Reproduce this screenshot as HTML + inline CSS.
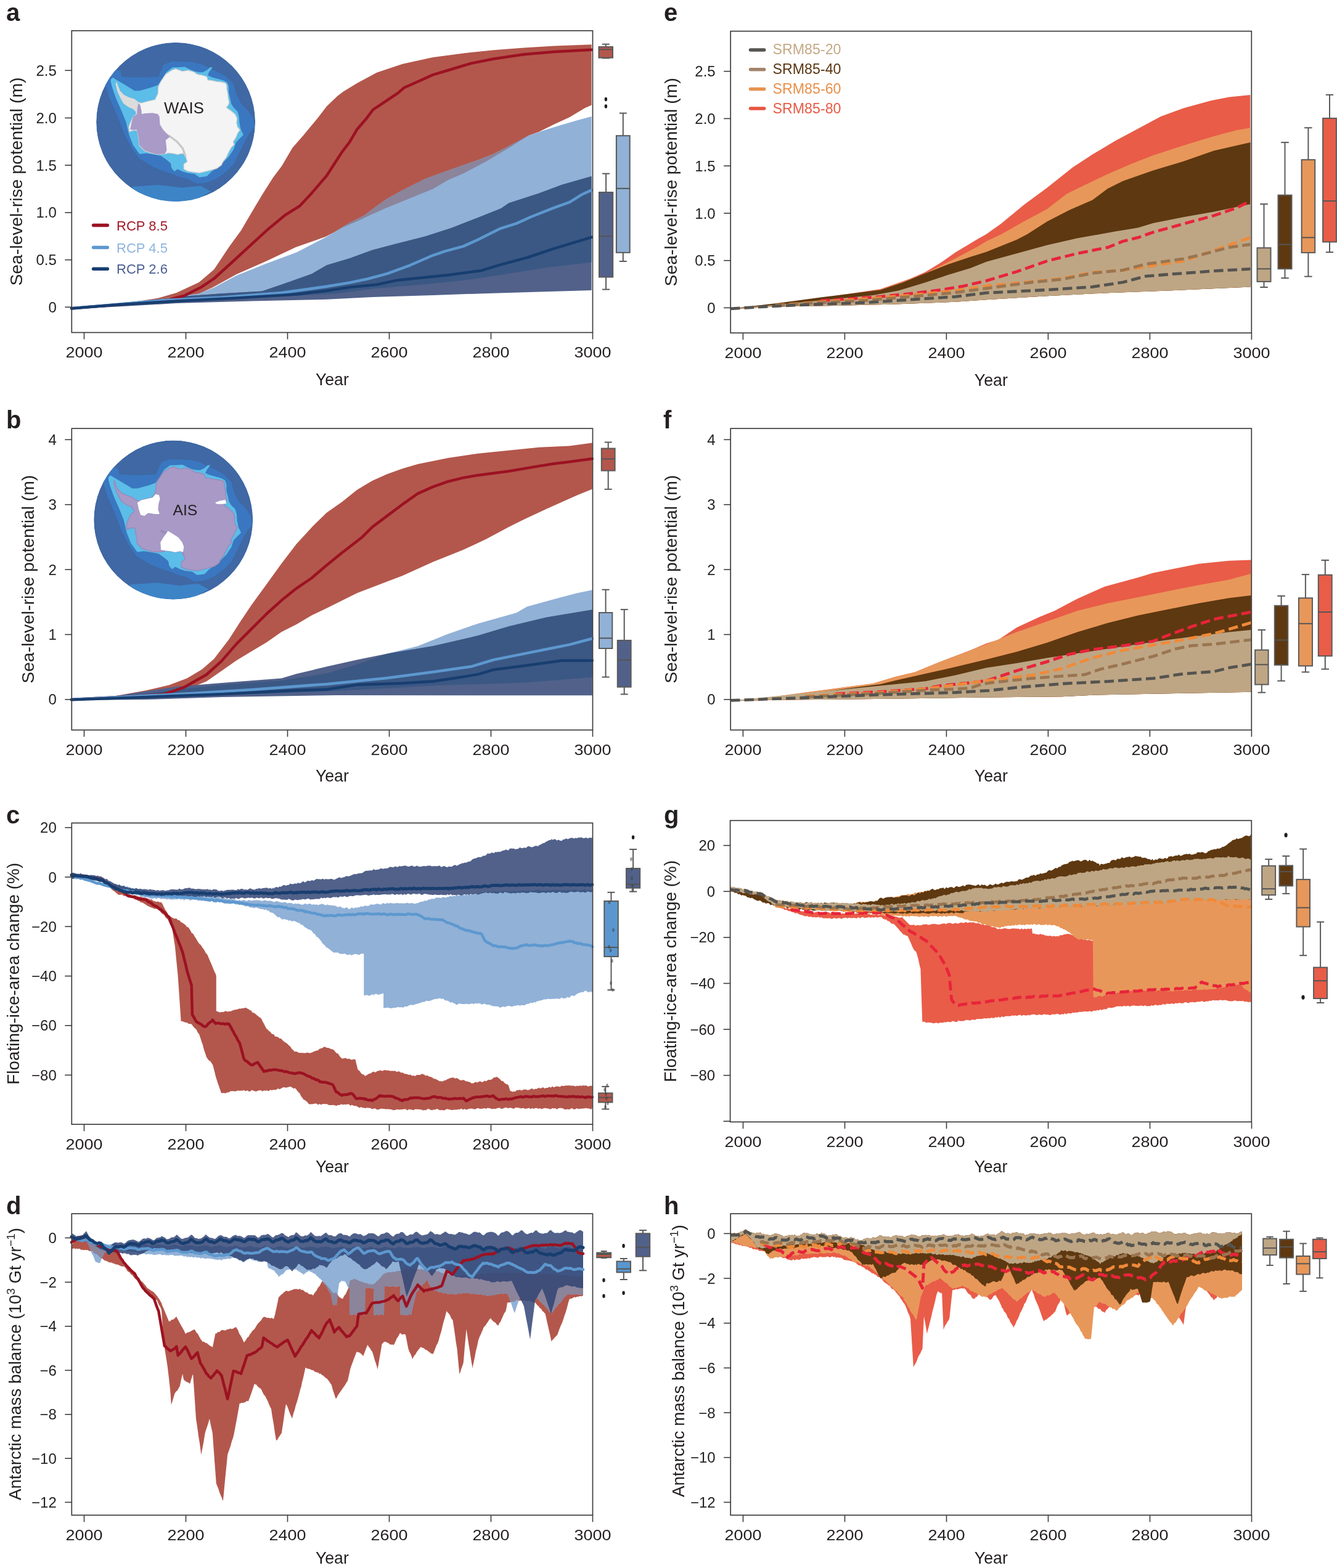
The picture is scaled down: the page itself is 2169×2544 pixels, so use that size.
<!DOCTYPE html><html><head><meta charset="utf-8"><title>Sea-level-rise potential figure</title>
<style>html,body{margin:0;padding:0;background:#fff;}svg{display:block;} text{font-family:'Liberation Sans', Arial, sans-serif;}</style></head><body>
<svg xmlns="http://www.w3.org/2000/svg" width="2169" height="2544" viewBox="0 0 2169 2544">
<rect width="2169" height="2544" fill="#fff"/>
<polygon points="116,500.3 176.8,495.8 218.2,489.7 257.2,483.6 286.4,475.1 322.9,458 347.2,437.3 371.5,400.8 391,374.1 408,345 425.6,315.5 442.7,288.6 457.3,269.1 474.3,239.9 491.4,220.4 515.8,191.1 530,172.5 547.2,155.9 557.1,148.5 579.2,134.9 611.2,117.7 653.1,103.7 702.3,93.1 751.6,86.4 800.8,81.3 850,77.6 899.3,74.6 959.6,72.2 959.6,170.6 948.5,175.6 923.9,190.3 899.3,201.4 874.7,213.7 857.4,219.9 825.4,240 788.5,262 751.6,281.4 727,292 702.3,306.5 677.7,316.5 653.1,326.5 628.5,336.5 603.9,347.5 579.2,359 554.6,369.5 541.8,377 528.3,384 480,401 432.4,423.5 383.7,445 344.8,466.4 322.9,476.6 286.4,481.8 200,494.5 116,500.6" fill="#b3574c" />
<polygon points="116,500.3 200,494 286.4,481.2 322.9,476.3 347.2,466.6 383.7,447.1 432.4,427.6 481,409.5 528.3,385 541.8,377 566.9,361.4 591.5,349.1 611.2,334.3 628.5,322 653.1,308.5 690,290 727,276.5 776.2,259.3 800.8,249.4 825.4,237.1 857.4,219.9 887,210 911.6,202.6 936.2,195.2 959.6,189.1 959.6,425.4 887,434 825.4,443.9 751.6,455 677.7,462.3 603.9,468.5 546,476.3 359.4,486 250,493 116,500.8" fill="#91b1d7" />
<clipPath id="c1"><polygon points="116,500.3 176.8,495.8 218.2,489.7 257.2,483.6 286.4,475.1 322.9,458 347.2,437.3 371.5,400.8 391,374.1 408,345 425.6,315.5 442.7,288.6 457.3,269.1 474.3,239.9 491.4,220.4 515.8,191.1 530,172.5 547.2,155.9 557.1,148.5 579.2,134.9 611.2,117.7 653.1,103.7 702.3,93.1 751.6,86.4 800.8,81.3 850,77.6 899.3,74.6 959.6,72.2 959.6,170.6 948.5,175.6 923.9,190.3 899.3,201.4 874.7,213.7 857.4,219.9 825.4,240 788.5,262 751.6,281.4 727,292 702.3,306.5 677.7,316.5 653.1,326.5 628.5,336.5 603.9,347.5 579.2,359 554.6,369.5 541.8,377 528.3,384 480,401 432.4,423.5 383.7,445 344.8,466.4 322.9,476.6 286.4,481.8 200,494.5 116,500.6"/></clipPath>
<polygon points="116,500.3 200,494 286.4,481.2 322.9,476.3 347.2,466.6 383.7,447.1 432.4,427.6 481,409.5 528.3,385 541.8,377 566.9,361.4 591.5,349.1 611.2,334.3 628.5,322 653.1,308.5 690,290 727,276.5 776.2,259.3 800.8,249.4 825.4,237.1 857.4,219.9 887,210 911.6,202.6 936.2,195.2 959.6,189.1 959.6,425.4 887,434 825.4,443.9 751.6,455 677.7,462.3 603.9,468.5 546,476.3 359.4,486 250,493 116,500.8" fill="#8b849b" clip-path="url(#c1)"/>
<polygon points="116,500.3 200,494.5 298.5,480.7 359.4,476.3 425.1,472.6 456.7,461.7 505.4,444.6 530,430.3 566.9,419.2 603.9,405.7 640.8,395.9 690,383.5 731.9,370 776.2,352.8 813.1,338 825.4,329.4 874.7,313.4 911.6,299.8 959.6,286 959.6,471 874.7,473.4 776.2,476.4 702.3,479.1 603.9,482 530,485.7 408,488.5 286.4,492.1 200,497 116,501.5" fill="#51618a" />
<clipPath id="c2"><polygon points="116,500.3 200,494 286.4,481.2 322.9,476.3 347.2,466.6 383.7,447.1 432.4,427.6 481,409.5 528.3,385 541.8,377 566.9,361.4 591.5,349.1 611.2,334.3 628.5,322 653.1,308.5 690,290 727,276.5 776.2,259.3 800.8,249.4 825.4,237.1 857.4,219.9 887,210 911.6,202.6 936.2,195.2 959.6,189.1 959.6,425.4 887,434 825.4,443.9 751.6,455 677.7,462.3 603.9,468.5 546,476.3 359.4,486 250,493 116,500.8"/></clipPath>
<polygon points="116,500.3 200,494.5 298.5,480.7 359.4,476.3 425.1,472.6 456.7,461.7 505.4,444.6 530,430.3 566.9,419.2 603.9,405.7 640.8,395.9 690,383.5 731.9,370 776.2,352.8 813.1,338 825.4,329.4 874.7,313.4 911.6,299.8 959.6,286 959.6,471 874.7,473.4 776.2,476.4 702.3,479.1 603.9,482 530,485.7 408,488.5 286.4,492.1 200,497 116,501.5" fill="#3b5884" clip-path="url(#c2)"/>
<polyline points="116,500.3 200,493.5 250,488.5 274.2,486 298.5,480 325.3,466.6 347.2,452 371.5,430 403.2,400.8 432.4,374.1 461.6,349.7 486.5,334 506,313 530,285 554.6,246.9 566.9,230.9 579.2,210 594,192.8 605.1,178 616.2,170.6 645.7,150.9 655.6,142.3 677.7,132.5 702.3,121.4 727,114 763.9,102.9 800.8,95.5 850,88.2 899.3,84 959.6,80.8" fill="none" stroke="#9c1222" stroke-width="4.5" stroke-linejoin="round" stroke-linecap="round" />
<polyline points="116,500.3 200,493 262,487.2 359.4,482.4 456.7,475.1 530,464.8 566.9,458.6 596.5,452.5 628.5,443.9 665.4,430.3 702.3,414.3 722,407.7 751.6,399.6 776.2,388.5 810.6,371.2 837.7,362.6 862.3,351.5 899.3,336.8 923.9,328.2 943.6,315.8 959.6,308.5" fill="none" stroke="#5d98cf" stroke-width="4.5" stroke-linejoin="round" stroke-linecap="round" />
<polyline points="116,500.6 189,494.5 286.4,488.5 383.7,483.6 481,477.5 530,471.7 566.9,466 611.2,461.8 645.7,454.4 677.7,451.2 727,446.3 781.1,438.9 813.1,429.1 855,418 899.3,403.2 959.6,384.8" fill="none" stroke="#183e70" stroke-width="4.5" stroke-linejoin="round" stroke-linecap="round" />
<line x1="982.8" y1="71.7" x2="982.8" y2="94.4" stroke="#5a5a5a" stroke-width="2"/>
<line x1="976.8" y1="71.7" x2="988.8" y2="71.7" stroke="#5a5a5a" stroke-width="2"/>
<line x1="976.8" y1="94.4" x2="988.8" y2="94.4" stroke="#5a5a5a" stroke-width="2"/>
<rect x="971.5" y="76" width="22.5" height="17.7" fill="#b3574c" stroke="#5a5a5a" stroke-width="2"/>
<line x1="971.5" y1="80.3" x2="994" y2="80.3" stroke="#555555" stroke-width="2"/>
<ellipse cx="982.9" cy="161.1" rx="2.2" ry="3.3" fill="#1e1e1e"/>
<ellipse cx="982.9" cy="172.5" rx="2.2" ry="3.3" fill="#1e1e1e"/>
<line x1="983.1" y1="281.7" x2="983.1" y2="469.6" stroke="#5a5a5a" stroke-width="2"/>
<line x1="977.1" y1="281.7" x2="989.1" y2="281.7" stroke="#5a5a5a" stroke-width="2"/>
<line x1="977.1" y1="469.6" x2="989.1" y2="469.6" stroke="#5a5a5a" stroke-width="2"/>
<rect x="972" y="312" width="22.2" height="137.5" fill="#51618a" stroke="#5a5a5a" stroke-width="2"/>
<line x1="972" y1="383.3" x2="994.2" y2="383.3" stroke="#555555" stroke-width="2"/>
<line x1="1010.8" y1="183.6" x2="1010.8" y2="424" stroke="#5a5a5a" stroke-width="2"/>
<line x1="1004.8" y1="183.6" x2="1016.8" y2="183.6" stroke="#5a5a5a" stroke-width="2"/>
<line x1="1004.8" y1="424" x2="1016.8" y2="424" stroke="#5a5a5a" stroke-width="2"/>
<rect x="999.9" y="220.2" width="21.8" height="189.6" fill="#91b1d7" stroke="#5a5a5a" stroke-width="2"/>
<line x1="999.9" y1="305.8" x2="1021.7" y2="305.8" stroke="#555555" stroke-width="2"/>
<line x1="151.6" y1="365.5" x2="174.3" y2="365.5" stroke="#9c1222" stroke-width="5.5" stroke-linecap="round"/>
<text x="189" y="373.5" font-size="22.5" fill="#a01a2a" text-anchor="start" font-weight="normal" textLength="83" lengthAdjust="spacingAndGlyphs">RCP 8.5</text>
<line x1="151.6" y1="401.5" x2="174.3" y2="401.5" stroke="#5d98cf" stroke-width="5.5" stroke-linecap="round"/>
<text x="189" y="409.5" font-size="22.5" fill="#8fb4de" text-anchor="start" font-weight="normal" textLength="83" lengthAdjust="spacingAndGlyphs">RCP 4.5</text>
<line x1="151.6" y1="436.3" x2="174.3" y2="436.3" stroke="#183e70" stroke-width="5.5" stroke-linecap="round"/>
<text x="189" y="444.3" font-size="22.5" fill="#4a5e92" text-anchor="start" font-weight="normal" textLength="83" lengthAdjust="spacingAndGlyphs">RCP 2.6</text>
<rect x="116.3" y="49.8" width="845.2" height="489.7" fill="none" stroke="#3c3c3c" stroke-width="1.7"/>
<line x1="105.3" y1="498.3" x2="116.3" y2="498.3" stroke="#3c3c3c" stroke-width="1.6"/>
<text x="91.8" y="506.8" font-size="24" fill="#231f20" text-anchor="end" font-weight="normal" >0</text>
<line x1="105.3" y1="421.6" x2="116.3" y2="421.6" stroke="#3c3c3c" stroke-width="1.6"/>
<text x="91.8" y="430.1" font-size="24" fill="#231f20" text-anchor="end" font-weight="normal" >0.5</text>
<line x1="105.3" y1="344.9" x2="116.3" y2="344.9" stroke="#3c3c3c" stroke-width="1.6"/>
<text x="91.8" y="353.4" font-size="24" fill="#231f20" text-anchor="end" font-weight="normal" >1.0</text>
<line x1="105.3" y1="268.1" x2="116.3" y2="268.1" stroke="#3c3c3c" stroke-width="1.6"/>
<text x="91.8" y="276.6" font-size="24" fill="#231f20" text-anchor="end" font-weight="normal" >1.5</text>
<line x1="105.3" y1="191.4" x2="116.3" y2="191.4" stroke="#3c3c3c" stroke-width="1.6"/>
<text x="91.8" y="199.9" font-size="24" fill="#231f20" text-anchor="end" font-weight="normal" >2.0</text>
<line x1="105.3" y1="114.3" x2="116.3" y2="114.3" stroke="#3c3c3c" stroke-width="1.6"/>
<text x="91.8" y="122.8" font-size="24" fill="#231f20" text-anchor="end" font-weight="normal" >2.5</text>
<line x1="136.5" y1="539.5" x2="136.5" y2="550.5" stroke="#3c3c3c" stroke-width="1.6"/>
<text x="136.5" y="580" font-size="24" fill="#231f20" text-anchor="middle" font-weight="normal" textLength="60" lengthAdjust="spacingAndGlyphs">2000</text>
<line x1="301.5" y1="539.5" x2="301.5" y2="550.5" stroke="#3c3c3c" stroke-width="1.6"/>
<text x="301.5" y="580" font-size="24" fill="#231f20" text-anchor="middle" font-weight="normal" textLength="60" lengthAdjust="spacingAndGlyphs">2200</text>
<line x1="466.5" y1="539.5" x2="466.5" y2="550.5" stroke="#3c3c3c" stroke-width="1.6"/>
<text x="466.5" y="580" font-size="24" fill="#231f20" text-anchor="middle" font-weight="normal" textLength="60" lengthAdjust="spacingAndGlyphs">2400</text>
<line x1="631.5" y1="539.5" x2="631.5" y2="550.5" stroke="#3c3c3c" stroke-width="1.6"/>
<text x="631.5" y="580" font-size="24" fill="#231f20" text-anchor="middle" font-weight="normal" textLength="60" lengthAdjust="spacingAndGlyphs">2600</text>
<line x1="796.5" y1="539.5" x2="796.5" y2="550.5" stroke="#3c3c3c" stroke-width="1.6"/>
<text x="796.5" y="580" font-size="24" fill="#231f20" text-anchor="middle" font-weight="normal" textLength="60" lengthAdjust="spacingAndGlyphs">2800</text>
<line x1="961.5" y1="539.5" x2="961.5" y2="550.5" stroke="#3c3c3c" stroke-width="1.6"/>
<text x="961.5" y="580" font-size="24" fill="#231f20" text-anchor="middle" font-weight="normal" textLength="60" lengthAdjust="spacingAndGlyphs">3000</text>
<text x="538.9" y="625" font-size="27.5" fill="#231f20" text-anchor="middle" font-weight="normal" textLength="54" lengthAdjust="spacingAndGlyphs">Year</text>
<text x="0" y="0" font-size="28" fill="#231f20" text-anchor="middle" transform="translate(35.6,294.6) rotate(-90)" textLength="338" lengthAdjust="spacingAndGlyphs">Sea-level-rise potential (m)</text>
<text x="10" y="33.5" font-size="40" fill="#231f20" text-anchor="start" font-weight="bold" >a</text>
<polygon points="116,1134.9 176.8,1131 237.7,1120.1 274.2,1111.6 303.4,1100.6 327.7,1086 347.2,1069 371.5,1037.3 388.6,1010.6 408,981.4 432.4,948 456.7,914.2 481,882.5 510.2,850.9 530,831.7 554.6,814.5 579.2,794.8 603.9,780 628.5,768.9 653.1,760.3 677.7,752.9 727,743.1 776.2,735.7 825.4,730.8 874.7,725.8 923.9,723.4 960.8,718.5 960.8,793.5 936.2,803.4 911.6,814.5 887,825.6 850,842.8 825.4,855.1 788.5,874.8 751.6,892 702.3,911.7 653.1,933.9 611.2,950.1 579.2,962.2 554.6,974.5 530,986.8 505.4,998.4 481,1013 456.7,1025.2 432.4,1042.2 408,1056.8 383.7,1071.4 359.4,1088.5 335,1105.5 310.7,1115.2 286.4,1122 237.7,1131 116,1135.3" fill="#b3574c" />
<polygon points="116,1134.9 237.7,1125 359.4,1111 456.7,1104 530,1092.6 579.2,1077.9 628.5,1060.6 677.7,1048.3 727,1028.6 776.2,1011.4 837.7,994.2 855,984.3 899.3,972 936.2,962.2 960.8,957.2 960.8,1098.8 899.3,1103.7 850,1107.4 776.2,1109.9 702.3,1112.3 628.5,1116.8 530,1121.7 359.4,1128 237.7,1133 116,1135.2" fill="#91b1d7" />
<clipPath id="c3"><polygon points="116,1134.9 176.8,1131 237.7,1120.1 274.2,1111.6 303.4,1100.6 327.7,1086 347.2,1069 371.5,1037.3 388.6,1010.6 408,981.4 432.4,948 456.7,914.2 481,882.5 510.2,850.9 530,831.7 554.6,814.5 579.2,794.8 603.9,780 628.5,768.9 653.1,760.3 677.7,752.9 727,743.1 776.2,735.7 825.4,730.8 874.7,725.8 923.9,723.4 960.8,718.5 960.8,793.5 936.2,803.4 911.6,814.5 887,825.6 850,842.8 825.4,855.1 788.5,874.8 751.6,892 702.3,911.7 653.1,933.9 611.2,950.1 579.2,962.2 554.6,974.5 530,986.8 505.4,998.4 481,1013 456.7,1025.2 432.4,1042.2 408,1056.8 383.7,1071.4 359.4,1088.5 335,1105.5 310.7,1115.2 286.4,1122 237.7,1131 116,1135.3"/></clipPath>
<polygon points="116,1134.9 237.7,1125 359.4,1111 456.7,1104 530,1092.6 579.2,1077.9 628.5,1060.6 677.7,1048.3 727,1028.6 776.2,1011.4 837.7,994.2 855,984.3 899.3,972 936.2,962.2 960.8,957.2 960.8,1098.8 899.3,1103.7 850,1107.4 776.2,1109.9 702.3,1112.3 628.5,1116.8 530,1121.7 359.4,1128 237.7,1133 116,1135.2" fill="#8b849b" clip-path="url(#c3)"/>
<polygon points="116,1134.7 176.8,1131 237.7,1121.3 286.4,1114 359.4,1107.9 456.7,1100.6 481,1093.3 530,1081.6 579.2,1070.5 628.5,1060.6 702.3,1048.3 776.2,1031.1 825.4,1016.3 887,1001.5 960.8,989.2 960.8,1128.3 546,1128 359.4,1131 237.7,1135 116,1136" fill="#51618a" />
<clipPath id="c4"><polygon points="116,1134.9 237.7,1125 359.4,1111 456.7,1104 530,1092.6 579.2,1077.9 628.5,1060.6 677.7,1048.3 727,1028.6 776.2,1011.4 837.7,994.2 855,984.3 899.3,972 936.2,962.2 960.8,957.2 960.8,1098.8 899.3,1103.7 850,1107.4 776.2,1109.9 702.3,1112.3 628.5,1116.8 530,1121.7 359.4,1128 237.7,1133 116,1135.2"/></clipPath>
<polygon points="116,1134.7 176.8,1131 237.7,1121.3 286.4,1114 359.4,1107.9 456.7,1100.6 481,1093.3 530,1081.6 579.2,1070.5 628.5,1060.6 702.3,1048.3 776.2,1031.1 825.4,1016.3 887,1001.5 960.8,989.2 960.8,1128.3 546,1128 359.4,1131 237.7,1135 116,1136" fill="#3b5884" clip-path="url(#c4)"/>
<polyline points="116,1135 237.7,1128.6 266.9,1126.2 298.5,1115.2 335,1094.5 359.4,1072.6 383.7,1044.6 408,1020.3 432.4,996 456.7,974.1 481,954.6 505.4,938 530,917 554.6,897 586.6,872.3 603.9,855.1 628.5,836.6 653.1,818.2 677.7,800.9 702.3,789.9 727,781.2 751.6,775.1 776.2,770.9 825.4,764.5 874.7,756.1 899.3,752.2 923.9,749.2 960.8,744.3" fill="none" stroke="#9c1222" stroke-width="4.5" stroke-linejoin="round" stroke-linecap="round" />
<polyline points="116,1135 310.7,1125 408,1118.9 530,1109.9 628.5,1100 702.3,1090.2 763.9,1081.6 800.8,1070.5 837.7,1063.1 887,1053.2 923.9,1045.9 960.8,1036" fill="none" stroke="#5d98cf" stroke-width="4.5" stroke-linejoin="round" stroke-linecap="round" />
<polyline points="116,1135.3 237.7,1131 359.4,1126.2 481,1120.1 530,1118.5 579.2,1111.1 653.1,1108.6 702.3,1105.4 739.3,1100 776.2,1093.9 800.8,1086.5 850,1080.3 911.6,1071.7 960.8,1071.7" fill="none" stroke="#183e70" stroke-width="4.5" stroke-linejoin="round" stroke-linecap="round" />
<line x1="986.7" y1="717.5" x2="986.7" y2="793.8" stroke="#5a5a5a" stroke-width="2"/>
<line x1="980.7" y1="717.5" x2="992.7" y2="717.5" stroke="#5a5a5a" stroke-width="2"/>
<line x1="980.7" y1="793.8" x2="992.7" y2="793.8" stroke="#5a5a5a" stroke-width="2"/>
<rect x="975.8" y="727.6" width="21.8" height="36" fill="#b3574c" stroke="#5a5a5a" stroke-width="2"/>
<line x1="975.8" y1="744.6" x2="997.6" y2="744.6" stroke="#555555" stroke-width="2"/>
<line x1="982.6" y1="956.7" x2="982.6" y2="1098.5" stroke="#5a5a5a" stroke-width="2"/>
<line x1="976.6" y1="956.7" x2="988.6" y2="956.7" stroke="#5a5a5a" stroke-width="2"/>
<line x1="976.6" y1="1098.5" x2="988.6" y2="1098.5" stroke="#5a5a5a" stroke-width="2"/>
<rect x="972" y="994" width="21.3" height="58" fill="#91b1d7" stroke="#5a5a5a" stroke-width="2"/>
<line x1="972" y1="1035.4" x2="993.3" y2="1035.4" stroke="#555555" stroke-width="2"/>
<line x1="1012.7" y1="988.9" x2="1012.7" y2="1126.4" stroke="#5a5a5a" stroke-width="2"/>
<line x1="1006.7" y1="988.9" x2="1018.7" y2="988.9" stroke="#5a5a5a" stroke-width="2"/>
<line x1="1006.7" y1="1126.4" x2="1018.7" y2="1126.4" stroke="#5a5a5a" stroke-width="2"/>
<rect x="1001.8" y="1039" width="21.8" height="75.6" fill="#51618a" stroke="#5a5a5a" stroke-width="2"/>
<line x1="1001.8" y1="1070.9" x2="1023.6" y2="1070.9" stroke="#555555" stroke-width="2"/>
<rect x="116.3" y="695.2" width="845.2" height="489.2" fill="none" stroke="#3c3c3c" stroke-width="1.7"/>
<line x1="105.3" y1="1134.9" x2="116.3" y2="1134.9" stroke="#3c3c3c" stroke-width="1.6"/>
<text x="91.8" y="1143.4" font-size="24" fill="#231f20" text-anchor="end" font-weight="normal" >0</text>
<line x1="105.3" y1="1029.5" x2="116.3" y2="1029.5" stroke="#3c3c3c" stroke-width="1.6"/>
<text x="91.8" y="1038" font-size="24" fill="#231f20" text-anchor="end" font-weight="normal" >1</text>
<line x1="105.3" y1="924.1" x2="116.3" y2="924.1" stroke="#3c3c3c" stroke-width="1.6"/>
<text x="91.8" y="932.6" font-size="24" fill="#231f20" text-anchor="end" font-weight="normal" >2</text>
<line x1="105.3" y1="818.7" x2="116.3" y2="818.7" stroke="#3c3c3c" stroke-width="1.6"/>
<text x="91.8" y="827.2" font-size="24" fill="#231f20" text-anchor="end" font-weight="normal" >3</text>
<line x1="105.3" y1="713.3" x2="116.3" y2="713.3" stroke="#3c3c3c" stroke-width="1.6"/>
<text x="91.8" y="721.8" font-size="24" fill="#231f20" text-anchor="end" font-weight="normal" >4</text>
<line x1="136.5" y1="1184.4" x2="136.5" y2="1195.4" stroke="#3c3c3c" stroke-width="1.6"/>
<text x="136.5" y="1224.9" font-size="24" fill="#231f20" text-anchor="middle" font-weight="normal" textLength="60" lengthAdjust="spacingAndGlyphs">2000</text>
<line x1="301.5" y1="1184.4" x2="301.5" y2="1195.4" stroke="#3c3c3c" stroke-width="1.6"/>
<text x="301.5" y="1224.9" font-size="24" fill="#231f20" text-anchor="middle" font-weight="normal" textLength="60" lengthAdjust="spacingAndGlyphs">2200</text>
<line x1="466.5" y1="1184.4" x2="466.5" y2="1195.4" stroke="#3c3c3c" stroke-width="1.6"/>
<text x="466.5" y="1224.9" font-size="24" fill="#231f20" text-anchor="middle" font-weight="normal" textLength="60" lengthAdjust="spacingAndGlyphs">2400</text>
<line x1="631.5" y1="1184.4" x2="631.5" y2="1195.4" stroke="#3c3c3c" stroke-width="1.6"/>
<text x="631.5" y="1224.9" font-size="24" fill="#231f20" text-anchor="middle" font-weight="normal" textLength="60" lengthAdjust="spacingAndGlyphs">2600</text>
<line x1="796.5" y1="1184.4" x2="796.5" y2="1195.4" stroke="#3c3c3c" stroke-width="1.6"/>
<text x="796.5" y="1224.9" font-size="24" fill="#231f20" text-anchor="middle" font-weight="normal" textLength="60" lengthAdjust="spacingAndGlyphs">2800</text>
<line x1="961.5" y1="1184.4" x2="961.5" y2="1195.4" stroke="#3c3c3c" stroke-width="1.6"/>
<text x="961.5" y="1224.9" font-size="24" fill="#231f20" text-anchor="middle" font-weight="normal" textLength="60" lengthAdjust="spacingAndGlyphs">3000</text>
<text x="538.9" y="1267.5" font-size="27.5" fill="#231f20" text-anchor="middle" font-weight="normal" textLength="54" lengthAdjust="spacingAndGlyphs">Year</text>
<text x="0" y="0" font-size="28" fill="#231f20" text-anchor="middle" transform="translate(54.9,939.8) rotate(-90)" textLength="338" lengthAdjust="spacingAndGlyphs">Sea-level-rise potential (m)</text>
<text x="10" y="695" font-size="40" fill="#231f20" text-anchor="start" font-weight="bold" >b</text>
<clipPath id="m5"><circle cx="285.1" cy="197.9" r="129"/></clipPath>
<g clip-path="url(#m5)">
<circle cx="285.1" cy="197.9" r="129" fill="#3f68a4"/>
<g transform="translate(149.5,64.7) scale(0.15281)">
<polygon points="120,330 200,300 300,330 314,391 500,400 703,391 760,260 850,230 1061,235 1165,261 1321,334 1424,391 1502,469 1528,572 1580,676 1658,754 1709,832 1725,918 1658,1008 1606,1112 1554,1215 1502,1319 1424,1397 1321,1475 1217,1516 1113,1527 1010,1475 906,1449 854,1423 780,1400 650,1350 500,1260 420,1148 347,1009 292,870 236,731 186,620 142,481 100,430" fill="#3a77c0"/>
<polygon points="420,1560 700,1540 950,1570 1150,1550 1260,1610 1100,1700 800,1730 520,1700" fill="#3d84c7"/>
<polygon points="200,417 221,400 260,425 336,470 420,520 448,540 503,540 614,509 697,481 740,420 790,340 854,292 906,292 984,287 1035,313 1087,334 1139,344 1175,344 1217,323 1253,292 1279,292 1243,339 1227,375 1269,396 1347,417 1398,432 1435,453 1450,495 1450,562 1466,624 1476,676 1502,718 1543,759 1559,811 1564,883 1580,956 1606,1008 1528,1086 1502,1164 1450,1241 1398,1293 1347,1345 1269,1397 1217,1449 1139,1459 1087,1423 1010,1413 958,1397 906,1371 874,1397 843,1361 833,1309 781,1267 729,1231 651,1216 574,1205 503,1213 436,1120 392,1009 359,870 314,759 253,620 214,509 197,440" fill="#5bbde8"/>
<polygon points="259,453 292,542 336,587 392,614 448,631 492,664 522,671 600,650 667,635 698,572 703,495 729,443 781,365 843,324 885,308 958,334 1020,323 1087,344 1113,365 1165,375 1217,391 1227,427 1269,432 1321,443 1372,448 1414,458 1429,484 1429,521 1440,572 1445,624 1455,666 1445,692 1424,718 1476,754 1518,790 1538,832 1533,883 1543,925 1569,956 1543,993 1528,1034 1497,1081 1507,1112 1476,1143 1450,1190 1424,1247 1388,1293 1372,1330 1321,1366 1243,1387 1139,1413 1061,1402 1010,1392 973,1371 973,1319 1010,1293 999,1257 989,1216 958,1205 906,1216 854,1205 807,1200 770,1213 670,1213 559,1180 503,1125 492,1040 478,960 440,958 395,975 390,925 405,880 420,850 436,814 470,787 464,759 436,731 392,714 336,675 300,610 270,542 253,470" fill="#f4f4f4" stroke="#d0d0d0" stroke-width="8"/>
<polygon points="259,453 292,542 336,587 392,614 448,631 492,664 500,700 470,787 464,759 436,731 392,714 336,675 300,610 270,542 253,470" fill="#dcdcdc"/>
<polyline points="760,990 820,1020 900,1080 960,1150 990,1230" fill="none" stroke="#c8c8c8" stroke-width="22" stroke-linecap="round"/>
<polygon points="492,670 510,690 525,759 525,787 559,781 642,775 697,787 714,814 720,898 753,953 825,1031 781,1064 792,1175 770,1213 670,1213 559,1175 503,1120 492,1036 475,953 440,955 403,953 420,870 436,814 475,790 480,720" fill="#a99ac7"/>
</g></g>
<text x="298.5" y="183.8" font-size="25.5" fill="#231f20" text-anchor="middle" font-weight="normal" textLength="65" lengthAdjust="spacingAndGlyphs">WAIS</text>
<clipPath id="m6"><circle cx="281.2" cy="843.4" r="129"/></clipPath>
<g clip-path="url(#m6)">
<circle cx="281.2" cy="843.4" r="129" fill="#3f68a4"/>
<g transform="translate(145.7,710.1) scale(0.15281)">
<polygon points="120,330 200,300 300,330 314,391 500,400 703,391 760,260 850,230 1061,235 1165,261 1321,334 1424,391 1502,469 1528,572 1580,676 1658,754 1709,832 1725,918 1658,1008 1606,1112 1554,1215 1502,1319 1424,1397 1321,1475 1217,1516 1113,1527 1010,1475 906,1449 854,1423 780,1400 650,1350 500,1260 420,1148 347,1009 292,870 236,731 186,620 142,481 100,430" fill="#3a77c0"/>
<polygon points="420,1560 700,1540 950,1570 1150,1550 1260,1610 1100,1700 800,1730 520,1700" fill="#3d84c7"/>
<polygon points="200,417 221,400 260,425 336,470 420,520 448,540 503,540 614,509 697,481 740,420 790,340 854,292 906,292 984,287 1035,313 1087,334 1139,344 1175,344 1217,323 1253,292 1279,292 1243,339 1227,375 1269,396 1347,417 1398,432 1435,453 1450,495 1450,562 1466,624 1476,676 1502,718 1543,759 1559,811 1564,883 1580,956 1606,1008 1528,1086 1502,1164 1450,1241 1398,1293 1347,1345 1269,1397 1217,1449 1139,1459 1087,1423 1010,1413 958,1397 906,1371 874,1397 843,1361 833,1309 781,1267 729,1231 651,1216 574,1205 503,1213 436,1120 392,1009 359,870 314,759 253,620 214,509 197,440" fill="#5bbde8"/>
<polygon points="259,453 292,542 336,587 392,614 448,631 492,664 522,671 600,650 667,635 698,572 703,495 729,443 781,365 843,324 885,308 958,334 1020,323 1087,344 1113,365 1165,375 1217,391 1227,427 1269,432 1321,443 1372,448 1414,458 1429,484 1429,521 1440,572 1445,624 1455,666 1445,692 1424,718 1476,754 1518,790 1538,832 1533,883 1543,925 1569,956 1543,993 1528,1034 1497,1081 1507,1112 1476,1143 1450,1190 1424,1247 1388,1293 1372,1330 1321,1366 1243,1387 1139,1413 1061,1402 1010,1392 973,1371 973,1319 1010,1293 999,1257 989,1216 958,1205 906,1216 854,1205 807,1200 770,1213 670,1213 559,1180 503,1125 492,1040 478,960 440,958 395,975 390,925 405,880 420,850 436,814 470,787 464,759 436,731 392,714 336,675 300,610 270,542 253,470" fill="#a899c6" stroke="#9888b6" stroke-width="8"/>
<polyline points="760,990 820,1020 900,1080 960,1150 990,1230" fill="none" stroke="#9a8ab8" stroke-width="22" stroke-linecap="round"/>
<polygon points="505,690 540,665 600,650 667,635 698,600 735,610 745,650 730,700 724,760 740,810 690,810 620,800 580,830 540,820 520,760" fill="#ffffff"/>
<polygon points="755,1190 750,1110 781,1060 830,990 880,1020 940,1060 980,1110 999,1160 989,1216 958,1205 906,1216 854,1205 807,1200" fill="#ffffff"/>
<polygon points="1330,690 1380,670 1440,660 1450,700 1400,705 1350,705" fill="#ffffff"/>
</g></g>
<text x="300.4" y="835.6" font-size="24" fill="#231f20" text-anchor="middle" font-weight="normal" textLength="40" lengthAdjust="spacingAndGlyphs">AIS</text>
<polygon points="116,1419.6 118.5,1419.5 121,1421 123.5,1419.9 126,1421.3 128.5,1421.2 131,1420.8 133.5,1422.2 136,1421.4 138.5,1422.6 141,1422 143.5,1422.4 146,1423.5 148.5,1424.8 151,1423.4 153.5,1424 156,1425.2 158.5,1426.3 161,1425.7 163.5,1425.6 164.7,1427.1 166,1426 168.5,1430.1 171,1430.9 172,1431.4 173.5,1432.3 176,1434.2 178.5,1436.9 181,1436.8 183.5,1439.2 186,1440.8 188.5,1441.7 191,1443.5 193.5,1443.8 196,1445.3 198.5,1447.1 201,1449.7 201.2,1449.2 203.5,1449.4 206,1450.6 208.5,1450.7 211,1450.9 213.5,1452.5 216,1452.8 218.5,1452.2 221,1453.5 223.5,1453.9 225.5,1455.1 226,1454.9 228.5,1454.6 231,1457 233.5,1455.7 236,1457.2 238.5,1458.8 241,1458.1 243.5,1459.6 246,1459.3 248.5,1461.6 249.9,1462.2 251,1462 253.5,1463.2 256,1462.4 258.5,1463.8 261,1464 262,1464.2 263.5,1466.6 266,1472 268.5,1476.7 271,1480.1 273.5,1485 274.2,1484.8 276,1487.1 278.5,1488 281,1489.8 283.5,1490.4 286,1490.1 286.4,1490.5 288.5,1492.8 291,1493.1 293.5,1496.1 296,1497.2 298.5,1499 301,1500.7 303.5,1504.3 305.8,1504.5 306,1505.1 308.5,1509 311,1513.7 313.5,1515.3 316,1519.8 318.5,1523.6 321,1527.9 322.9,1530.5 323.5,1531.4 326,1533.5 328.5,1537.4 331,1540.7 333.5,1545.5 335,1547.8 336,1548.1 338.5,1553.9 341,1559.7 343.5,1565.4 346,1571.8 348.5,1577.7 349.6,1579.4 350.8,1583.5 350.8,1640.5 351,1640.4 353.5,1641.2 356,1642.5 358.5,1642.2 359.4,1641.9 361,1641.9 363.5,1641.7 366,1639.9 368.5,1641.5 371,1640.9 373.5,1640.7 376,1640.2 378.5,1638.8 381,1638.5 383.5,1637.4 383.7,1638.6 386,1636.9 388.5,1636.4 391,1636.4 393.5,1635.8 396,1635.8 398.3,1634.7 398.5,1634.7 401,1636.3 403.5,1637.5 406,1639.4 408,1639.6 408.5,1642 411,1643.3 413.5,1644.2 416,1646.4 418.5,1648.6 421,1650.6 423.5,1651.9 425.1,1654.9 426,1657.2 428.5,1661.4 431,1666.8 432.4,1668.9 433.5,1669.8 436,1672.4 438.5,1674.2 441,1677.6 443.5,1678 444.5,1678.5 446,1681.5 448.5,1682 451,1682.5 453.5,1684.9 456,1685.1 458.5,1687.7 461,1690.2 461.6,1690.3 463.5,1691.8 466,1693.2 468.5,1696 471,1698 473.5,1702 476,1703.9 478.5,1707 478.6,1706 481,1706 483.5,1707.6 486,1708.3 488.5,1708.2 491,1708.3 493.5,1708.6 496,1708.6 498.5,1707.6 501,1708.5 503.5,1708.4 505.4,1707.8 506,1707.4 508.5,1706.6 511,1705.2 513.5,1704.8 516,1704 518.5,1701.4 521,1701.1 523.5,1699.9 524.9,1699 526,1698.2 528.5,1699.1 530,1699.9 531,1700 533.5,1700.3 536,1701.6 538.5,1702.6 539.8,1702.6 541,1703 543.5,1705.9 546,1708.7 548.5,1709.5 551,1713.4 553.5,1716.5 554.6,1717.3 556,1717.4 558.5,1717 561,1716.5 563.5,1718.3 566,1717.4 568.5,1718.8 571,1719.5 573.5,1718.4 576,1718.7 576.8,1720.1 578.5,1727.4 580.5,1735.4 581,1735.7 583.5,1737.7 586,1741.5 588.5,1743.3 591,1743.7 591.5,1745.7 593.5,1745.3 596,1743.7 598.5,1742.1 601,1741.7 603.5,1739.8 606,1738.6 608.5,1740 611,1738.4 613.5,1737.2 616,1737.3 616.2,1736 618.5,1737.3 621,1737.4 623.5,1736.1 626,1736.4 628.5,1736.7 631,1736.7 633.5,1737.8 636,1737.2 638.5,1737.7 641,1737.3 643.5,1739.3 646,1738.2 648.2,1738.6 648.5,1739 651,1740.6 653.5,1740.3 656,1742.3 658.5,1742.2 661,1743.1 663.5,1743.9 666,1743.5 668.5,1745.4 670.3,1745.3 671,1744.7 673.5,1746 676,1743.9 678.5,1744 681,1744 683.5,1742.9 685.1,1742 686,1742.8 688.5,1743.8 691,1745.4 693.5,1744.7 696,1746.7 698.5,1746.9 701,1748 703.5,1750.1 706,1750.5 708.5,1751.5 711,1753 713.5,1754.3 716,1754.1 717.1,1755 718.5,1754.1 721,1753.1 723.5,1752.4 726,1750.8 728.5,1749.9 731,1748.7 733.5,1748.7 734.3,1747.8 736,1748.8 738.5,1749.8 741,1749 743.5,1750.5 746,1752.3 748.5,1752.9 751,1752 753.5,1752.8 756,1754.4 758.5,1754.4 761,1755.6 763.5,1756 763.9,1757.6 766,1757.6 768.5,1757.5 771,1755.3 773.5,1756.3 776,1755.8 778.5,1754.1 781,1755.5 783.5,1755.4 786,1753.2 788.5,1754.6 791,1752.4 793.5,1751.7 796,1752 798.5,1750.7 801,1748.2 803.5,1747.9 805.7,1747.3 806,1747.1 808.5,1748.7 811,1750.8 813.5,1753.7 816,1753.9 818.5,1757 821,1758.7 823.5,1759.5 825.4,1761.7 826,1764.5 827.9,1770.7 828.5,1769.6 831,1771.5 833.5,1770.8 836,1771 838.5,1768.6 841,1768.8 843.5,1768 846,1769.5 848.5,1768 851,1767.4 853.5,1767.8 856,1768.7 858.5,1768.3 861,1766.7 863.5,1766.1 866,1767.7 868.5,1766.6 871,1766.7 873.5,1764.9 874.7,1764.7 876,1766.1 878.5,1765.2 881,1764.1 883.5,1766 886,1765 888.5,1765.1 891,1763.2 893.5,1764.8 896,1762.6 898.5,1764.3 901,1763.1 903.5,1762.5 906,1762.8 908.5,1763.4 911,1761.6 911.6,1761.2 913.5,1762.2 916,1761.5 918.5,1761.2 921,1761.3 923.5,1761 926,1761.4 928.5,1761.6 931,1761.6 933.5,1762.7 936,1761.6 938.5,1762.1 941,1761.3 943.5,1761.7 946,1760.9 948.5,1761.5 951,1760.9 953.5,1762.7 956,1762.2 958.5,1761.4 960.8,1762 960.8,1798.1 958.5,1800.1 956,1798.6 953.5,1798.5 951,1797.8 948.5,1798.2 946,1798.6 943.5,1798.7 941,1798.7 938.5,1799.4 936,1797.9 933.5,1799.6 931,1800 928.5,1798.2 926,1798.6 923.9,1800 923.5,1800.2 921,1799.5 918.5,1799.9 916,1799.9 913.5,1798.6 911,1797.8 908.5,1797.7 906,1797.9 903.5,1799.9 901,1798 898.5,1798.4 896,1797.8 893.5,1799.7 891,1799 888.5,1798.4 886,1797.9 883.5,1797.8 881,1798.5 878.5,1799.5 876,1797.9 873.5,1799 871,1797.7 868.5,1797.7 866,1799.1 863.5,1797.8 861,1799.4 858.5,1797.5 856,1798.2 853.5,1798.7 851,1798.8 848.5,1797.4 846,1798.5 843.5,1797.8 841,1797.6 838.5,1796.8 836,1797.3 833.5,1798.9 831,1798.3 828.5,1797.3 826,1797.6 825.4,1798.2 823.5,1797.8 821,1796.8 818.5,1797.5 816,1798.5 813.5,1799.2 811,1797.6 808.5,1797.6 806,1798.2 803.5,1799.3 801,1798.8 798.5,1799.6 796,1798.5 793.5,1798.1 791,1797.5 788.5,1799 786,1798.1 783.5,1798.6 781,1799.1 778.5,1799.1 776,1798 773.5,1798.2 771,1799.7 768.5,1799.6 766,1798.7 763.5,1798.5 761,1799 758.5,1799.8 756,1800.6 753.5,1799 751,1800.4 748.5,1798.6 746,1799.9 743.5,1799.8 741,1800.6 738.5,1800.4 736,1800.6 733.5,1801.2 731,1800.6 728.5,1800.3 727,1799.5 726,1799.4 723.5,1799.7 721,1801.4 718.5,1801.2 716,1801.1 713.5,1801.3 711,1800 708.5,1799.1 706,1800.5 703.5,1800.2 701,1801.2 698.5,1800.8 696,1799.2 693.5,1799.2 691,1801.2 688.5,1801.1 686,1801.4 683.5,1800.2 681,1800.1 678.5,1799.7 676,1799.8 673.5,1799.6 671,1801.2 668.5,1800.6 666,1800.3 663.5,1799.4 661,1801.4 658.5,1799.8 656,1799.2 653.5,1799.9 651,1800 648.5,1800.4 646,1800.1 643.5,1800.1 641,1800.9 638.5,1801.2 636,1800.5 633.5,1799.7 631,1799.7 628.5,1799.3 626,1799.8 623.5,1799 621,1799.1 618.5,1798.8 616,1799.3 613.5,1800.5 611,1800.1 608.5,1798.3 606,1798.8 603.5,1799.6 601,1797.7 598.5,1797.5 596,1797.3 593.5,1797.7 591.5,1797.9 591,1797.2 588.5,1797.5 586,1796.1 583.5,1797.3 581,1796.2 578.5,1794.6 576,1794.2 573.5,1794 571,1792.6 568.5,1794 566,1791.4 563.5,1791.4 562,1791.9 561,1792.3 558.5,1791.7 556,1792.6 553.5,1791.2 551,1793 548.5,1792.7 546,1793.9 543.5,1793.6 541,1792.7 538.5,1793 536,1793 533.5,1793 531,1791.4 529.7,1790.9 528.5,1791.6 526,1791 523.5,1791 521,1792.6 518.5,1791.1 516,1792.4 513.5,1790.6 511,1790.5 508.5,1791.1 506,1791.4 503.5,1791.3 503,1791.8 501,1791.3 498.5,1788 496,1786.1 493.5,1784 493.2,1785.3 491,1781.7 488.5,1778.8 486,1773.4 483.5,1771.6 481,1767.9 478.5,1765.2 476,1766.2 473.5,1764 471.3,1763.2 471,1762.8 468.5,1763.6 466,1764.3 463.5,1764.8 461,1764 458.5,1764.5 456,1766 453.5,1767.3 451,1766.1 448.5,1767.7 446,1768.5 443.5,1768 441,1769.1 438.5,1767.9 436,1770.2 433.5,1769.6 432.4,1768.8 431,1769.9 428.5,1769 426,1770.8 423.5,1769 421,1769.1 418.5,1769.6 416,1770.8 413.5,1770.5 411,1769.6 408.5,1768.5 406,1770.7 403.5,1770.8 401,1769 398.5,1770.6 396,1768.8 393.5,1769.6 391,1769.6 388.5,1769.7 386,1769.2 383.7,1770.1 383.5,1770.2 381,1770.7 378.5,1770.2 376,1770.2 373.5,1770.6 371,1772.4 368.5,1772.3 366,1773.9 363.5,1773.2 361,1773.4 359.4,1773.6 358.5,1772.3 356,1764.8 353.5,1757.7 351,1750 349.6,1745.3 348.5,1740.6 346,1730.8 344.8,1727 343.5,1725.2 341,1721.4 338.5,1720.2 336,1716.6 335,1715.2 333.5,1710.6 331,1703.4 328.5,1693.4 327.7,1692.2 326,1686.7 323.5,1679 322.9,1677.8 321,1675.5 318.5,1670.3 316,1668.2 313.5,1665.5 311,1662.1 310.7,1661.7 308.5,1661.1 306,1661.2 303.5,1658.9 301,1659 298.5,1657.9 296,1657.1 293.7,1657.1 293.5,1655.2 291,1618.1 288.8,1585.9 288.5,1582.1 286,1557 283.9,1535.3 283.5,1533 281,1517 279.1,1505.5 278.5,1503.3 276,1499.9 273.5,1494.8 271.8,1491.1 271,1490.9 268.5,1488.3 266,1483.9 263.5,1482.8 261,1480.5 258.5,1476.7 257.2,1477.4 256,1475.3 253.5,1474.5 251,1474.8 248.5,1473.5 246,1472.4 243.5,1471.7 241,1470.2 238.5,1469.4 237.7,1468.3 236,1467.6 233.5,1465.7 231,1464.5 228.5,1464.1 226,1462.1 223.5,1461.2 221,1459.4 218.5,1459.3 216,1457.3 213.5,1456.8 213.3,1456.6 211,1455.7 208.5,1454.1 206,1454.2 203.5,1453.3 201,1454.1 198.5,1451.6 196,1451.6 193.5,1451.9 191,1451.1 189,1448.8 188.5,1448.9 186,1446.2 183.5,1445 181,1442.7 178.5,1440.6 176,1438.8 173.5,1437.8 172,1437.1 171,1436 168.5,1431.8 166,1429.5 164.7,1428.4 163.5,1429.4 161,1427.5 158.5,1427.3 156,1426.9 153.5,1427.3 151,1427.1 148.5,1427.3 146,1427.2 143.5,1427.2 141,1425.7 138.5,1426.9 136,1425.9 133.5,1425.2 131,1424.6 128.5,1425.3 126,1424.2 123.5,1423.8 121,1424.4 118.5,1422.4 116,1424" fill="#b3574c" />
<polygon points="116,1417.1 118.5,1416 121,1417 123.5,1418.8 126,1419.5 128.5,1419.3 131,1419 133.5,1420.7 136,1421.2 138.5,1423.2 141,1422.1 143.5,1423.2 146,1425.2 148.5,1423.8 151,1425.4 153.5,1427 156,1427.6 158.5,1426.5 161,1427.2 163.5,1428 166,1430.7 168.5,1429.8 171,1431.7 173.5,1432.7 176,1432.1 178.5,1432.6 181,1434.9 183.5,1434.8 186,1434.6 188.5,1436.4 189,1435.6 191,1435.8 193.5,1435.7 196,1438 198.5,1438.8 201,1438.6 203.5,1439.8 206,1438.1 208.5,1439.1 211,1440.2 213.5,1441.8 216,1442.3 218.5,1441.4 221,1441.5 223.5,1442.4 226,1443.1 228.5,1444.6 231,1443.3 233.5,1445.3 236,1445.6 238.5,1446.3 241,1446.6 243.5,1446.7 246,1446.5 248.5,1447 251,1447.6 253.5,1449 256,1447.8 258.5,1448.6 261,1450.4 262,1449.4 263.5,1449 266,1449 268.5,1450.3 271,1449.8 273.5,1451.5 276,1451.3 278.5,1451.6 281,1450 283.5,1449.6 286,1449.7 288.5,1450.7 291,1451.3 293.5,1450.7 296,1450.3 298.5,1450.8 301,1451.4 303.5,1451.6 306,1451.8 308.5,1452.1 311,1451.7 313.5,1450.5 316,1452.3 318.5,1451.1 321,1451.8 323.5,1451.4 326,1452.3 328.5,1451.1 331,1451.3 333.5,1451.3 335,1451.2 336,1453.1 338.5,1452.8 341,1452.6 343.5,1453.2 346,1455.1 348.5,1454.3 351,1454.1 353.5,1455.9 356,1455.9 358.5,1457.2 361,1455.5 363.5,1456.8 366,1458 368.5,1458.5 371,1459.1 373.5,1457.5 376,1458.5 378.5,1458.5 381,1459.1 383.5,1461.4 383.7,1460.5 386,1461.4 388.5,1460.1 391,1461.4 393.5,1460.4 396,1460.1 398.5,1461.4 401,1461.8 403.5,1459.9 406,1461.1 408.5,1461.2 411,1460.4 413.5,1460.8 416,1460.3 418.5,1460.5 421,1460.7 423.5,1461.6 426,1461.8 428.5,1460.8 431,1460.4 432.4,1461.2 433.5,1462.1 436,1461.2 438.5,1461.8 441,1461.7 443.5,1463.4 446,1463.1 448.5,1462.1 451,1462.5 453.5,1463.4 456,1464.1 458.5,1464.5 461,1463.4 463.5,1463.9 466,1465.4 468.5,1464.9 471,1464.9 473.5,1465.2 476,1467 478.5,1465.7 481,1466.6 483.5,1466.1 486,1466.4 488.5,1467.5 491,1467.9 493.5,1466.5 496,1466.1 498.5,1467.5 501,1466.3 503.5,1465.9 506,1468.1 508.5,1467.1 511,1468.1 513.5,1467.2 516,1468.4 518.5,1467.5 521,1466.8 523.5,1466.5 526,1467.9 528.5,1468.2 530,1468.9 531,1467.1 533.5,1468.8 536,1468.6 538.5,1469.3 541,1468.9 543.5,1469.6 546,1470.6 548.5,1472 551,1470.5 553.5,1471.8 556,1473 558.5,1473.8 561,1472.4 563.5,1472.6 566,1475 566.9,1475.2 568.5,1473.8 571,1472.3 573.5,1474 576,1472.3 578.5,1473.1 581,1472 583.5,1472.1 586,1470.1 588.5,1471.2 591,1469.4 593.5,1469.4 596,1470.1 598.5,1469.6 601,1467.6 603.5,1467.3 603.9,1467.7 606,1467.7 608.5,1467.2 611,1466.3 613.5,1466.4 616,1467.3 618.5,1467.4 621,1465.1 623.5,1466.1 626,1466.4 628.5,1464.4 631,1466.3 633.5,1464.6 636,1465.7 638.5,1465.6 641,1465.8 643.5,1465 646,1465.3 648.5,1465.7 651,1465.3 653.5,1465.9 656,1465.4 658.5,1465.4 661,1464.4 663.5,1465.8 666,1465.5 668.5,1464.9 671,1466.1 673.5,1466.2 676,1465.4 677.7,1464.7 678.5,1465.2 681,1463.6 683.5,1462.9 686,1462.8 688.5,1461.3 691,1461.4 693.5,1460.8 696,1458.9 698.5,1459.6 701,1457.5 702.3,1458.7 703.5,1458.6 706,1457.6 708.5,1456.1 711,1456.8 713.5,1456.2 716,1457.2 718.5,1454.9 721,1456.2 723.5,1456.2 726,1455.2 728.5,1455 731,1453.2 733.5,1454.7 736,1453.2 738.5,1453.9 739.3,1453.7 741,1451.8 743.5,1453.1 746,1453.3 748.5,1451 751,1451.5 753.5,1452.4 756,1450.7 758.5,1452.4 761,1450.7 763.5,1451.8 766,1450 768.5,1450.7 771,1451.6 773.5,1449.7 776,1449.6 776.2,1450.2 778.5,1449.2 781,1447.8 783.5,1447.5 786,1446.8 788.5,1448 791,1447.3 793.5,1447.8 796,1446 798.5,1447.4 801,1445.7 803.5,1446.6 806,1446.8 808.5,1446 811,1447.2 813.5,1446.3 816,1446.3 818.5,1446.9 821,1445 823.5,1447 826,1446.1 828.5,1445.4 831,1446.3 833.5,1445 836,1446.6 838.5,1445.6 841,1445 843.5,1445.8 846,1445 848.5,1444.3 850,1445.6 851,1443.9 853.5,1445.7 856,1444.4 858.5,1445.3 861,1446.1 863.5,1445.1 866,1445.2 868.5,1444.4 871,1443.6 873.5,1443.7 876,1443.9 878.5,1445 881,1444.6 883.5,1444.7 886,1445.6 888.5,1443.8 891,1444 893.5,1445 896,1443.4 898.5,1443.4 901,1444.2 903.5,1443.6 906,1444.2 908.5,1443.8 911,1444.7 913.5,1444.6 916,1443.7 918.5,1444.7 921,1444.3 923.5,1443.5 926,1445.4 928.5,1443.7 931,1443.4 933.5,1443.3 936,1444.6 938.5,1445.1 941,1444.9 943.5,1443.9 946,1443.6 948.5,1442.9 951,1444.4 953.5,1444.2 956,1443.7 958.5,1444.4 960.8,1443.9 960.8,1610.4 958.5,1608.5 956,1609.7 953.5,1609.7 951,1607.6 948.5,1607.8 946,1609.9 943.5,1609.6 941,1610.4 938.5,1611.3 936,1612.6 933.5,1614.6 931,1616.3 928.5,1615.1 926,1616.1 923.9,1618.4 923.5,1618.9 921,1617.5 918.5,1619.3 916,1619.8 913.5,1619.9 911,1618.2 908.5,1620.4 906,1620.8 903.5,1619.7 901,1620.6 898.5,1620.8 896,1620.5 893.5,1620.9 891,1620.7 888.5,1620.8 886,1621.1 884.5,1622.3 883.5,1620.9 881,1621.9 878.5,1623.1 876,1623.3 873.5,1624.2 871,1624.6 868.5,1626.6 866,1626.1 863.5,1627.8 861,1626.8 858.5,1628.4 856,1628.4 853.5,1629.5 851,1630.9 850,1631.2 848.5,1630.9 846,1630.4 843.5,1632.1 841,1630.6 838.5,1631.6 836,1631.6 833.5,1632.3 831,1632.9 828.5,1633.1 826,1631.8 823.5,1632.2 821,1632.9 818.5,1634.1 816,1632.9 813.5,1633.9 811,1635.1 810.6,1634.7 808.5,1633.1 806,1632.7 803.5,1632.5 801,1632.8 798.5,1631.7 796,1631.3 793.5,1629.8 791,1630.3 788.5,1629.6 786,1628.6 783.5,1628.9 781,1629.9 778.5,1627.4 776.2,1628.5 776,1627.6 773.5,1628.4 771,1627.4 768.5,1629.2 766,1628 763.5,1628.4 761,1629.2 758.5,1628.9 756,1628.6 753.5,1629.2 751,1628.9 748.5,1629.1 746,1628 743.5,1629.1 741,1630.2 739.3,1629.9 738.5,1628.1 736,1628 733.5,1625.8 731,1627 728.5,1624.8 726,1623.6 723.5,1623.5 721,1622.2 718.5,1620.1 716,1620.9 714.6,1619.7 713.5,1619.3 711,1620.4 708.5,1620.6 706,1621.1 703.5,1621.3 701,1622.8 698.5,1623.6 696,1624.3 693.5,1624 691,1623.8 688.5,1625.7 686,1625.5 683.5,1626.4 681,1627.5 678.5,1628.1 677.7,1628.7 676,1628.8 673.5,1629.6 671,1630.5 668.5,1630.8 666,1630.2 663.5,1631.3 661,1632.7 658.5,1632.9 656,1633.2 653.5,1635 653.1,1634.7 651,1634 648.5,1634.6 646,1633.7 643.5,1634.6 641,1635.2 638.5,1635 636,1635.7 633.5,1636.1 631,1635.3 628.5,1634.6 626,1635.6 623.5,1635.3 622.1,1635.2 622.1,1612.2 621.1,1611.2 621,1611.8 618.5,1612.8 616,1613.2 613.5,1614 611,1612.8 608.5,1612.5 606,1614.8 603.5,1613.1 601,1614.9 598.5,1615.8 596,1614.2 593.5,1614.8 591,1614.7 590.3,1615.7 590.3,1547.6 589.1,1547.4 588.5,1547.2 586,1547.3 583.5,1549.1 581,1548.9 578.5,1548.1 576,1548 573.5,1548.2 571,1549.9 568.5,1549 566.9,1548.3 566,1549.3 563.5,1549.3 561,1548.2 558.5,1547.1 556,1548.1 553.5,1547.6 551,1547.6 548.5,1545.6 546,1545.6 543.5,1545.3 542.3,1545.9 541,1545.2 538.5,1543.5 536,1541.3 533.5,1539.5 531,1537.2 529.7,1537.9 528.5,1535.4 526,1532.9 523.5,1531.1 521,1526.8 518.5,1523.9 516,1520.8 513.5,1520.1 511,1515.4 508.5,1514.6 506,1510.6 505.4,1510 503.5,1508.7 501,1507.9 498.5,1506.8 496,1505 493.5,1503.8 491,1500.6 488.5,1500.4 486,1497.7 483.5,1497.1 481,1496.1 478.5,1494.4 476,1494.1 473.5,1495.2 471,1493.1 468.5,1493.9 466,1492.3 463.5,1492.1 461,1490.9 458.5,1491.9 456.7,1490.8 456,1490.4 453.5,1487.7 451,1488.5 448.5,1486.5 446,1483.7 443.5,1481.7 441,1480.6 438.5,1480.6 436,1477.4 433.5,1477.7 432.4,1475.5 431,1476 428.5,1476 426,1474.7 423.5,1475.3 421,1474 418.5,1473.5 416,1472.2 413.5,1473.1 411,1473.3 408.5,1472 406,1472.7 403.5,1470.7 401,1470.3 398.5,1470.7 396,1469.3 393.5,1468.7 391,1467.7 388.5,1468.3 386,1467.6 383.7,1466.9 383.5,1468.2 381,1466.3 378.5,1466 376,1466.1 373.5,1466.7 371,1466.8 368.5,1466 366,1466.2 363.5,1465.9 361,1463.7 358.5,1463.6 356,1463.5 353.5,1462.9 351,1464.6 348.5,1464.3 346,1463.8 343.5,1461.6 341,1463.3 338.5,1462.8 336,1462.5 335,1461.3 333.5,1461.7 331,1460.4 328.5,1461.8 326,1461.6 323.5,1461.3 321,1461.3 318.5,1459.7 316,1459.5 313.5,1459.6 311,1460 308.5,1461.3 306,1459.2 303.5,1458.8 301,1459 298.5,1460.7 296,1458.6 293.5,1459.8 291,1458.6 288.5,1458.7 286.4,1459.3 286,1459.6 283.5,1458.8 281,1459.7 278.5,1459.2 276,1459.4 273.5,1458.4 271,1459.5 268.5,1458.6 266,1458.6 263.5,1458.3 261,1458.8 258.5,1457.1 256,1457.2 253.5,1458.4 251,1456.9 248.5,1457.8 246,1458.2 243.5,1457.6 241,1456.2 238.5,1456.2 237.7,1455.5 236,1457.1 233.5,1454.8 231,1455.8 228.5,1454.3 226,1452.6 223.5,1452.5 221,1452.4 218.5,1450.8 216,1450.3 213.5,1448.9 211,1449.2 208.5,1448.8 206,1447.7 203.5,1447 201,1445.3 198.5,1443.8 196,1443.6 193.5,1442.5 191,1442 189,1442 188.5,1442.4 186,1440.5 183.5,1439.9 181,1438.9 178.5,1435.7 176,1436.1 173.5,1435.1 171,1434.1 168.5,1430.8 166,1430.2 164.7,1429.5 163.5,1429.1 161,1430.4 158.5,1429.7 156,1429.1 153.5,1429.1 151,1427.9 148.5,1427.5 146,1429.1 143.5,1427.9 141,1426.4 138.5,1428 136,1426 133.5,1426.2 131,1426.3 128.5,1426.4 126,1424.9 123.5,1426.7 121,1424.9 118.5,1425.8 116,1426" fill="#91b1d7" />
<polygon points="116,1415.6 118.5,1416.3 121,1416.5 123.5,1417.4 126,1417.5 128.5,1418 131,1416.8 133.5,1418.4 136,1418.4 138.5,1419.3 141,1418.9 143.5,1420.3 146,1419.9 148.5,1419.6 151,1419.9 153.5,1420.1 156,1421.3 158.5,1420.6 161,1422 163.5,1421.6 164.7,1422.6 166,1423.2 168.5,1424.6 171,1426.6 173.5,1425.8 176,1429.1 178.5,1429.5 181,1430.9 183.5,1432.4 186,1434.1 188.5,1434.2 189,1434.6 191,1436.4 193.5,1434.9 196,1436.9 198.5,1437.6 201,1436.8 203.5,1438.8 206,1439.6 208.5,1440.9 211,1440.1 213.3,1442.3 213.5,1441.1 216,1441.3 218.5,1442.4 221,1440.6 223.5,1442.4 226,1442.3 228.5,1441.8 231,1443.3 233.5,1442.3 236,1442.7 238.5,1443 241,1443.8 243.5,1442.6 246,1443.4 248.5,1443.5 251,1444 253.5,1444.9 256,1443.8 258.5,1445.2 261,1444.4 262,1444.7 263.5,1444 266,1444.4 268.5,1445.4 271,1444.4 273.5,1444.6 276,1443.3 278.5,1443 281,1442.8 283.5,1443.3 286,1443.2 288.5,1443.4 291,1441.5 293.5,1442.9 296,1443.1 298.5,1442.1 301,1440.7 303.5,1441.2 306,1440.3 308.5,1440.5 310.7,1442.1 311,1441.4 313.5,1441.7 316,1442.2 318.5,1442.7 321,1442.1 323.5,1442.3 326,1442.5 328.5,1442.9 331,1442.8 333.5,1443.2 336,1442.3 338.5,1443.6 341,1443.2 343.5,1444.2 346,1442.8 348.5,1443.1 351,1443 353.5,1444.9 356,1445.4 358.5,1445 359.4,1444.4 361,1445.4 363.5,1445.2 366,1444.5 368.5,1443.7 371,1443.7 373.5,1443.8 376,1443.4 378.5,1443.6 381,1444 383.5,1444.6 386,1442.3 388.5,1443.4 391,1442 393.5,1442.1 396,1443.6 398.5,1442.9 401,1443.7 403.5,1442.4 406,1441.2 408,1442 408.5,1442.5 411,1443.3 413.5,1443.3 416,1442 418.5,1441.7 421,1440.9 423.5,1442.1 426,1441 428.5,1440.8 431,1440.4 433.5,1440.3 436,1441.8 438.5,1440.4 441,1442.3 443.5,1440.1 444.5,1442 446,1439.8 448.5,1438.9 451,1439.9 453.5,1438.2 456,1438.7 458.5,1436.7 461,1435.8 463.5,1436.9 466,1436.1 468.5,1435.8 468.9,1435.4 471,1433.5 473.5,1434.4 476,1434.2 478.5,1433.2 481,1434 483.5,1432 486,1433.3 488.5,1432.3 491,1430.3 493.2,1429.9 493.5,1431.4 496,1431.3 498.5,1429 501,1429.1 503.5,1429.6 506,1427.8 508.5,1429 511,1427.6 513.5,1426.1 516,1426.3 517.6,1426.5 518.5,1426.2 521,1426.7 523.5,1425.4 526,1427 528.5,1426 531,1426.6 533.5,1426.6 536,1426.1 538.5,1426 541,1427 542.3,1427.4 543.5,1426.7 546,1425.6 548.5,1424.3 551,1423.2 553.5,1424.8 556,1423.5 558.5,1423.2 561,1421.4 563.5,1421.5 566,1421.8 568.5,1420.8 571,1419.7 573.5,1418.4 576,1418.1 578.5,1418.6 579.2,1417.2 581,1417.5 583.5,1416.7 586,1416.7 588.5,1415.9 591,1414 593.5,1412.7 596,1412.7 598.5,1412.5 601,1412.2 603.5,1412.2 603.9,1412.2 606,1409.9 608.5,1411.5 611,1411.1 613.5,1410.9 616,1409.8 618.5,1408.7 621,1409.8 623.5,1409.3 626,1408.7 628.5,1408.9 631,1407.2 633.5,1406.2 636,1407 638.5,1407.2 641,1405.5 643.5,1406.4 646,1406.5 648.2,1404.6 648.5,1405.5 651,1405.6 653.5,1405.1 656,1404.5 658.5,1404.6 661,1405.8 663.5,1405.9 666,1405.1 668.5,1404.2 671,1405.9 673.5,1405.9 676,1404.6 678.5,1405.4 681,1406.2 683.5,1406.1 686,1405.3 688.5,1405.1 691,1405.4 693.5,1404.5 696,1404.5 698.5,1404.4 701,1405.7 702.3,1404.9 703.5,1405.4 706,1405.1 708.5,1405.5 711,1404.7 713.5,1404.6 716,1406.9 718.5,1405.6 721,1405 723.5,1406.4 726,1406.9 728.5,1405.4 731,1406.6 731.9,1406 733.5,1405.9 736,1404 738.5,1403.2 741,1404.7 743.5,1403.6 746,1401.9 748.5,1401.3 751,1399.8 751.6,1400.9 753.5,1399.4 756,1399.7 758.5,1398.4 761,1397.7 763.5,1397.2 766,1394.6 768.5,1393.2 771,1392.7 773.5,1391.8 776,1390.7 776.2,1390.5 778.5,1390.8 781,1390.5 783.5,1388.5 786,1388.6 788.5,1387.5 791,1384.5 793.5,1385.2 796,1384.2 798.5,1383 801,1384.5 803.5,1382.2 806,1382.4 808.5,1382.1 811,1382.3 813.5,1381.1 816,1379.9 818.5,1379.5 821,1378.2 823.5,1379.6 825.4,1379.3 826,1377.4 828.5,1376.6 831,1376.8 833.5,1376.7 836,1377.7 838.5,1377.4 841,1376.9 843.5,1374.7 846,1376.2 848.5,1375.7 851,1375.2 853.5,1375.7 856,1373.2 858.5,1373.1 861,1374.2 863.5,1374.4 866,1373.4 868.5,1372.2 871,1372.6 873.5,1372.7 874.7,1371 876,1370.8 878.5,1369.4 881,1367.9 883.5,1367.5 886,1365.5 888.5,1364.4 891,1362.9 893.5,1363 894.4,1360.9 896,1362.7 898.5,1361.7 901,1361.4 903.5,1363.8 906,1362.2 908.5,1364.1 911,1364.1 911.6,1364.2 913.5,1361.9 916,1361.8 918.5,1360.3 921,1361.5 923.5,1360.5 923.9,1359.9 926,1359.5 928.5,1359.2 931,1360.4 933.5,1359.5 936,1359.9 938.5,1358.7 941,1358.9 943.5,1358.5 946,1360.1 948.5,1359.7 951,1358.7 953.5,1360.5 956,1359 958.5,1359.4 960.8,1358.8 960.8,1446.5 958.5,1447.7 956,1446.8 953.5,1446 951,1447.4 948.5,1448.3 946,1446.8 943.5,1447.4 941,1447.5 938.5,1446.5 936,1446.5 933.5,1447.3 931,1447.4 928.5,1446.8 926,1446.6 923.5,1447.2 921,1448.4 918.5,1448.6 916,1448.3 913.5,1448 911,1448.5 908.5,1446.6 906,1447.6 903.5,1448.4 901,1448.8 898.5,1447.2 896,1446.9 893.5,1448.5 891,1447.8 888.5,1447.4 886,1449 883.5,1448.1 881,1447.7 878.5,1447.9 876,1449 873.5,1448.9 871,1448.2 868.5,1448.1 866,1447.8 863.5,1447.8 861,1447.1 858.5,1448.2 856,1448.6 853.5,1449.2 851,1447.8 850,1448.4 848.5,1447.9 846,1448 843.5,1448.7 841,1448.3 838.5,1448.3 836,1449.5 833.5,1448.4 831,1449 828.5,1449.4 826,1448.4 823.5,1448.6 821,1447.3 818.5,1447.3 816,1449.5 813.5,1448.3 811,1447.8 808.5,1449.6 806,1449.4 803.5,1449.4 801,1448.2 798.5,1449.6 796,1447.7 793.5,1448.9 791,1448.9 788.5,1447.8 786,1448.6 783.5,1448.8 781,1449.8 778.5,1450.3 776.2,1451.5 776,1451.4 773.5,1450.4 771,1450.6 768.5,1451.1 766,1450.8 763.5,1450.6 761,1451.7 758.5,1451.2 756,1451.2 753.5,1451.1 751,1451.8 748.5,1452.5 746,1452.4 743.5,1451.6 741,1452 739.3,1453 738.5,1451.9 736,1452 733.5,1452.4 731,1450.5 728.5,1452.6 726,1450.7 723.5,1452.6 721,1452 718.5,1452.2 716,1451.4 713.5,1452 711,1451.9 708.5,1451.9 706,1451.3 703.5,1452 701,1452 698.5,1451.4 696,1451.5 693.5,1450.7 691,1450.6 688.5,1450.1 686,1451.4 683.5,1451.9 681,1450.1 678.5,1449.8 677.7,1451.3 676,1450.6 673.5,1450.5 671,1449.8 668.5,1450.7 666,1451.8 663.5,1449.9 661,1450.2 658.5,1451.7 656,1450.6 653.5,1452.3 651,1450.6 648.5,1451.2 646,1451.4 643.5,1450.6 641,1452.2 638.5,1451 636,1450.2 633.5,1451.6 631,1451.2 628.5,1451.5 626,1450.9 623.5,1451 621,1451.2 618.5,1451.6 616,1452 613.5,1451.9 611,1451.7 608.5,1452.3 606,1451.1 603.9,1452.3 603.5,1452.1 601,1452.3 598.5,1453.1 596,1452.5 593.5,1451.6 591,1452.1 588.5,1452.3 586,1452.8 583.5,1452.7 581,1452.4 578.5,1452.6 576,1452.8 573.5,1453.9 571,1453.9 568.5,1453.5 566,1454.3 563.5,1455.5 561,1454.8 558.5,1453.8 556,1455.2 553.5,1454.6 551,1454.7 548.5,1456.4 546,1455.3 543.5,1455.7 541,1455.3 538.5,1456.3 536,1457.3 533.5,1456.5 531,1456.1 528.5,1457.2 526,1456.4 523.5,1457.5 521,1456.2 518.5,1458.5 516,1458.6 513.5,1458.6 511,1458.4 508.5,1459.3 506,1459.1 503.5,1459.8 501,1458 498.5,1457.9 496,1459.2 493.5,1459.2 491,1458.5 488.5,1459.8 486,1459.6 483.5,1460.4 481,1460.1 478.5,1459.5 476,1461 473.5,1460.8 471,1459.6 468.5,1458.3 466,1460 463.5,1459.8 461,1459.8 458.5,1459.4 456,1459.6 453.5,1458.1 451,1457.7 448.5,1457.3 446,1457.3 443.5,1458.2 441,1458.4 438.5,1456.9 436,1457 433.5,1457.6 432.4,1456.5 431,1456.5 428.5,1457.8 426,1457.6 423.5,1456.1 421,1457.5 418.5,1457.1 416,1456.2 413.5,1457.9 411,1457.3 408.5,1456.3 406,1457 403.5,1456.4 401,1456.8 398.5,1457.4 396,1457.4 393.5,1456.6 391,1456.4 388.5,1458.1 386,1458.5 383.5,1456.7 381,1458.2 378.5,1457.8 376,1458 373.5,1458.1 371.5,1456.7 371,1457.1 368.5,1458.1 366,1456.4 363.5,1456 361,1457.6 358.5,1456 356,1455.4 353.5,1455.3 351,1455.2 348.5,1456.7 346,1454.2 343.5,1455.2 341,1454.9 338.5,1454.6 336,1454.3 335,1455.3 333.5,1455.1 331,1453.1 328.5,1454.8 326,1453.9 323.5,1454.7 321,1453.8 318.5,1455.1 316,1455 313.5,1454.7 311,1453.3 308.5,1454.2 306,1454.1 303.5,1454.2 301,1453 298.5,1454.4 296,1453.9 293.5,1453.4 291,1453.9 288.5,1455 286,1453.4 283.5,1453.6 281,1455.1 278.5,1454.1 276,1455.2 273.5,1453 271,1454.2 268.5,1455.1 266,1455 263.5,1453.8 262,1454.9 261,1453 258.5,1454.3 256,1453.3 253.5,1453.8 251,1451.9 248.5,1451.9 246,1452.5 243.5,1452.8 241,1452.3 238.5,1451.7 236,1450.5 233.5,1450.3 231,1450.6 228.5,1450.6 226,1449 223.5,1448.7 221,1448.7 218.5,1449.6 216,1449.5 213.5,1447.8 211,1447.4 208.5,1448.1 206,1447 203.5,1448.4 201,1446.9 198.5,1446.1 196,1446.6 193.5,1447 191,1444.7 189,1444.8 188.5,1445 186,1444.5 183.5,1441 181,1441.7 178.5,1438.4 176,1437.8 173.5,1434.6 171,1435 168.5,1431.9 166,1429.9 164.7,1431 163.5,1431.1 161,1430.8 158.5,1429 156,1428.4 153.5,1428.3 151,1428.1 148.5,1428.3 146,1427.4 143.5,1428.2 141,1428.5 138.5,1426.2 136,1428.2 133.5,1425.9 131,1427.5 128.5,1425.8 126,1426 123.5,1425 121,1425.1 118.5,1426.1 116,1424.5" fill="#51618a" />
<clipPath id="c7"><polygon points="116,1417.1 118.5,1416 121,1417 123.5,1418.8 126,1419.5 128.5,1419.3 131,1419 133.5,1420.7 136,1421.2 138.5,1423.2 141,1422.1 143.5,1423.2 146,1425.2 148.5,1423.8 151,1425.4 153.5,1427 156,1427.6 158.5,1426.5 161,1427.2 163.5,1428 166,1430.7 168.5,1429.8 171,1431.7 173.5,1432.7 176,1432.1 178.5,1432.6 181,1434.9 183.5,1434.8 186,1434.6 188.5,1436.4 189,1435.6 191,1435.8 193.5,1435.7 196,1438 198.5,1438.8 201,1438.6 203.5,1439.8 206,1438.1 208.5,1439.1 211,1440.2 213.5,1441.8 216,1442.3 218.5,1441.4 221,1441.5 223.5,1442.4 226,1443.1 228.5,1444.6 231,1443.3 233.5,1445.3 236,1445.6 238.5,1446.3 241,1446.6 243.5,1446.7 246,1446.5 248.5,1447 251,1447.6 253.5,1449 256,1447.8 258.5,1448.6 261,1450.4 262,1449.4 263.5,1449 266,1449 268.5,1450.3 271,1449.8 273.5,1451.5 276,1451.3 278.5,1451.6 281,1450 283.5,1449.6 286,1449.7 288.5,1450.7 291,1451.3 293.5,1450.7 296,1450.3 298.5,1450.8 301,1451.4 303.5,1451.6 306,1451.8 308.5,1452.1 311,1451.7 313.5,1450.5 316,1452.3 318.5,1451.1 321,1451.8 323.5,1451.4 326,1452.3 328.5,1451.1 331,1451.3 333.5,1451.3 335,1451.2 336,1453.1 338.5,1452.8 341,1452.6 343.5,1453.2 346,1455.1 348.5,1454.3 351,1454.1 353.5,1455.9 356,1455.9 358.5,1457.2 361,1455.5 363.5,1456.8 366,1458 368.5,1458.5 371,1459.1 373.5,1457.5 376,1458.5 378.5,1458.5 381,1459.1 383.5,1461.4 383.7,1460.5 386,1461.4 388.5,1460.1 391,1461.4 393.5,1460.4 396,1460.1 398.5,1461.4 401,1461.8 403.5,1459.9 406,1461.1 408.5,1461.2 411,1460.4 413.5,1460.8 416,1460.3 418.5,1460.5 421,1460.7 423.5,1461.6 426,1461.8 428.5,1460.8 431,1460.4 432.4,1461.2 433.5,1462.1 436,1461.2 438.5,1461.8 441,1461.7 443.5,1463.4 446,1463.1 448.5,1462.1 451,1462.5 453.5,1463.4 456,1464.1 458.5,1464.5 461,1463.4 463.5,1463.9 466,1465.4 468.5,1464.9 471,1464.9 473.5,1465.2 476,1467 478.5,1465.7 481,1466.6 483.5,1466.1 486,1466.4 488.5,1467.5 491,1467.9 493.5,1466.5 496,1466.1 498.5,1467.5 501,1466.3 503.5,1465.9 506,1468.1 508.5,1467.1 511,1468.1 513.5,1467.2 516,1468.4 518.5,1467.5 521,1466.8 523.5,1466.5 526,1467.9 528.5,1468.2 530,1468.9 531,1467.1 533.5,1468.8 536,1468.6 538.5,1469.3 541,1468.9 543.5,1469.6 546,1470.6 548.5,1472 551,1470.5 553.5,1471.8 556,1473 558.5,1473.8 561,1472.4 563.5,1472.6 566,1475 566.9,1475.2 568.5,1473.8 571,1472.3 573.5,1474 576,1472.3 578.5,1473.1 581,1472 583.5,1472.1 586,1470.1 588.5,1471.2 591,1469.4 593.5,1469.4 596,1470.1 598.5,1469.6 601,1467.6 603.5,1467.3 603.9,1467.7 606,1467.7 608.5,1467.2 611,1466.3 613.5,1466.4 616,1467.3 618.5,1467.4 621,1465.1 623.5,1466.1 626,1466.4 628.5,1464.4 631,1466.3 633.5,1464.6 636,1465.7 638.5,1465.6 641,1465.8 643.5,1465 646,1465.3 648.5,1465.7 651,1465.3 653.5,1465.9 656,1465.4 658.5,1465.4 661,1464.4 663.5,1465.8 666,1465.5 668.5,1464.9 671,1466.1 673.5,1466.2 676,1465.4 677.7,1464.7 678.5,1465.2 681,1463.6 683.5,1462.9 686,1462.8 688.5,1461.3 691,1461.4 693.5,1460.8 696,1458.9 698.5,1459.6 701,1457.5 702.3,1458.7 703.5,1458.6 706,1457.6 708.5,1456.1 711,1456.8 713.5,1456.2 716,1457.2 718.5,1454.9 721,1456.2 723.5,1456.2 726,1455.2 728.5,1455 731,1453.2 733.5,1454.7 736,1453.2 738.5,1453.9 739.3,1453.7 741,1451.8 743.5,1453.1 746,1453.3 748.5,1451 751,1451.5 753.5,1452.4 756,1450.7 758.5,1452.4 761,1450.7 763.5,1451.8 766,1450 768.5,1450.7 771,1451.6 773.5,1449.7 776,1449.6 776.2,1450.2 778.5,1449.2 781,1447.8 783.5,1447.5 786,1446.8 788.5,1448 791,1447.3 793.5,1447.8 796,1446 798.5,1447.4 801,1445.7 803.5,1446.6 806,1446.8 808.5,1446 811,1447.2 813.5,1446.3 816,1446.3 818.5,1446.9 821,1445 823.5,1447 826,1446.1 828.5,1445.4 831,1446.3 833.5,1445 836,1446.6 838.5,1445.6 841,1445 843.5,1445.8 846,1445 848.5,1444.3 850,1445.6 851,1443.9 853.5,1445.7 856,1444.4 858.5,1445.3 861,1446.1 863.5,1445.1 866,1445.2 868.5,1444.4 871,1443.6 873.5,1443.7 876,1443.9 878.5,1445 881,1444.6 883.5,1444.7 886,1445.6 888.5,1443.8 891,1444 893.5,1445 896,1443.4 898.5,1443.4 901,1444.2 903.5,1443.6 906,1444.2 908.5,1443.8 911,1444.7 913.5,1444.6 916,1443.7 918.5,1444.7 921,1444.3 923.5,1443.5 926,1445.4 928.5,1443.7 931,1443.4 933.5,1443.3 936,1444.6 938.5,1445.1 941,1444.9 943.5,1443.9 946,1443.6 948.5,1442.9 951,1444.4 953.5,1444.2 956,1443.7 958.5,1444.4 960.8,1443.9 960.8,1610.4 958.5,1608.5 956,1609.7 953.5,1609.7 951,1607.6 948.5,1607.8 946,1609.9 943.5,1609.6 941,1610.4 938.5,1611.3 936,1612.6 933.5,1614.6 931,1616.3 928.5,1615.1 926,1616.1 923.9,1618.4 923.5,1618.9 921,1617.5 918.5,1619.3 916,1619.8 913.5,1619.9 911,1618.2 908.5,1620.4 906,1620.8 903.5,1619.7 901,1620.6 898.5,1620.8 896,1620.5 893.5,1620.9 891,1620.7 888.5,1620.8 886,1621.1 884.5,1622.3 883.5,1620.9 881,1621.9 878.5,1623.1 876,1623.3 873.5,1624.2 871,1624.6 868.5,1626.6 866,1626.1 863.5,1627.8 861,1626.8 858.5,1628.4 856,1628.4 853.5,1629.5 851,1630.9 850,1631.2 848.5,1630.9 846,1630.4 843.5,1632.1 841,1630.6 838.5,1631.6 836,1631.6 833.5,1632.3 831,1632.9 828.5,1633.1 826,1631.8 823.5,1632.2 821,1632.9 818.5,1634.1 816,1632.9 813.5,1633.9 811,1635.1 810.6,1634.7 808.5,1633.1 806,1632.7 803.5,1632.5 801,1632.8 798.5,1631.7 796,1631.3 793.5,1629.8 791,1630.3 788.5,1629.6 786,1628.6 783.5,1628.9 781,1629.9 778.5,1627.4 776.2,1628.5 776,1627.6 773.5,1628.4 771,1627.4 768.5,1629.2 766,1628 763.5,1628.4 761,1629.2 758.5,1628.9 756,1628.6 753.5,1629.2 751,1628.9 748.5,1629.1 746,1628 743.5,1629.1 741,1630.2 739.3,1629.9 738.5,1628.1 736,1628 733.5,1625.8 731,1627 728.5,1624.8 726,1623.6 723.5,1623.5 721,1622.2 718.5,1620.1 716,1620.9 714.6,1619.7 713.5,1619.3 711,1620.4 708.5,1620.6 706,1621.1 703.5,1621.3 701,1622.8 698.5,1623.6 696,1624.3 693.5,1624 691,1623.8 688.5,1625.7 686,1625.5 683.5,1626.4 681,1627.5 678.5,1628.1 677.7,1628.7 676,1628.8 673.5,1629.6 671,1630.5 668.5,1630.8 666,1630.2 663.5,1631.3 661,1632.7 658.5,1632.9 656,1633.2 653.5,1635 653.1,1634.7 651,1634 648.5,1634.6 646,1633.7 643.5,1634.6 641,1635.2 638.5,1635 636,1635.7 633.5,1636.1 631,1635.3 628.5,1634.6 626,1635.6 623.5,1635.3 622.1,1635.2 622.1,1612.2 621.1,1611.2 621,1611.8 618.5,1612.8 616,1613.2 613.5,1614 611,1612.8 608.5,1612.5 606,1614.8 603.5,1613.1 601,1614.9 598.5,1615.8 596,1614.2 593.5,1614.8 591,1614.7 590.3,1615.7 590.3,1547.6 589.1,1547.4 588.5,1547.2 586,1547.3 583.5,1549.1 581,1548.9 578.5,1548.1 576,1548 573.5,1548.2 571,1549.9 568.5,1549 566.9,1548.3 566,1549.3 563.5,1549.3 561,1548.2 558.5,1547.1 556,1548.1 553.5,1547.6 551,1547.6 548.5,1545.6 546,1545.6 543.5,1545.3 542.3,1545.9 541,1545.2 538.5,1543.5 536,1541.3 533.5,1539.5 531,1537.2 529.7,1537.9 528.5,1535.4 526,1532.9 523.5,1531.1 521,1526.8 518.5,1523.9 516,1520.8 513.5,1520.1 511,1515.4 508.5,1514.6 506,1510.6 505.4,1510 503.5,1508.7 501,1507.9 498.5,1506.8 496,1505 493.5,1503.8 491,1500.6 488.5,1500.4 486,1497.7 483.5,1497.1 481,1496.1 478.5,1494.4 476,1494.1 473.5,1495.2 471,1493.1 468.5,1493.9 466,1492.3 463.5,1492.1 461,1490.9 458.5,1491.9 456.7,1490.8 456,1490.4 453.5,1487.7 451,1488.5 448.5,1486.5 446,1483.7 443.5,1481.7 441,1480.6 438.5,1480.6 436,1477.4 433.5,1477.7 432.4,1475.5 431,1476 428.5,1476 426,1474.7 423.5,1475.3 421,1474 418.5,1473.5 416,1472.2 413.5,1473.1 411,1473.3 408.5,1472 406,1472.7 403.5,1470.7 401,1470.3 398.5,1470.7 396,1469.3 393.5,1468.7 391,1467.7 388.5,1468.3 386,1467.6 383.7,1466.9 383.5,1468.2 381,1466.3 378.5,1466 376,1466.1 373.5,1466.7 371,1466.8 368.5,1466 366,1466.2 363.5,1465.9 361,1463.7 358.5,1463.6 356,1463.5 353.5,1462.9 351,1464.6 348.5,1464.3 346,1463.8 343.5,1461.6 341,1463.3 338.5,1462.8 336,1462.5 335,1461.3 333.5,1461.7 331,1460.4 328.5,1461.8 326,1461.6 323.5,1461.3 321,1461.3 318.5,1459.7 316,1459.5 313.5,1459.6 311,1460 308.5,1461.3 306,1459.2 303.5,1458.8 301,1459 298.5,1460.7 296,1458.6 293.5,1459.8 291,1458.6 288.5,1458.7 286.4,1459.3 286,1459.6 283.5,1458.8 281,1459.7 278.5,1459.2 276,1459.4 273.5,1458.4 271,1459.5 268.5,1458.6 266,1458.6 263.5,1458.3 261,1458.8 258.5,1457.1 256,1457.2 253.5,1458.4 251,1456.9 248.5,1457.8 246,1458.2 243.5,1457.6 241,1456.2 238.5,1456.2 237.7,1455.5 236,1457.1 233.5,1454.8 231,1455.8 228.5,1454.3 226,1452.6 223.5,1452.5 221,1452.4 218.5,1450.8 216,1450.3 213.5,1448.9 211,1449.2 208.5,1448.8 206,1447.7 203.5,1447 201,1445.3 198.5,1443.8 196,1443.6 193.5,1442.5 191,1442 189,1442 188.5,1442.4 186,1440.5 183.5,1439.9 181,1438.9 178.5,1435.7 176,1436.1 173.5,1435.1 171,1434.1 168.5,1430.8 166,1430.2 164.7,1429.5 163.5,1429.1 161,1430.4 158.5,1429.7 156,1429.1 153.5,1429.1 151,1427.9 148.5,1427.5 146,1429.1 143.5,1427.9 141,1426.4 138.5,1428 136,1426 133.5,1426.2 131,1426.3 128.5,1426.4 126,1424.9 123.5,1426.7 121,1424.9 118.5,1425.8 116,1426"/></clipPath>
<polygon points="116,1415.6 118.5,1416.3 121,1416.5 123.5,1417.4 126,1417.5 128.5,1418 131,1416.8 133.5,1418.4 136,1418.4 138.5,1419.3 141,1418.9 143.5,1420.3 146,1419.9 148.5,1419.6 151,1419.9 153.5,1420.1 156,1421.3 158.5,1420.6 161,1422 163.5,1421.6 164.7,1422.6 166,1423.2 168.5,1424.6 171,1426.6 173.5,1425.8 176,1429.1 178.5,1429.5 181,1430.9 183.5,1432.4 186,1434.1 188.5,1434.2 189,1434.6 191,1436.4 193.5,1434.9 196,1436.9 198.5,1437.6 201,1436.8 203.5,1438.8 206,1439.6 208.5,1440.9 211,1440.1 213.3,1442.3 213.5,1441.1 216,1441.3 218.5,1442.4 221,1440.6 223.5,1442.4 226,1442.3 228.5,1441.8 231,1443.3 233.5,1442.3 236,1442.7 238.5,1443 241,1443.8 243.5,1442.6 246,1443.4 248.5,1443.5 251,1444 253.5,1444.9 256,1443.8 258.5,1445.2 261,1444.4 262,1444.7 263.5,1444 266,1444.4 268.5,1445.4 271,1444.4 273.5,1444.6 276,1443.3 278.5,1443 281,1442.8 283.5,1443.3 286,1443.2 288.5,1443.4 291,1441.5 293.5,1442.9 296,1443.1 298.5,1442.1 301,1440.7 303.5,1441.2 306,1440.3 308.5,1440.5 310.7,1442.1 311,1441.4 313.5,1441.7 316,1442.2 318.5,1442.7 321,1442.1 323.5,1442.3 326,1442.5 328.5,1442.9 331,1442.8 333.5,1443.2 336,1442.3 338.5,1443.6 341,1443.2 343.5,1444.2 346,1442.8 348.5,1443.1 351,1443 353.5,1444.9 356,1445.4 358.5,1445 359.4,1444.4 361,1445.4 363.5,1445.2 366,1444.5 368.5,1443.7 371,1443.7 373.5,1443.8 376,1443.4 378.5,1443.6 381,1444 383.5,1444.6 386,1442.3 388.5,1443.4 391,1442 393.5,1442.1 396,1443.6 398.5,1442.9 401,1443.7 403.5,1442.4 406,1441.2 408,1442 408.5,1442.5 411,1443.3 413.5,1443.3 416,1442 418.5,1441.7 421,1440.9 423.5,1442.1 426,1441 428.5,1440.8 431,1440.4 433.5,1440.3 436,1441.8 438.5,1440.4 441,1442.3 443.5,1440.1 444.5,1442 446,1439.8 448.5,1438.9 451,1439.9 453.5,1438.2 456,1438.7 458.5,1436.7 461,1435.8 463.5,1436.9 466,1436.1 468.5,1435.8 468.9,1435.4 471,1433.5 473.5,1434.4 476,1434.2 478.5,1433.2 481,1434 483.5,1432 486,1433.3 488.5,1432.3 491,1430.3 493.2,1429.9 493.5,1431.4 496,1431.3 498.5,1429 501,1429.1 503.5,1429.6 506,1427.8 508.5,1429 511,1427.6 513.5,1426.1 516,1426.3 517.6,1426.5 518.5,1426.2 521,1426.7 523.5,1425.4 526,1427 528.5,1426 531,1426.6 533.5,1426.6 536,1426.1 538.5,1426 541,1427 542.3,1427.4 543.5,1426.7 546,1425.6 548.5,1424.3 551,1423.2 553.5,1424.8 556,1423.5 558.5,1423.2 561,1421.4 563.5,1421.5 566,1421.8 568.5,1420.8 571,1419.7 573.5,1418.4 576,1418.1 578.5,1418.6 579.2,1417.2 581,1417.5 583.5,1416.7 586,1416.7 588.5,1415.9 591,1414 593.5,1412.7 596,1412.7 598.5,1412.5 601,1412.2 603.5,1412.2 603.9,1412.2 606,1409.9 608.5,1411.5 611,1411.1 613.5,1410.9 616,1409.8 618.5,1408.7 621,1409.8 623.5,1409.3 626,1408.7 628.5,1408.9 631,1407.2 633.5,1406.2 636,1407 638.5,1407.2 641,1405.5 643.5,1406.4 646,1406.5 648.2,1404.6 648.5,1405.5 651,1405.6 653.5,1405.1 656,1404.5 658.5,1404.6 661,1405.8 663.5,1405.9 666,1405.1 668.5,1404.2 671,1405.9 673.5,1405.9 676,1404.6 678.5,1405.4 681,1406.2 683.5,1406.1 686,1405.3 688.5,1405.1 691,1405.4 693.5,1404.5 696,1404.5 698.5,1404.4 701,1405.7 702.3,1404.9 703.5,1405.4 706,1405.1 708.5,1405.5 711,1404.7 713.5,1404.6 716,1406.9 718.5,1405.6 721,1405 723.5,1406.4 726,1406.9 728.5,1405.4 731,1406.6 731.9,1406 733.5,1405.9 736,1404 738.5,1403.2 741,1404.7 743.5,1403.6 746,1401.9 748.5,1401.3 751,1399.8 751.6,1400.9 753.5,1399.4 756,1399.7 758.5,1398.4 761,1397.7 763.5,1397.2 766,1394.6 768.5,1393.2 771,1392.7 773.5,1391.8 776,1390.7 776.2,1390.5 778.5,1390.8 781,1390.5 783.5,1388.5 786,1388.6 788.5,1387.5 791,1384.5 793.5,1385.2 796,1384.2 798.5,1383 801,1384.5 803.5,1382.2 806,1382.4 808.5,1382.1 811,1382.3 813.5,1381.1 816,1379.9 818.5,1379.5 821,1378.2 823.5,1379.6 825.4,1379.3 826,1377.4 828.5,1376.6 831,1376.8 833.5,1376.7 836,1377.7 838.5,1377.4 841,1376.9 843.5,1374.7 846,1376.2 848.5,1375.7 851,1375.2 853.5,1375.7 856,1373.2 858.5,1373.1 861,1374.2 863.5,1374.4 866,1373.4 868.5,1372.2 871,1372.6 873.5,1372.7 874.7,1371 876,1370.8 878.5,1369.4 881,1367.9 883.5,1367.5 886,1365.5 888.5,1364.4 891,1362.9 893.5,1363 894.4,1360.9 896,1362.7 898.5,1361.7 901,1361.4 903.5,1363.8 906,1362.2 908.5,1364.1 911,1364.1 911.6,1364.2 913.5,1361.9 916,1361.8 918.5,1360.3 921,1361.5 923.5,1360.5 923.9,1359.9 926,1359.5 928.5,1359.2 931,1360.4 933.5,1359.5 936,1359.9 938.5,1358.7 941,1358.9 943.5,1358.5 946,1360.1 948.5,1359.7 951,1358.7 953.5,1360.5 956,1359 958.5,1359.4 960.8,1358.8 960.8,1446.5 958.5,1447.7 956,1446.8 953.5,1446 951,1447.4 948.5,1448.3 946,1446.8 943.5,1447.4 941,1447.5 938.5,1446.5 936,1446.5 933.5,1447.3 931,1447.4 928.5,1446.8 926,1446.6 923.5,1447.2 921,1448.4 918.5,1448.6 916,1448.3 913.5,1448 911,1448.5 908.5,1446.6 906,1447.6 903.5,1448.4 901,1448.8 898.5,1447.2 896,1446.9 893.5,1448.5 891,1447.8 888.5,1447.4 886,1449 883.5,1448.1 881,1447.7 878.5,1447.9 876,1449 873.5,1448.9 871,1448.2 868.5,1448.1 866,1447.8 863.5,1447.8 861,1447.1 858.5,1448.2 856,1448.6 853.5,1449.2 851,1447.8 850,1448.4 848.5,1447.9 846,1448 843.5,1448.7 841,1448.3 838.5,1448.3 836,1449.5 833.5,1448.4 831,1449 828.5,1449.4 826,1448.4 823.5,1448.6 821,1447.3 818.5,1447.3 816,1449.5 813.5,1448.3 811,1447.8 808.5,1449.6 806,1449.4 803.5,1449.4 801,1448.2 798.5,1449.6 796,1447.7 793.5,1448.9 791,1448.9 788.5,1447.8 786,1448.6 783.5,1448.8 781,1449.8 778.5,1450.3 776.2,1451.5 776,1451.4 773.5,1450.4 771,1450.6 768.5,1451.1 766,1450.8 763.5,1450.6 761,1451.7 758.5,1451.2 756,1451.2 753.5,1451.1 751,1451.8 748.5,1452.5 746,1452.4 743.5,1451.6 741,1452 739.3,1453 738.5,1451.9 736,1452 733.5,1452.4 731,1450.5 728.5,1452.6 726,1450.7 723.5,1452.6 721,1452 718.5,1452.2 716,1451.4 713.5,1452 711,1451.9 708.5,1451.9 706,1451.3 703.5,1452 701,1452 698.5,1451.4 696,1451.5 693.5,1450.7 691,1450.6 688.5,1450.1 686,1451.4 683.5,1451.9 681,1450.1 678.5,1449.8 677.7,1451.3 676,1450.6 673.5,1450.5 671,1449.8 668.5,1450.7 666,1451.8 663.5,1449.9 661,1450.2 658.5,1451.7 656,1450.6 653.5,1452.3 651,1450.6 648.5,1451.2 646,1451.4 643.5,1450.6 641,1452.2 638.5,1451 636,1450.2 633.5,1451.6 631,1451.2 628.5,1451.5 626,1450.9 623.5,1451 621,1451.2 618.5,1451.6 616,1452 613.5,1451.9 611,1451.7 608.5,1452.3 606,1451.1 603.9,1452.3 603.5,1452.1 601,1452.3 598.5,1453.1 596,1452.5 593.5,1451.6 591,1452.1 588.5,1452.3 586,1452.8 583.5,1452.7 581,1452.4 578.5,1452.6 576,1452.8 573.5,1453.9 571,1453.9 568.5,1453.5 566,1454.3 563.5,1455.5 561,1454.8 558.5,1453.8 556,1455.2 553.5,1454.6 551,1454.7 548.5,1456.4 546,1455.3 543.5,1455.7 541,1455.3 538.5,1456.3 536,1457.3 533.5,1456.5 531,1456.1 528.5,1457.2 526,1456.4 523.5,1457.5 521,1456.2 518.5,1458.5 516,1458.6 513.5,1458.6 511,1458.4 508.5,1459.3 506,1459.1 503.5,1459.8 501,1458 498.5,1457.9 496,1459.2 493.5,1459.2 491,1458.5 488.5,1459.8 486,1459.6 483.5,1460.4 481,1460.1 478.5,1459.5 476,1461 473.5,1460.8 471,1459.6 468.5,1458.3 466,1460 463.5,1459.8 461,1459.8 458.5,1459.4 456,1459.6 453.5,1458.1 451,1457.7 448.5,1457.3 446,1457.3 443.5,1458.2 441,1458.4 438.5,1456.9 436,1457 433.5,1457.6 432.4,1456.5 431,1456.5 428.5,1457.8 426,1457.6 423.5,1456.1 421,1457.5 418.5,1457.1 416,1456.2 413.5,1457.9 411,1457.3 408.5,1456.3 406,1457 403.5,1456.4 401,1456.8 398.5,1457.4 396,1457.4 393.5,1456.6 391,1456.4 388.5,1458.1 386,1458.5 383.5,1456.7 381,1458.2 378.5,1457.8 376,1458 373.5,1458.1 371.5,1456.7 371,1457.1 368.5,1458.1 366,1456.4 363.5,1456 361,1457.6 358.5,1456 356,1455.4 353.5,1455.3 351,1455.2 348.5,1456.7 346,1454.2 343.5,1455.2 341,1454.9 338.5,1454.6 336,1454.3 335,1455.3 333.5,1455.1 331,1453.1 328.5,1454.8 326,1453.9 323.5,1454.7 321,1453.8 318.5,1455.1 316,1455 313.5,1454.7 311,1453.3 308.5,1454.2 306,1454.1 303.5,1454.2 301,1453 298.5,1454.4 296,1453.9 293.5,1453.4 291,1453.9 288.5,1455 286,1453.4 283.5,1453.6 281,1455.1 278.5,1454.1 276,1455.2 273.5,1453 271,1454.2 268.5,1455.1 266,1455 263.5,1453.8 262,1454.9 261,1453 258.5,1454.3 256,1453.3 253.5,1453.8 251,1451.9 248.5,1451.9 246,1452.5 243.5,1452.8 241,1452.3 238.5,1451.7 236,1450.5 233.5,1450.3 231,1450.6 228.5,1450.6 226,1449 223.5,1448.7 221,1448.7 218.5,1449.6 216,1449.5 213.5,1447.8 211,1447.4 208.5,1448.1 206,1447 203.5,1448.4 201,1446.9 198.5,1446.1 196,1446.6 193.5,1447 191,1444.7 189,1444.8 188.5,1445 186,1444.5 183.5,1441 181,1441.7 178.5,1438.4 176,1437.8 173.5,1434.6 171,1435 168.5,1431.9 166,1429.9 164.7,1431 163.5,1431.1 161,1430.8 158.5,1429 156,1428.4 153.5,1428.3 151,1428.1 148.5,1428.3 146,1427.4 143.5,1428.2 141,1428.5 138.5,1426.2 136,1428.2 133.5,1425.9 131,1427.5 128.5,1425.8 126,1426 123.5,1425 121,1425.1 118.5,1426.1 116,1424.5" fill="#3b5884" clip-path="url(#c7)"/>
<polyline points="116,1420.5 119,1419.6 122,1420.4 125,1421.5 128,1421.3 131,1421.6 134,1421.1 137,1421.8 140,1422.2 140.3,1421.7 143,1422.9 146,1423.4 149,1424.8 152,1424.8 155,1425.2 158,1425.4 161,1426.1 164,1427.8 164.7,1426.9 167,1428.3 170,1430.3 173,1432.7 176,1435.1 179,1436.6 182,1438.8 184.1,1438.9 185,1439.3 188,1441.9 191,1442.7 194,1444.8 197,1445.7 200,1446.9 201.2,1447.6 203,1448.8 206,1452.5 208.5,1453.9 209,1453.7 212,1454.5 215,1455.1 218,1455.2 221,1457.2 224,1457.4 227,1458.7 230,1458.5 233,1459.4 236,1459.5 237.7,1459.6 239,1461.8 242,1463.7 245,1464.8 248,1467.7 251,1469.5 254,1470.7 257,1473.1 260,1475.6 262,1476.2 263,1477.9 266,1479.8 269,1483 272,1486.5 274.2,1487.9 275,1490.1 278,1498.8 281,1505.9 284,1514.2 286.4,1519.6 287,1521 290,1528.8 293,1536 296,1544.8 296.1,1544 299,1556.6 302,1568.5 303.4,1575.1 305,1580.1 308,1590.2 310.7,1598.6 311,1610.3 311.9,1646.1 314,1649.5 317,1655.3 318,1657.2 320,1658.5 323,1660.2 326,1661.7 329,1664.4 332,1665.7 332.6,1665.7 335,1664.5 338,1660.8 341,1658.4 344,1656.6 344.8,1654.7 347,1657.5 349.6,1660.7 350,1660.7 353,1659.8 356,1660.3 359,1661.1 362,1660.7 365,1661.8 368,1660.7 371,1662.1 371.5,1661.4 374,1665.6 377,1671.4 378.8,1674.2 380,1677.2 383,1681.7 386,1687.9 388.6,1691.9 389,1693.1 392,1703.9 395,1715.5 395.9,1718.1 398,1720.9 401,1722.1 404,1725.1 407,1727.6 408,1727.9 410,1727.8 413,1725.7 416,1724.6 417.8,1723.6 419,1725 422,1729.6 425,1733.7 427.5,1737.6 428,1738.6 431,1737.3 434,1737.4 437,1736.1 440,1736.4 443,1735.6 444.5,1735.6 446,1735.5 449,1735.7 452,1736.6 455,1736.9 458,1737.3 461,1738.7 464,1738.5 467,1739.2 470,1740.5 473,1740.8 476,1741.5 479,1741.9 481,1741.1 482,1741.2 485,1740.3 488,1740.9 488.4,1740.8 491,1741.5 494,1742.9 497,1744.7 500,1746.1 503,1746.8 506,1749.1 509,1749.7 512,1751.5 515,1752.2 517.6,1753.3 518,1754.7 521,1755.2 524,1755.9 527,1755.7 530,1756.5 533,1757.5 536,1758.4 539,1759.5 539.8,1759.8 542,1764.1 544.8,1770.7 545,1771.3 548,1772.4 551,1775.3 554,1776.7 554.6,1777.2 557,1776.2 560,1776 563,1776 566,1775 569,1774 571.9,1774.9 572,1775 575,1778.7 576.8,1781.1 578,1782.5 581,1782.3 584,1781.7 587,1782.2 590,1782.3 591.5,1783.5 593,1782.8 596,1784.6 599,1784.9 602,1784.5 603.9,1785.8 605,1784.7 608,1783.4 611,1781.8 614,1779.1 616.2,1777.4 617,1778.8 620,1778 623,1778.8 626,1778.4 629,1778.5 632,1778.6 633.4,1778.3 635,1778.6 638,1779.1 641,1781.3 644,1782 647,1783.2 650,1785 653,1784.9 653.1,1785.9 656,1783.9 659,1784.1 662,1783.5 665,1781.7 668,1781.3 670.3,1781.4 671,1780.9 674,1781.1 677,1781 680,1781.1 683,1781.9 686,1782.4 689,1782.4 690,1782.7 692,1781.9 695,1782.1 698,1781.3 701,1779.8 704,1779.1 704.8,1779.3 707,1779.6 710,1780.9 713,1780.4 716,1780.8 719,1782.3 722,1781.6 725,1782.8 727,1782.7 728,1783.5 731,1782.9 734,1783.1 737,1782 740,1782.6 743,1782.4 746,1782 749,1782.4 751.6,1782.3 752,1781.6 755,1784.9 756.5,1786.5 758,1785.5 761,1783.8 764,1782.6 767,1781 768.8,1780.9 770,1780.4 773,1779.7 776,1779.8 779,1779.8 782,1779.3 785,1778.8 788,1778.4 791,1778.1 794,1779.4 797,1778.8 800,1777.5 800.8,1778.4 803,1780.7 806,1782.6 808.2,1783.7 809,1784.2 812,1783.9 815,1783.3 818,1783.6 821,1782.5 824,1783.8 825.4,1783.2 827,1783 830,1783 833,1782.1 836,1781 839,1780.5 842,1779.9 845,1779.3 848,1780 850,1779.8 851,1778.9 854,1778.7 857,1779.4 860,1779.6 863,1779.7 866,1778.4 869,1779.3 872,1779.3 875,1779.1 878,1778.3 881,1778 884,1779 887,1778.1 890,1778.1 893,1778.3 896,1778 899,1778.6 899.3,1777.7 902,1777.5 905,1778.4 908,1778.7 911,1779.1 914,1779 917,1779.5 920,1779.7 923,1779.1 926,1779.2 929,1778.8 932,1779.1 935,1779.7 938,1779 941,1780.1 944,1779.4 947,1779.9 950,1780.9 953,1779.6 956,1779.7 959,1780.4 960.8,1780.1" fill="none" stroke="#9c1222" stroke-width="4.5" stroke-linejoin="round" stroke-linecap="round" />
<polyline points="116,1420.4 119,1420.1 122,1422.4 125,1423.3 128,1424.1 131,1424.4 134,1425.1 137,1426.6 140,1427.3 143,1428 146,1428.8 149,1429.9 152,1431.2 155,1432.3 158,1433.4 161,1433.1 164,1434.2 167,1435.3 170,1436.4 173,1437 176,1437.7 179,1438.4 182,1439.7 185,1440.8 188,1442.6 189,1442.8 191,1443.1 194,1443.9 197,1444.4 200,1444.5 203,1445.4 206,1444.8 209,1446.4 212,1446.9 215,1447 218,1448 221,1449.2 224,1449 227,1449.9 230,1449.9 233,1450.6 236,1452.1 237.7,1451 239,1451.4 242,1452.4 245,1452.2 248,1451.8 251,1452.9 254,1452.7 257,1453.2 260,1453.2 263,1453.5 266,1453.8 269,1453.7 272,1453.5 275,1453.8 278,1455.1 281,1454.8 284,1454.3 287,1455.7 290,1454.9 293,1454.9 296,1455.8 299,1455.5 302,1456.1 305,1456.4 308,1456.1 310.7,1456.8 311,1456.1 314,1457.1 317,1457.5 320,1457 323,1457.8 326,1457.6 329,1458.4 332,1459.4 335,1459.2 338,1459.8 341,1460.2 344,1459.4 347,1461.1 350,1461 353,1460.3 356,1461.8 359,1461.4 359.4,1461.1 362,1462.7 365,1462.4 368,1463.1 371,1462.5 374,1463.8 377,1463.1 380,1463.7 383,1464.3 386,1464.1 389,1465.4 392,1465.2 395,1465.7 398,1466.7 401,1466.6 404,1467.7 407,1467.7 408,1468.2 410,1467.9 413,1468.6 416,1468.8 419,1467.9 422,1469.1 425,1468.6 428,1469.5 431,1469.6 434,1470.1 437,1469.2 440,1469.8 443,1470.6 446,1471.2 449,1471.1 452,1470.2 455,1471.3 456.7,1470.7 458,1471.6 461,1472.6 464,1472.1 467,1474 470,1474.2 473,1474.2 476,1474.7 479,1475.7 482,1476.9 485,1477.1 488,1476.9 491,1477.4 493.2,1478 494,1479.2 497,1478.9 500,1480.1 503,1480.2 506,1481.5 509,1481.6 512,1481.8 515,1483.6 518,1483.6 521,1484.5 524,1485.3 527,1486.1 530,1485.2 533,1485.6 536,1485.1 539,1485.5 542,1486 545,1485.7 548,1484.3 551,1484.4 554,1485.2 557,1484.8 560,1484.2 563,1484.2 566,1483.5 569,1484.5 572,1483.6 575,1484.2 578,1483.6 581,1482.6 584,1482.8 587,1482.5 590,1483.4 591.5,1482.8 593,1482 596,1482.3 599,1482.7 602,1482.9 605,1483.2 608,1482.9 611,1482.9 614,1482.5 617,1483.4 620,1483.1 623,1482.7 626,1483.5 629,1484.4 632,1483 635,1483.2 638,1484.1 640.8,1483.5 641,1483.5 644,1483.8 647,1483.3 650,1483.7 653,1483.5 656,1484.1 659,1484.1 662,1482.4 665,1483.2 668,1483.4 671,1483.4 674,1483.2 675.2,1482.9 677,1483.8 680,1484.9 683,1486.3 686,1488.6 689,1490.2 690,1490.8 692,1490.6 695,1490.2 698,1491.3 701,1491.5 704,1491.4 707,1491.9 710,1491.7 713,1492.3 716,1492.3 717.1,1491.9 719,1493.2 722,1494.5 725,1496.9 728,1497.4 731,1498.5 734,1499.6 737,1501 739.3,1502.2 740,1502.1 743,1503.2 746,1505.9 749,1506.5 752,1507.8 755,1509.3 756.5,1509.5 758,1509.6 761,1510 764,1511 767,1511.6 770,1512.9 773,1513.2 776,1514.4 779,1514 781.1,1515.4 782,1516.9 785,1522.9 786,1525.3 788,1527.1 791,1529.5 794,1530.2 797,1532.6 800,1533.8 800.8,1535 803,1534 806,1535.2 809,1536.3 812,1535.8 815,1536.2 818,1536.3 821,1537 824,1537.6 827,1538.7 830,1538.4 832.8,1539.1 833,1538.7 836,1538.3 839,1537.7 842,1536.3 845,1534.5 848,1534.3 850,1533.9 851,1533.4 854,1532.7 857,1533.9 860,1534.1 863,1533.4 866,1533.1 869,1533.3 872,1534 875,1534.6 878,1534.3 881,1534.9 884,1533.8 887,1534.1 890,1534.2 893,1533.4 896,1532.4 899,1532.3 902,1531.1 905,1530.1 908,1530.1 911,1528.9 914,1529.2 917,1528.1 920,1527.8 923,1527.3 923.9,1526.6 926,1527.4 929,1527.4 932,1529.6 935,1529.7 938,1531.1 941,1530.3 944,1531.9 947,1532.7 950,1532.8 953,1533.1 956,1533.9 959,1534.6 960.8,1536" fill="none" stroke="#5d98cf" stroke-width="4.5" stroke-linejoin="round" stroke-linecap="round" />
<polyline points="116,1419.5 119,1420.9 122,1420.5 125,1421 128,1421.3 131,1421.5 134,1421.9 137,1422 140,1421.8 140.3,1422.5 143,1422.3 146,1423.7 149,1424.4 152,1425.1 155,1425 158,1426.5 161,1427.4 164,1427.3 164.7,1427.1 167,1429 170,1431.5 173,1432.1 176,1433.8 179,1436.4 182,1438.5 184.1,1440 185,1439.8 188,1442.2 191,1442.3 194,1444.5 197,1444.8 200,1446.1 201.2,1446.8 203,1446.8 206,1447.7 209,1447.9 212,1447.5 215,1448.9 218,1448.1 221,1447.9 224,1448.1 227,1449.2 230,1449.7 233,1448.6 236,1448.6 237.7,1449.8 239,1449.1 242,1450.4 245,1449.8 248,1450.1 251,1449.8 254,1450.7 257,1450.3 260,1450.2 262,1451.2 263,1449.9 266,1450.8 269,1449.6 272,1450.3 275,1449.8 278,1450.4 281,1449 284,1449.6 287,1449.2 290,1449.9 293,1449.8 296,1449.1 299,1448.3 302,1448.2 305,1448.1 308,1448.2 310.7,1447.8 311,1447.7 314,1448.8 317,1448.7 320,1448.3 323,1449.6 326,1448.5 329,1449.2 332,1448.7 335,1450 338,1450.1 341,1449.3 344,1450.2 347,1450.5 350,1449.8 353,1450 356,1450.4 359,1451.2 359.4,1450.1 362,1450.6 365,1450.2 368,1449.7 371,1449.6 374,1449.8 377,1448.4 380,1449.2 383,1448 383.7,1448.6 386,1448.8 389,1447.8 392,1449 395,1449.3 398,1448.2 401,1447.9 404,1448.1 407,1449.5 410,1448.1 413,1449.6 416,1448.4 419,1449.4 422,1448.5 425,1448.7 428,1449.6 431,1448.7 432.4,1449.1 434,1450 437,1449.6 440,1449.8 443,1449.9 446,1448.3 449,1448.6 452,1449.4 455,1449.1 458,1448 461,1448.7 464,1448.2 467,1448.4 470,1447.8 473,1447.6 476,1449.1 479,1448 481,1448.8 482,1447.6 485,1448.1 488,1447.4 491,1447.8 494,1447.4 497,1448.1 500,1447.2 503,1448 506,1447.6 509,1446.9 512,1447.2 515,1447.4 518,1448 521,1447 524,1446.7 527,1447.8 530,1447.6 533,1447.2 536,1446.3 539,1446 542,1446 545,1445.6 548,1445.4 551,1446 554,1445.7 557,1445.7 560,1445.3 563,1444.6 566,1445.5 569,1445.3 572,1445 575,1444.8 578,1444.9 581,1445.2 584,1444.9 587,1444.5 590,1443.8 593,1443.6 596,1443.6 599,1444.3 602,1443.2 603.9,1443.1 605,1443.1 608,1442.6 611,1443.9 614,1442.2 617,1443.1 620,1443.6 623,1442.4 626,1442.9 629,1442.5 632,1442.2 635,1442 638,1441.8 641,1442.9 644,1442.7 647,1442.8 650,1441.4 653,1442.3 656,1441.7 659,1442.1 662,1441.9 665,1441.4 668,1442.4 671,1440.8 674,1441.9 677,1442 677.7,1441.4 680,1441.5 683,1442.2 686,1441 689,1441.6 692,1441.8 695,1441.2 698,1441.7 701,1441.2 704,1441.4 707,1441.6 710,1441.7 713,1441.1 716,1441.6 719,1441.5 722,1441 725,1441.6 727,1441 728,1442 731,1441.1 734,1441.3 737,1440.8 740,1440.6 743,1440 746,1439.7 749,1440.7 752,1439.9 755,1439.7 758,1439.6 761,1439.8 764,1438.7 767,1438.4 770,1439.3 773,1438.5 776,1438.6 776.2,1438.9 779,1438.9 782,1438.7 785,1437.2 788,1437.6 791,1438.2 794,1438 797,1436.7 800,1436.6 803,1436.6 806,1436.3 809,1436.5 812,1437.1 815,1436.5 818,1436.2 821,1435.5 824,1435.8 825.4,1436.7 827,1436.2 830,1435.8 833,1435.9 836,1436.4 839,1436.3 842,1435.3 845,1436.2 848,1435.7 851,1435.9 854,1435.5 857,1435.7 860,1435.6 863,1435.7 866,1435.1 869,1435.4 872,1436 875,1435.2 878,1435.4 881,1436.2 884,1435.5 887,1435.6 890,1435.5 893,1436.4 896,1435.2 899,1436.1 899.3,1436.5 902,1435.4 905,1435.7 908,1436.3 911,1436 914,1435.6 917,1435 920,1435.6 923,1435.5 926,1436 929,1435.3 932,1435.5 935,1435.8 938,1436.1 941,1435.3 944,1435.4 947,1435.6 950,1436.2 953,1435 956,1436.2 959,1435.8 960.8,1435.2" fill="none" stroke="#183e70" stroke-width="5" stroke-linejoin="round" stroke-linecap="round" />
<line x1="982.3" y1="1762.9" x2="982.3" y2="1799.5" stroke="#5a5a5a" stroke-width="2"/>
<line x1="976.3" y1="1762.9" x2="988.3" y2="1762.9" stroke="#5a5a5a" stroke-width="2"/>
<line x1="976.3" y1="1799.5" x2="988.3" y2="1799.5" stroke="#5a5a5a" stroke-width="2"/>
<rect x="971.1" y="1773.5" width="22.4" height="14.9" fill="#b3574c" stroke="#5a5a5a" stroke-width="2"/>
<line x1="971.1" y1="1780.6" x2="993.5" y2="1780.6" stroke="#555555" stroke-width="2"/>
<line x1="991.5" y1="1447.8" x2="991.5" y2="1606.2" stroke="#5a5a5a" stroke-width="2"/>
<line x1="985.5" y1="1447.8" x2="997.5" y2="1447.8" stroke="#5a5a5a" stroke-width="2"/>
<line x1="985.5" y1="1606.2" x2="997.5" y2="1606.2" stroke="#5a5a5a" stroke-width="2"/>
<rect x="980.3" y="1462" width="22.5" height="90" fill="#5b97cf" stroke="#5a5a5a" stroke-width="2"/>
<line x1="980.3" y1="1537.1" x2="1002.8" y2="1537.1" stroke="#555555" stroke-width="2"/>
<line x1="1027.1" y1="1378" x2="1027.1" y2="1446.6" stroke="#5a5a5a" stroke-width="2"/>
<line x1="1021.1" y1="1378" x2="1033.1" y2="1378" stroke="#5a5a5a" stroke-width="2"/>
<line x1="1021.1" y1="1446.6" x2="1033.1" y2="1446.6" stroke="#5a5a5a" stroke-width="2"/>
<rect x="1016" y="1409" width="22.2" height="31.7" fill="#51618a" stroke="#5a5a5a" stroke-width="2"/>
<line x1="1016" y1="1434.8" x2="1038.2" y2="1434.8" stroke="#555555" stroke-width="2"/>
<ellipse cx="1027.1" cy="1358.6" rx="2.2" ry="3.3" fill="#1e1e1e"/>
<ellipse cx="988.5" cy="1464" rx="1.8" ry="3" fill="#404040" fill-opacity="0.55"/>
<ellipse cx="995" cy="1509" rx="1.8" ry="3" fill="#404040" fill-opacity="0.55"/>
<ellipse cx="988" cy="1536" rx="1.8" ry="3" fill="#404040" fill-opacity="0.55"/>
<ellipse cx="990.5" cy="1542" rx="1.8" ry="3" fill="#404040" fill-opacity="0.55"/>
<ellipse cx="993" cy="1559" rx="1.8" ry="3" fill="#404040" fill-opacity="0.55"/>
<ellipse cx="991" cy="1595" rx="1.8" ry="3" fill="#404040" fill-opacity="0.55"/>
<ellipse cx="994" cy="1606" rx="1.8" ry="3" fill="#404040" fill-opacity="0.55"/>
<ellipse cx="1024" cy="1394" rx="1.8" ry="3" fill="#404040" fill-opacity="0.55"/>
<ellipse cx="1025" cy="1410" rx="1.8" ry="3" fill="#404040" fill-opacity="0.55"/>
<ellipse cx="1025" cy="1425" rx="1.8" ry="3" fill="#404040" fill-opacity="0.55"/>
<ellipse cx="1026" cy="1437" rx="1.8" ry="3" fill="#404040" fill-opacity="0.55"/>
<ellipse cx="1026" cy="1444" rx="1.8" ry="3" fill="#404040" fill-opacity="0.55"/>
<ellipse cx="981" cy="1768" rx="1.8" ry="3" fill="#404040" fill-opacity="0.55"/>
<ellipse cx="983" cy="1775" rx="1.8" ry="3" fill="#404040" fill-opacity="0.55"/>
<ellipse cx="984" cy="1782" rx="1.8" ry="3" fill="#404040" fill-opacity="0.55"/>
<ellipse cx="986" cy="1790" rx="1.8" ry="3" fill="#404040" fill-opacity="0.55"/>
<ellipse cx="982" cy="1796" rx="1.8" ry="3" fill="#404040" fill-opacity="0.55"/>
<ellipse cx="985" cy="1761" rx="1.8" ry="3" fill="#404040" fill-opacity="0.55"/>
<rect x="116.3" y="1335.3" width="845.2" height="488.9" fill="none" stroke="#3c3c3c" stroke-width="1.7"/>
<line x1="105.3" y1="1423" x2="116.3" y2="1423" stroke="#3c3c3c" stroke-width="1.6"/>
<text x="91.8" y="1431.5" font-size="24" fill="#231f20" text-anchor="end" font-weight="normal" >0</text>
<line x1="105.3" y1="1342.7" x2="116.3" y2="1342.7" stroke="#3c3c3c" stroke-width="1.6"/>
<text x="91.8" y="1351.2" font-size="24" fill="#231f20" text-anchor="end" font-weight="normal" >20</text>
<line x1="105.3" y1="1503.3" x2="116.3" y2="1503.3" stroke="#3c3c3c" stroke-width="1.6"/>
<text x="91.8" y="1511.8" font-size="24" fill="#231f20" text-anchor="end" font-weight="normal" >−20</text>
<line x1="105.3" y1="1583.6" x2="116.3" y2="1583.6" stroke="#3c3c3c" stroke-width="1.6"/>
<text x="91.8" y="1592.1" font-size="24" fill="#231f20" text-anchor="end" font-weight="normal" >−40</text>
<line x1="105.3" y1="1663.9" x2="116.3" y2="1663.9" stroke="#3c3c3c" stroke-width="1.6"/>
<text x="91.8" y="1672.4" font-size="24" fill="#231f20" text-anchor="end" font-weight="normal" >−60</text>
<line x1="105.3" y1="1744.3" x2="116.3" y2="1744.3" stroke="#3c3c3c" stroke-width="1.6"/>
<text x="91.8" y="1752.8" font-size="24" fill="#231f20" text-anchor="end" font-weight="normal" >−80</text>
<line x1="136.5" y1="1824.2" x2="136.5" y2="1835.2" stroke="#3c3c3c" stroke-width="1.6"/>
<text x="136.5" y="1864.7" font-size="24" fill="#231f20" text-anchor="middle" font-weight="normal" textLength="60" lengthAdjust="spacingAndGlyphs">2000</text>
<line x1="301.5" y1="1824.2" x2="301.5" y2="1835.2" stroke="#3c3c3c" stroke-width="1.6"/>
<text x="301.5" y="1864.7" font-size="24" fill="#231f20" text-anchor="middle" font-weight="normal" textLength="60" lengthAdjust="spacingAndGlyphs">2200</text>
<line x1="466.5" y1="1824.2" x2="466.5" y2="1835.2" stroke="#3c3c3c" stroke-width="1.6"/>
<text x="466.5" y="1864.7" font-size="24" fill="#231f20" text-anchor="middle" font-weight="normal" textLength="60" lengthAdjust="spacingAndGlyphs">2400</text>
<line x1="631.5" y1="1824.2" x2="631.5" y2="1835.2" stroke="#3c3c3c" stroke-width="1.6"/>
<text x="631.5" y="1864.7" font-size="24" fill="#231f20" text-anchor="middle" font-weight="normal" textLength="60" lengthAdjust="spacingAndGlyphs">2600</text>
<line x1="796.5" y1="1824.2" x2="796.5" y2="1835.2" stroke="#3c3c3c" stroke-width="1.6"/>
<text x="796.5" y="1864.7" font-size="24" fill="#231f20" text-anchor="middle" font-weight="normal" textLength="60" lengthAdjust="spacingAndGlyphs">2800</text>
<line x1="961.5" y1="1824.2" x2="961.5" y2="1835.2" stroke="#3c3c3c" stroke-width="1.6"/>
<text x="961.5" y="1864.7" font-size="24" fill="#231f20" text-anchor="middle" font-weight="normal" textLength="60" lengthAdjust="spacingAndGlyphs">3000</text>
<text x="538.9" y="1901.5" font-size="27.5" fill="#231f20" text-anchor="middle" font-weight="normal" textLength="54" lengthAdjust="spacingAndGlyphs">Year</text>
<text x="0" y="0" font-size="28" fill="#231f20" text-anchor="middle" transform="translate(31.4,1579.8) rotate(-90)" textLength="360" lengthAdjust="spacingAndGlyphs">Floating-ice-area change (%)</text>
<text x="10" y="1335.5" font-size="40" fill="#231f20" text-anchor="start" font-weight="bold" >c</text>
<polygon points="116,2020.3 118.5,2017.2 121,2014.2 123.5,2013.1 126,2009.8 128.5,2007.6 130.6,2005.5 131,2006.5 133.5,2007.3 136,2006.9 138.5,2009.2 141,2010 143.5,2011.1 146,2013 148.5,2013.3 151,2014.5 152.5,2016 153.5,2015.8 156,2017.7 158.5,2019.5 161,2021.9 163.5,2023.4 166,2025.4 168.5,2026.5 169.5,2026.5 171,2027.9 173.5,2028 176,2028.7 178.5,2029 181,2028.1 183.5,2028.6 186,2028.6 188.5,2030.4 189,2029 191,2032.6 193.5,2038.4 196,2042.5 198.5,2046 201,2051.7 201.2,2052.1 203.5,2053.5 206,2054.7 208.5,2058 211,2059.5 213.3,2061.7 213.5,2062.7 216,2064.8 218.5,2067.4 221,2068.4 223.5,2071.3 225.5,2073.6 226,2073.2 228.5,2078.2 231,2079.7 233.5,2082.7 236,2085.8 237.7,2087.7 238.5,2089.5 241,2090.9 243.5,2092.8 246,2094.6 248.5,2095.8 251,2098.3 253.5,2101.4 254.7,2102.2 256,2104.7 258.5,2108.1 261,2112.6 262,2114.1 263.5,2118.7 266,2124.3 268.5,2130.5 271,2136.5 273.5,2142.7 274.2,2143.9 276,2143.7 278.5,2141 281,2141 283.5,2138.7 286,2136.2 286.4,2136.5 288.5,2140.8 291,2145.2 293.5,2150.1 296,2154.2 298.5,2158.7 301,2164.3 303.5,2162 306,2161.6 308.5,2160.6 311,2158.9 313.5,2157.4 315.6,2157.3 316,2156.9 318.5,2161.8 321,2164.2 323.5,2169 326,2173.4 327.7,2175 328.5,2177 331,2176.7 333.5,2178.9 336,2179.3 337.5,2181.5 338.5,2181.5 341,2183.7 343.5,2184.7 344.8,2185.9 346,2180.5 348.5,2168.3 349.6,2163.1 351,2163.7 353.5,2161 356,2161.3 358.5,2158.7 359.4,2158 361,2157.7 363.5,2158.6 366,2158.4 368.5,2156.8 371,2156.8 373.5,2155.5 376,2156.3 378.5,2155.4 381,2153.8 383.5,2153.2 383.7,2154.4 386,2157.7 388.5,2164.2 391,2168.1 393.5,2173 395.9,2178.5 396,2177.8 398.5,2174.8 401,2170.4 403.5,2168.4 406,2163.8 408,2162 408.5,2160 411,2158.1 413.5,2155.4 416,2151.1 418.5,2147.2 421,2144.8 423.5,2142.2 426,2138.2 427.5,2137 428.5,2136.2 431,2137.3 433.5,2138.2 436,2138 438.5,2138.9 441,2138.1 443.5,2139.9 444.5,2138.6 446,2133.2 448.5,2121.7 451,2109.9 451.8,2105.4 453.5,2103.2 456,2100.8 458.5,2099.1 461,2096.1 461.6,2096.4 463.5,2094.3 466,2094.6 468.5,2094.9 471,2093.8 473.5,2093.2 476,2091.8 478.5,2091.4 481,2091.2 483.5,2092 485.9,2091.4 486,2090.2 488.5,2092.9 491,2092.4 493.5,2094.8 496,2096.8 498.5,2096.9 501,2099.4 503.5,2100.1 506,2100.2 507.8,2101.7 508.5,2100.8 511,2096.7 513.5,2093.9 516,2088.9 518.5,2086.4 521,2081.6 523,2078.1 523.5,2079.5 526,2080.8 528.5,2083.8 530,2085.6 531,2086.5 533.5,2089.5 536,2091.9 538.5,2096.1 540,2097.2 541,2098.3 543.5,2097.3 546,2098.2 548.5,2101.5 550,2103.7 551,2105.1 553.5,2106.1 555,2107.3 556,2107.3 558.5,2102.1 560,2100.7 561,2098.9 563.5,2093.6 565.5,2089.3 566,2086.2 567.5,2078.8 568.5,2076.8 571,2076.5 573.5,2075.5 574.6,2074.2 576,2075.5 578.5,2075.9 581,2077.6 583.5,2078.6 586,2079.3 588.5,2080 591,2081.4 592,2081.4 593.5,2081.5 596,2082.1 598.5,2083.7 601,2083.3 603.5,2084.4 606,2083 608.5,2082.3 611,2078.8 613.5,2076.9 616,2073.9 618.5,2071.5 621,2068 623.5,2066.5 626,2064.9 628.5,2064.7 631,2063.9 633.5,2064.2 636,2064.1 638.5,2063.2 641,2064 643.5,2062 646,2062.6 648.5,2061.5 649,2062.2 651,2062.1 653.5,2061.4 656,2059.6 658.5,2059.4 661,2059.5 663.5,2059.7 666,2057.3 667,2058.2 668.5,2058.5 671,2058.9 673.5,2058.2 676,2059.3 678.5,2058.8 681,2059.9 683.5,2058.3 686,2060.3 688.5,2059.5 691,2059.7 693,2059.2 693.5,2059.6 696,2061 698.5,2061.4 701,2060.8 703.5,2061.6 706,2061.7 708.5,2062.3 711,2062.8 713.5,2063.5 716,2065.2 718.5,2065.7 720,2065.6 721,2065.2 723.5,2065.9 726,2067.1 728.5,2067.9 731,2068.3 733.5,2068.6 736,2068.4 738.5,2069.9 740,2070.7 741,2070.5 743.5,2068.9 746,2069.9 748.5,2069 751,2068.4 753.5,2069.8 756,2069 758.5,2068.9 761,2067.5 763.5,2068.7 766,2068.7 768.5,2068.4 771,2067.9 773.5,2067.9 776,2067.6 778.5,2067 781,2066.5 783.5,2067 786,2066.7 788.5,2066.7 791,2065.3 793.5,2066.5 796,2065.4 798.5,2066 800,2064.2 801,2065.9 803.5,2065.6 806,2064.5 808.5,2065.7 811,2064.5 813.5,2064.4 816,2064.9 818.5,2064.5 821,2065 823.5,2065.8 826,2065.4 828.5,2065.4 831,2064.8 833.5,2065.6 836,2065.6 838.5,2065.4 841,2065.9 843.5,2065.7 846,2064.8 848.5,2064.2 850,2065.3 851,2065.7 853.5,2064.9 856,2065.5 858.5,2066.2 861,2066.2 863.5,2064.8 866,2065.9 868.5,2065.1 871,2065.5 873.5,2067 876,2066.4 878.5,2066.9 881,2066.8 883.5,2066.7 886,2066.6 888.5,2067 891,2068.1 893.5,2067.8 896,2067.3 898.5,2067.1 900,2067.5 901,2068.5 903.5,2068.2 906,2068.8 908.5,2069.4 911,2068.2 913.5,2069.5 916,2068.5 918.5,2070.3 921,2069.2 923.5,2069.6 926,2071.2 928.5,2070.2 931,2070.1 933.5,2071.7 936,2071.4 938.5,2072.1 941,2071.4 943.5,2071.8 946,2072.9 946,2101.2 944,2103.3 942,2102.9 940,2103 938,2104 936,2103.8 934,2105.3 932,2104.3 930,2105.6 928,2106.6 926,2107.2 924,2107.4 923.9,2107.4 922,2113.2 920,2121.3 918,2128.2 916,2133.8 914,2140.3 912,2145.9 910,2150.3 908,2155.1 906,2160.8 904,2166 902,2167.9 900,2170 898,2172.6 896,2174.3 894.4,2176.8 894,2173.9 892,2164.3 890,2155.8 888,2146.9 886,2137.8 884.5,2131 884,2131.3 882,2128.5 880,2127.3 878,2123.5 876,2122.6 874,2119.4 872,2118 870,2115.4 868,2113.1 866,2113.4 864,2112.7 862,2111.8 860,2110.6 858,2110.5 856,2110.8 854,2110.3 852,2110.2 850,2109.8 848,2109.9 846,2110 844,2110.2 842,2110.4 840,2109.2 838,2109.1 837.7,2109 836,2111 834,2112 832,2111.8 830,2111.5 828,2113.3 826,2112.9 824,2113.6 823,2113.4 822,2119.9 820.5,2127.3 820,2128.1 818,2130.8 816,2135.3 814,2139.7 812,2144.6 810,2146.8 808.2,2151.1 808,2150.4 806,2149.3 804,2146.2 802,2144.9 800,2143.6 798,2141.7 796,2138 795.9,2139.4 794,2140.6 792,2144.1 790,2146.7 788,2150 786,2151.9 784,2154.7 783.6,2156.7 782,2160 780,2164.7 778,2169.1 776.2,2173.9 776,2174.3 774,2184.2 772,2191.9 770,2203 768,2212.3 766.3,2220 766,2216.7 764,2204.6 762,2191 760,2179.3 758,2165.2 756.5,2156.5 756,2162.8 754,2184.2 752,2208.6 751.6,2211.7 750,2216.3 748,2221.8 746,2228.4 745.4,2229.5 744,2215.2 742,2193.5 741.7,2189.4 740,2179.7 738,2165.1 736,2151.6 734.3,2140.4 734,2141.5 732,2138.8 730,2134 728,2130.9 726,2129.3 724.5,2126.9 724,2129.1 722,2136.7 720,2143.5 718,2150.7 716,2159.8 714,2165.9 712.2,2172.4 712,2174 710,2179.4 708,2182.7 706,2188.2 704,2193.5 702.3,2197.5 702,2196.5 700,2196.2 698,2194.9 696,2193.1 694,2192 692,2189.9 690,2190 688,2187.4 686,2186.9 684,2186.2 682.6,2185.2 682,2185.9 680,2188.6 678,2191 676,2193.8 674,2197.6 672,2199.6 670,2203.1 669.1,2205.4 668,2201.5 666,2196.6 664,2192.7 662.9,2189.8 662,2186.2 660,2176 658,2165.6 656,2164.6 654,2165 652,2165.2 650,2163 648.2,2163.4 648,2164.5 646,2168.5 644,2170.9 642,2175.6 640,2180 638.3,2182.6 638,2182.1 636,2181.3 634,2181.7 632,2180.7 630,2178.8 628,2178.5 626,2176.9 624,2177 623.5,2176.7 622,2178 620,2180.7 619.9,2179 618,2190.3 616,2201.5 614,2213.4 612.5,2222 612,2219.4 610,2212.6 608,2207.1 606,2199.5 604,2193.2 603.9,2193.1 602,2190.8 600,2187.1 598,2185 596.5,2181.8 596,2182.9 594,2187.5 592,2192.9 590,2198.2 589.1,2200.5 588,2198.6 586,2196.7 584,2195 582,2194 580,2193.9 579.2,2192.6 578,2194.6 576,2200 574,2204.9 572,2210.6 570,2215.8 569.4,2217.6 568,2222.3 566,2231.7 564.5,2238.2 564,2240.3 562,2243.3 560,2246.7 558,2249.7 556,2252.3 554.6,2254.8 554,2255.3 552,2258.3 550,2260.9 548,2264.1 546,2268.3 544.8,2269.3 544,2267.2 542,2261.1 540,2255.2 538,2247.8 537.4,2246.1 536,2244.4 534,2241.2 532,2238.8 530,2236.3 529.7,2236.4 528,2235.2 526,2233.4 524,2231.4 522,2230.8 520,2228.6 518,2229.1 516,2226.5 515.1,2227.1 514,2226.4 512,2226 510,2225 508,2223 506,2223 504,2222 502,2221.1 500,2220.7 498,2220.2 496,2219.3 495.7,2218 494,2226.1 492,2235 490,2242.7 488.4,2251.2 488,2251.1 486,2259.1 484,2266.6 482,2273.7 480,2279.4 478,2287.6 476,2293.4 474,2301.1 473.8,2301.4 472,2296.9 470,2292.5 468,2286.7 466,2281.5 464,2278 462,2289.7 460,2304.6 458,2317.4 456.7,2325.9 456,2326.1 454,2329.4 452,2332 450,2335.9 448.2,2337.2 448,2336.6 446,2325 444,2310.9 442,2299.5 440,2286.2 439.7,2285.2 438,2282.2 436,2277.6 434,2272.5 432,2268.8 430,2264.8 429.9,2264.7 428,2262.7 426,2258.9 424,2254.5 422.6,2252.6 422,2252.7 420,2251.1 418,2249.4 416,2246.5 414,2246.2 412.9,2244.8 412,2247.7 410,2253.4 408,2259.4 406,2265.2 404,2270.2 403.2,2273 402,2273.2 400,2272.9 398,2274.9 396,2275.4 394,2276.2 392,2275.7 390,2277 388.6,2277.1 388,2280.7 386,2291.9 384,2303.2 382,2313.4 380,2324.2 378.8,2330 378,2333 376,2338.6 374,2346.2 372,2351.7 370,2357.4 369.1,2360.2 368,2372.2 366,2391.5 364,2412.5 362,2434 361.8,2435.3 360,2430.4 358,2425.9 356,2421 354,2414.6 352,2410 350.8,2406.7 350,2395.9 348,2369.8 346,2342.3 344.8,2325.6 344,2321.3 342,2312.7 340,2302 339.9,2302.1 338,2308.5 336,2314.8 334,2320.5 332.6,2325.5 332,2328.9 330,2341.4 328,2351.4 326.5,2360.2 326,2357.3 324,2342 322,2329.7 320,2315 318,2302 316,2271.5 314,2242.2 313.1,2229.5 312,2232 310,2238.5 308.3,2245 308,2244.7 306,2243.5 304,2242.3 302,2241.9 300,2239.7 298.5,2239.2 298,2237.9 296.1,2229 296,2229.8 294,2238 292,2247.8 291.2,2250 290,2251.7 288,2255.8 286,2257.3 284,2260 283.9,2259.8 282,2265.6 280,2272.6 278,2278.8 277.8,2279.2 276.6,2261.2 276,2254.4 274,2235.9 272,2219.2 271.8,2217.4 270,2205.5 268,2193.4 266,2180.9 265.7,2179.6 264,2154.1 262,2125.5 260,2120.2 258,2117.5 256,2112.7 254.7,2109.3 254,2109.1 252,2108.2 250,2106.5 248,2104.2 246,2101.6 244,2100.1 242,2099.2 240,2097.4 238,2096.2 237.7,2094.8 236,2093.3 234,2091.2 232,2088.6 230,2086.9 228,2083.4 226,2081.3 225,2079.6 224,2079.5 222,2076.6 220,2075.3 218,2073.5 216,2070.8 214,2068.1 213,2068.2 212,2067.1 210,2064 208,2063.4 206,2061.3 204,2057.5 202,2055.7 201,2054.1 200,2055.2 198,2054.5 196,2054.2 194,2053.3 192,2052.1 190,2051.7 188,2051.3 186,2051 185,2049.1 184,2050.6 182,2048.7 180,2048.3 178,2048.5 176,2047.4 174,2046.4 172,2045.4 170,2045.3 168,2043.8 166,2041.7 164,2041.4 162,2038.9 160,2037.7 158,2035.2 156,2034.8 154,2033.8 152,2032.4 150,2029.8 148,2029.7 146,2030.1 144,2029.2 142,2028 140,2028.2 138,2027.7 136,2028.6 134,2027.6 132,2028.2 130,2026.4 128,2025.8 126,2026.5 124,2025.5 122,2026.5 120,2025 118,2026.3 116,2025" fill="#b3574c" />
<polygon points="116,2005.4 119,2005.8 122,2006.8 125,2006.1 128,2005 131,2004.5 134,2004.3 137,2003 140,2003.1 143,2005.5 146,2009.1 149,2010.7 152,2010.9 155,2013.5 158,2015 161,2015.7 164,2017.8 164.7,2018 167,2018.8 170,2020.1 173,2019.6 176,2019 179,2018.9 182,2018.1 185,2017.2 188,2017.9 191,2019.7 194,2020 197,2020.3 200,2019.7 203,2019.7 206,2018.5 209,2016.9 212,2018.7 215,2020.1 218,2020.4 221,2020.6 224,2020.4 227,2020 230,2018.7 233,2017.3 236,2019 239,2019.8 242,2020.5 245,2020.7 248,2021.8 251,2021.1 254,2018.8 257,2018.3 260,2019.8 263,2020.1 266,2020.8 269,2021.1 272,2021.5 275,2021.2 278,2020.2 281,2019.4 284,2019.6 287,2020.2 290,2021.1 293,2021.9 296,2022 299,2021.1 300,2020.6 302,2020.1 305,2020.8 308,2020.1 311,2020.6 314,2021 317,2021.9 320,2023.1 323,2021.4 326,2021.4 329,2020.8 332,2020.5 335,2020.5 338,2021.3 341,2023.3 344,2023.7 347,2022.1 350,2022.3 353,2021.5 356,2020.7 359,2021.2 362,2022.2 365,2023 368,2024.2 371,2022.7 374,2022.6 377,2022.7 380,2020.8 383,2020.9 386,2022.2 389,2023.3 392,2024 395,2023.5 398,2023.8 400,2023.2 401,2022.8 404,2021.8 407,2021.5 410,2023.1 413,2024 416,2023.5 419,2023.9 422,2024.4 425,2023.2 428,2021.4 431,2021.6 434,2023.4 437,2023.8 440,2023.4 443,2025 446,2024.5 449,2023.1 452,2022 455,2021.9 458,2022.6 461,2023.7 464,2023.5 467,2024.9 470,2023.9 473,2023.4 476,2022.6 479,2022.3 482,2022.7 485,2023.3 488,2023.5 491,2024.7 494,2024.3 497,2023.5 500,2023 503,2022.5 506,2023.2 509,2022.7 512,2023.7 515,2025 518,2024.3 521,2023 524,2022.9 527,2022.6 530,2022.5 533,2022.7 536,2024.3 539,2025.7 542,2025 545,2023.9 548,2023.9 551,2022.8 554,2021.7 557,2022.7 560,2024.2 563,2025.6 566,2024.9 569,2024.7 572,2023.5 575,2022.9 578,2022 581,2023.6 584,2024.5 587,2025.4 590,2024.5 593,2024.8 596,2024.5 599,2023.3 600,2022.7 602,2022.5 605,2023.9 608,2024.8 611,2024.4 614,2025.2 617,2025.3 620,2024.6 623,2022.9 626,2022.8 629,2024.1 632,2024.2 635,2024.4 638,2025 641,2025.1 644,2024.2 647,2022.7 650,2023 653,2024.2 656,2024.2 659,2024.4 662,2025.1 665,2025.3 668,2024.1 671,2023.2 674,2023.5 677,2023 680,2023.8 683,2023.7 686,2025.5 689,2025.2 692,2023.7 695,2023.6 698,2023.2 701,2023.2 704,2023.6 707,2024 710,2025.1 713,2025.1 716,2024.2 719,2023.4 722,2023 725,2023 728,2023.1 731,2024.3 734,2026 737,2025.1 740,2024.4 743,2023.8 746,2023.3 749,2022.5 752,2023.4 755,2024.8 758,2025.1 761,2025.2 764,2024.3 767,2024 770,2023.4 773,2022.5 776,2023.5 779,2024.6 782,2025.2 785,2024.7 788,2024.4 791,2024.4 794,2023.2 797,2022.1 800,2023.3 803,2024.4 806,2024.4 809,2024.6 812,2025.2 815,2024.9 818,2023.3 821,2022.3 824,2023 827,2024.4 830,2023.7 833,2025 836,2025.2 839,2024.2 842,2023.6 845,2022.4 848,2023 851,2023.7 854,2023.5 857,2025.3 860,2025.3 863,2024.1 866,2022.8 869,2023.2 872,2023.1 875,2023.5 878,2024 881,2025.5 884,2026.3 887,2024.5 890,2023.1 893,2023.3 896,2022.5 899,2022.4 902,2023.8 905,2025.6 908,2025.5 911,2024.1 914,2023.6 917,2023.8 920,2022.5 923,2022.8 926,2024.2 929,2025.1 932,2025.8 935,2024.8 938,2023.7 941,2024.2 944,2022.7 946,2022.1 946,2099.5 943.5,2100.6 941,2100.6 938.5,2100.4 936,2099.4 933.5,2100.2 931,2099.2 928.5,2100.6 926,2100.6 923.5,2099.5 921,2100.4 920,2099.8 918.5,2102.2 916,2104.1 913.5,2106.9 911,2110.9 908.5,2114.6 906,2116.1 903.5,2119.7 901,2122.3 898.5,2126.1 896,2129.2 894,2130.5 893.5,2130.9 891,2128 888.5,2124.2 886,2121.7 883.5,2118.8 881,2116 878.5,2113.7 876,2111.5 873.5,2108.6 871,2105.7 870,2105 868.5,2104.4 866,2103.5 863.5,2104.6 861,2104.1 858.5,2101.9 856,2101.2 853.5,2102.7 851,2101.6 848.5,2100.2 846,2099.7 845,2099 843.5,2105 841,2111.7 838.5,2119.2 836,2127 835,2130.5 833.5,2127.3 831,2120.1 828.5,2112.2 826,2105.6 823.5,2099.6 823,2098.8 821,2098.9 818.5,2098.7 816,2099.5 813.5,2098.7 811,2099.1 808.5,2100.3 806,2099.5 803.5,2101.3 801,2101.1 798.5,2101.2 796,2101.6 793.5,2102.2 791,2102.4 790,2102.9 788.5,2101.5 786,2100.8 783.5,2101.5 781,2099.8 778.5,2100.4 776,2099.5 773.5,2099.7 771,2099.9 768.5,2098.8 766,2099 763.5,2099.4 761,2098.3 760,2097.2 758.5,2098 756,2098.2 753.5,2097.9 751,2098 748.5,2098.7 746,2098.8 743.5,2099.1 741,2099.2 740,2100.5 738.5,2100.2 736,2099.3 733.5,2099.8 731,2098.6 728.5,2099.7 726,2099.5 723.5,2098.2 721,2097.5 720,2098.9 718.5,2097.4 716,2096.3 713.5,2096.6 711,2096.2 708.5,2093.9 706,2094.1 703.5,2093.5 701,2092.7 700,2092 698.5,2087.6 696,2083.5 693.5,2077.5 693,2075.9 691,2078.7 688.5,2082 686,2083.7 683.5,2088 681,2090.7 678.5,2093.5 676,2096.3 675,2097.5 673.5,2104.9 671,2114.9 668.5,2126.6 667,2133.8 666,2132.2 663.5,2132.4 661,2133.9 658.5,2133.8 656,2133.6 653.5,2133.2 651,2133.3 649.5,2132.5 649,2086.2 648.5,2087 646,2087.3 643.5,2087.6 641,2087.7 638.5,2087.1 636,2086.8 633.5,2087.7 631,2087.9 628.5,2086.6 626,2086.6 623.5,2086 623,2132.2 621,2133.8 618.5,2132.1 616,2132.8 613.5,2133.9 611,2132.5 608.5,2133.9 606.5,2133.7 606,2090.3 603.5,2090.8 601,2089.8 598.5,2089.9 596,2090.2 593.5,2089.3 592.5,2089.5 592,2132.1 591,2133.8 588.5,2133.2 586,2133 583.5,2132.3 581,2132.3 578.5,2133.9 576,2132.2 574.6,2132.5 573.5,2132.3 571,2133.4 568.5,2133.1 567.5,2132.9 567,2089.5 566,2090.2 565.5,2089 563.5,2087 561,2081.1 560,2079.7 558.5,2078.4 556,2078.7 555,2077.7 553.5,2079 551,2080.8 550,2082.9 548.5,2093.5 548,2097.9 546,2118 543.5,2116.4 541,2117.7 540,2116.4 538.5,2108.7 537,2101 536,2098.3 533.5,2094.9 531,2089.7 530,2088 528.5,2085.5 526,2083.7 523.5,2078.6 521,2076.7 520,2074.8 518.5,2074.6 516,2071.7 513.5,2069.8 512,2067.4 511,2066.8 508.5,2066.1 506,2064.1 503.5,2063.2 501,2061.7 500,2062.8 498.5,2063.5 496,2064.9 493.5,2066.9 493,2068.8 491,2066.2 488.5,2065.3 486,2063.2 485,2062.9 483.5,2062 481,2059.7 478.5,2059.7 476,2058.6 475,2058 473.5,2057.8 471,2059 468.5,2059.9 466,2059.9 463.5,2061.5 461,2065 458.5,2067.8 458,2067 456,2068.4 453.5,2070.2 452,2072 451,2069 448.5,2066.2 446,2063.6 445,2061.4 443.5,2060.9 441,2059.9 438.5,2057.9 436,2058 435,2056.9 433.5,2050.3 433,2046.5 431,2046.2 428.5,2046.4 426,2047.7 423.5,2046.3 421,2046.5 420,2047 418.5,2047.4 416,2044.9 413.5,2045.5 411,2044.9 408.5,2043.9 406,2042.5 405,2042.5 403.5,2042.3 401,2043.5 398.5,2046 396,2048.3 395,2047.9 393.5,2047 391,2045.3 388.5,2044.2 386,2043.7 383.5,2042.1 381,2040.8 380,2041 378.5,2040.5 376,2040.8 373.5,2042.5 371,2042.4 368.5,2042.1 366,2043.2 363.5,2042.8 361,2043.6 359.4,2045.1 358.5,2044.6 356,2043.2 353.5,2044.6 351,2043.5 348.5,2043.6 346,2042.8 343.5,2042.6 341,2042 338.5,2041.7 336,2041.5 333.5,2042.4 331,2041.4 328.5,2040.9 326,2041.7 323.5,2040.4 322.9,2040 321,2040.7 318.5,2040.1 316,2039.6 313.5,2040.4 311,2038.9 308.5,2039.8 306,2038.8 303.5,2039.8 301,2037.8 298.5,2039 296,2037.1 293.5,2036.9 291,2037 288.5,2037.5 286.4,2037.4 286,2036.8 283.5,2037.9 281,2036 278.5,2036 276,2035.9 273.5,2036.8 271,2036.5 268.5,2036.5 266,2035.4 263.5,2036.8 261,2035.2 258.5,2034.7 256,2035.2 253.5,2035.8 251,2036 248.5,2035.9 246,2034.6 243.5,2035.6 241,2033.9 238.5,2035.4 237.7,2034.4 236,2035.3 233.5,2033.3 231,2034.2 228.5,2033.2 226,2033.3 223.5,2032.4 221,2031.8 218.5,2031 216,2030.8 213.5,2031.6 211,2030.2 208.5,2030.7 206,2030.9 203.5,2029.6 201,2028.4 198.5,2028.1 196,2028.2 193.5,2027.1 191,2026.8 189,2026.5 188.5,2027.1 186,2028.5 183.5,2029 181,2029.7 178.5,2030.2 176,2031 173.5,2032.2 171,2031.4 169.5,2031.7 168.5,2035 166,2039.5 163.5,2045.8 162.2,2048.8 161,2049.4 158.5,2048.6 156,2047.6 154.9,2047.3 153.5,2043.5 151,2037.1 148.5,2032.9 147.6,2030.2 146,2025.6 143.5,2019.3 141,2015.2 140.3,2012.4 138.5,2012.2 136,2011.8 133.5,2013.5 131,2012.9 128.5,2013.2 126,2012.1 123.5,2013.1 121,2012.2 118.5,2012.4 116,2012.1" fill="#91b1d7" />
<clipPath id="c8"><polygon points="116,2020.3 118.5,2017.2 121,2014.2 123.5,2013.1 126,2009.8 128.5,2007.6 130.6,2005.5 131,2006.5 133.5,2007.3 136,2006.9 138.5,2009.2 141,2010 143.5,2011.1 146,2013 148.5,2013.3 151,2014.5 152.5,2016 153.5,2015.8 156,2017.7 158.5,2019.5 161,2021.9 163.5,2023.4 166,2025.4 168.5,2026.5 169.5,2026.5 171,2027.9 173.5,2028 176,2028.7 178.5,2029 181,2028.1 183.5,2028.6 186,2028.6 188.5,2030.4 189,2029 191,2032.6 193.5,2038.4 196,2042.5 198.5,2046 201,2051.7 201.2,2052.1 203.5,2053.5 206,2054.7 208.5,2058 211,2059.5 213.3,2061.7 213.5,2062.7 216,2064.8 218.5,2067.4 221,2068.4 223.5,2071.3 225.5,2073.6 226,2073.2 228.5,2078.2 231,2079.7 233.5,2082.7 236,2085.8 237.7,2087.7 238.5,2089.5 241,2090.9 243.5,2092.8 246,2094.6 248.5,2095.8 251,2098.3 253.5,2101.4 254.7,2102.2 256,2104.7 258.5,2108.1 261,2112.6 262,2114.1 263.5,2118.7 266,2124.3 268.5,2130.5 271,2136.5 273.5,2142.7 274.2,2143.9 276,2143.7 278.5,2141 281,2141 283.5,2138.7 286,2136.2 286.4,2136.5 288.5,2140.8 291,2145.2 293.5,2150.1 296,2154.2 298.5,2158.7 301,2164.3 303.5,2162 306,2161.6 308.5,2160.6 311,2158.9 313.5,2157.4 315.6,2157.3 316,2156.9 318.5,2161.8 321,2164.2 323.5,2169 326,2173.4 327.7,2175 328.5,2177 331,2176.7 333.5,2178.9 336,2179.3 337.5,2181.5 338.5,2181.5 341,2183.7 343.5,2184.7 344.8,2185.9 346,2180.5 348.5,2168.3 349.6,2163.1 351,2163.7 353.5,2161 356,2161.3 358.5,2158.7 359.4,2158 361,2157.7 363.5,2158.6 366,2158.4 368.5,2156.8 371,2156.8 373.5,2155.5 376,2156.3 378.5,2155.4 381,2153.8 383.5,2153.2 383.7,2154.4 386,2157.7 388.5,2164.2 391,2168.1 393.5,2173 395.9,2178.5 396,2177.8 398.5,2174.8 401,2170.4 403.5,2168.4 406,2163.8 408,2162 408.5,2160 411,2158.1 413.5,2155.4 416,2151.1 418.5,2147.2 421,2144.8 423.5,2142.2 426,2138.2 427.5,2137 428.5,2136.2 431,2137.3 433.5,2138.2 436,2138 438.5,2138.9 441,2138.1 443.5,2139.9 444.5,2138.6 446,2133.2 448.5,2121.7 451,2109.9 451.8,2105.4 453.5,2103.2 456,2100.8 458.5,2099.1 461,2096.1 461.6,2096.4 463.5,2094.3 466,2094.6 468.5,2094.9 471,2093.8 473.5,2093.2 476,2091.8 478.5,2091.4 481,2091.2 483.5,2092 485.9,2091.4 486,2090.2 488.5,2092.9 491,2092.4 493.5,2094.8 496,2096.8 498.5,2096.9 501,2099.4 503.5,2100.1 506,2100.2 507.8,2101.7 508.5,2100.8 511,2096.7 513.5,2093.9 516,2088.9 518.5,2086.4 521,2081.6 523,2078.1 523.5,2079.5 526,2080.8 528.5,2083.8 530,2085.6 531,2086.5 533.5,2089.5 536,2091.9 538.5,2096.1 540,2097.2 541,2098.3 543.5,2097.3 546,2098.2 548.5,2101.5 550,2103.7 551,2105.1 553.5,2106.1 555,2107.3 556,2107.3 558.5,2102.1 560,2100.7 561,2098.9 563.5,2093.6 565.5,2089.3 566,2086.2 567.5,2078.8 568.5,2076.8 571,2076.5 573.5,2075.5 574.6,2074.2 576,2075.5 578.5,2075.9 581,2077.6 583.5,2078.6 586,2079.3 588.5,2080 591,2081.4 592,2081.4 593.5,2081.5 596,2082.1 598.5,2083.7 601,2083.3 603.5,2084.4 606,2083 608.5,2082.3 611,2078.8 613.5,2076.9 616,2073.9 618.5,2071.5 621,2068 623.5,2066.5 626,2064.9 628.5,2064.7 631,2063.9 633.5,2064.2 636,2064.1 638.5,2063.2 641,2064 643.5,2062 646,2062.6 648.5,2061.5 649,2062.2 651,2062.1 653.5,2061.4 656,2059.6 658.5,2059.4 661,2059.5 663.5,2059.7 666,2057.3 667,2058.2 668.5,2058.5 671,2058.9 673.5,2058.2 676,2059.3 678.5,2058.8 681,2059.9 683.5,2058.3 686,2060.3 688.5,2059.5 691,2059.7 693,2059.2 693.5,2059.6 696,2061 698.5,2061.4 701,2060.8 703.5,2061.6 706,2061.7 708.5,2062.3 711,2062.8 713.5,2063.5 716,2065.2 718.5,2065.7 720,2065.6 721,2065.2 723.5,2065.9 726,2067.1 728.5,2067.9 731,2068.3 733.5,2068.6 736,2068.4 738.5,2069.9 740,2070.7 741,2070.5 743.5,2068.9 746,2069.9 748.5,2069 751,2068.4 753.5,2069.8 756,2069 758.5,2068.9 761,2067.5 763.5,2068.7 766,2068.7 768.5,2068.4 771,2067.9 773.5,2067.9 776,2067.6 778.5,2067 781,2066.5 783.5,2067 786,2066.7 788.5,2066.7 791,2065.3 793.5,2066.5 796,2065.4 798.5,2066 800,2064.2 801,2065.9 803.5,2065.6 806,2064.5 808.5,2065.7 811,2064.5 813.5,2064.4 816,2064.9 818.5,2064.5 821,2065 823.5,2065.8 826,2065.4 828.5,2065.4 831,2064.8 833.5,2065.6 836,2065.6 838.5,2065.4 841,2065.9 843.5,2065.7 846,2064.8 848.5,2064.2 850,2065.3 851,2065.7 853.5,2064.9 856,2065.5 858.5,2066.2 861,2066.2 863.5,2064.8 866,2065.9 868.5,2065.1 871,2065.5 873.5,2067 876,2066.4 878.5,2066.9 881,2066.8 883.5,2066.7 886,2066.6 888.5,2067 891,2068.1 893.5,2067.8 896,2067.3 898.5,2067.1 900,2067.5 901,2068.5 903.5,2068.2 906,2068.8 908.5,2069.4 911,2068.2 913.5,2069.5 916,2068.5 918.5,2070.3 921,2069.2 923.5,2069.6 926,2071.2 928.5,2070.2 931,2070.1 933.5,2071.7 936,2071.4 938.5,2072.1 941,2071.4 943.5,2071.8 946,2072.9 946,2101.2 944,2103.3 942,2102.9 940,2103 938,2104 936,2103.8 934,2105.3 932,2104.3 930,2105.6 928,2106.6 926,2107.2 924,2107.4 923.9,2107.4 922,2113.2 920,2121.3 918,2128.2 916,2133.8 914,2140.3 912,2145.9 910,2150.3 908,2155.1 906,2160.8 904,2166 902,2167.9 900,2170 898,2172.6 896,2174.3 894.4,2176.8 894,2173.9 892,2164.3 890,2155.8 888,2146.9 886,2137.8 884.5,2131 884,2131.3 882,2128.5 880,2127.3 878,2123.5 876,2122.6 874,2119.4 872,2118 870,2115.4 868,2113.1 866,2113.4 864,2112.7 862,2111.8 860,2110.6 858,2110.5 856,2110.8 854,2110.3 852,2110.2 850,2109.8 848,2109.9 846,2110 844,2110.2 842,2110.4 840,2109.2 838,2109.1 837.7,2109 836,2111 834,2112 832,2111.8 830,2111.5 828,2113.3 826,2112.9 824,2113.6 823,2113.4 822,2119.9 820.5,2127.3 820,2128.1 818,2130.8 816,2135.3 814,2139.7 812,2144.6 810,2146.8 808.2,2151.1 808,2150.4 806,2149.3 804,2146.2 802,2144.9 800,2143.6 798,2141.7 796,2138 795.9,2139.4 794,2140.6 792,2144.1 790,2146.7 788,2150 786,2151.9 784,2154.7 783.6,2156.7 782,2160 780,2164.7 778,2169.1 776.2,2173.9 776,2174.3 774,2184.2 772,2191.9 770,2203 768,2212.3 766.3,2220 766,2216.7 764,2204.6 762,2191 760,2179.3 758,2165.2 756.5,2156.5 756,2162.8 754,2184.2 752,2208.6 751.6,2211.7 750,2216.3 748,2221.8 746,2228.4 745.4,2229.5 744,2215.2 742,2193.5 741.7,2189.4 740,2179.7 738,2165.1 736,2151.6 734.3,2140.4 734,2141.5 732,2138.8 730,2134 728,2130.9 726,2129.3 724.5,2126.9 724,2129.1 722,2136.7 720,2143.5 718,2150.7 716,2159.8 714,2165.9 712.2,2172.4 712,2174 710,2179.4 708,2182.7 706,2188.2 704,2193.5 702.3,2197.5 702,2196.5 700,2196.2 698,2194.9 696,2193.1 694,2192 692,2189.9 690,2190 688,2187.4 686,2186.9 684,2186.2 682.6,2185.2 682,2185.9 680,2188.6 678,2191 676,2193.8 674,2197.6 672,2199.6 670,2203.1 669.1,2205.4 668,2201.5 666,2196.6 664,2192.7 662.9,2189.8 662,2186.2 660,2176 658,2165.6 656,2164.6 654,2165 652,2165.2 650,2163 648.2,2163.4 648,2164.5 646,2168.5 644,2170.9 642,2175.6 640,2180 638.3,2182.6 638,2182.1 636,2181.3 634,2181.7 632,2180.7 630,2178.8 628,2178.5 626,2176.9 624,2177 623.5,2176.7 622,2178 620,2180.7 619.9,2179 618,2190.3 616,2201.5 614,2213.4 612.5,2222 612,2219.4 610,2212.6 608,2207.1 606,2199.5 604,2193.2 603.9,2193.1 602,2190.8 600,2187.1 598,2185 596.5,2181.8 596,2182.9 594,2187.5 592,2192.9 590,2198.2 589.1,2200.5 588,2198.6 586,2196.7 584,2195 582,2194 580,2193.9 579.2,2192.6 578,2194.6 576,2200 574,2204.9 572,2210.6 570,2215.8 569.4,2217.6 568,2222.3 566,2231.7 564.5,2238.2 564,2240.3 562,2243.3 560,2246.7 558,2249.7 556,2252.3 554.6,2254.8 554,2255.3 552,2258.3 550,2260.9 548,2264.1 546,2268.3 544.8,2269.3 544,2267.2 542,2261.1 540,2255.2 538,2247.8 537.4,2246.1 536,2244.4 534,2241.2 532,2238.8 530,2236.3 529.7,2236.4 528,2235.2 526,2233.4 524,2231.4 522,2230.8 520,2228.6 518,2229.1 516,2226.5 515.1,2227.1 514,2226.4 512,2226 510,2225 508,2223 506,2223 504,2222 502,2221.1 500,2220.7 498,2220.2 496,2219.3 495.7,2218 494,2226.1 492,2235 490,2242.7 488.4,2251.2 488,2251.1 486,2259.1 484,2266.6 482,2273.7 480,2279.4 478,2287.6 476,2293.4 474,2301.1 473.8,2301.4 472,2296.9 470,2292.5 468,2286.7 466,2281.5 464,2278 462,2289.7 460,2304.6 458,2317.4 456.7,2325.9 456,2326.1 454,2329.4 452,2332 450,2335.9 448.2,2337.2 448,2336.6 446,2325 444,2310.9 442,2299.5 440,2286.2 439.7,2285.2 438,2282.2 436,2277.6 434,2272.5 432,2268.8 430,2264.8 429.9,2264.7 428,2262.7 426,2258.9 424,2254.5 422.6,2252.6 422,2252.7 420,2251.1 418,2249.4 416,2246.5 414,2246.2 412.9,2244.8 412,2247.7 410,2253.4 408,2259.4 406,2265.2 404,2270.2 403.2,2273 402,2273.2 400,2272.9 398,2274.9 396,2275.4 394,2276.2 392,2275.7 390,2277 388.6,2277.1 388,2280.7 386,2291.9 384,2303.2 382,2313.4 380,2324.2 378.8,2330 378,2333 376,2338.6 374,2346.2 372,2351.7 370,2357.4 369.1,2360.2 368,2372.2 366,2391.5 364,2412.5 362,2434 361.8,2435.3 360,2430.4 358,2425.9 356,2421 354,2414.6 352,2410 350.8,2406.7 350,2395.9 348,2369.8 346,2342.3 344.8,2325.6 344,2321.3 342,2312.7 340,2302 339.9,2302.1 338,2308.5 336,2314.8 334,2320.5 332.6,2325.5 332,2328.9 330,2341.4 328,2351.4 326.5,2360.2 326,2357.3 324,2342 322,2329.7 320,2315 318,2302 316,2271.5 314,2242.2 313.1,2229.5 312,2232 310,2238.5 308.3,2245 308,2244.7 306,2243.5 304,2242.3 302,2241.9 300,2239.7 298.5,2239.2 298,2237.9 296.1,2229 296,2229.8 294,2238 292,2247.8 291.2,2250 290,2251.7 288,2255.8 286,2257.3 284,2260 283.9,2259.8 282,2265.6 280,2272.6 278,2278.8 277.8,2279.2 276.6,2261.2 276,2254.4 274,2235.9 272,2219.2 271.8,2217.4 270,2205.5 268,2193.4 266,2180.9 265.7,2179.6 264,2154.1 262,2125.5 260,2120.2 258,2117.5 256,2112.7 254.7,2109.3 254,2109.1 252,2108.2 250,2106.5 248,2104.2 246,2101.6 244,2100.1 242,2099.2 240,2097.4 238,2096.2 237.7,2094.8 236,2093.3 234,2091.2 232,2088.6 230,2086.9 228,2083.4 226,2081.3 225,2079.6 224,2079.5 222,2076.6 220,2075.3 218,2073.5 216,2070.8 214,2068.1 213,2068.2 212,2067.1 210,2064 208,2063.4 206,2061.3 204,2057.5 202,2055.7 201,2054.1 200,2055.2 198,2054.5 196,2054.2 194,2053.3 192,2052.1 190,2051.7 188,2051.3 186,2051 185,2049.1 184,2050.6 182,2048.7 180,2048.3 178,2048.5 176,2047.4 174,2046.4 172,2045.4 170,2045.3 168,2043.8 166,2041.7 164,2041.4 162,2038.9 160,2037.7 158,2035.2 156,2034.8 154,2033.8 152,2032.4 150,2029.8 148,2029.7 146,2030.1 144,2029.2 142,2028 140,2028.2 138,2027.7 136,2028.6 134,2027.6 132,2028.2 130,2026.4 128,2025.8 126,2026.5 124,2025.5 122,2026.5 120,2025 118,2026.3 116,2025"/></clipPath>
<polygon points="116,2005.4 119,2005.8 122,2006.8 125,2006.1 128,2005 131,2004.5 134,2004.3 137,2003 140,2003.1 143,2005.5 146,2009.1 149,2010.7 152,2010.9 155,2013.5 158,2015 161,2015.7 164,2017.8 164.7,2018 167,2018.8 170,2020.1 173,2019.6 176,2019 179,2018.9 182,2018.1 185,2017.2 188,2017.9 191,2019.7 194,2020 197,2020.3 200,2019.7 203,2019.7 206,2018.5 209,2016.9 212,2018.7 215,2020.1 218,2020.4 221,2020.6 224,2020.4 227,2020 230,2018.7 233,2017.3 236,2019 239,2019.8 242,2020.5 245,2020.7 248,2021.8 251,2021.1 254,2018.8 257,2018.3 260,2019.8 263,2020.1 266,2020.8 269,2021.1 272,2021.5 275,2021.2 278,2020.2 281,2019.4 284,2019.6 287,2020.2 290,2021.1 293,2021.9 296,2022 299,2021.1 300,2020.6 302,2020.1 305,2020.8 308,2020.1 311,2020.6 314,2021 317,2021.9 320,2023.1 323,2021.4 326,2021.4 329,2020.8 332,2020.5 335,2020.5 338,2021.3 341,2023.3 344,2023.7 347,2022.1 350,2022.3 353,2021.5 356,2020.7 359,2021.2 362,2022.2 365,2023 368,2024.2 371,2022.7 374,2022.6 377,2022.7 380,2020.8 383,2020.9 386,2022.2 389,2023.3 392,2024 395,2023.5 398,2023.8 400,2023.2 401,2022.8 404,2021.8 407,2021.5 410,2023.1 413,2024 416,2023.5 419,2023.9 422,2024.4 425,2023.2 428,2021.4 431,2021.6 434,2023.4 437,2023.8 440,2023.4 443,2025 446,2024.5 449,2023.1 452,2022 455,2021.9 458,2022.6 461,2023.7 464,2023.5 467,2024.9 470,2023.9 473,2023.4 476,2022.6 479,2022.3 482,2022.7 485,2023.3 488,2023.5 491,2024.7 494,2024.3 497,2023.5 500,2023 503,2022.5 506,2023.2 509,2022.7 512,2023.7 515,2025 518,2024.3 521,2023 524,2022.9 527,2022.6 530,2022.5 533,2022.7 536,2024.3 539,2025.7 542,2025 545,2023.9 548,2023.9 551,2022.8 554,2021.7 557,2022.7 560,2024.2 563,2025.6 566,2024.9 569,2024.7 572,2023.5 575,2022.9 578,2022 581,2023.6 584,2024.5 587,2025.4 590,2024.5 593,2024.8 596,2024.5 599,2023.3 600,2022.7 602,2022.5 605,2023.9 608,2024.8 611,2024.4 614,2025.2 617,2025.3 620,2024.6 623,2022.9 626,2022.8 629,2024.1 632,2024.2 635,2024.4 638,2025 641,2025.1 644,2024.2 647,2022.7 650,2023 653,2024.2 656,2024.2 659,2024.4 662,2025.1 665,2025.3 668,2024.1 671,2023.2 674,2023.5 677,2023 680,2023.8 683,2023.7 686,2025.5 689,2025.2 692,2023.7 695,2023.6 698,2023.2 701,2023.2 704,2023.6 707,2024 710,2025.1 713,2025.1 716,2024.2 719,2023.4 722,2023 725,2023 728,2023.1 731,2024.3 734,2026 737,2025.1 740,2024.4 743,2023.8 746,2023.3 749,2022.5 752,2023.4 755,2024.8 758,2025.1 761,2025.2 764,2024.3 767,2024 770,2023.4 773,2022.5 776,2023.5 779,2024.6 782,2025.2 785,2024.7 788,2024.4 791,2024.4 794,2023.2 797,2022.1 800,2023.3 803,2024.4 806,2024.4 809,2024.6 812,2025.2 815,2024.9 818,2023.3 821,2022.3 824,2023 827,2024.4 830,2023.7 833,2025 836,2025.2 839,2024.2 842,2023.6 845,2022.4 848,2023 851,2023.7 854,2023.5 857,2025.3 860,2025.3 863,2024.1 866,2022.8 869,2023.2 872,2023.1 875,2023.5 878,2024 881,2025.5 884,2026.3 887,2024.5 890,2023.1 893,2023.3 896,2022.5 899,2022.4 902,2023.8 905,2025.6 908,2025.5 911,2024.1 914,2023.6 917,2023.8 920,2022.5 923,2022.8 926,2024.2 929,2025.1 932,2025.8 935,2024.8 938,2023.7 941,2024.2 944,2022.7 946,2022.1 946,2099.5 943.5,2100.6 941,2100.6 938.5,2100.4 936,2099.4 933.5,2100.2 931,2099.2 928.5,2100.6 926,2100.6 923.5,2099.5 921,2100.4 920,2099.8 918.5,2102.2 916,2104.1 913.5,2106.9 911,2110.9 908.5,2114.6 906,2116.1 903.5,2119.7 901,2122.3 898.5,2126.1 896,2129.2 894,2130.5 893.5,2130.9 891,2128 888.5,2124.2 886,2121.7 883.5,2118.8 881,2116 878.5,2113.7 876,2111.5 873.5,2108.6 871,2105.7 870,2105 868.5,2104.4 866,2103.5 863.5,2104.6 861,2104.1 858.5,2101.9 856,2101.2 853.5,2102.7 851,2101.6 848.5,2100.2 846,2099.7 845,2099 843.5,2105 841,2111.7 838.5,2119.2 836,2127 835,2130.5 833.5,2127.3 831,2120.1 828.5,2112.2 826,2105.6 823.5,2099.6 823,2098.8 821,2098.9 818.5,2098.7 816,2099.5 813.5,2098.7 811,2099.1 808.5,2100.3 806,2099.5 803.5,2101.3 801,2101.1 798.5,2101.2 796,2101.6 793.5,2102.2 791,2102.4 790,2102.9 788.5,2101.5 786,2100.8 783.5,2101.5 781,2099.8 778.5,2100.4 776,2099.5 773.5,2099.7 771,2099.9 768.5,2098.8 766,2099 763.5,2099.4 761,2098.3 760,2097.2 758.5,2098 756,2098.2 753.5,2097.9 751,2098 748.5,2098.7 746,2098.8 743.5,2099.1 741,2099.2 740,2100.5 738.5,2100.2 736,2099.3 733.5,2099.8 731,2098.6 728.5,2099.7 726,2099.5 723.5,2098.2 721,2097.5 720,2098.9 718.5,2097.4 716,2096.3 713.5,2096.6 711,2096.2 708.5,2093.9 706,2094.1 703.5,2093.5 701,2092.7 700,2092 698.5,2087.6 696,2083.5 693.5,2077.5 693,2075.9 691,2078.7 688.5,2082 686,2083.7 683.5,2088 681,2090.7 678.5,2093.5 676,2096.3 675,2097.5 673.5,2104.9 671,2114.9 668.5,2126.6 667,2133.8 666,2132.2 663.5,2132.4 661,2133.9 658.5,2133.8 656,2133.6 653.5,2133.2 651,2133.3 649.5,2132.5 649,2086.2 648.5,2087 646,2087.3 643.5,2087.6 641,2087.7 638.5,2087.1 636,2086.8 633.5,2087.7 631,2087.9 628.5,2086.6 626,2086.6 623.5,2086 623,2132.2 621,2133.8 618.5,2132.1 616,2132.8 613.5,2133.9 611,2132.5 608.5,2133.9 606.5,2133.7 606,2090.3 603.5,2090.8 601,2089.8 598.5,2089.9 596,2090.2 593.5,2089.3 592.5,2089.5 592,2132.1 591,2133.8 588.5,2133.2 586,2133 583.5,2132.3 581,2132.3 578.5,2133.9 576,2132.2 574.6,2132.5 573.5,2132.3 571,2133.4 568.5,2133.1 567.5,2132.9 567,2089.5 566,2090.2 565.5,2089 563.5,2087 561,2081.1 560,2079.7 558.5,2078.4 556,2078.7 555,2077.7 553.5,2079 551,2080.8 550,2082.9 548.5,2093.5 548,2097.9 546,2118 543.5,2116.4 541,2117.7 540,2116.4 538.5,2108.7 537,2101 536,2098.3 533.5,2094.9 531,2089.7 530,2088 528.5,2085.5 526,2083.7 523.5,2078.6 521,2076.7 520,2074.8 518.5,2074.6 516,2071.7 513.5,2069.8 512,2067.4 511,2066.8 508.5,2066.1 506,2064.1 503.5,2063.2 501,2061.7 500,2062.8 498.5,2063.5 496,2064.9 493.5,2066.9 493,2068.8 491,2066.2 488.5,2065.3 486,2063.2 485,2062.9 483.5,2062 481,2059.7 478.5,2059.7 476,2058.6 475,2058 473.5,2057.8 471,2059 468.5,2059.9 466,2059.9 463.5,2061.5 461,2065 458.5,2067.8 458,2067 456,2068.4 453.5,2070.2 452,2072 451,2069 448.5,2066.2 446,2063.6 445,2061.4 443.5,2060.9 441,2059.9 438.5,2057.9 436,2058 435,2056.9 433.5,2050.3 433,2046.5 431,2046.2 428.5,2046.4 426,2047.7 423.5,2046.3 421,2046.5 420,2047 418.5,2047.4 416,2044.9 413.5,2045.5 411,2044.9 408.5,2043.9 406,2042.5 405,2042.5 403.5,2042.3 401,2043.5 398.5,2046 396,2048.3 395,2047.9 393.5,2047 391,2045.3 388.5,2044.2 386,2043.7 383.5,2042.1 381,2040.8 380,2041 378.5,2040.5 376,2040.8 373.5,2042.5 371,2042.4 368.5,2042.1 366,2043.2 363.5,2042.8 361,2043.6 359.4,2045.1 358.5,2044.6 356,2043.2 353.5,2044.6 351,2043.5 348.5,2043.6 346,2042.8 343.5,2042.6 341,2042 338.5,2041.7 336,2041.5 333.5,2042.4 331,2041.4 328.5,2040.9 326,2041.7 323.5,2040.4 322.9,2040 321,2040.7 318.5,2040.1 316,2039.6 313.5,2040.4 311,2038.9 308.5,2039.8 306,2038.8 303.5,2039.8 301,2037.8 298.5,2039 296,2037.1 293.5,2036.9 291,2037 288.5,2037.5 286.4,2037.4 286,2036.8 283.5,2037.9 281,2036 278.5,2036 276,2035.9 273.5,2036.8 271,2036.5 268.5,2036.5 266,2035.4 263.5,2036.8 261,2035.2 258.5,2034.7 256,2035.2 253.5,2035.8 251,2036 248.5,2035.9 246,2034.6 243.5,2035.6 241,2033.9 238.5,2035.4 237.7,2034.4 236,2035.3 233.5,2033.3 231,2034.2 228.5,2033.2 226,2033.3 223.5,2032.4 221,2031.8 218.5,2031 216,2030.8 213.5,2031.6 211,2030.2 208.5,2030.7 206,2030.9 203.5,2029.6 201,2028.4 198.5,2028.1 196,2028.2 193.5,2027.1 191,2026.8 189,2026.5 188.5,2027.1 186,2028.5 183.5,2029 181,2029.7 178.5,2030.2 176,2031 173.5,2032.2 171,2031.4 169.5,2031.7 168.5,2035 166,2039.5 163.5,2045.8 162.2,2048.8 161,2049.4 158.5,2048.6 156,2047.6 154.9,2047.3 153.5,2043.5 151,2037.1 148.5,2032.9 147.6,2030.2 146,2025.6 143.5,2019.3 141,2015.2 140.3,2012.4 138.5,2012.2 136,2011.8 133.5,2013.5 131,2012.9 128.5,2013.2 126,2012.1 123.5,2013.1 121,2012.2 118.5,2012.4 116,2012.1" fill="#8b849b" clip-path="url(#c8)"/>
<polygon points="116,2000.7 118,2001.8 120,2002.9 122,2004.4 124,2005.9 126,2005.1 128,2005.3 130,2005.5 132,2004.6 134,2004.1 136,2001.6 138,1999.4 140,1997.2 142,2001.1 144,2004.9 146,2007.2 148,2009 150,2010.6 152,2012.5 154,2014.8 156,2015.6 158,2015.2 160,2014 162,2014.6 164,2014.8 164.7,2016 166,2017.6 168,2019.1 170,2019.9 172,2019.4 174,2020.6 176,2021.9 178,2022.9 180,2021.9 182,2019.1 184,2017.2 186,2015.7 188,2015.8 190,2015.8 192,2016.4 194,2015.6 196,2015.5 198,2016 200,2017.2 201,2017.8 202,2017.4 204,2016.2 206,2013.9 208,2012.7 210,2012 212,2011.8 214,2011.6 216,2011.1 218,2011.8 220,2012.4 222,2013.6 224,2014.5 225.5,2014.8 226,2013.9 228,2012.9 230,2011 232,2009.7 234,2009.2 236,2009.7 238,2009.3 240,2008.1 242,2009.1 244,2009.6 246,2010.7 248,2012 250,2012.2 252,2010.5 254,2008.2 256,2008.4 258,2007.5 260,2007.4 262,2005.5 264,2006.3 266,2007.2 268,2008.2 270,2010.5 272,2010.4 274,2009.9 276,2008.9 278,2007.4 280,2007.5 282,2007.2 284,2005.9 286,2003.4 288,2003.8 290,2006.3 292,2007.7 294,2009.8 296,2010.1 298,2009.5 298.5,2009.2 300,2008.4 302,2008.3 304,2008.1 306,2006.9 308,2004.9 310,2003.3 312,2003.9 314,2006.1 316,2008.4 318,2008.7 320,2008.9 322,2010.3 324,2009.4 326,2009.4 328,2008.1 330,2006.8 332,2004.8 334,2002.7 335,2003.8 336,2004.8 338,2006.2 340,2008.1 342,2008.2 344,2008.5 346,2009.2 348,2010 350,2009.6 352,2007.5 354,2005.5 356,2004.4 358,2004 360,2004.4 362,2006.1 364,2006.8 366,2006.5 368,2007 370,2008.4 372,2009.1 374,2008.6 376,2006.6 378,2004.9 380,2004.4 382,2003.2 384,2004.5 386,2005.5 388,2005.1 390,2005.2 391,2006.2 392,2006.1 394,2007.6 396,2008.5 398,2007.6 400,2005.3 402,2004.2 404,2003.7 406,2004.2 408,2003.7 410,2004.5 412,2003.7 414,2004.4 416,2006.1 418,2007.9 420,2007.9 422,2006 424,2004.3 426,2003.9 428,2003.3 430,2003.7 432,2002.9 434,2002.1 436,2002.5 438,2004.3 440,2005.9 442,2007.5 444,2007.2 446,2005 448,2003.8 450,2003.9 452,2003.1 454,2002.4 456,2000.7 458,2000.7 460,2001.6 462,2004 464,2005.1 466,2006 468,2007.3 470,2005.3 472,2004.6 474,2003.8 476,2004 478,2002.4 480,1999.3 482,2000.2 484,2002.1 486,2004.1 488,2005.6 490,2005.8 492,2005.9 494,2004.8 496,2004.2 498,2004.7 500,2003.3 502,2001.8 504,1998.8 506,2000.5 508,2002.4 510,2004.6 512,2005.5 514,2005.6 516,2005.6 518,2004.9 520,2005.7 522,2004.5 524,2003 526,2001.5 528,1999.9 530,2000.6 532,2003.2 534,2004 536,2004 538,2004 540,2005.6 542,2005.8 544,2005.9 546,2004.4 548,2002.5 550,2001.3 552,2001 554,2000.9 556,2003 558,2003.7 560,2003.6 562,2004 564,2004.3 566,2006 568,2005.7 570,2003.4 572,2002 574,2001 576,2001.1 578,2001.3 580,2002.2 582,2002.7 584,2001.9 586,2002.8 588,2004.5 590,2005.6 592,2004.4 594,2003.9 596,2002.3 598,2000.8 600,2001.2 602,2000.7 604,2001.1 606,2001.2 608,2002.1 610,2003.5 612,2005.1 614,2005.9 616,2004.4 618,2002.3 620,2001.7 622,2001.7 624,2001 626,1999.5 628,1999.6 630,2000.2 632,2001.8 634,2004.1 636,2005.3 638,2006.5 640,2004.3 642,2002.4 644,2001.8 646,2001.8 648,2001.2 650,1999 652,1999 654,1999.6 656,2001.4 658,2003.9 660,2005.3 662,2004.7 664,2003.6 666,2002.5 668,2002.9 670,2002.6 672,2000.4 674,1998.8 676,1998.4 678,1999.4 680,2001.8 682,2003 684,2004.3 686,2004.2 688,2003.8 690,2003.3 692,2003 694,2002.1 696,2000.1 698,1997.6 700,1998.3 702,1999.4 704,2001.3 706,2002.9 708,2002.1 710,2002.5 712,2002.8 714,2003.6 716,2002.3 718,2000.8 720,2000 722,1997.9 724,1999.1 726,2000.5 728,2001.8 730,2002.2 732,2001.8 734,2002.8 736,2002.8 738,2003.5 740,2002.3 742,2001.1 744,1998.9 746,1998.9 748,1999.4 750,1999.7 752,2000.6 754,2000.9 756,2001.6 758,2002.1 760,2003.4 762,2002.9 764,2002 766,2000.5 768,1998.9 770,1998.6 772,1998.6 774,1999.5 776,1999.8 778,1999.5 780,2001 782,2003.3 784,2004.3 786,2003.6 788,2001 790,2000 792,1999.3 794,1999.1 796,1998.4 798,1998.7 800,1999 802,1999.9 804,2000.7 806,2002.7 808,2004.9 810,2003.5 812,2000.9 814,1999.5 816,1999.5 818,1998.7 820,1997.5 822,1997.1 824,1997.8 826,1998.9 828,2001 830,2003.4 832,2004.5 834,2002.1 836,2000.8 838,1999.7 840,2000.2 842,1999.1 844,1996.9 846,1996.1 848,1996.7 850,1999.1 852,2001.1 854,2002 856,2002.5 858,2001.3 860,2000.8 862,1999.8 864,2000.5 866,1998.7 868,1996.8 870,1996 872,1997.8 874,1999.7 876,2000.8 878,2001.2 880,2001.5 882,2001.4 884,2000.5 886,2000.7 888,2000.3 890,1998.1 892,1996.2 894,1995.8 896,1998 898,1999.4 900,2000.6 902,2000.5 904,2000 906,2000.4 908,2000.4 910,2000 912,1999.5 914,1998 916,1996.8 918,1995.9 920,1998.2 922,1998.6 924,1999.1 926,1999.5 928,1999.3 930,2000.6 932,2001.4 934,1999.9 936,1998.4 938,1997.1 940,1996.3 942,1995.4 944,1997.3 946,1998.1 946,2089.7 943.5,2089.9 941,2089.2 938.5,2089.1 936,2088.8 933.5,2087.3 931,2086.4 928.5,2087.5 926,2086.6 923.5,2086 921,2085.3 920,2084.6 918.5,2085.4 916,2086.1 913.5,2088 911,2088.3 908.5,2088.5 906,2090.1 905,2090.7 903.5,2094.6 901,2105.1 898.5,2115 896,2122.9 894,2130.8 893.5,2129.9 891,2121.9 888.5,2114.7 886,2107.3 883.5,2100.1 881,2093.9 880,2090.4 878.5,2091.6 876,2096 873.5,2100.1 871,2105.2 868.5,2108.6 868,2109.9 866,2126.6 863.5,2145.4 861,2166.1 860,2172.9 858.5,2165 856,2151.2 853.5,2138.6 851,2124.9 850,2119.4 848.5,2116 846,2111 843.5,2105.7 841,2100.7 838.5,2096.1 836,2090.4 833.5,2084.7 831,2079.5 830,2077.5 828.5,2078.6 826,2077.9 823.5,2079.4 821,2078.9 818.5,2078.7 816,2078.2 813.5,2079.5 811,2079.9 808.5,2078.6 806,2078.8 803.5,2079.7 801,2080.8 800,2079.1 798.5,2080.5 796,2079.7 793.5,2077.9 791,2078.2 788.5,2077.5 786,2077 783.5,2076.3 781,2075.4 780,2074.4 778.5,2075.7 776,2074.9 773.5,2073.9 771,2074.4 768.5,2073.6 766,2073.4 763.5,2074.3 761,2074 758.5,2073.1 756,2072.2 753.5,2072.2 751,2072.8 748.5,2072.7 746,2072.3 743.5,2071.8 741,2071.6 740,2072.2 738.5,2070.7 736,2069.6 733.5,2067.4 731,2064.5 728.5,2063.5 726,2062.4 723.5,2059.6 721,2058.7 720,2057.8 718.5,2058 716,2057.7 713.5,2057.1 711,2057.9 708.5,2059.8 708,2058.7 706,2062.9 703.5,2066.6 701,2070.1 698.5,2068 696,2063.7 693.5,2062.2 693,2061.1 691,2060.5 688.5,2058.6 686,2055.1 683.5,2054.2 681,2052 679.6,2051.1 678.5,2053.3 676,2061 673.5,2066.8 671,2073.4 668.5,2079.9 666,2087.9 663.5,2094.1 661,2100.1 660,2102.9 658.5,2097.5 656,2086.5 653.5,2074.4 651,2064.8 648.5,2054 647,2046.4 646,2046.7 643.5,2047.6 641,2047.6 638.5,2047 637,2046.2 636,2048.1 633.5,2051.6 631,2054.1 628.5,2057.4 627,2058.1 626,2059.1 623.5,2055.6 621,2054.9 618.5,2053.5 616,2050.5 613.5,2048.6 611,2046.4 608.5,2049.3 606,2051.8 603.5,2052.8 601,2055 598.5,2056.3 596,2058.2 593.5,2058.9 591,2059.2 588.5,2057.6 586,2055.7 583.5,2052.1 581,2050.5 578.5,2049 576,2046.4 573.5,2045.4 571,2043.1 568.5,2040.7 566,2040.2 563.5,2038.1 561,2035.5 560,2034.9 558.5,2035.1 556,2037.3 553.5,2037.1 551,2038.2 548.5,2039.6 546,2041.9 543.5,2041.5 541,2043.2 540,2043.2 538.5,2045.3 536,2048.5 533.5,2051.2 531,2055.5 530,2056.6 528.5,2056 526,2054.1 523.5,2053.3 521,2052.5 520,2052.7 518.5,2052 516,2054.7 513.5,2056.3 511,2057.9 510,2058.9 508.5,2057.5 506,2059.4 503.5,2059.8 501,2060.2 498.5,2059.6 498,2060.6 496,2058.1 493.5,2056.6 491,2053.9 488.5,2053.4 486,2050.5 485,2050.3 483.5,2051.1 481,2055 478.5,2057.6 476,2060.3 474,2063 473.5,2062.1 471,2059.8 468.5,2056 466,2054.5 465,2053.8 463.5,2054.3 461,2055.6 458.5,2058.4 456,2058.8 455,2059.2 453.5,2059 451,2057.6 448.5,2056.3 446,2054.9 443.5,2053.4 441,2053.2 440,2052.7 438.5,2050.4 436,2049.6 434,2047.8 433.5,2047.2 431,2047.3 428.5,2045.6 426,2046.6 423.5,2047 421,2046.7 420,2045.8 418.5,2044.9 416,2044.3 413.5,2044.3 411,2042.3 408.5,2041.8 406,2042 405,2040.3 403.5,2042.9 401,2043.3 398.5,2044.4 396,2045.9 395,2046.7 393.5,2046.9 391,2044.3 388.5,2044.9 386,2042.2 383.5,2040.9 381,2040.9 380,2040.4 378.5,2039.4 376,2038.1 373.5,2037.8 371,2037.5 368.5,2035.6 366,2035.6 363.5,2034.6 361,2033.4 359.4,2031.8 358.5,2031.6 356,2033.5 353.5,2032.2 351,2032.1 348.5,2032.7 346,2033 343.5,2033.9 341,2032.9 338.5,2033 336,2034.5 333.5,2034.1 331,2033.5 328.5,2033.5 326,2033.7 323.5,2033.9 322.9,2035.2 321,2034 318.5,2033.2 316,2034.7 313.5,2032.6 311,2032.9 308.5,2031.9 306,2032.3 303.5,2032.6 301,2032.3 298.5,2030.6 296,2030.7 293.5,2031 291,2030.3 288.5,2029.3 286.4,2030.6 286,2030.7 283.5,2028.5 281,2028.6 278.5,2029 276,2028.3 273.5,2027.3 271,2028 268.5,2028.3 266,2028 263.5,2026.7 261,2026.2 258.5,2026.7 256,2026.2 253.5,2025.4 251,2024.8 249.9,2024.4 248.5,2026 246,2026.3 243.5,2027.9 241,2028.8 238.5,2029.3 236,2030.5 233.5,2033 231,2033.6 228.5,2035.1 226,2035.5 223.5,2037 223.1,2037.1 221,2036 218.5,2035.8 216,2036 213.5,2036.5 211,2036.3 208.5,2034.3 206,2034.7 203.5,2033.4 201,2033.2 198.5,2033.9 196,2032.4 193.5,2033.4 191,2032.2 189,2031.9 188.5,2032.8 186,2032.6 183.5,2031.6 181,2031.3 178.5,2030.7 176,2029.1 173.5,2028.5 171,2028.2 168.5,2028.5 166,2027.3 164.7,2026.8 163.5,2027.5 161,2025.3 158.5,2023.9 156,2022.3 153.5,2020 151,2018.3 148.5,2017.7 146,2014.8 143.5,2014.6 141,2012.7 140,2011.8 138.5,2011.5 136,2011.5 133.5,2012.3 131,2011.2 128.5,2012.2 126,2011.4 123.5,2011.3 121,2012.1 118.5,2012.3 116,2011.2" fill="#51618a" />
<clipPath id="c9"><polygon points="116,2005.4 119,2005.8 122,2006.8 125,2006.1 128,2005 131,2004.5 134,2004.3 137,2003 140,2003.1 143,2005.5 146,2009.1 149,2010.7 152,2010.9 155,2013.5 158,2015 161,2015.7 164,2017.8 164.7,2018 167,2018.8 170,2020.1 173,2019.6 176,2019 179,2018.9 182,2018.1 185,2017.2 188,2017.9 191,2019.7 194,2020 197,2020.3 200,2019.7 203,2019.7 206,2018.5 209,2016.9 212,2018.7 215,2020.1 218,2020.4 221,2020.6 224,2020.4 227,2020 230,2018.7 233,2017.3 236,2019 239,2019.8 242,2020.5 245,2020.7 248,2021.8 251,2021.1 254,2018.8 257,2018.3 260,2019.8 263,2020.1 266,2020.8 269,2021.1 272,2021.5 275,2021.2 278,2020.2 281,2019.4 284,2019.6 287,2020.2 290,2021.1 293,2021.9 296,2022 299,2021.1 300,2020.6 302,2020.1 305,2020.8 308,2020.1 311,2020.6 314,2021 317,2021.9 320,2023.1 323,2021.4 326,2021.4 329,2020.8 332,2020.5 335,2020.5 338,2021.3 341,2023.3 344,2023.7 347,2022.1 350,2022.3 353,2021.5 356,2020.7 359,2021.2 362,2022.2 365,2023 368,2024.2 371,2022.7 374,2022.6 377,2022.7 380,2020.8 383,2020.9 386,2022.2 389,2023.3 392,2024 395,2023.5 398,2023.8 400,2023.2 401,2022.8 404,2021.8 407,2021.5 410,2023.1 413,2024 416,2023.5 419,2023.9 422,2024.4 425,2023.2 428,2021.4 431,2021.6 434,2023.4 437,2023.8 440,2023.4 443,2025 446,2024.5 449,2023.1 452,2022 455,2021.9 458,2022.6 461,2023.7 464,2023.5 467,2024.9 470,2023.9 473,2023.4 476,2022.6 479,2022.3 482,2022.7 485,2023.3 488,2023.5 491,2024.7 494,2024.3 497,2023.5 500,2023 503,2022.5 506,2023.2 509,2022.7 512,2023.7 515,2025 518,2024.3 521,2023 524,2022.9 527,2022.6 530,2022.5 533,2022.7 536,2024.3 539,2025.7 542,2025 545,2023.9 548,2023.9 551,2022.8 554,2021.7 557,2022.7 560,2024.2 563,2025.6 566,2024.9 569,2024.7 572,2023.5 575,2022.9 578,2022 581,2023.6 584,2024.5 587,2025.4 590,2024.5 593,2024.8 596,2024.5 599,2023.3 600,2022.7 602,2022.5 605,2023.9 608,2024.8 611,2024.4 614,2025.2 617,2025.3 620,2024.6 623,2022.9 626,2022.8 629,2024.1 632,2024.2 635,2024.4 638,2025 641,2025.1 644,2024.2 647,2022.7 650,2023 653,2024.2 656,2024.2 659,2024.4 662,2025.1 665,2025.3 668,2024.1 671,2023.2 674,2023.5 677,2023 680,2023.8 683,2023.7 686,2025.5 689,2025.2 692,2023.7 695,2023.6 698,2023.2 701,2023.2 704,2023.6 707,2024 710,2025.1 713,2025.1 716,2024.2 719,2023.4 722,2023 725,2023 728,2023.1 731,2024.3 734,2026 737,2025.1 740,2024.4 743,2023.8 746,2023.3 749,2022.5 752,2023.4 755,2024.8 758,2025.1 761,2025.2 764,2024.3 767,2024 770,2023.4 773,2022.5 776,2023.5 779,2024.6 782,2025.2 785,2024.7 788,2024.4 791,2024.4 794,2023.2 797,2022.1 800,2023.3 803,2024.4 806,2024.4 809,2024.6 812,2025.2 815,2024.9 818,2023.3 821,2022.3 824,2023 827,2024.4 830,2023.7 833,2025 836,2025.2 839,2024.2 842,2023.6 845,2022.4 848,2023 851,2023.7 854,2023.5 857,2025.3 860,2025.3 863,2024.1 866,2022.8 869,2023.2 872,2023.1 875,2023.5 878,2024 881,2025.5 884,2026.3 887,2024.5 890,2023.1 893,2023.3 896,2022.5 899,2022.4 902,2023.8 905,2025.6 908,2025.5 911,2024.1 914,2023.6 917,2023.8 920,2022.5 923,2022.8 926,2024.2 929,2025.1 932,2025.8 935,2024.8 938,2023.7 941,2024.2 944,2022.7 946,2022.1 946,2099.5 943.5,2100.6 941,2100.6 938.5,2100.4 936,2099.4 933.5,2100.2 931,2099.2 928.5,2100.6 926,2100.6 923.5,2099.5 921,2100.4 920,2099.8 918.5,2102.2 916,2104.1 913.5,2106.9 911,2110.9 908.5,2114.6 906,2116.1 903.5,2119.7 901,2122.3 898.5,2126.1 896,2129.2 894,2130.5 893.5,2130.9 891,2128 888.5,2124.2 886,2121.7 883.5,2118.8 881,2116 878.5,2113.7 876,2111.5 873.5,2108.6 871,2105.7 870,2105 868.5,2104.4 866,2103.5 863.5,2104.6 861,2104.1 858.5,2101.9 856,2101.2 853.5,2102.7 851,2101.6 848.5,2100.2 846,2099.7 845,2099 843.5,2105 841,2111.7 838.5,2119.2 836,2127 835,2130.5 833.5,2127.3 831,2120.1 828.5,2112.2 826,2105.6 823.5,2099.6 823,2098.8 821,2098.9 818.5,2098.7 816,2099.5 813.5,2098.7 811,2099.1 808.5,2100.3 806,2099.5 803.5,2101.3 801,2101.1 798.5,2101.2 796,2101.6 793.5,2102.2 791,2102.4 790,2102.9 788.5,2101.5 786,2100.8 783.5,2101.5 781,2099.8 778.5,2100.4 776,2099.5 773.5,2099.7 771,2099.9 768.5,2098.8 766,2099 763.5,2099.4 761,2098.3 760,2097.2 758.5,2098 756,2098.2 753.5,2097.9 751,2098 748.5,2098.7 746,2098.8 743.5,2099.1 741,2099.2 740,2100.5 738.5,2100.2 736,2099.3 733.5,2099.8 731,2098.6 728.5,2099.7 726,2099.5 723.5,2098.2 721,2097.5 720,2098.9 718.5,2097.4 716,2096.3 713.5,2096.6 711,2096.2 708.5,2093.9 706,2094.1 703.5,2093.5 701,2092.7 700,2092 698.5,2087.6 696,2083.5 693.5,2077.5 693,2075.9 691,2078.7 688.5,2082 686,2083.7 683.5,2088 681,2090.7 678.5,2093.5 676,2096.3 675,2097.5 673.5,2104.9 671,2114.9 668.5,2126.6 667,2133.8 666,2132.2 663.5,2132.4 661,2133.9 658.5,2133.8 656,2133.6 653.5,2133.2 651,2133.3 649.5,2132.5 649,2086.2 648.5,2087 646,2087.3 643.5,2087.6 641,2087.7 638.5,2087.1 636,2086.8 633.5,2087.7 631,2087.9 628.5,2086.6 626,2086.6 623.5,2086 623,2132.2 621,2133.8 618.5,2132.1 616,2132.8 613.5,2133.9 611,2132.5 608.5,2133.9 606.5,2133.7 606,2090.3 603.5,2090.8 601,2089.8 598.5,2089.9 596,2090.2 593.5,2089.3 592.5,2089.5 592,2132.1 591,2133.8 588.5,2133.2 586,2133 583.5,2132.3 581,2132.3 578.5,2133.9 576,2132.2 574.6,2132.5 573.5,2132.3 571,2133.4 568.5,2133.1 567.5,2132.9 567,2089.5 566,2090.2 565.5,2089 563.5,2087 561,2081.1 560,2079.7 558.5,2078.4 556,2078.7 555,2077.7 553.5,2079 551,2080.8 550,2082.9 548.5,2093.5 548,2097.9 546,2118 543.5,2116.4 541,2117.7 540,2116.4 538.5,2108.7 537,2101 536,2098.3 533.5,2094.9 531,2089.7 530,2088 528.5,2085.5 526,2083.7 523.5,2078.6 521,2076.7 520,2074.8 518.5,2074.6 516,2071.7 513.5,2069.8 512,2067.4 511,2066.8 508.5,2066.1 506,2064.1 503.5,2063.2 501,2061.7 500,2062.8 498.5,2063.5 496,2064.9 493.5,2066.9 493,2068.8 491,2066.2 488.5,2065.3 486,2063.2 485,2062.9 483.5,2062 481,2059.7 478.5,2059.7 476,2058.6 475,2058 473.5,2057.8 471,2059 468.5,2059.9 466,2059.9 463.5,2061.5 461,2065 458.5,2067.8 458,2067 456,2068.4 453.5,2070.2 452,2072 451,2069 448.5,2066.2 446,2063.6 445,2061.4 443.5,2060.9 441,2059.9 438.5,2057.9 436,2058 435,2056.9 433.5,2050.3 433,2046.5 431,2046.2 428.5,2046.4 426,2047.7 423.5,2046.3 421,2046.5 420,2047 418.5,2047.4 416,2044.9 413.5,2045.5 411,2044.9 408.5,2043.9 406,2042.5 405,2042.5 403.5,2042.3 401,2043.5 398.5,2046 396,2048.3 395,2047.9 393.5,2047 391,2045.3 388.5,2044.2 386,2043.7 383.5,2042.1 381,2040.8 380,2041 378.5,2040.5 376,2040.8 373.5,2042.5 371,2042.4 368.5,2042.1 366,2043.2 363.5,2042.8 361,2043.6 359.4,2045.1 358.5,2044.6 356,2043.2 353.5,2044.6 351,2043.5 348.5,2043.6 346,2042.8 343.5,2042.6 341,2042 338.5,2041.7 336,2041.5 333.5,2042.4 331,2041.4 328.5,2040.9 326,2041.7 323.5,2040.4 322.9,2040 321,2040.7 318.5,2040.1 316,2039.6 313.5,2040.4 311,2038.9 308.5,2039.8 306,2038.8 303.5,2039.8 301,2037.8 298.5,2039 296,2037.1 293.5,2036.9 291,2037 288.5,2037.5 286.4,2037.4 286,2036.8 283.5,2037.9 281,2036 278.5,2036 276,2035.9 273.5,2036.8 271,2036.5 268.5,2036.5 266,2035.4 263.5,2036.8 261,2035.2 258.5,2034.7 256,2035.2 253.5,2035.8 251,2036 248.5,2035.9 246,2034.6 243.5,2035.6 241,2033.9 238.5,2035.4 237.7,2034.4 236,2035.3 233.5,2033.3 231,2034.2 228.5,2033.2 226,2033.3 223.5,2032.4 221,2031.8 218.5,2031 216,2030.8 213.5,2031.6 211,2030.2 208.5,2030.7 206,2030.9 203.5,2029.6 201,2028.4 198.5,2028.1 196,2028.2 193.5,2027.1 191,2026.8 189,2026.5 188.5,2027.1 186,2028.5 183.5,2029 181,2029.7 178.5,2030.2 176,2031 173.5,2032.2 171,2031.4 169.5,2031.7 168.5,2035 166,2039.5 163.5,2045.8 162.2,2048.8 161,2049.4 158.5,2048.6 156,2047.6 154.9,2047.3 153.5,2043.5 151,2037.1 148.5,2032.9 147.6,2030.2 146,2025.6 143.5,2019.3 141,2015.2 140.3,2012.4 138.5,2012.2 136,2011.8 133.5,2013.5 131,2012.9 128.5,2013.2 126,2012.1 123.5,2013.1 121,2012.2 118.5,2012.4 116,2012.1"/></clipPath>
<polygon points="116,2000.7 118,2001.8 120,2002.9 122,2004.4 124,2005.9 126,2005.1 128,2005.3 130,2005.5 132,2004.6 134,2004.1 136,2001.6 138,1999.4 140,1997.2 142,2001.1 144,2004.9 146,2007.2 148,2009 150,2010.6 152,2012.5 154,2014.8 156,2015.6 158,2015.2 160,2014 162,2014.6 164,2014.8 164.7,2016 166,2017.6 168,2019.1 170,2019.9 172,2019.4 174,2020.6 176,2021.9 178,2022.9 180,2021.9 182,2019.1 184,2017.2 186,2015.7 188,2015.8 190,2015.8 192,2016.4 194,2015.6 196,2015.5 198,2016 200,2017.2 201,2017.8 202,2017.4 204,2016.2 206,2013.9 208,2012.7 210,2012 212,2011.8 214,2011.6 216,2011.1 218,2011.8 220,2012.4 222,2013.6 224,2014.5 225.5,2014.8 226,2013.9 228,2012.9 230,2011 232,2009.7 234,2009.2 236,2009.7 238,2009.3 240,2008.1 242,2009.1 244,2009.6 246,2010.7 248,2012 250,2012.2 252,2010.5 254,2008.2 256,2008.4 258,2007.5 260,2007.4 262,2005.5 264,2006.3 266,2007.2 268,2008.2 270,2010.5 272,2010.4 274,2009.9 276,2008.9 278,2007.4 280,2007.5 282,2007.2 284,2005.9 286,2003.4 288,2003.8 290,2006.3 292,2007.7 294,2009.8 296,2010.1 298,2009.5 298.5,2009.2 300,2008.4 302,2008.3 304,2008.1 306,2006.9 308,2004.9 310,2003.3 312,2003.9 314,2006.1 316,2008.4 318,2008.7 320,2008.9 322,2010.3 324,2009.4 326,2009.4 328,2008.1 330,2006.8 332,2004.8 334,2002.7 335,2003.8 336,2004.8 338,2006.2 340,2008.1 342,2008.2 344,2008.5 346,2009.2 348,2010 350,2009.6 352,2007.5 354,2005.5 356,2004.4 358,2004 360,2004.4 362,2006.1 364,2006.8 366,2006.5 368,2007 370,2008.4 372,2009.1 374,2008.6 376,2006.6 378,2004.9 380,2004.4 382,2003.2 384,2004.5 386,2005.5 388,2005.1 390,2005.2 391,2006.2 392,2006.1 394,2007.6 396,2008.5 398,2007.6 400,2005.3 402,2004.2 404,2003.7 406,2004.2 408,2003.7 410,2004.5 412,2003.7 414,2004.4 416,2006.1 418,2007.9 420,2007.9 422,2006 424,2004.3 426,2003.9 428,2003.3 430,2003.7 432,2002.9 434,2002.1 436,2002.5 438,2004.3 440,2005.9 442,2007.5 444,2007.2 446,2005 448,2003.8 450,2003.9 452,2003.1 454,2002.4 456,2000.7 458,2000.7 460,2001.6 462,2004 464,2005.1 466,2006 468,2007.3 470,2005.3 472,2004.6 474,2003.8 476,2004 478,2002.4 480,1999.3 482,2000.2 484,2002.1 486,2004.1 488,2005.6 490,2005.8 492,2005.9 494,2004.8 496,2004.2 498,2004.7 500,2003.3 502,2001.8 504,1998.8 506,2000.5 508,2002.4 510,2004.6 512,2005.5 514,2005.6 516,2005.6 518,2004.9 520,2005.7 522,2004.5 524,2003 526,2001.5 528,1999.9 530,2000.6 532,2003.2 534,2004 536,2004 538,2004 540,2005.6 542,2005.8 544,2005.9 546,2004.4 548,2002.5 550,2001.3 552,2001 554,2000.9 556,2003 558,2003.7 560,2003.6 562,2004 564,2004.3 566,2006 568,2005.7 570,2003.4 572,2002 574,2001 576,2001.1 578,2001.3 580,2002.2 582,2002.7 584,2001.9 586,2002.8 588,2004.5 590,2005.6 592,2004.4 594,2003.9 596,2002.3 598,2000.8 600,2001.2 602,2000.7 604,2001.1 606,2001.2 608,2002.1 610,2003.5 612,2005.1 614,2005.9 616,2004.4 618,2002.3 620,2001.7 622,2001.7 624,2001 626,1999.5 628,1999.6 630,2000.2 632,2001.8 634,2004.1 636,2005.3 638,2006.5 640,2004.3 642,2002.4 644,2001.8 646,2001.8 648,2001.2 650,1999 652,1999 654,1999.6 656,2001.4 658,2003.9 660,2005.3 662,2004.7 664,2003.6 666,2002.5 668,2002.9 670,2002.6 672,2000.4 674,1998.8 676,1998.4 678,1999.4 680,2001.8 682,2003 684,2004.3 686,2004.2 688,2003.8 690,2003.3 692,2003 694,2002.1 696,2000.1 698,1997.6 700,1998.3 702,1999.4 704,2001.3 706,2002.9 708,2002.1 710,2002.5 712,2002.8 714,2003.6 716,2002.3 718,2000.8 720,2000 722,1997.9 724,1999.1 726,2000.5 728,2001.8 730,2002.2 732,2001.8 734,2002.8 736,2002.8 738,2003.5 740,2002.3 742,2001.1 744,1998.9 746,1998.9 748,1999.4 750,1999.7 752,2000.6 754,2000.9 756,2001.6 758,2002.1 760,2003.4 762,2002.9 764,2002 766,2000.5 768,1998.9 770,1998.6 772,1998.6 774,1999.5 776,1999.8 778,1999.5 780,2001 782,2003.3 784,2004.3 786,2003.6 788,2001 790,2000 792,1999.3 794,1999.1 796,1998.4 798,1998.7 800,1999 802,1999.9 804,2000.7 806,2002.7 808,2004.9 810,2003.5 812,2000.9 814,1999.5 816,1999.5 818,1998.7 820,1997.5 822,1997.1 824,1997.8 826,1998.9 828,2001 830,2003.4 832,2004.5 834,2002.1 836,2000.8 838,1999.7 840,2000.2 842,1999.1 844,1996.9 846,1996.1 848,1996.7 850,1999.1 852,2001.1 854,2002 856,2002.5 858,2001.3 860,2000.8 862,1999.8 864,2000.5 866,1998.7 868,1996.8 870,1996 872,1997.8 874,1999.7 876,2000.8 878,2001.2 880,2001.5 882,2001.4 884,2000.5 886,2000.7 888,2000.3 890,1998.1 892,1996.2 894,1995.8 896,1998 898,1999.4 900,2000.6 902,2000.5 904,2000 906,2000.4 908,2000.4 910,2000 912,1999.5 914,1998 916,1996.8 918,1995.9 920,1998.2 922,1998.6 924,1999.1 926,1999.5 928,1999.3 930,2000.6 932,2001.4 934,1999.9 936,1998.4 938,1997.1 940,1996.3 942,1995.4 944,1997.3 946,1998.1 946,2089.7 943.5,2089.9 941,2089.2 938.5,2089.1 936,2088.8 933.5,2087.3 931,2086.4 928.5,2087.5 926,2086.6 923.5,2086 921,2085.3 920,2084.6 918.5,2085.4 916,2086.1 913.5,2088 911,2088.3 908.5,2088.5 906,2090.1 905,2090.7 903.5,2094.6 901,2105.1 898.5,2115 896,2122.9 894,2130.8 893.5,2129.9 891,2121.9 888.5,2114.7 886,2107.3 883.5,2100.1 881,2093.9 880,2090.4 878.5,2091.6 876,2096 873.5,2100.1 871,2105.2 868.5,2108.6 868,2109.9 866,2126.6 863.5,2145.4 861,2166.1 860,2172.9 858.5,2165 856,2151.2 853.5,2138.6 851,2124.9 850,2119.4 848.5,2116 846,2111 843.5,2105.7 841,2100.7 838.5,2096.1 836,2090.4 833.5,2084.7 831,2079.5 830,2077.5 828.5,2078.6 826,2077.9 823.5,2079.4 821,2078.9 818.5,2078.7 816,2078.2 813.5,2079.5 811,2079.9 808.5,2078.6 806,2078.8 803.5,2079.7 801,2080.8 800,2079.1 798.5,2080.5 796,2079.7 793.5,2077.9 791,2078.2 788.5,2077.5 786,2077 783.5,2076.3 781,2075.4 780,2074.4 778.5,2075.7 776,2074.9 773.5,2073.9 771,2074.4 768.5,2073.6 766,2073.4 763.5,2074.3 761,2074 758.5,2073.1 756,2072.2 753.5,2072.2 751,2072.8 748.5,2072.7 746,2072.3 743.5,2071.8 741,2071.6 740,2072.2 738.5,2070.7 736,2069.6 733.5,2067.4 731,2064.5 728.5,2063.5 726,2062.4 723.5,2059.6 721,2058.7 720,2057.8 718.5,2058 716,2057.7 713.5,2057.1 711,2057.9 708.5,2059.8 708,2058.7 706,2062.9 703.5,2066.6 701,2070.1 698.5,2068 696,2063.7 693.5,2062.2 693,2061.1 691,2060.5 688.5,2058.6 686,2055.1 683.5,2054.2 681,2052 679.6,2051.1 678.5,2053.3 676,2061 673.5,2066.8 671,2073.4 668.5,2079.9 666,2087.9 663.5,2094.1 661,2100.1 660,2102.9 658.5,2097.5 656,2086.5 653.5,2074.4 651,2064.8 648.5,2054 647,2046.4 646,2046.7 643.5,2047.6 641,2047.6 638.5,2047 637,2046.2 636,2048.1 633.5,2051.6 631,2054.1 628.5,2057.4 627,2058.1 626,2059.1 623.5,2055.6 621,2054.9 618.5,2053.5 616,2050.5 613.5,2048.6 611,2046.4 608.5,2049.3 606,2051.8 603.5,2052.8 601,2055 598.5,2056.3 596,2058.2 593.5,2058.9 591,2059.2 588.5,2057.6 586,2055.7 583.5,2052.1 581,2050.5 578.5,2049 576,2046.4 573.5,2045.4 571,2043.1 568.5,2040.7 566,2040.2 563.5,2038.1 561,2035.5 560,2034.9 558.5,2035.1 556,2037.3 553.5,2037.1 551,2038.2 548.5,2039.6 546,2041.9 543.5,2041.5 541,2043.2 540,2043.2 538.5,2045.3 536,2048.5 533.5,2051.2 531,2055.5 530,2056.6 528.5,2056 526,2054.1 523.5,2053.3 521,2052.5 520,2052.7 518.5,2052 516,2054.7 513.5,2056.3 511,2057.9 510,2058.9 508.5,2057.5 506,2059.4 503.5,2059.8 501,2060.2 498.5,2059.6 498,2060.6 496,2058.1 493.5,2056.6 491,2053.9 488.5,2053.4 486,2050.5 485,2050.3 483.5,2051.1 481,2055 478.5,2057.6 476,2060.3 474,2063 473.5,2062.1 471,2059.8 468.5,2056 466,2054.5 465,2053.8 463.5,2054.3 461,2055.6 458.5,2058.4 456,2058.8 455,2059.2 453.5,2059 451,2057.6 448.5,2056.3 446,2054.9 443.5,2053.4 441,2053.2 440,2052.7 438.5,2050.4 436,2049.6 434,2047.8 433.5,2047.2 431,2047.3 428.5,2045.6 426,2046.6 423.5,2047 421,2046.7 420,2045.8 418.5,2044.9 416,2044.3 413.5,2044.3 411,2042.3 408.5,2041.8 406,2042 405,2040.3 403.5,2042.9 401,2043.3 398.5,2044.4 396,2045.9 395,2046.7 393.5,2046.9 391,2044.3 388.5,2044.9 386,2042.2 383.5,2040.9 381,2040.9 380,2040.4 378.5,2039.4 376,2038.1 373.5,2037.8 371,2037.5 368.5,2035.6 366,2035.6 363.5,2034.6 361,2033.4 359.4,2031.8 358.5,2031.6 356,2033.5 353.5,2032.2 351,2032.1 348.5,2032.7 346,2033 343.5,2033.9 341,2032.9 338.5,2033 336,2034.5 333.5,2034.1 331,2033.5 328.5,2033.5 326,2033.7 323.5,2033.9 322.9,2035.2 321,2034 318.5,2033.2 316,2034.7 313.5,2032.6 311,2032.9 308.5,2031.9 306,2032.3 303.5,2032.6 301,2032.3 298.5,2030.6 296,2030.7 293.5,2031 291,2030.3 288.5,2029.3 286.4,2030.6 286,2030.7 283.5,2028.5 281,2028.6 278.5,2029 276,2028.3 273.5,2027.3 271,2028 268.5,2028.3 266,2028 263.5,2026.7 261,2026.2 258.5,2026.7 256,2026.2 253.5,2025.4 251,2024.8 249.9,2024.4 248.5,2026 246,2026.3 243.5,2027.9 241,2028.8 238.5,2029.3 236,2030.5 233.5,2033 231,2033.6 228.5,2035.1 226,2035.5 223.5,2037 223.1,2037.1 221,2036 218.5,2035.8 216,2036 213.5,2036.5 211,2036.3 208.5,2034.3 206,2034.7 203.5,2033.4 201,2033.2 198.5,2033.9 196,2032.4 193.5,2033.4 191,2032.2 189,2031.9 188.5,2032.8 186,2032.6 183.5,2031.6 181,2031.3 178.5,2030.7 176,2029.1 173.5,2028.5 171,2028.2 168.5,2028.5 166,2027.3 164.7,2026.8 163.5,2027.5 161,2025.3 158.5,2023.9 156,2022.3 153.5,2020 151,2018.3 148.5,2017.7 146,2014.8 143.5,2014.6 141,2012.7 140,2011.8 138.5,2011.5 136,2011.5 133.5,2012.3 131,2011.2 128.5,2012.2 126,2011.4 123.5,2011.3 121,2012.1 118.5,2012.3 116,2011.2" fill="#3e5482" clip-path="url(#c9)"/>
<clipPath id="c10"><polygon points="116,2020.3 118.5,2017.2 121,2014.2 123.5,2013.1 126,2009.8 128.5,2007.6 130.6,2005.5 131,2006.5 133.5,2007.3 136,2006.9 138.5,2009.2 141,2010 143.5,2011.1 146,2013 148.5,2013.3 151,2014.5 152.5,2016 153.5,2015.8 156,2017.7 158.5,2019.5 161,2021.9 163.5,2023.4 166,2025.4 168.5,2026.5 169.5,2026.5 171,2027.9 173.5,2028 176,2028.7 178.5,2029 181,2028.1 183.5,2028.6 186,2028.6 188.5,2030.4 189,2029 191,2032.6 193.5,2038.4 196,2042.5 198.5,2046 201,2051.7 201.2,2052.1 203.5,2053.5 206,2054.7 208.5,2058 211,2059.5 213.3,2061.7 213.5,2062.7 216,2064.8 218.5,2067.4 221,2068.4 223.5,2071.3 225.5,2073.6 226,2073.2 228.5,2078.2 231,2079.7 233.5,2082.7 236,2085.8 237.7,2087.7 238.5,2089.5 241,2090.9 243.5,2092.8 246,2094.6 248.5,2095.8 251,2098.3 253.5,2101.4 254.7,2102.2 256,2104.7 258.5,2108.1 261,2112.6 262,2114.1 263.5,2118.7 266,2124.3 268.5,2130.5 271,2136.5 273.5,2142.7 274.2,2143.9 276,2143.7 278.5,2141 281,2141 283.5,2138.7 286,2136.2 286.4,2136.5 288.5,2140.8 291,2145.2 293.5,2150.1 296,2154.2 298.5,2158.7 301,2164.3 303.5,2162 306,2161.6 308.5,2160.6 311,2158.9 313.5,2157.4 315.6,2157.3 316,2156.9 318.5,2161.8 321,2164.2 323.5,2169 326,2173.4 327.7,2175 328.5,2177 331,2176.7 333.5,2178.9 336,2179.3 337.5,2181.5 338.5,2181.5 341,2183.7 343.5,2184.7 344.8,2185.9 346,2180.5 348.5,2168.3 349.6,2163.1 351,2163.7 353.5,2161 356,2161.3 358.5,2158.7 359.4,2158 361,2157.7 363.5,2158.6 366,2158.4 368.5,2156.8 371,2156.8 373.5,2155.5 376,2156.3 378.5,2155.4 381,2153.8 383.5,2153.2 383.7,2154.4 386,2157.7 388.5,2164.2 391,2168.1 393.5,2173 395.9,2178.5 396,2177.8 398.5,2174.8 401,2170.4 403.5,2168.4 406,2163.8 408,2162 408.5,2160 411,2158.1 413.5,2155.4 416,2151.1 418.5,2147.2 421,2144.8 423.5,2142.2 426,2138.2 427.5,2137 428.5,2136.2 431,2137.3 433.5,2138.2 436,2138 438.5,2138.9 441,2138.1 443.5,2139.9 444.5,2138.6 446,2133.2 448.5,2121.7 451,2109.9 451.8,2105.4 453.5,2103.2 456,2100.8 458.5,2099.1 461,2096.1 461.6,2096.4 463.5,2094.3 466,2094.6 468.5,2094.9 471,2093.8 473.5,2093.2 476,2091.8 478.5,2091.4 481,2091.2 483.5,2092 485.9,2091.4 486,2090.2 488.5,2092.9 491,2092.4 493.5,2094.8 496,2096.8 498.5,2096.9 501,2099.4 503.5,2100.1 506,2100.2 507.8,2101.7 508.5,2100.8 511,2096.7 513.5,2093.9 516,2088.9 518.5,2086.4 521,2081.6 523,2078.1 523.5,2079.5 526,2080.8 528.5,2083.8 530,2085.6 531,2086.5 533.5,2089.5 536,2091.9 538.5,2096.1 540,2097.2 541,2098.3 543.5,2097.3 546,2098.2 548.5,2101.5 550,2103.7 551,2105.1 553.5,2106.1 555,2107.3 556,2107.3 558.5,2102.1 560,2100.7 561,2098.9 563.5,2093.6 565.5,2089.3 566,2086.2 567.5,2078.8 568.5,2076.8 571,2076.5 573.5,2075.5 574.6,2074.2 576,2075.5 578.5,2075.9 581,2077.6 583.5,2078.6 586,2079.3 588.5,2080 591,2081.4 592,2081.4 593.5,2081.5 596,2082.1 598.5,2083.7 601,2083.3 603.5,2084.4 606,2083 608.5,2082.3 611,2078.8 613.5,2076.9 616,2073.9 618.5,2071.5 621,2068 623.5,2066.5 626,2064.9 628.5,2064.7 631,2063.9 633.5,2064.2 636,2064.1 638.5,2063.2 641,2064 643.5,2062 646,2062.6 648.5,2061.5 649,2062.2 651,2062.1 653.5,2061.4 656,2059.6 658.5,2059.4 661,2059.5 663.5,2059.7 666,2057.3 667,2058.2 668.5,2058.5 671,2058.9 673.5,2058.2 676,2059.3 678.5,2058.8 681,2059.9 683.5,2058.3 686,2060.3 688.5,2059.5 691,2059.7 693,2059.2 693.5,2059.6 696,2061 698.5,2061.4 701,2060.8 703.5,2061.6 706,2061.7 708.5,2062.3 711,2062.8 713.5,2063.5 716,2065.2 718.5,2065.7 720,2065.6 721,2065.2 723.5,2065.9 726,2067.1 728.5,2067.9 731,2068.3 733.5,2068.6 736,2068.4 738.5,2069.9 740,2070.7 741,2070.5 743.5,2068.9 746,2069.9 748.5,2069 751,2068.4 753.5,2069.8 756,2069 758.5,2068.9 761,2067.5 763.5,2068.7 766,2068.7 768.5,2068.4 771,2067.9 773.5,2067.9 776,2067.6 778.5,2067 781,2066.5 783.5,2067 786,2066.7 788.5,2066.7 791,2065.3 793.5,2066.5 796,2065.4 798.5,2066 800,2064.2 801,2065.9 803.5,2065.6 806,2064.5 808.5,2065.7 811,2064.5 813.5,2064.4 816,2064.9 818.5,2064.5 821,2065 823.5,2065.8 826,2065.4 828.5,2065.4 831,2064.8 833.5,2065.6 836,2065.6 838.5,2065.4 841,2065.9 843.5,2065.7 846,2064.8 848.5,2064.2 850,2065.3 851,2065.7 853.5,2064.9 856,2065.5 858.5,2066.2 861,2066.2 863.5,2064.8 866,2065.9 868.5,2065.1 871,2065.5 873.5,2067 876,2066.4 878.5,2066.9 881,2066.8 883.5,2066.7 886,2066.6 888.5,2067 891,2068.1 893.5,2067.8 896,2067.3 898.5,2067.1 900,2067.5 901,2068.5 903.5,2068.2 906,2068.8 908.5,2069.4 911,2068.2 913.5,2069.5 916,2068.5 918.5,2070.3 921,2069.2 923.5,2069.6 926,2071.2 928.5,2070.2 931,2070.1 933.5,2071.7 936,2071.4 938.5,2072.1 941,2071.4 943.5,2071.8 946,2072.9 946,2101.2 944,2103.3 942,2102.9 940,2103 938,2104 936,2103.8 934,2105.3 932,2104.3 930,2105.6 928,2106.6 926,2107.2 924,2107.4 923.9,2107.4 922,2113.2 920,2121.3 918,2128.2 916,2133.8 914,2140.3 912,2145.9 910,2150.3 908,2155.1 906,2160.8 904,2166 902,2167.9 900,2170 898,2172.6 896,2174.3 894.4,2176.8 894,2173.9 892,2164.3 890,2155.8 888,2146.9 886,2137.8 884.5,2131 884,2131.3 882,2128.5 880,2127.3 878,2123.5 876,2122.6 874,2119.4 872,2118 870,2115.4 868,2113.1 866,2113.4 864,2112.7 862,2111.8 860,2110.6 858,2110.5 856,2110.8 854,2110.3 852,2110.2 850,2109.8 848,2109.9 846,2110 844,2110.2 842,2110.4 840,2109.2 838,2109.1 837.7,2109 836,2111 834,2112 832,2111.8 830,2111.5 828,2113.3 826,2112.9 824,2113.6 823,2113.4 822,2119.9 820.5,2127.3 820,2128.1 818,2130.8 816,2135.3 814,2139.7 812,2144.6 810,2146.8 808.2,2151.1 808,2150.4 806,2149.3 804,2146.2 802,2144.9 800,2143.6 798,2141.7 796,2138 795.9,2139.4 794,2140.6 792,2144.1 790,2146.7 788,2150 786,2151.9 784,2154.7 783.6,2156.7 782,2160 780,2164.7 778,2169.1 776.2,2173.9 776,2174.3 774,2184.2 772,2191.9 770,2203 768,2212.3 766.3,2220 766,2216.7 764,2204.6 762,2191 760,2179.3 758,2165.2 756.5,2156.5 756,2162.8 754,2184.2 752,2208.6 751.6,2211.7 750,2216.3 748,2221.8 746,2228.4 745.4,2229.5 744,2215.2 742,2193.5 741.7,2189.4 740,2179.7 738,2165.1 736,2151.6 734.3,2140.4 734,2141.5 732,2138.8 730,2134 728,2130.9 726,2129.3 724.5,2126.9 724,2129.1 722,2136.7 720,2143.5 718,2150.7 716,2159.8 714,2165.9 712.2,2172.4 712,2174 710,2179.4 708,2182.7 706,2188.2 704,2193.5 702.3,2197.5 702,2196.5 700,2196.2 698,2194.9 696,2193.1 694,2192 692,2189.9 690,2190 688,2187.4 686,2186.9 684,2186.2 682.6,2185.2 682,2185.9 680,2188.6 678,2191 676,2193.8 674,2197.6 672,2199.6 670,2203.1 669.1,2205.4 668,2201.5 666,2196.6 664,2192.7 662.9,2189.8 662,2186.2 660,2176 658,2165.6 656,2164.6 654,2165 652,2165.2 650,2163 648.2,2163.4 648,2164.5 646,2168.5 644,2170.9 642,2175.6 640,2180 638.3,2182.6 638,2182.1 636,2181.3 634,2181.7 632,2180.7 630,2178.8 628,2178.5 626,2176.9 624,2177 623.5,2176.7 622,2178 620,2180.7 619.9,2179 618,2190.3 616,2201.5 614,2213.4 612.5,2222 612,2219.4 610,2212.6 608,2207.1 606,2199.5 604,2193.2 603.9,2193.1 602,2190.8 600,2187.1 598,2185 596.5,2181.8 596,2182.9 594,2187.5 592,2192.9 590,2198.2 589.1,2200.5 588,2198.6 586,2196.7 584,2195 582,2194 580,2193.9 579.2,2192.6 578,2194.6 576,2200 574,2204.9 572,2210.6 570,2215.8 569.4,2217.6 568,2222.3 566,2231.7 564.5,2238.2 564,2240.3 562,2243.3 560,2246.7 558,2249.7 556,2252.3 554.6,2254.8 554,2255.3 552,2258.3 550,2260.9 548,2264.1 546,2268.3 544.8,2269.3 544,2267.2 542,2261.1 540,2255.2 538,2247.8 537.4,2246.1 536,2244.4 534,2241.2 532,2238.8 530,2236.3 529.7,2236.4 528,2235.2 526,2233.4 524,2231.4 522,2230.8 520,2228.6 518,2229.1 516,2226.5 515.1,2227.1 514,2226.4 512,2226 510,2225 508,2223 506,2223 504,2222 502,2221.1 500,2220.7 498,2220.2 496,2219.3 495.7,2218 494,2226.1 492,2235 490,2242.7 488.4,2251.2 488,2251.1 486,2259.1 484,2266.6 482,2273.7 480,2279.4 478,2287.6 476,2293.4 474,2301.1 473.8,2301.4 472,2296.9 470,2292.5 468,2286.7 466,2281.5 464,2278 462,2289.7 460,2304.6 458,2317.4 456.7,2325.9 456,2326.1 454,2329.4 452,2332 450,2335.9 448.2,2337.2 448,2336.6 446,2325 444,2310.9 442,2299.5 440,2286.2 439.7,2285.2 438,2282.2 436,2277.6 434,2272.5 432,2268.8 430,2264.8 429.9,2264.7 428,2262.7 426,2258.9 424,2254.5 422.6,2252.6 422,2252.7 420,2251.1 418,2249.4 416,2246.5 414,2246.2 412.9,2244.8 412,2247.7 410,2253.4 408,2259.4 406,2265.2 404,2270.2 403.2,2273 402,2273.2 400,2272.9 398,2274.9 396,2275.4 394,2276.2 392,2275.7 390,2277 388.6,2277.1 388,2280.7 386,2291.9 384,2303.2 382,2313.4 380,2324.2 378.8,2330 378,2333 376,2338.6 374,2346.2 372,2351.7 370,2357.4 369.1,2360.2 368,2372.2 366,2391.5 364,2412.5 362,2434 361.8,2435.3 360,2430.4 358,2425.9 356,2421 354,2414.6 352,2410 350.8,2406.7 350,2395.9 348,2369.8 346,2342.3 344.8,2325.6 344,2321.3 342,2312.7 340,2302 339.9,2302.1 338,2308.5 336,2314.8 334,2320.5 332.6,2325.5 332,2328.9 330,2341.4 328,2351.4 326.5,2360.2 326,2357.3 324,2342 322,2329.7 320,2315 318,2302 316,2271.5 314,2242.2 313.1,2229.5 312,2232 310,2238.5 308.3,2245 308,2244.7 306,2243.5 304,2242.3 302,2241.9 300,2239.7 298.5,2239.2 298,2237.9 296.1,2229 296,2229.8 294,2238 292,2247.8 291.2,2250 290,2251.7 288,2255.8 286,2257.3 284,2260 283.9,2259.8 282,2265.6 280,2272.6 278,2278.8 277.8,2279.2 276.6,2261.2 276,2254.4 274,2235.9 272,2219.2 271.8,2217.4 270,2205.5 268,2193.4 266,2180.9 265.7,2179.6 264,2154.1 262,2125.5 260,2120.2 258,2117.5 256,2112.7 254.7,2109.3 254,2109.1 252,2108.2 250,2106.5 248,2104.2 246,2101.6 244,2100.1 242,2099.2 240,2097.4 238,2096.2 237.7,2094.8 236,2093.3 234,2091.2 232,2088.6 230,2086.9 228,2083.4 226,2081.3 225,2079.6 224,2079.5 222,2076.6 220,2075.3 218,2073.5 216,2070.8 214,2068.1 213,2068.2 212,2067.1 210,2064 208,2063.4 206,2061.3 204,2057.5 202,2055.7 201,2054.1 200,2055.2 198,2054.5 196,2054.2 194,2053.3 192,2052.1 190,2051.7 188,2051.3 186,2051 185,2049.1 184,2050.6 182,2048.7 180,2048.3 178,2048.5 176,2047.4 174,2046.4 172,2045.4 170,2045.3 168,2043.8 166,2041.7 164,2041.4 162,2038.9 160,2037.7 158,2035.2 156,2034.8 154,2033.8 152,2032.4 150,2029.8 148,2029.7 146,2030.1 144,2029.2 142,2028 140,2028.2 138,2027.7 136,2028.6 134,2027.6 132,2028.2 130,2026.4 128,2025.8 126,2026.5 124,2025.5 122,2026.5 120,2025 118,2026.3 116,2025"/></clipPath>
<clipPath id="c11"><polygon points="640,1960 960,1960 960,2300 640,2300"/></clipPath>
<g clip-path="url(#c11)">
<polygon points="116,2000.7 118,2001.8 120,2002.9 122,2004.4 124,2005.9 126,2005.1 128,2005.3 130,2005.5 132,2004.6 134,2004.1 136,2001.6 138,1999.4 140,1997.2 142,2001.1 144,2004.9 146,2007.2 148,2009 150,2010.6 152,2012.5 154,2014.8 156,2015.6 158,2015.2 160,2014 162,2014.6 164,2014.8 164.7,2016 166,2017.6 168,2019.1 170,2019.9 172,2019.4 174,2020.6 176,2021.9 178,2022.9 180,2021.9 182,2019.1 184,2017.2 186,2015.7 188,2015.8 190,2015.8 192,2016.4 194,2015.6 196,2015.5 198,2016 200,2017.2 201,2017.8 202,2017.4 204,2016.2 206,2013.9 208,2012.7 210,2012 212,2011.8 214,2011.6 216,2011.1 218,2011.8 220,2012.4 222,2013.6 224,2014.5 225.5,2014.8 226,2013.9 228,2012.9 230,2011 232,2009.7 234,2009.2 236,2009.7 238,2009.3 240,2008.1 242,2009.1 244,2009.6 246,2010.7 248,2012 250,2012.2 252,2010.5 254,2008.2 256,2008.4 258,2007.5 260,2007.4 262,2005.5 264,2006.3 266,2007.2 268,2008.2 270,2010.5 272,2010.4 274,2009.9 276,2008.9 278,2007.4 280,2007.5 282,2007.2 284,2005.9 286,2003.4 288,2003.8 290,2006.3 292,2007.7 294,2009.8 296,2010.1 298,2009.5 298.5,2009.2 300,2008.4 302,2008.3 304,2008.1 306,2006.9 308,2004.9 310,2003.3 312,2003.9 314,2006.1 316,2008.4 318,2008.7 320,2008.9 322,2010.3 324,2009.4 326,2009.4 328,2008.1 330,2006.8 332,2004.8 334,2002.7 335,2003.8 336,2004.8 338,2006.2 340,2008.1 342,2008.2 344,2008.5 346,2009.2 348,2010 350,2009.6 352,2007.5 354,2005.5 356,2004.4 358,2004 360,2004.4 362,2006.1 364,2006.8 366,2006.5 368,2007 370,2008.4 372,2009.1 374,2008.6 376,2006.6 378,2004.9 380,2004.4 382,2003.2 384,2004.5 386,2005.5 388,2005.1 390,2005.2 391,2006.2 392,2006.1 394,2007.6 396,2008.5 398,2007.6 400,2005.3 402,2004.2 404,2003.7 406,2004.2 408,2003.7 410,2004.5 412,2003.7 414,2004.4 416,2006.1 418,2007.9 420,2007.9 422,2006 424,2004.3 426,2003.9 428,2003.3 430,2003.7 432,2002.9 434,2002.1 436,2002.5 438,2004.3 440,2005.9 442,2007.5 444,2007.2 446,2005 448,2003.8 450,2003.9 452,2003.1 454,2002.4 456,2000.7 458,2000.7 460,2001.6 462,2004 464,2005.1 466,2006 468,2007.3 470,2005.3 472,2004.6 474,2003.8 476,2004 478,2002.4 480,1999.3 482,2000.2 484,2002.1 486,2004.1 488,2005.6 490,2005.8 492,2005.9 494,2004.8 496,2004.2 498,2004.7 500,2003.3 502,2001.8 504,1998.8 506,2000.5 508,2002.4 510,2004.6 512,2005.5 514,2005.6 516,2005.6 518,2004.9 520,2005.7 522,2004.5 524,2003 526,2001.5 528,1999.9 530,2000.6 532,2003.2 534,2004 536,2004 538,2004 540,2005.6 542,2005.8 544,2005.9 546,2004.4 548,2002.5 550,2001.3 552,2001 554,2000.9 556,2003 558,2003.7 560,2003.6 562,2004 564,2004.3 566,2006 568,2005.7 570,2003.4 572,2002 574,2001 576,2001.1 578,2001.3 580,2002.2 582,2002.7 584,2001.9 586,2002.8 588,2004.5 590,2005.6 592,2004.4 594,2003.9 596,2002.3 598,2000.8 600,2001.2 602,2000.7 604,2001.1 606,2001.2 608,2002.1 610,2003.5 612,2005.1 614,2005.9 616,2004.4 618,2002.3 620,2001.7 622,2001.7 624,2001 626,1999.5 628,1999.6 630,2000.2 632,2001.8 634,2004.1 636,2005.3 638,2006.5 640,2004.3 642,2002.4 644,2001.8 646,2001.8 648,2001.2 650,1999 652,1999 654,1999.6 656,2001.4 658,2003.9 660,2005.3 662,2004.7 664,2003.6 666,2002.5 668,2002.9 670,2002.6 672,2000.4 674,1998.8 676,1998.4 678,1999.4 680,2001.8 682,2003 684,2004.3 686,2004.2 688,2003.8 690,2003.3 692,2003 694,2002.1 696,2000.1 698,1997.6 700,1998.3 702,1999.4 704,2001.3 706,2002.9 708,2002.1 710,2002.5 712,2002.8 714,2003.6 716,2002.3 718,2000.8 720,2000 722,1997.9 724,1999.1 726,2000.5 728,2001.8 730,2002.2 732,2001.8 734,2002.8 736,2002.8 738,2003.5 740,2002.3 742,2001.1 744,1998.9 746,1998.9 748,1999.4 750,1999.7 752,2000.6 754,2000.9 756,2001.6 758,2002.1 760,2003.4 762,2002.9 764,2002 766,2000.5 768,1998.9 770,1998.6 772,1998.6 774,1999.5 776,1999.8 778,1999.5 780,2001 782,2003.3 784,2004.3 786,2003.6 788,2001 790,2000 792,1999.3 794,1999.1 796,1998.4 798,1998.7 800,1999 802,1999.9 804,2000.7 806,2002.7 808,2004.9 810,2003.5 812,2000.9 814,1999.5 816,1999.5 818,1998.7 820,1997.5 822,1997.1 824,1997.8 826,1998.9 828,2001 830,2003.4 832,2004.5 834,2002.1 836,2000.8 838,1999.7 840,2000.2 842,1999.1 844,1996.9 846,1996.1 848,1996.7 850,1999.1 852,2001.1 854,2002 856,2002.5 858,2001.3 860,2000.8 862,1999.8 864,2000.5 866,1998.7 868,1996.8 870,1996 872,1997.8 874,1999.7 876,2000.8 878,2001.2 880,2001.5 882,2001.4 884,2000.5 886,2000.7 888,2000.3 890,1998.1 892,1996.2 894,1995.8 896,1998 898,1999.4 900,2000.6 902,2000.5 904,2000 906,2000.4 908,2000.4 910,2000 912,1999.5 914,1998 916,1996.8 918,1995.9 920,1998.2 922,1998.6 924,1999.1 926,1999.5 928,1999.3 930,2000.6 932,2001.4 934,1999.9 936,1998.4 938,1997.1 940,1996.3 942,1995.4 944,1997.3 946,1998.1 946,2089.7 943.5,2089.9 941,2089.2 938.5,2089.1 936,2088.8 933.5,2087.3 931,2086.4 928.5,2087.5 926,2086.6 923.5,2086 921,2085.3 920,2084.6 918.5,2085.4 916,2086.1 913.5,2088 911,2088.3 908.5,2088.5 906,2090.1 905,2090.7 903.5,2094.6 901,2105.1 898.5,2115 896,2122.9 894,2130.8 893.5,2129.9 891,2121.9 888.5,2114.7 886,2107.3 883.5,2100.1 881,2093.9 880,2090.4 878.5,2091.6 876,2096 873.5,2100.1 871,2105.2 868.5,2108.6 868,2109.9 866,2126.6 863.5,2145.4 861,2166.1 860,2172.9 858.5,2165 856,2151.2 853.5,2138.6 851,2124.9 850,2119.4 848.5,2116 846,2111 843.5,2105.7 841,2100.7 838.5,2096.1 836,2090.4 833.5,2084.7 831,2079.5 830,2077.5 828.5,2078.6 826,2077.9 823.5,2079.4 821,2078.9 818.5,2078.7 816,2078.2 813.5,2079.5 811,2079.9 808.5,2078.6 806,2078.8 803.5,2079.7 801,2080.8 800,2079.1 798.5,2080.5 796,2079.7 793.5,2077.9 791,2078.2 788.5,2077.5 786,2077 783.5,2076.3 781,2075.4 780,2074.4 778.5,2075.7 776,2074.9 773.5,2073.9 771,2074.4 768.5,2073.6 766,2073.4 763.5,2074.3 761,2074 758.5,2073.1 756,2072.2 753.5,2072.2 751,2072.8 748.5,2072.7 746,2072.3 743.5,2071.8 741,2071.6 740,2072.2 738.5,2070.7 736,2069.6 733.5,2067.4 731,2064.5 728.5,2063.5 726,2062.4 723.5,2059.6 721,2058.7 720,2057.8 718.5,2058 716,2057.7 713.5,2057.1 711,2057.9 708.5,2059.8 708,2058.7 706,2062.9 703.5,2066.6 701,2070.1 698.5,2068 696,2063.7 693.5,2062.2 693,2061.1 691,2060.5 688.5,2058.6 686,2055.1 683.5,2054.2 681,2052 679.6,2051.1 678.5,2053.3 676,2061 673.5,2066.8 671,2073.4 668.5,2079.9 666,2087.9 663.5,2094.1 661,2100.1 660,2102.9 658.5,2097.5 656,2086.5 653.5,2074.4 651,2064.8 648.5,2054 647,2046.4 646,2046.7 643.5,2047.6 641,2047.6 638.5,2047 637,2046.2 636,2048.1 633.5,2051.6 631,2054.1 628.5,2057.4 627,2058.1 626,2059.1 623.5,2055.6 621,2054.9 618.5,2053.5 616,2050.5 613.5,2048.6 611,2046.4 608.5,2049.3 606,2051.8 603.5,2052.8 601,2055 598.5,2056.3 596,2058.2 593.5,2058.9 591,2059.2 588.5,2057.6 586,2055.7 583.5,2052.1 581,2050.5 578.5,2049 576,2046.4 573.5,2045.4 571,2043.1 568.5,2040.7 566,2040.2 563.5,2038.1 561,2035.5 560,2034.9 558.5,2035.1 556,2037.3 553.5,2037.1 551,2038.2 548.5,2039.6 546,2041.9 543.5,2041.5 541,2043.2 540,2043.2 538.5,2045.3 536,2048.5 533.5,2051.2 531,2055.5 530,2056.6 528.5,2056 526,2054.1 523.5,2053.3 521,2052.5 520,2052.7 518.5,2052 516,2054.7 513.5,2056.3 511,2057.9 510,2058.9 508.5,2057.5 506,2059.4 503.5,2059.8 501,2060.2 498.5,2059.6 498,2060.6 496,2058.1 493.5,2056.6 491,2053.9 488.5,2053.4 486,2050.5 485,2050.3 483.5,2051.1 481,2055 478.5,2057.6 476,2060.3 474,2063 473.5,2062.1 471,2059.8 468.5,2056 466,2054.5 465,2053.8 463.5,2054.3 461,2055.6 458.5,2058.4 456,2058.8 455,2059.2 453.5,2059 451,2057.6 448.5,2056.3 446,2054.9 443.5,2053.4 441,2053.2 440,2052.7 438.5,2050.4 436,2049.6 434,2047.8 433.5,2047.2 431,2047.3 428.5,2045.6 426,2046.6 423.5,2047 421,2046.7 420,2045.8 418.5,2044.9 416,2044.3 413.5,2044.3 411,2042.3 408.5,2041.8 406,2042 405,2040.3 403.5,2042.9 401,2043.3 398.5,2044.4 396,2045.9 395,2046.7 393.5,2046.9 391,2044.3 388.5,2044.9 386,2042.2 383.5,2040.9 381,2040.9 380,2040.4 378.5,2039.4 376,2038.1 373.5,2037.8 371,2037.5 368.5,2035.6 366,2035.6 363.5,2034.6 361,2033.4 359.4,2031.8 358.5,2031.6 356,2033.5 353.5,2032.2 351,2032.1 348.5,2032.7 346,2033 343.5,2033.9 341,2032.9 338.5,2033 336,2034.5 333.5,2034.1 331,2033.5 328.5,2033.5 326,2033.7 323.5,2033.9 322.9,2035.2 321,2034 318.5,2033.2 316,2034.7 313.5,2032.6 311,2032.9 308.5,2031.9 306,2032.3 303.5,2032.6 301,2032.3 298.5,2030.6 296,2030.7 293.5,2031 291,2030.3 288.5,2029.3 286.4,2030.6 286,2030.7 283.5,2028.5 281,2028.6 278.5,2029 276,2028.3 273.5,2027.3 271,2028 268.5,2028.3 266,2028 263.5,2026.7 261,2026.2 258.5,2026.7 256,2026.2 253.5,2025.4 251,2024.8 249.9,2024.4 248.5,2026 246,2026.3 243.5,2027.9 241,2028.8 238.5,2029.3 236,2030.5 233.5,2033 231,2033.6 228.5,2035.1 226,2035.5 223.5,2037 223.1,2037.1 221,2036 218.5,2035.8 216,2036 213.5,2036.5 211,2036.3 208.5,2034.3 206,2034.7 203.5,2033.4 201,2033.2 198.5,2033.9 196,2032.4 193.5,2033.4 191,2032.2 189,2031.9 188.5,2032.8 186,2032.6 183.5,2031.6 181,2031.3 178.5,2030.7 176,2029.1 173.5,2028.5 171,2028.2 168.5,2028.5 166,2027.3 164.7,2026.8 163.5,2027.5 161,2025.3 158.5,2023.9 156,2022.3 153.5,2020 151,2018.3 148.5,2017.7 146,2014.8 143.5,2014.6 141,2012.7 140,2011.8 138.5,2011.5 136,2011.5 133.5,2012.3 131,2011.2 128.5,2012.2 126,2011.4 123.5,2011.3 121,2012.1 118.5,2012.3 116,2011.2" fill="#3f4d79" clip-path="url(#c10)"/>
</g>
<polyline points="116,2015.7 118.5,2014 121,2012.6 123.5,2011.1 126,2009.7 128.5,2009.4 130.6,2008.3 131,2007.5 133.5,2009 136,2010.3 138.5,2011.4 141,2012.4 143.5,2014.1 146,2014.6 148.5,2015.9 151,2017.5 152.5,2017.9 153.5,2018.1 156,2018.9 158.5,2020 161,2021.2 163.5,2022.4 166,2022.8 168.5,2023.9 171,2025 173.5,2025.9 176,2027.6 176.8,2027.4 178.5,2027.5 181,2028 183.5,2029.1 186,2028.8 188.5,2029.9 189,2029.2 191,2032.6 193.5,2036.5 196,2041.4 198.5,2044.6 201,2048.7 201.2,2048.8 203.5,2051.3 206,2054.4 208.5,2056.9 211,2059.6 213.5,2062.1 216,2064.2 218.2,2066.8 218.5,2066.3 221,2071.5 223.5,2075.1 226,2079 228.5,2083.8 231,2088.1 232.8,2090.6 233.5,2090.9 236,2094.3 238.5,2096.7 241,2099 243.5,2101.9 246,2103.3 248.5,2105.8 249.9,2107.2 251,2110.1 253.5,2117.6 256,2124.2 257.2,2126.7 258.5,2134.3 261,2148.8 263.5,2163.7 266,2178.2 266.9,2183.8 268.5,2184.5 271,2187.6 273.5,2189.2 276,2191.5 276.6,2191.9 278.5,2190.5 281,2189.5 283.5,2187.7 286,2185.4 286.4,2184.5 288.5,2197.3 288.8,2199.1 291,2196.7 293.5,2194.2 296,2190.4 298.5,2187.9 301,2185.1 303.5,2189.3 306,2194.8 308.5,2200.2 310.7,2204.4 311,2203.9 313.5,2202 316,2199.1 318.5,2196.3 320.4,2194.5 321,2197.2 323.5,2205.8 325.3,2212.1 326,2212.9 328.5,2216.8 331,2221.3 333.5,2225.9 335,2228.9 336,2229.1 338.5,2232.6 341,2235 342.3,2236 343.5,2233.9 346,2231.8 348.5,2228.2 351,2225.4 352.1,2223.9 353.5,2225.5 356,2227.6 358.5,2230.8 359.4,2231.6 361,2238 363.5,2247.7 366,2257.3 368.5,2267.4 369.1,2269.7 371,2261.4 373.5,2249.4 376,2237.5 378.5,2225.6 378.8,2224.4 381,2224.9 383.5,2225.5 386,2227 388.5,2227.4 391,2228.8 393.5,2220.8 396,2214.1 398.5,2206.1 400.7,2199.2 401,2199.9 403.5,2197.9 406,2197.9 408.5,2196.7 411,2194.9 412.9,2194.9 413.5,2194.2 416,2192.6 418.5,2190.3 421,2188.1 423.5,2186.7 425.1,2184.4 426,2180 427.5,2170.5 428.5,2171.4 431,2172.9 433.5,2175.4 436,2176.6 438.5,2178.6 441,2179.7 443.5,2181.9 446,2183.5 448.5,2184.5 449.4,2185.6 451,2184.7 453.5,2182.3 456,2181 458.5,2178.8 461,2177.1 463.5,2176 466,2174.2 466.4,2174 468.5,2177.9 471,2183.6 473.5,2189.4 476,2194.8 478.5,2199.9 478.6,2200.6 481,2196.5 483.5,2193.4 486,2189.1 488.5,2184.9 491,2181.9 493.2,2177.9 493.5,2178 496,2173.3 498.5,2170.4 501,2165.9 503.5,2162.1 505.4,2158.4 506,2159.6 508.5,2161.8 511,2164.1 513.5,2167.3 516,2168.8 517.6,2171 518.5,2168.7 521,2164.6 523.5,2159.7 526,2153.7 528.5,2149.2 530,2146.3 531,2145.5 533.5,2143 534.9,2141.1 536,2144.7 538.5,2150.5 541,2157.1 542.3,2161.4 543.5,2159.3 546,2156.9 548.5,2154.8 549.7,2153.4 551,2154.8 553.5,2158.7 556,2161.1 558.5,2164.5 561,2166.9 562,2168.9 563.5,2167.7 566,2167.9 566.9,2167.3 568.5,2165.7 571,2162.2 573.5,2158.8 576,2155.4 578.5,2152.5 579.2,2151.1 581,2136.5 581.7,2132 583.5,2131.7 586,2131.3 588.5,2131.1 591,2130.2 593.5,2130.2 594,2130.6 596,2127.5 598.5,2123.4 601,2118.5 603.5,2115.1 603.9,2114.3 606,2113.9 608.5,2113.4 611,2113.1 613.5,2113.2 616,2113 616.2,2112.7 618.5,2112.1 621,2111.6 623.5,2111.1 626,2110.2 628.5,2108.9 631,2107.9 633.5,2105.4 636,2104.2 638.3,2102.5 638.5,2101.7 641,2105.2 643.5,2108.6 645.7,2110.5 646,2110.4 648.5,2107.6 651,2104.7 653.1,2102.8 653.5,2103.8 656,2110.5 658.5,2117.5 659.2,2119.3 661,2115.7 663.5,2109.7 666,2103.6 667.9,2100 668.5,2098.8 671,2094.9 673.5,2091.5 676,2087.5 677.7,2084.5 678.5,2085.6 681,2087.8 683.5,2091.1 686,2092.7 687.6,2095.2 688.5,2093.9 691,2093.2 693.5,2093.2 696,2092.1 698.5,2091.9 701,2090.8 702.3,2091.3 703.5,2090.7 706,2089.9 708.5,2089.3 711,2088.6 713.5,2087.3 716,2086.5 717.1,2085.3 718.5,2080.9 721,2073.5 723.5,2066.2 724.5,2062.3 726,2063.3 728.5,2064 731,2065.7 733.5,2067.6 734.3,2067.6 736,2065.7 738.5,2061.5 741,2058.5 743.5,2055.3 746,2052.9 748.5,2048.8 751,2046.6 751.6,2045 753.5,2045.4 756,2044.6 758.5,2044 761,2044.3 763.5,2043.2 766,2043.2 766.3,2042.4 768.5,2042.4 771,2041.6 773.5,2039.6 776,2039.4 778.5,2037.8 781,2036.7 783.5,2036 786,2035.4 788.5,2034.7 791,2034.8 793.5,2034.8 796,2034.3 798.5,2034.4 800.8,2033.8 801,2034.4 803.5,2032.7 806,2030.9 808.5,2030.1 811,2027.9 813.1,2026.5 813.5,2026.4 816,2025.9 818.5,2025.9 821,2025.7 823.5,2024.4 825.4,2024.4 826,2024.8 828.5,2026 831,2027.1 833.5,2028.5 836,2029.1 837.7,2030 838.5,2030.1 841,2028.9 843.5,2028.5 846,2026.9 848.5,2026.6 850,2025.3 851,2024.8 853.5,2024.4 856,2023.5 858.5,2022.6 861,2022.3 863.5,2020.8 864.8,2020.9 866,2021.1 868.5,2020.6 871,2020.7 873.5,2021.2 876,2020.8 878.5,2020.3 879.6,2020.2 881,2020.1 883.5,2020.2 886,2019.7 888.5,2020.2 891,2019.7 893.5,2019.3 894.4,2019.5 896,2020.2 898.5,2019.5 901,2019.6 903.5,2020 906,2020.2 908.5,2021.1 909.1,2020.9 911,2019.9 913.5,2018.7 916,2017.6 918.5,2016.7 919,2017.4 921,2017.4 923.5,2017.1 926,2018 928.5,2017.6 928.8,2018.2 931,2021.3 933.5,2024.7 936,2029.3 938.5,2033 938.7,2033 941,2033 943.5,2034 946,2034.1" fill="none" stroke="#9c1222" stroke-width="4.5" stroke-linejoin="round" stroke-linecap="round" />
<polyline points="116,2006 118.5,2007.5 121,2009 123.5,2010.2 126,2011.6 128.5,2011.8 131,2012.2 133.5,2013.1 136,2012.2 138.5,2011.6 141,2011.9 143.5,2014.1 146,2015.2 148.5,2016.3 151,2017.4 153.5,2018.2 156,2018.7 158.5,2018.2 161,2016.9 163.5,2017.3 166,2018.7 168.5,2020 171,2020.6 173.5,2022.1 176,2023.4 178.5,2024.3 181,2024.2 183.5,2023.3 186,2023.3 188.5,2023.3 189,2024 191,2024.5 193.5,2025.2 196,2025.4 198.5,2025.7 201,2026.8 203.5,2026.3 206,2025.8 208.5,2024.6 211,2024.7 213.5,2024.6 216,2025.1 218.5,2025.2 221,2025.9 223.5,2027.2 226,2027.4 228.5,2026.7 231,2025.8 233.5,2025.9 236,2025.8 237.7,2025.7 238.5,2025.5 241,2025.4 243.5,2026.7 246,2028 248.5,2028.8 251,2028.2 253.5,2027.6 256,2027.1 258.5,2027.7 261,2026.9 263.5,2026.7 266,2027.2 268.5,2029.1 271,2030.4 273.5,2030.1 276,2029.8 278.5,2029.3 281,2029.2 283.5,2028.8 286,2028.1 286.4,2028.2 288.5,2028.2 291,2030.1 293.5,2031 296,2032 298.5,2031.7 301,2031.8 303.5,2032 306,2031.2 308.5,2030.3 311,2029.4 313.5,2030.7 316,2032.6 318.5,2032.8 321,2033.2 323.5,2033.6 326,2033.9 328.5,2033.2 331,2031.9 333.5,2031.6 335,2031.3 336,2032.6 338.5,2034.4 341,2035.1 343.5,2035.7 346,2036.9 348.5,2037.7 351,2037.7 353.5,2037 356,2036.4 358.5,2036.8 359.4,2037 361,2037.1 363.5,2036.9 366,2035.6 368.5,2035.1 371,2035.6 373.5,2034 376,2032.1 378.5,2029.6 381,2028.4 383.5,2027.7 383.7,2027.3 386,2028.9 388.5,2029.6 391,2030.1 393.5,2032.1 396,2033.2 398.5,2033.2 401,2032.6 403.5,2033 406,2033.6 408,2033.5 408.5,2033.5 411,2033.2 413.5,2032.8 416,2032.2 418.5,2032.5 421,2031.5 423.5,2029.3 426,2027.9 428.5,2026.9 431,2025.7 432.4,2025.3 433.5,2025.3 436,2026.2 438.5,2028 441,2029.2 443.5,2030.8 446,2030.5 448.5,2030 451,2030.4 453.5,2031.2 456,2030.3 456.7,2030.5 458.5,2030.4 461,2030.8 463.5,2031.1 466,2031.4 468.5,2030.7 471,2029.4 473.5,2028.2 476,2027.7 478.5,2025.4 481,2024 483.5,2025.8 486,2028.2 488.5,2029.6 491,2030.3 493.5,2030.6 496,2031.4 498.5,2031.7 501,2031.9 503.5,2031.3 505.4,2031.2 506,2031.8 508.5,2034.8 511,2036.9 513.5,2038.3 516,2039.4 518.5,2040.3 520,2041.1 521,2041.9 523.5,2042 526,2042 528.5,2042.5 530.9,2044.7 531,2044.7 533.5,2045.1 536,2043.8 537.7,2043 538.5,2043.2 541,2042 543.5,2040.1 546,2037.2 548.5,2034.5 551,2031.8 553.5,2029.4 556,2028.8 558,2027.6 558.5,2028 561,2030.2 563.5,2032.8 564.8,2034.6 566,2034 568.5,2032.1 571,2030.2 573.5,2027.7 576,2026.6 578.5,2024.9 581,2024.6 581.1,2024.4 583.5,2026.5 586,2029 588.5,2032 590.6,2033.7 591,2033.1 593.5,2032.3 596,2030.5 598.5,2029.8 601,2029.6 603.5,2029.2 606,2028.8 606.9,2029.1 608.5,2029.9 611,2031.7 613.5,2033.6 616,2034.2 617.8,2033.7 618.5,2033.5 621,2032.3 623.5,2031.6 626,2030.7 628.5,2030.5 631,2030 632.7,2030.9 633.5,2032.5 636,2036.9 638.5,2040.3 641,2041.6 642.2,2043.2 643.5,2043.4 646,2043.2 648.5,2043.3 651,2042.8 653.5,2043.8 655.8,2045.3 656,2045.6 658.5,2049 661,2050.7 663.5,2052 665.3,2052.7 666,2052 668.5,2049.9 671,2048.3 673.5,2044.9 676,2042 677.6,2041.7 678.5,2043.1 681,2047.4 683.5,2051 686,2054.2 688.5,2056.7 691,2059.4 692.5,2060.9 693.5,2060.4 696,2058.1 698.5,2056.4 701,2056.2 703.5,2056.2 706,2055.7 708.5,2054.9 710.2,2054.6 711,2054.7 713.5,2054 716,2052.7 718.5,2051.4 721,2049.4 723.5,2048.2 726,2048.5 728.5,2048.6 731,2048.1 733.2,2047.4 733.5,2047.9 736,2049.7 738.5,2050.7 741,2051.6 743.5,2052 746,2052.4 748.2,2054.1 748.5,2054.5 751,2058 753.5,2060.5 756,2062.6 758.5,2066.3 761,2069 763.5,2070.3 766,2071.8 766.3,2071.7 768.5,2068.5 771,2064.7 773.5,2061.8 776,2058.4 778.5,2054.9 781,2052.3 783.5,2049.8 783.6,2049.3 786,2050.1 788.5,2049.3 791,2049.4 793.5,2050.7 796,2050.7 798.5,2051.8 800.8,2052.8 801,2053.4 803.5,2053.4 806,2054.5 808.5,2055.6 811,2053.4 813.1,2052.8 813.5,2052.5 816,2051.8 818.5,2051.2 821,2049.6 823.5,2049.3 826,2049 828.5,2050.5 830.3,2050.7 831,2051.6 833.5,2052.6 836,2053.7 838.5,2055.4 841,2056.5 843.5,2057.6 845.1,2058.3 846,2058.8 848.5,2059.6 851,2061.5 853.5,2063.3 856,2064.4 858.5,2064.4 861,2064.3 863.5,2064.8 866,2064.7 868.5,2064 869.7,2064.3 871,2062.9 873.5,2061.8 876,2060.5 878.5,2057.6 881,2055.2 883.5,2051.7 884.5,2051 886,2051.8 888.5,2052.7 891,2052.9 893.5,2053.5 896,2056 898.5,2058.6 901,2059.7 903.5,2061.2 904.2,2062.2 906,2062.2 908.5,2061.4 911,2060.5 913.5,2059.2 916,2057.5 918.5,2057.2 921,2057.7 923.5,2057.9 923.9,2057.6 926,2057.9 928.5,2059 931,2060 933.5,2059.5 936,2059.1 938.5,2058.2 941,2058.4 943.5,2059.2 946,2059.7" fill="none" stroke="#5d98cf" stroke-width="4.5" stroke-linejoin="round" stroke-linecap="round" />
<polyline points="116,2006.9 118,2007.6 120,2008.6 122,2009.7 124,2010.5 126,2009.7 128,2009.7 130,2009.4 132,2008.4 133,2008.3 134,2007.9 136,2007 138,2005.2 140,2004.9 142,2007.5 144,2009.8 146,2011.7 148,2012.5 150,2012.9 152,2015.2 152.5,2015.4 154,2016.1 156,2017 158,2017.7 160,2016.8 162,2016.7 164,2017.6 166,2020.6 168,2023.7 170,2025.2 172,2026.9 174,2028.7 176,2032.1 176.8,2033.1 178,2031.9 180,2030.3 182,2027.9 184,2025.9 186,2023.7 188,2022.9 190,2023 192,2023.2 194,2022.4 196,2021.9 198,2022.3 200,2023.2 201.2,2023.5 202,2023 204,2021.8 206,2019.9 208,2018.6 210,2017.8 212,2017.2 214,2017.8 216,2018 218,2017.9 220,2018 222,2019.3 224,2020.1 225.5,2020.7 226,2020.2 228,2018.4 230,2016.6 232,2016.4 234,2016.2 236,2015 238,2015 240,2014.5 242,2014.3 244,2015.3 246,2016.9 248,2017.8 250,2016.8 252,2015.6 254,2013.9 256,2013.9 257.2,2013.4 258,2013.8 260,2013.3 262,2011.9 264,2012.4 266,2012.7 268,2014.1 270,2016.1 272,2016.5 274,2016.5 276,2015.3 278,2014.8 280,2014.4 282,2014 284,2013.4 286,2011.3 288,2012.3 290,2013.8 292,2015.3 294,2016.7 296,2017.2 298,2017.5 300,2016.3 302,2016 304,2015.8 306,2014.9 308,2012.6 310,2010.6 312,2011.9 314,2013.4 316,2015.2 318,2016.4 320,2016.1 322,2016.5 324,2015.7 326,2015.9 328,2015.3 330,2013.2 332,2011.6 334,2010.2 336,2011 338,2013.4 340,2014.4 342,2014.7 344,2014.6 346,2015.8 348,2016.1 350,2015.2 352,2014 354,2012.7 356,2011.3 358,2010 360,2011.3 362,2012.8 364,2013 366,2013 368,2013.4 370,2014.7 372,2015.5 374,2014.6 376,2013.2 378,2011.9 380,2010.3 382,2010.5 384,2011.3 386,2011.6 388,2011.6 390,2012.3 392,2012.6 394,2014 396,2014.7 398,2013.9 400,2011.9 402,2010.9 404,2010.5 406,2010.9 408,2010.6 410,2011.3 412,2010.8 414,2011.4 416,2013 418,2014.6 420,2014.7 422,2013.2 424,2011.7 426,2011.3 428,2010.9 430,2011.1 432,2010.5 434,2010 436,2010.4 438,2011.9 440,2013.4 442,2014.9 444,2014.8 446,2013 448,2011.9 450,2011.9 452,2011.4 454,2010.7 456,2009.2 458,2009.3 460,2010.2 462,2012.3 464,2013.5 466,2014.4 468,2015.3 470,2013.6 472,2012.8 474,2012.3 476,2012.3 478,2010.9 480,2008.3 482,2009 484,2010.6 486,2012.5 488,2013.9 490,2014.1 492,2014.2 494,2013.2 496,2012.8 498,2013.1 500,2011.9 502,2010.5 504,2008.1 506,2009.5 508,2011.4 510,2013.4 512,2014.3 514,2014.5 516,2014.7 518,2014.3 520,2014.9 522,2014.1 524,2012.8 526,2011.4 528,2010.2 530,2010.9 532,2013.2 534,2014.1 536,2014.3 538,2014.4 540,2015.8 542,2016.1 544,2016.2 546,2014.9 548,2013.3 550,2012.2 552,2011.8 554,2011.9 556,2013.7 558,2014.3 560,2014.2 562,2014.6 564,2015.1 566,2016.5 568,2016.2 570,2014.3 572,2013.1 574,2012.2 576,2012.2 578,2012.4 580,2013.3 582,2013.6 584,2013.2 586,2014.1 588,2015.5 590,2016.5 592,2015.5 594,2014.8 596,2013.4 598,2012.3 600,2012.6 602,2012.2 604,2012.6 606,2012.7 608,2013.5 610,2014.9 612,2016.4 614,2017.3 616,2015.9 618,2014.1 620,2013.5 622,2013.5 624,2013 626,2011.7 628,2011.9 630,2012.3 632,2013.8 634,2015.8 636,2017.1 638,2018.1 640,2016.2 642,2014.6 644,2014.1 646,2014.1 648,2013.6 650,2011.7 652,2011.7 654,2012.4 656,2014 658,2016.3 660,2017.5 662,2017.2 664,2016.1 666,2015.2 668,2015.5 670,2015.2 672,2013.4 674,2011.9 676,2011.6 678,2012.7 680,2014.9 682,2016.1 684,2017.1 686,2017.1 688,2016.7 690,2016.3 692,2016.1 694,2015.4 696,2013.6 698,2011.6 700,2012.1 702,2013.8 704,2016 706,2017.8 708,2017.8 710,2018.6 712,2019.4 714,2020.4 716,2020 718,2019.2 720,2018.8 722,2017.6 724,2018.9 726,2020.8 728,2022.4 730,2023.3 732,2023.6 734,2024.9 736,2025.6 738,2026.6 740,2026.1 742,2024.6 744,2022.5 746,2022.1 748,2022.2 750,2022.5 752,2022.9 754,2022.8 756,2023.1 758,2023.4 760,2024.3 762,2024.1 764,2023.4 766,2022.2 768,2021.1 770,2021 772,2021.3 774,2022.3 776,2022.8 778,2022.9 780,2024.3 782,2026.4 784,2027.7 786,2027.2 788,2025.3 790,2024.4 792,2024 794,2024 796,2023.6 798,2024.2 800,2024.6 802,2025.5 804,2026.6 806,2028.7 808,2030.7 810,2029.6 812,2027.5 814,2026.4 816,2026.5 818,2026.1 820,2025.2 822,2025 824,2025.8 826,2027 828,2029.1 830,2031.3 832,2032.4 834,2030.6 836,2029.5 838,2028.8 840,2029.3 842,2028.6 844,2026.9 846,2026.3 848,2027.1 850,2029.4 852,2031.4 854,2032.4 856,2032.9 858,2032.1 860,2031.6 862,2031.1 864,2031.6 866,2030.2 868,2028.7 870,2028.2 872,2029.8 874,2031.7 876,2033 878,2033.5 880,2033.9 882,2034.6 884,2034.7 886,2035.7 888,2036.1 890,2035.2 892,2034.3 894,2034.9 894.4,2035.7 896,2036 898,2036.6 900,2036.3 902,2034.9 904,2034 906,2033.6 906.7,2033.1 908,2033.2 910,2032.6 912,2031.2 914,2028.8 916,2027.8 918,2026.8 920,2027.9 922,2028.7 923.9,2028.1 924,2028.1 926,2028.4 928,2028.2 930,2029.1 932,2028.9 934,2027.9 936,2025.6 938,2024.1 940,2023.1 942,2022.7 944,2023.5 946,2024.2" fill="none" stroke="#183e70" stroke-width="5" stroke-linejoin="round" stroke-linecap="round" />
<line x1="979.7" y1="2030" x2="979.7" y2="2041" stroke="#5a5a5a" stroke-width="2"/>
<line x1="974.7" y1="2030" x2="984.7" y2="2030" stroke="#5a5a5a" stroke-width="2"/>
<line x1="974.7" y1="2041" x2="984.7" y2="2041" stroke="#5a5a5a" stroke-width="2"/>
<rect x="968.2" y="2032.5" width="23" height="7.8" fill="#555555" stroke="#5a5a5a" stroke-width="2"/>
<line x1="968.2" y1="2037.6" x2="991.2" y2="2037.6" stroke="#e0563f" stroke-width="2"/>
<ellipse cx="979.5" cy="2077.1" rx="2.2" ry="3.3" fill="#1e1e1e"/>
<ellipse cx="979.5" cy="2102.8" rx="2.2" ry="3.3" fill="#1e1e1e"/>
<line x1="1011.8" y1="2042" x2="1011.8" y2="2076" stroke="#5a5a5a" stroke-width="2"/>
<line x1="1005.8" y1="2042" x2="1017.8" y2="2042" stroke="#5a5a5a" stroke-width="2"/>
<line x1="1005.8" y1="2076" x2="1017.8" y2="2076" stroke="#5a5a5a" stroke-width="2"/>
<rect x="1000.5" y="2046.5" width="22.5" height="17.8" fill="#5b97cf" stroke="#5a5a5a" stroke-width="2"/>
<line x1="1000.5" y1="2058.7" x2="1023" y2="2058.7" stroke="#555555" stroke-width="2"/>
<ellipse cx="1011.6" cy="2021.4" rx="2.2" ry="3.3" fill="#1e1e1e"/>
<ellipse cx="1011.6" cy="2097.8" rx="2.2" ry="3.3" fill="#1e1e1e"/>
<line x1="1043" y1="1996.1" x2="1043" y2="2061.3" stroke="#5a5a5a" stroke-width="2"/>
<line x1="1037" y1="1996.1" x2="1049" y2="1996.1" stroke="#5a5a5a" stroke-width="2"/>
<line x1="1037" y1="2061.3" x2="1049" y2="2061.3" stroke="#5a5a5a" stroke-width="2"/>
<rect x="1031.7" y="2001.3" width="22.5" height="37.4" fill="#51618a" stroke="#5a5a5a" stroke-width="2"/>
<line x1="1031.7" y1="2023.6" x2="1054.2" y2="2023.6" stroke="#555555" stroke-width="2"/>
<rect x="116.3" y="1969.2" width="845.2" height="489.1" fill="none" stroke="#3c3c3c" stroke-width="1.7"/>
<line x1="105.3" y1="2008.4" x2="116.3" y2="2008.4" stroke="#3c3c3c" stroke-width="1.6"/>
<text x="91.8" y="2016.9" font-size="24" fill="#231f20" text-anchor="end" font-weight="normal" >0</text>
<line x1="105.3" y1="2080.3" x2="116.3" y2="2080.3" stroke="#3c3c3c" stroke-width="1.6"/>
<text x="91.8" y="2088.8" font-size="24" fill="#231f20" text-anchor="end" font-weight="normal" >−2</text>
<line x1="105.3" y1="2151.8" x2="116.3" y2="2151.8" stroke="#3c3c3c" stroke-width="1.6"/>
<text x="91.8" y="2160.3" font-size="24" fill="#231f20" text-anchor="end" font-weight="normal" >−4</text>
<line x1="105.3" y1="2223.3" x2="116.3" y2="2223.3" stroke="#3c3c3c" stroke-width="1.6"/>
<text x="91.8" y="2231.8" font-size="24" fill="#231f20" text-anchor="end" font-weight="normal" >−6</text>
<line x1="105.3" y1="2294.8" x2="116.3" y2="2294.8" stroke="#3c3c3c" stroke-width="1.6"/>
<text x="91.8" y="2303.3" font-size="24" fill="#231f20" text-anchor="end" font-weight="normal" >−8</text>
<line x1="105.3" y1="2366.2" x2="116.3" y2="2366.2" stroke="#3c3c3c" stroke-width="1.6"/>
<text x="91.8" y="2374.7" font-size="24" fill="#231f20" text-anchor="end" font-weight="normal" >−10</text>
<line x1="105.3" y1="2437.4" x2="116.3" y2="2437.4" stroke="#3c3c3c" stroke-width="1.6"/>
<text x="91.8" y="2445.9" font-size="24" fill="#231f20" text-anchor="end" font-weight="normal" >−12</text>
<line x1="136.5" y1="2458.3" x2="136.5" y2="2469.3" stroke="#3c3c3c" stroke-width="1.6"/>
<text x="136.5" y="2498.8" font-size="24" fill="#231f20" text-anchor="middle" font-weight="normal" textLength="60" lengthAdjust="spacingAndGlyphs">2000</text>
<line x1="301.5" y1="2458.3" x2="301.5" y2="2469.3" stroke="#3c3c3c" stroke-width="1.6"/>
<text x="301.5" y="2498.8" font-size="24" fill="#231f20" text-anchor="middle" font-weight="normal" textLength="60" lengthAdjust="spacingAndGlyphs">2200</text>
<line x1="466.5" y1="2458.3" x2="466.5" y2="2469.3" stroke="#3c3c3c" stroke-width="1.6"/>
<text x="466.5" y="2498.8" font-size="24" fill="#231f20" text-anchor="middle" font-weight="normal" textLength="60" lengthAdjust="spacingAndGlyphs">2400</text>
<line x1="631.5" y1="2458.3" x2="631.5" y2="2469.3" stroke="#3c3c3c" stroke-width="1.6"/>
<text x="631.5" y="2498.8" font-size="24" fill="#231f20" text-anchor="middle" font-weight="normal" textLength="60" lengthAdjust="spacingAndGlyphs">2600</text>
<line x1="796.5" y1="2458.3" x2="796.5" y2="2469.3" stroke="#3c3c3c" stroke-width="1.6"/>
<text x="796.5" y="2498.8" font-size="24" fill="#231f20" text-anchor="middle" font-weight="normal" textLength="60" lengthAdjust="spacingAndGlyphs">2800</text>
<line x1="961.5" y1="2458.3" x2="961.5" y2="2469.3" stroke="#3c3c3c" stroke-width="1.6"/>
<text x="961.5" y="2498.8" font-size="24" fill="#231f20" text-anchor="middle" font-weight="normal" textLength="60" lengthAdjust="spacingAndGlyphs">3000</text>
<text x="538.9" y="2537.3" font-size="27.5" fill="#231f20" text-anchor="middle" font-weight="normal" textLength="54" lengthAdjust="spacingAndGlyphs">Year</text>
<text x="0" y="0" font-size="28" fill="#231f20" text-anchor="middle" transform="translate(33.8,2213) rotate(-90)" textLength="442" lengthAdjust="spacingAndGlyphs">Antarctic mass balance (10<tspan dy="-10" font-size="19">3</tspan><tspan dy="10"> Gt yr</tspan><tspan dy="-10" font-size="19">−1</tspan><tspan dy="10">)</tspan></text>
<text x="10" y="1969.5" font-size="40" fill="#231f20" text-anchor="start" font-weight="bold" >d</text>
<polygon points="1185,500.8 1258,493.5 1355.4,480.1 1428.4,469.1 1477,452.1 1501.4,441.2 1525.7,426.5 1550,409.5 1586.6,387.6 1600,380.1 1624.6,362.6 1661.5,331.9 1698.5,304.8 1740.3,271.6 1772.3,250.6 1809.3,228.5 1846.2,208.8 1883.1,189.1 1920,175.5 1964.4,163.2 1993.9,157.6 2028.4,153.9 2028.4,465.4 1895.4,471.6 1797,475.2 1698.5,480.2 1600,486.3 1550,489.8 1452.7,493.5 1355.4,496 1258,497.5 1185,501.5" fill="#e95c48" />
<polygon points="1185,500.8 1258,493.8 1355.4,481 1428.4,470 1477,453 1501.4,443.6 1525.7,431.4 1550,419.3 1586.6,399.8 1600,391.5 1624.6,380.1 1661.5,358.9 1698.5,339.3 1730.5,314.6 1760.1,299.9 1797,282.6 1833.9,266.6 1870.8,251.9 1920,235.9 1969.3,221.1 2006.2,211.2 2028.4,207.5 2028.4,465.4 1895.4,471.6 1797,475.2 1698.5,480.2 1600,486.3 1550,489.8 1452.7,493.5 1355.4,496 1258,497.5 1185,501.5" fill="#e8975a" />
<polygon points="1185,500.8 1258,492.3 1331,482.5 1428.4,470.4 1464.9,458.2 1501.4,443.6 1537.9,429 1574.4,416.8 1600,408.8 1649.2,389.1 1666.5,380.1 1698.5,359.5 1735.4,340.5 1772.3,324.5 1797,306 1821.6,293.7 1870.8,276.5 1920,261.7 1969.3,244.5 2028.4,230.9 2028.4,465.4 1895.4,471.6 1797,475.2 1698.5,480.2 1600,486.3 1550,489.8 1452.7,493.5 1355.4,496 1258,497.5 1185,501.5" fill="#5e3810" />
<polygon points="1185,500.8 1258,494.7 1355.4,485 1416.2,478.9 1457.6,471.6 1501.4,458.2 1537.9,446 1574.4,435.1 1600,424.8 1649.2,411.2 1698.5,397.7 1747.7,386.6 1809.3,375.5 1846.2,369.4 1870.8,362 1920,352.2 1969.3,343.5 2028.4,331.2 2028.4,465.4 1895.4,471.6 1797,475.2 1698.5,480.2 1600,486.3 1550,489.8 1452.7,493.5 1355.4,496 1258,497.5 1185,501.5" fill="#bea685" />
<polyline points="1331,488 1428.4,481.3 1477,476.4 1525.7,470.4 1562.2,464.3 1600,455.6 1649.2,440.8 1698.5,423.5 1747.7,411.2 1797,401.4 1821.6,391.5 1846.2,385.4 1870.8,376.8 1920,363.2 1969.3,349.7 2006.2,337.4 2028.4,326" fill="none" stroke="#e8243a" stroke-width="4.8" stroke-linejoin="round" stroke-linecap="butt" stroke-dasharray="15.5,7"/>
<polyline points="1258,495.5 1331,489.8 1404,485 1477,478.9 1550,471.6 1600,464.2 1673.9,456.8 1723.1,451.9 1772.3,442 1821.6,438.3 1846.2,434.6 1895.4,427.2 1920,423.5 1969.3,406.3 2028.4,385.4" fill="none" stroke="#ef8a3a" stroke-width="4.8" stroke-linejoin="round" stroke-linecap="butt" stroke-dasharray="15.5,7"/>
<polyline points="1258,496 1331,491 1404,487.4 1477,481.3 1550,474.7 1600,467.9 1673.9,458 1723.1,453.1 1772.3,443.2 1821.6,438.3 1858.5,428.5 1920,419.9 1957,411.2 1993.9,401.4 2028.4,396.5" fill="none" stroke="#9a7550" stroke-width="4.8" stroke-linejoin="round" stroke-linecap="butt" stroke-dasharray="15.5,7"/>
<polyline points="1185,500.8 1258,496.6 1331,493.5 1404,491 1477,486.2 1550,481.3 1600,475.2 1698.5,470.3 1772.3,465.4 1821.6,458 1858.5,448.2 1895.4,445.2 1969.3,439.6 2028.4,436.4" fill="none" stroke="#55544f" stroke-width="4.8" stroke-linejoin="round" stroke-linecap="butt" stroke-dasharray="15.5,7"/>
<line x1="2050.5" y1="331.1" x2="2050.5" y2="466" stroke="#5a5a5a" stroke-width="2"/>
<line x1="2044.2" y1="331.1" x2="2056.8" y2="331.1" stroke="#5a5a5a" stroke-width="2"/>
<line x1="2044.2" y1="466" x2="2056.8" y2="466" stroke="#5a5a5a" stroke-width="2"/>
<rect x="2039.5" y="402.2" width="22" height="54.7" fill="#bea685" stroke="#5a5a5a" stroke-width="2"/>
<line x1="2039.5" y1="436.2" x2="2061.5" y2="436.2" stroke="#555555" stroke-width="2"/>
<line x1="2084.5" y1="231.1" x2="2084.5" y2="451.2" stroke="#5a5a5a" stroke-width="2"/>
<line x1="2078.2" y1="231.1" x2="2090.8" y2="231.1" stroke="#5a5a5a" stroke-width="2"/>
<line x1="2078.2" y1="451.2" x2="2090.8" y2="451.2" stroke="#5a5a5a" stroke-width="2"/>
<rect x="2073.5" y="316.6" width="22" height="119.6" fill="#5e3810" stroke="#5a5a5a" stroke-width="2"/>
<line x1="2073.5" y1="396.7" x2="2095.5" y2="396.7" stroke="#555555" stroke-width="2"/>
<line x1="2122.4" y1="207.3" x2="2122.4" y2="448.6" stroke="#5a5a5a" stroke-width="2"/>
<line x1="2116.1" y1="207.3" x2="2128.6" y2="207.3" stroke="#5a5a5a" stroke-width="2"/>
<line x1="2116.1" y1="448.6" x2="2128.6" y2="448.6" stroke="#5a5a5a" stroke-width="2"/>
<rect x="2111.6" y="259.2" width="21.6" height="150.7" fill="#e8975a" stroke="#5a5a5a" stroke-width="2"/>
<line x1="2111.6" y1="385.4" x2="2133.2" y2="385.4" stroke="#555555" stroke-width="2"/>
<line x1="2157" y1="153.8" x2="2157" y2="409.2" stroke="#5a5a5a" stroke-width="2"/>
<line x1="2150.8" y1="153.8" x2="2163.2" y2="153.8" stroke="#5a5a5a" stroke-width="2"/>
<line x1="2150.8" y1="409.2" x2="2163.2" y2="409.2" stroke="#5a5a5a" stroke-width="2"/>
<rect x="2146.1" y="191.9" width="21.8" height="200.6" fill="#e95c48" stroke="#5a5a5a" stroke-width="2"/>
<line x1="2146.1" y1="326.1" x2="2167.9" y2="326.1" stroke="#555555" stroke-width="2"/>
<line x1="1217.5" y1="80.9" x2="1239.7" y2="80.9" stroke="#55544f" stroke-width="5.5" stroke-linecap="round"/>
<text x="1253.5" y="88.4" font-size="23.5" fill="#c4a985" text-anchor="start" font-weight="normal" textLength="111" lengthAdjust="spacingAndGlyphs">SRM85-20</text>
<line x1="1217.5" y1="112.8" x2="1239.7" y2="112.8" stroke="#a3836a" stroke-width="5.5" stroke-linecap="round"/>
<text x="1253.5" y="120.3" font-size="23.5" fill="#5a3612" text-anchor="start" font-weight="normal" textLength="111" lengthAdjust="spacingAndGlyphs">SRM85-40</text>
<line x1="1217.5" y1="144.4" x2="1239.7" y2="144.4" stroke="#e8924f" stroke-width="5.5" stroke-linecap="round"/>
<text x="1253.5" y="151.9" font-size="23.5" fill="#e8904a" text-anchor="start" font-weight="normal" textLength="111" lengthAdjust="spacingAndGlyphs">SRM85-60</text>
<line x1="1217.5" y1="176.1" x2="1239.7" y2="176.1" stroke="#e8553f" stroke-width="5.5" stroke-linecap="round"/>
<text x="1253.5" y="183.6" font-size="23.5" fill="#e85a45" text-anchor="start" font-weight="normal" textLength="111" lengthAdjust="spacingAndGlyphs">SRM85-80</text>
<rect x="1185.2" y="50.6" width="845.1" height="489.6" fill="none" stroke="#3c3c3c" stroke-width="1.7"/>
<line x1="1174.2" y1="499.4" x2="1185.2" y2="499.4" stroke="#3c3c3c" stroke-width="1.6"/>
<text x="1160.7" y="507.9" font-size="24" fill="#231f20" text-anchor="end" font-weight="normal" >0</text>
<line x1="1174.2" y1="422.7" x2="1185.2" y2="422.7" stroke="#3c3c3c" stroke-width="1.6"/>
<text x="1160.7" y="431.2" font-size="24" fill="#231f20" text-anchor="end" font-weight="normal" >0.5</text>
<line x1="1174.2" y1="346" x2="1185.2" y2="346" stroke="#3c3c3c" stroke-width="1.6"/>
<text x="1160.7" y="354.5" font-size="24" fill="#231f20" text-anchor="end" font-weight="normal" >1.0</text>
<line x1="1174.2" y1="269.2" x2="1185.2" y2="269.2" stroke="#3c3c3c" stroke-width="1.6"/>
<text x="1160.7" y="277.7" font-size="24" fill="#231f20" text-anchor="end" font-weight="normal" >1.5</text>
<line x1="1174.2" y1="192.4" x2="1185.2" y2="192.4" stroke="#3c3c3c" stroke-width="1.6"/>
<text x="1160.7" y="200.9" font-size="24" fill="#231f20" text-anchor="end" font-weight="normal" >2.0</text>
<line x1="1174.2" y1="115.7" x2="1185.2" y2="115.7" stroke="#3c3c3c" stroke-width="1.6"/>
<text x="1160.7" y="124.2" font-size="24" fill="#231f20" text-anchor="end" font-weight="normal" >2.5</text>
<line x1="1205.4" y1="540.2" x2="1205.4" y2="551.2" stroke="#3c3c3c" stroke-width="1.6"/>
<text x="1205.4" y="580.7" font-size="24" fill="#231f20" text-anchor="middle" font-weight="normal" textLength="60" lengthAdjust="spacingAndGlyphs">2000</text>
<line x1="1370.4" y1="540.2" x2="1370.4" y2="551.2" stroke="#3c3c3c" stroke-width="1.6"/>
<text x="1370.4" y="580.7" font-size="24" fill="#231f20" text-anchor="middle" font-weight="normal" textLength="60" lengthAdjust="spacingAndGlyphs">2200</text>
<line x1="1535.4" y1="540.2" x2="1535.4" y2="551.2" stroke="#3c3c3c" stroke-width="1.6"/>
<text x="1535.4" y="580.7" font-size="24" fill="#231f20" text-anchor="middle" font-weight="normal" textLength="60" lengthAdjust="spacingAndGlyphs">2400</text>
<line x1="1700.4" y1="540.2" x2="1700.4" y2="551.2" stroke="#3c3c3c" stroke-width="1.6"/>
<text x="1700.4" y="580.7" font-size="24" fill="#231f20" text-anchor="middle" font-weight="normal" textLength="60" lengthAdjust="spacingAndGlyphs">2600</text>
<line x1="1865.4" y1="540.2" x2="1865.4" y2="551.2" stroke="#3c3c3c" stroke-width="1.6"/>
<text x="1865.4" y="580.7" font-size="24" fill="#231f20" text-anchor="middle" font-weight="normal" textLength="60" lengthAdjust="spacingAndGlyphs">2800</text>
<line x1="2030.4" y1="540.2" x2="2030.4" y2="551.2" stroke="#3c3c3c" stroke-width="1.6"/>
<text x="2030.4" y="580.7" font-size="24" fill="#231f20" text-anchor="middle" font-weight="normal" textLength="60" lengthAdjust="spacingAndGlyphs">3000</text>
<text x="1607.8" y="625.5" font-size="27.5" fill="#231f20" text-anchor="middle" font-weight="normal" textLength="54" lengthAdjust="spacingAndGlyphs">Year</text>
<text x="0" y="0" font-size="28" fill="#231f20" text-anchor="middle" transform="translate(1098,295.4) rotate(-90)" textLength="338" lengthAdjust="spacingAndGlyphs">Sea-level-rise potential (m)</text>
<text x="1077" y="34" font-size="40" fill="#231f20" text-anchor="start" font-weight="bold" >e</text>
<polygon points="1185,1136.9 1245.8,1132 1306.7,1123.5 1379.7,1113.7 1416.2,1108.9 1452.7,1097.9 1484.3,1090.6 1525.7,1073.6 1574.4,1055 1600,1044 1619.7,1037.9 1649.2,1018.2 1686.2,1000.9 1710.8,991.1 1747.7,971.4 1792,951.7 1846.2,936.9 1870.8,929.5 1944.7,914.8 1993.9,909.8 2029.6,908.6 2029.6,1122.8 1895.4,1125.3 1772.3,1127.7 1723.1,1130.2 1600,1131.4 1477,1133.2 1379.7,1134.4 1258,1135.6 1185,1137.5" fill="#e95c48" />
<polygon points="1185,1136.9 1245.8,1132 1306.7,1123.5 1379.7,1113.7 1416.2,1108.9 1452.7,1097.9 1484.3,1090.6 1525.7,1073.6 1574.4,1055.3 1600,1045.2 1649.2,1025.6 1698.5,1008.3 1747.7,991.1 1797,978.8 1846.2,968.9 1895.4,959.1 1944.7,949.2 1993.9,940.6 2029.6,930.8 2029.6,1122.8 1895.4,1125.3 1772.3,1127.7 1723.1,1130.2 1600,1131.4 1477,1133.2 1379.7,1134.4 1258,1135.6 1185,1137.5" fill="#e8975a" />
<polygon points="1185,1136.9 1306.7,1126 1379.7,1116.2 1428.4,1110.1 1452.7,1104 1501.4,1093.1 1550,1082.1 1600,1069.9 1649.2,1057.6 1698.5,1042.8 1747.7,1025.6 1797,1010.8 1846.2,998.5 1895.4,988.6 1944.7,978.8 1993.9,970.2 2029.6,966 2029.6,1122.8 1895.4,1125.3 1772.3,1127.7 1723.1,1130.2 1600,1131.4 1477,1133.2 1379.7,1134.4 1258,1135.6 1185,1137.5" fill="#5e3810" />
<polygon points="1185,1136.9 1331,1122.3 1428.4,1112.5 1501.4,1105.2 1550,1095.5 1600,1083.4 1649.2,1076 1698.5,1067.4 1747.7,1060 1797,1052.6 1846.2,1045.2 1895.4,1037.9 1944.7,1031.7 1993.9,1025.6 2029.6,1021.9 2029.6,1122.8 1895.4,1125.3 1772.3,1127.7 1723.1,1130.2 1600,1131.4 1477,1133.2 1379.7,1134.4 1258,1135.6 1185,1137.5" fill="#bea685" />
<polyline points="1355.4,1125.9 1428.4,1122.3 1501.4,1117.4 1525.7,1112.5 1550,1110.1 1586.6,1106.4 1604.9,1103.1 1649.2,1088.3 1698.5,1073.6 1735.4,1061.3 1772.3,1053.9 1821.6,1047.7 1870.8,1040.3 1895.4,1030.5 1932.4,1016.9 1969.3,1004.6 2029.6,993.1" fill="none" stroke="#e8243a" stroke-width="4.8" stroke-linejoin="round" stroke-linecap="butt" stroke-dasharray="15.5,7"/>
<polyline points="1306.7,1129.6 1428.4,1123.5 1501.4,1117.4 1550,1111.3 1604.9,1103.8 1673.9,1095.7 1723.1,1084.6 1772.3,1067.4 1821.6,1055.1 1870.8,1046.5 1920,1037.9 1969.3,1028 2029.6,1010.3" fill="none" stroke="#ef8a3a" stroke-width="4.8" stroke-linejoin="round" stroke-linecap="butt" stroke-dasharray="15.5,7"/>
<polyline points="1306.7,1130.8 1428.4,1124.7 1501.4,1119.8 1550,1117.9 1574.4,1116.2 1589,1111.3 1604.9,1108 1673.9,1100.6 1723.1,1096.9 1760,1094.5 1784.6,1085.9 1821.6,1077.3 1870.8,1064.9 1907.7,1052.6 1932.4,1047.7 1969.3,1045.2 2029.6,1037.9" fill="none" stroke="#9a7550" stroke-width="4.8" stroke-linejoin="round" stroke-linecap="butt" stroke-dasharray="15.5,7"/>
<polyline points="1185,1136.4 1306.7,1132 1428.4,1127.1 1550,1123.5 1604.9,1120.3 1649.2,1115.4 1723.1,1109.3 1797,1105.6 1870.8,1100.6 1920,1093.3 1969.3,1089.6 1993.9,1083.4 2029.6,1077.7" fill="none" stroke="#55544f" stroke-width="4.8" stroke-linejoin="round" stroke-linecap="butt" stroke-dasharray="15.5,7"/>
<line x1="2046.8" y1="1022" x2="2046.8" y2="1123.6" stroke="#5a5a5a" stroke-width="2"/>
<line x1="2040.6" y1="1022" x2="2053.1" y2="1022" stroke="#5a5a5a" stroke-width="2"/>
<line x1="2040.6" y1="1123.6" x2="2053.1" y2="1123.6" stroke="#5a5a5a" stroke-width="2"/>
<rect x="2036.1" y="1054.6" width="21.5" height="56" fill="#bea685" stroke="#5a5a5a" stroke-width="2"/>
<line x1="2036.1" y1="1078.3" x2="2057.6" y2="1078.3" stroke="#555555" stroke-width="2"/>
<line x1="2078.6" y1="966.9" x2="2078.6" y2="1104.7" stroke="#5a5a5a" stroke-width="2"/>
<line x1="2072.3" y1="966.9" x2="2084.8" y2="966.9" stroke="#5a5a5a" stroke-width="2"/>
<line x1="2072.3" y1="1104.7" x2="2084.8" y2="1104.7" stroke="#5a5a5a" stroke-width="2"/>
<rect x="2067.8" y="982.7" width="21.5" height="96.2" fill="#5e3810" stroke="#5a5a5a" stroke-width="2"/>
<line x1="2067.8" y1="1038.5" x2="2089.3" y2="1038.5" stroke="#555555" stroke-width="2"/>
<line x1="2117.9" y1="932.1" x2="2117.9" y2="1090.4" stroke="#5a5a5a" stroke-width="2"/>
<line x1="2111.7" y1="932.1" x2="2124.2" y2="932.1" stroke="#5a5a5a" stroke-width="2"/>
<line x1="2111.7" y1="1090.4" x2="2124.2" y2="1090.4" stroke="#5a5a5a" stroke-width="2"/>
<rect x="2106.9" y="970.3" width="22.1" height="110.1" fill="#e8975a" stroke="#5a5a5a" stroke-width="2"/>
<line x1="2106.9" y1="1011.8" x2="2129" y2="1011.8" stroke="#555555" stroke-width="2"/>
<line x1="2149.8" y1="908.9" x2="2149.8" y2="1085.6" stroke="#5a5a5a" stroke-width="2"/>
<line x1="2143.5" y1="908.9" x2="2156" y2="908.9" stroke="#5a5a5a" stroke-width="2"/>
<line x1="2143.5" y1="1085.6" x2="2156" y2="1085.6" stroke="#5a5a5a" stroke-width="2"/>
<rect x="2138.8" y="932.8" width="21.9" height="131.5" fill="#e95c48" stroke="#5a5a5a" stroke-width="2"/>
<line x1="2138.8" y1="993" x2="2160.7" y2="993" stroke="#555555" stroke-width="2"/>
<rect x="1185.2" y="695.2" width="845.1" height="489.2" fill="none" stroke="#3c3c3c" stroke-width="1.7"/>
<line x1="1174.2" y1="1134.9" x2="1185.2" y2="1134.9" stroke="#3c3c3c" stroke-width="1.6"/>
<text x="1160.7" y="1143.4" font-size="24" fill="#231f20" text-anchor="end" font-weight="normal" >0</text>
<line x1="1174.2" y1="1029.5" x2="1185.2" y2="1029.5" stroke="#3c3c3c" stroke-width="1.6"/>
<text x="1160.7" y="1038" font-size="24" fill="#231f20" text-anchor="end" font-weight="normal" >1</text>
<line x1="1174.2" y1="924.1" x2="1185.2" y2="924.1" stroke="#3c3c3c" stroke-width="1.6"/>
<text x="1160.7" y="932.6" font-size="24" fill="#231f20" text-anchor="end" font-weight="normal" >2</text>
<line x1="1174.2" y1="818.7" x2="1185.2" y2="818.7" stroke="#3c3c3c" stroke-width="1.6"/>
<text x="1160.7" y="827.2" font-size="24" fill="#231f20" text-anchor="end" font-weight="normal" >3</text>
<line x1="1174.2" y1="713.3" x2="1185.2" y2="713.3" stroke="#3c3c3c" stroke-width="1.6"/>
<text x="1160.7" y="721.8" font-size="24" fill="#231f20" text-anchor="end" font-weight="normal" >4</text>
<line x1="1205.4" y1="1184.4" x2="1205.4" y2="1195.4" stroke="#3c3c3c" stroke-width="1.6"/>
<text x="1205.4" y="1224.9" font-size="24" fill="#231f20" text-anchor="middle" font-weight="normal" textLength="60" lengthAdjust="spacingAndGlyphs">2000</text>
<line x1="1370.4" y1="1184.4" x2="1370.4" y2="1195.4" stroke="#3c3c3c" stroke-width="1.6"/>
<text x="1370.4" y="1224.9" font-size="24" fill="#231f20" text-anchor="middle" font-weight="normal" textLength="60" lengthAdjust="spacingAndGlyphs">2200</text>
<line x1="1535.4" y1="1184.4" x2="1535.4" y2="1195.4" stroke="#3c3c3c" stroke-width="1.6"/>
<text x="1535.4" y="1224.9" font-size="24" fill="#231f20" text-anchor="middle" font-weight="normal" textLength="60" lengthAdjust="spacingAndGlyphs">2400</text>
<line x1="1700.4" y1="1184.4" x2="1700.4" y2="1195.4" stroke="#3c3c3c" stroke-width="1.6"/>
<text x="1700.4" y="1224.9" font-size="24" fill="#231f20" text-anchor="middle" font-weight="normal" textLength="60" lengthAdjust="spacingAndGlyphs">2600</text>
<line x1="1865.4" y1="1184.4" x2="1865.4" y2="1195.4" stroke="#3c3c3c" stroke-width="1.6"/>
<text x="1865.4" y="1224.9" font-size="24" fill="#231f20" text-anchor="middle" font-weight="normal" textLength="60" lengthAdjust="spacingAndGlyphs">2800</text>
<line x1="2030.4" y1="1184.4" x2="2030.4" y2="1195.4" stroke="#3c3c3c" stroke-width="1.6"/>
<text x="2030.4" y="1224.9" font-size="24" fill="#231f20" text-anchor="middle" font-weight="normal" textLength="60" lengthAdjust="spacingAndGlyphs">3000</text>
<text x="1607.8" y="1267.5" font-size="27.5" fill="#231f20" text-anchor="middle" font-weight="normal" textLength="54" lengthAdjust="spacingAndGlyphs">Year</text>
<text x="0" y="0" font-size="28" fill="#231f20" text-anchor="middle" transform="translate(1098,939.8) rotate(-90)" textLength="338" lengthAdjust="spacingAndGlyphs">Sea-level-rise potential (m)</text>
<text x="1076" y="695" font-size="40" fill="#231f20" text-anchor="start" font-weight="bold" >f</text>
<polygon points="1185,1444.4 1187.5,1443.5 1190,1445.7 1192.5,1444.1 1195,1445 1197.5,1445.8 1200,1445.8 1202.5,1446 1205,1447.7 1207.5,1448.8 1210,1447.7 1212.5,1448 1215,1449.3 1217.5,1448.7 1220,1449.5 1222.5,1450.6 1225,1450.4 1227.5,1450.2 1230,1450.4 1232.5,1451.9 1233.7,1453.1 1235,1453.7 1237.5,1453.3 1240,1455.6 1242.5,1457 1245,1457.8 1247.5,1460.3 1250,1461.4 1252.5,1463.5 1255,1463.8 1257.5,1466.7 1258,1466.7 1260,1467 1262.5,1467.5 1265,1469.5 1267.5,1470 1270,1472.5 1270.2,1472.6 1272.5,1472.8 1275,1474.2 1277.5,1472.7 1280,1474.6 1282.5,1475.3 1285,1474.3 1287.5,1475.3 1290,1475.2 1292.5,1476.8 1295,1477.7 1297.5,1477.3 1300,1478.6 1302.5,1478.4 1305,1479.6 1306.7,1479 1307.5,1480.6 1310,1479.5 1312.5,1478.6 1315,1478.9 1317.5,1480.4 1320,1480.7 1322.5,1480.3 1325,1479.3 1327.5,1481 1330,1480.7 1332.5,1479.5 1335,1480.2 1337.5,1480.9 1340,1479.5 1342.5,1479.7 1345,1480.4 1347.5,1481.7 1350,1482 1352.5,1480.6 1355,1482 1357.5,1481.8 1360,1482.1 1362.5,1481.5 1365,1482.4 1367.5,1481.8 1370,1482.6 1372.5,1481.8 1375,1481.1 1377.5,1481.9 1379.7,1481.9 1380,1481.6 1382.5,1481.8 1385,1482.2 1387.5,1482.5 1390,1481.8 1392.5,1482 1395,1482.7 1397.5,1482.8 1400,1482.7 1402.5,1483.4 1405,1482.5 1407.5,1483.3 1410,1482.9 1412.5,1484.1 1415,1484.1 1417.5,1484.4 1420,1483.9 1422.5,1483.5 1425,1485.1 1427.5,1484.3 1428.4,1484 1430,1484.1 1432.5,1484.6 1435,1485.6 1437.5,1486.2 1440,1485.8 1442.5,1486.7 1445,1485.9 1447.5,1486.8 1450,1486.9 1452.5,1487.1 1455,1487.6 1457.5,1488.8 1460,1489.1 1462.5,1488.2 1464.9,1488.6 1465,1489.9 1467.5,1492.2 1470,1494.7 1472.5,1497.2 1475,1499.8 1477,1500.9 1477.5,1500.4 1480,1500.9 1482.5,1500.1 1485,1502 1487.5,1500.9 1490,1501.1 1492.5,1501.6 1495,1501.1 1497.5,1499.8 1500,1499.9 1502.5,1499.2 1505,1500.6 1507.5,1500.4 1510,1499.7 1512.5,1499.3 1515,1498.9 1517.5,1499.3 1520,1499.7 1522.5,1499.9 1525,1499.7 1525.7,1499.7 1527.5,1498.7 1530,1498.5 1532.5,1498.2 1535,1499.5 1537.5,1497.6 1540,1497.4 1542.5,1497.6 1545,1498.9 1547.5,1498.6 1550,1497.3 1552.5,1498.4 1555,1498.3 1557.5,1497.2 1560,1496.5 1562.5,1497.7 1565,1496.7 1567.5,1496 1570,1497.6 1572.5,1496.5 1574.4,1496.3 1575,1496.8 1577.5,1496.5 1580,1496.4 1582.5,1497.7 1585,1498.1 1587.5,1497.7 1590,1498.9 1592.5,1500.2 1595,1499.7 1597.5,1500.9 1600,1501.2 1602.5,1501 1605,1501.4 1607.5,1503.6 1610,1504.2 1612.5,1504.3 1615,1504.9 1617.5,1507.1 1619.7,1507.9 1620,1506.4 1622.5,1507.2 1625,1507.2 1627.5,1506.6 1630,1506 1632.5,1506.6 1635,1507.3 1637.5,1507.2 1640,1507 1642.5,1506.2 1645,1506.4 1647.5,1506.6 1650,1506.8 1652.5,1506.7 1655,1507.9 1657.5,1506.2 1660,1508.1 1662.5,1506.4 1665,1507.8 1667.5,1506.4 1670,1507.2 1672.5,1506.7 1673.9,1506 1675,1514.4 1675.1,1515.1 1677.5,1514.2 1680,1515.7 1682.5,1515.4 1685,1516.8 1687.5,1515.1 1690,1516.2 1692.5,1516.2 1695,1517.4 1697.5,1518.1 1700,1518.6 1702.5,1518.3 1705,1518.3 1707.5,1519.5 1710,1518.3 1710.8,1518.8 1712.5,1519.6 1715,1518.5 1717.5,1519.4 1720,1517 1722.5,1517.5 1725,1516.5 1727.5,1515.7 1730,1515.5 1732.5,1515.1 1735,1515.4 1735.4,1515.5 1737.5,1516.5 1740,1517.1 1742.5,1519.1 1745,1519.8 1747.5,1521.9 1750,1521.2 1752.5,1523 1752.6,1523 1755,1523.1 1757.5,1524.7 1760,1523.7 1762.5,1525.6 1765,1524.9 1767.5,1525.3 1770,1526.3 1772.5,1526.6 1773.6,1526.2 1775,1526 1777.5,1528.2 1780,1527.2 1782.5,1527 1785,1528.5 1787.5,1528.5 1790,1528.4 1792.5,1528.7 1795,1530.1 1797.5,1529.3 1800,1529.8 1802.5,1531 1805,1529.7 1807.5,1529.8 1810,1529.3 1812.5,1530.4 1815,1530.4 1817.5,1529.9 1820,1529.8 1822.5,1529.4 1825,1530.6 1827.5,1529.9 1830,1530.7 1832.5,1529.7 1835,1530.5 1837.5,1529 1840,1529.4 1842.5,1531 1845,1530.4 1847.5,1530.4 1850,1530 1852.5,1529.9 1855,1529.3 1857.5,1529.3 1860,1530.3 1862.5,1530.4 1865,1529.5 1867.5,1530.3 1870,1529.2 1872.5,1530.2 1875,1529.3 1877.5,1530 1880,1529.6 1882.5,1530.1 1885,1529.2 1887.5,1530 1890,1530.3 1892.5,1529.2 1895,1529.6 1897.5,1530.4 1900,1530.1 1902.5,1530.3 1905,1530.6 1907.5,1530.2 1910,1529.4 1912.5,1529.9 1915,1530.7 1917.5,1530.1 1920,1530.6 1922.5,1529.7 1925,1529.9 1927.5,1531 1930,1530.7 1932.5,1530.3 1935,1529.1 1937.5,1530.2 1940,1529 1942.5,1531 1945,1531 1947.5,1530.5 1950,1529.5 1952.5,1530.8 1955,1529.3 1957.5,1530.7 1960,1530 1962.5,1528.9 1965,1530.9 1967.5,1529.9 1970,1530.7 1972.5,1530.4 1975,1530.1 1977.5,1530.8 1980,1529.3 1982.5,1530.9 1985,1529.6 1987.5,1529 1990,1529.6 1992.5,1529 1995,1529.1 1997.5,1530.3 2000,1529.2 2002.5,1529.3 2005,1529.5 2007.5,1529.5 2010,1530.9 2012.5,1530.9 2015,1530.8 2017.5,1531.1 2020,1529.9 2022.5,1530.7 2025,1529.5 2027.5,1530.9 2029.6,1530.7 2029.6,1626.6 2027.5,1625.3 2025,1626.3 2022.5,1624.7 2020,1625.6 2017.5,1624.2 2015,1624 2012.5,1624.3 2010,1623.9 2007.5,1624.5 2005,1623.4 2002.5,1623.3 2000,1624.2 1997.5,1624.4 1995,1624.3 1992.5,1624 1990,1622.9 1987.5,1622.6 1985,1622.8 1982.5,1623.3 1980,1622 1977.5,1623.2 1975,1622.9 1974.9,1623.2 1972.5,1622.9 1970,1623.2 1967.5,1622.4 1965,1623.9 1962.5,1623.4 1960,1624.8 1957.5,1624.6 1955,1625.2 1952.5,1625.4 1950,1624 1947.5,1625 1945,1625.3 1942.5,1625.2 1940,1626 1938.9,1626.3 1937.5,1626.3 1935,1625.8 1932.5,1626.1 1930,1626.2 1927.5,1627.7 1925,1626.2 1922.5,1626 1920,1627.6 1917.5,1627.7 1915,1627.5 1912.5,1626.9 1910,1628.3 1907.5,1627.3 1905,1628.8 1902.5,1628.5 1900,1628.1 1897.5,1629.2 1895,1628.6 1892.5,1628.6 1890,1630.3 1887.5,1628.7 1885,1630 1882.5,1630.7 1880,1630.6 1877.5,1631.5 1875,1630 1872.5,1631 1870,1631.7 1867.5,1630.6 1867.1,1632.2 1865,1632.3 1862.5,1632.2 1860,1632.5 1857.5,1631 1855,1632.5 1852.5,1631.5 1850,1631.5 1847.5,1632.3 1845,1631.9 1842.5,1632 1840,1631.3 1837.5,1631.6 1835,1632.3 1832.5,1633 1830,1631.5 1827.5,1632.8 1825,1632.1 1822.5,1632.2 1820,1633 1817.5,1632.4 1815,1632.8 1813.2,1632.3 1812.5,1633.1 1810,1633.1 1807.5,1634.6 1805,1634.8 1802.5,1635.5 1800,1634.7 1797.5,1635.2 1795,1637.4 1792.5,1637.3 1790,1637.4 1787.5,1639.1 1785,1637.7 1782.5,1639.6 1780,1638.6 1777.5,1640.8 1777.3,1639.5 1775,1639.8 1772.5,1640.4 1770,1641.5 1767.5,1640.3 1765,1641.4 1762.5,1640.9 1760,1640.9 1757.5,1641.2 1755,1641.7 1752.5,1641.8 1750,1641.8 1747.5,1643 1745,1642.5 1742.5,1643.3 1740,1642.8 1737.5,1644.6 1735,1643.9 1732.5,1643.7 1730,1645.8 1727.5,1644.1 1725,1645.8 1723.4,1645.7 1722.5,1645.1 1720,1646.5 1717.5,1645.5 1715,1644.7 1712.5,1645.6 1710,1646 1707.5,1645.3 1705,1646.8 1702.5,1647 1700,1645.9 1697.5,1646.2 1695,1645.4 1692.5,1645.8 1690,1646.9 1687.5,1646.3 1685,1645.8 1682.5,1647.3 1680,1646.5 1677.5,1645.6 1675,1645.9 1672.5,1646.3 1670,1647.4 1667.5,1646.7 1665,1647.7 1662.5,1647.3 1660,1646.7 1657.5,1648.2 1655,1646.6 1652.5,1647.1 1651.5,1647 1650,1648.5 1647.5,1647.3 1645,1648 1642.5,1647.4 1640,1648.3 1637.5,1648.7 1635,1648.7 1632.5,1648.5 1630,1649.2 1627.5,1650.2 1625,1648.9 1622.5,1651.2 1620,1649.5 1617.5,1651.2 1615,1650.1 1612.5,1651.9 1610,1651.6 1607.5,1651.3 1605,1652.6 1602.5,1651.7 1600,1652.8 1597.5,1651.9 1595,1652.6 1592.5,1653.4 1590,1653.1 1587.5,1653.6 1585,1652.9 1582.5,1654.6 1580,1654.8 1579.7,1654.8 1577.5,1654 1575,1655.4 1572.5,1655.6 1570,1654.9 1567.5,1654.8 1565,1655.7 1562.5,1656.8 1560,1656.5 1557.5,1656.7 1555,1655.6 1552.5,1658 1550,1658 1547.5,1657.1 1545,1656.6 1542.5,1658.6 1540,1658.1 1537.5,1657.7 1535,1658.6 1532.5,1658.6 1530,1659 1527.5,1659.5 1525,1659.1 1522.5,1660.4 1520,1659.6 1518.6,1659.2 1517.5,1659.8 1515,1660.3 1512.5,1660 1510,1659.1 1507.5,1658.9 1505,1658.8 1502.5,1659.6 1500,1657.5 1497.5,1657.8 1496.3,1657.9 1495,1620.4 1493.4,1571.7 1492.5,1568.9 1490,1557.3 1487.5,1547.7 1486.2,1544.2 1485,1542.9 1482.5,1541.1 1481.9,1539.4 1480,1535.7 1477.5,1529.4 1475,1524.3 1472.5,1518.5 1471.9,1518.5 1470,1518.1 1467.5,1516.5 1465,1515.9 1464.9,1515.6 1462.5,1512.8 1460,1510.6 1457.5,1507 1455,1504.6 1452.5,1501.5 1450.3,1499.4 1450,1498.8 1447.5,1499.1 1445,1497.6 1442.5,1494.4 1440.5,1494.6 1440,1494 1437.5,1491.8 1435,1491.7 1432.5,1490.4 1430,1487.9 1428.4,1488 1427.5,1487.7 1425,1488.4 1422.5,1488.4 1420,1487.7 1417.5,1488.9 1415,1488 1412.5,1489.1 1410,1488 1407.5,1488.8 1405,1488.9 1402.5,1489.4 1400,1487.9 1397.5,1488.4 1395,1490 1392.5,1488.1 1390,1490 1387.5,1489.4 1385,1489.3 1382.5,1489.6 1380,1489.5 1377.5,1489 1375,1489.9 1372.5,1489.1 1370,1489.1 1367.5,1489.8 1365,1490.9 1362.5,1489.6 1360,1489.5 1357.5,1490.4 1355.4,1490.2 1355,1489.5 1352.5,1489.5 1350,1491 1347.5,1490.2 1345,1489.5 1342.5,1490.1 1340,1489.7 1337.5,1489.7 1335,1489.7 1332.5,1488.2 1330,1489.1 1327.5,1487.5 1325,1488.4 1322.5,1488.2 1320,1487.9 1317.5,1488.3 1315,1486.9 1312.5,1487.9 1310,1485.9 1307.5,1486.7 1306.7,1486.2 1305,1486.4 1302.5,1485.1 1300,1484.5 1297.5,1484 1295,1482.4 1292.5,1481.2 1290,1481.9 1287.5,1480.1 1285,1480 1282.5,1478 1280,1478.5 1277.5,1477.1 1275,1476.1 1272.5,1476.3 1270.2,1473.8 1270,1474.6 1267.5,1473.4 1265,1473 1262.5,1472.2 1260,1470.4 1258,1469.4 1257.5,1469.4 1255,1468.9 1252.5,1466.9 1250,1465.3 1247.5,1462 1245,1461.4 1242.5,1459.8 1240,1457.9 1237.5,1457.5 1235,1454.2 1233.7,1453.4 1232.5,1453.6 1230,1453.8 1227.5,1452.4 1225,1453.3 1222.5,1452.7 1220,1451.3 1217.5,1452.3 1215,1450.3 1212.5,1450.4 1210,1450.7 1207.5,1449.6 1205,1449.7 1202.5,1448.1 1200,1449.3 1197.5,1448.3 1195,1447.8 1192.5,1448.2 1190,1445.9 1187.5,1445.8 1185,1446.5" fill="#e95c48" />
<polygon points="1185,1442.6 1187.5,1442.8 1190,1443.5 1192.5,1443 1195,1444.3 1197.5,1444.5 1200,1444.1 1202.5,1446.3 1205,1445.6 1207.5,1445.1 1210,1447.6 1212.5,1446.4 1215,1446.8 1217.5,1446.6 1220,1447.1 1222.5,1448.9 1225,1448.9 1227.5,1449.1 1230,1448.9 1232.5,1449.4 1233.7,1451 1235,1450.5 1237.5,1453.3 1240,1454.5 1242.5,1454.2 1245,1457.3 1247.5,1456.9 1250,1459.9 1252.5,1461.5 1255,1462.7 1257.5,1463.8 1258,1464.7 1260,1463.3 1262.5,1464.3 1265,1463.8 1267.5,1464.2 1270,1463.8 1272.5,1465.1 1275,1464.9 1277.5,1465.4 1280,1465.2 1282.5,1465.2 1285,1466 1287.5,1465.9 1290,1465.5 1292.5,1465 1295,1466.5 1297.5,1465.3 1300,1464.8 1302.5,1465.5 1305,1466.4 1306.7,1466.9 1307.5,1466.3 1310,1466.4 1312.5,1467.1 1315,1466.8 1317.5,1466.1 1320,1466.2 1322.5,1466.9 1325,1465.9 1327.5,1465.5 1330,1466.7 1332.5,1467.1 1335,1466 1337.5,1467 1340,1467.5 1342.5,1465.8 1345,1465.9 1347.5,1466.7 1350,1466.4 1352.5,1467.8 1355,1468 1357.5,1466.8 1360,1467.6 1362.5,1467.3 1365,1466.3 1367.5,1468.1 1370,1466.4 1372.5,1466.2 1375,1467.1 1377.5,1466.2 1379.7,1467.3 1380,1467 1382.5,1467.5 1385,1465.5 1387.5,1465.7 1390,1464.8 1391.9,1463.8 1392.5,1463 1395,1463.1 1397.5,1463.4 1400,1463.1 1402.5,1463.6 1405,1463.2 1407.5,1462.7 1410,1463.2 1412.5,1464 1415,1462.2 1417.5,1462.4 1420,1461.6 1422.5,1461.7 1425,1461.5 1427.5,1462.3 1428.4,1463.1 1430,1462.4 1432.5,1462.2 1435,1461.2 1437.5,1459.9 1440,1459.1 1442.5,1457.1 1445,1457.2 1447.5,1456.1 1450,1456.2 1452.5,1454.2 1452.7,1455.2 1455,1454.4 1457.5,1454.1 1460,1453.4 1462.5,1452.3 1465,1453.2 1467.5,1452.8 1470,1451.9 1472.5,1450.3 1475,1450.9 1477.5,1451 1480,1450.7 1482.5,1449.7 1485,1447.7 1487.5,1449 1490,1448 1492.5,1446.7 1495,1447.6 1497.5,1446.9 1500,1446.5 1501.4,1444.8 1502.5,1445.5 1505,1444.9 1507.5,1444.6 1510,1445.5 1512.5,1445 1515,1444.3 1517.5,1444.6 1520,1445.3 1522.5,1444.4 1525,1445 1527.5,1444.1 1530,1444.9 1532.5,1442.7 1535,1443.5 1537.5,1443.5 1540,1443.8 1542.5,1444.2 1545,1443.3 1547.5,1442.8 1550,1443 1552.5,1442.7 1555,1442.9 1557.5,1443.3 1560,1441.1 1562.5,1441.7 1565,1442.7 1567.5,1440.8 1570,1442.3 1572.5,1440.5 1575,1441.7 1577.5,1441.9 1580,1440.5 1582.5,1440.7 1585,1440.2 1587.5,1441.1 1590,1440.6 1592.5,1440.6 1595,1439.9 1597.5,1440.3 1600,1441 1602.5,1440.4 1605,1440.5 1607.5,1438.7 1610,1439 1612.5,1438.5 1615,1438.2 1617.5,1438.9 1620,1437.3 1622.5,1437.9 1625,1438.1 1627.5,1438.2 1630,1435.9 1632.5,1436.2 1635,1436.5 1637.5,1437.2 1640,1435.3 1642.5,1436.5 1645,1435.3 1647.5,1435.4 1650,1435.9 1652.5,1433.8 1655,1434.1 1657.5,1433.5 1660,1433.2 1662.5,1433.3 1665,1433.9 1667.5,1433.4 1670,1432.2 1672.5,1433.4 1675,1432.5 1677.5,1431.5 1680,1432.7 1682.5,1432.5 1685,1430.9 1687.5,1432.2 1690,1431.7 1692.5,1430.2 1695,1429.4 1697.5,1431.1 1700,1430.7 1702.5,1428.6 1705,1429.6 1707.5,1429.1 1710,1428.3 1712.5,1428.2 1715,1428.1 1717.5,1426.1 1720,1426.7 1722.5,1426.4 1725,1424.6 1727.5,1424.9 1730,1424.4 1732.5,1424.3 1735,1423.1 1737.5,1422 1740,1421.5 1742.5,1421.6 1745,1420.2 1747.5,1421.3 1750,1420.9 1752.5,1418.9 1755,1419.4 1757.5,1418.9 1760,1417.2 1762.5,1418.1 1765,1417.6 1767.5,1416.1 1770,1415.1 1772.5,1415 1775,1415.6 1777.5,1414.4 1780,1414.7 1782.5,1412.8 1785,1412.1 1787.5,1412.2 1790,1412.8 1792.5,1410.8 1795,1410.1 1797.5,1411.1 1800,1409.1 1802.5,1410 1805,1408.3 1807.5,1408.3 1810,1408.9 1812.5,1408.9 1815,1407.6 1817.5,1407.3 1820,1406 1822.5,1406.3 1825,1405.7 1827.5,1406.5 1830,1406 1832.5,1405.8 1835,1404.8 1837.5,1404.8 1840,1403.2 1842.5,1403.4 1845,1402.8 1847.5,1402.4 1850,1403 1852.5,1401.5 1855,1401.4 1857.5,1400.9 1860,1401.8 1862.5,1400.9 1865,1400.2 1867.5,1399.6 1870,1400.4 1872.5,1400.1 1875,1398.6 1877.5,1398.5 1880,1398.8 1882.5,1397.1 1885,1396.7 1887.5,1396 1890,1396.5 1892.5,1396.7 1895,1395 1897.5,1395.2 1900,1396.1 1902.5,1394.6 1905,1394 1907.5,1394.6 1910,1394.3 1912.5,1392.8 1915,1391.9 1917.5,1392.6 1920,1392.4 1922.5,1392.5 1925,1391.5 1927.5,1390.3 1930,1390.4 1932.5,1389.5 1935,1389.5 1937.5,1389.1 1940,1389.7 1942.5,1389.3 1945,1389 1947.5,1387.6 1950,1388.3 1952.5,1386.1 1955,1387.4 1957.5,1386.4 1960,1386.6 1962.5,1385.2 1965,1386 1967.5,1383.5 1970,1385 1972.5,1384.5 1975,1383.1 1977.5,1383.8 1980,1382 1982.5,1382.8 1985,1381.8 1987.5,1381.3 1990,1380.4 1992.5,1381.4 1995,1380.8 1997.5,1379 2000,1380.6 2002.5,1378.6 2005,1378.5 2007.5,1378.2 2010,1378.2 2012.5,1378.5 2015,1378.2 2017.5,1377.2 2020,1376.2 2022.5,1375.2 2025,1374.8 2027.5,1375.4 2029.6,1375.2 2029.6,1611 2027.5,1609.9 2025,1608.3 2022.5,1605.9 2020,1605.3 2017.5,1603.2 2015,1599.3 2012.5,1597.8 2010.8,1596.7 2010,1597.4 2007.5,1597.5 2005,1597.9 2002.5,1599.2 2000,1598.1 1997.5,1598.8 1995,1601.2 1992.5,1600.4 1990,1601 1987.5,1601.4 1985,1601.9 1982.5,1602.8 1980,1603 1977.5,1603.5 1975,1604 1974.9,1603.4 1972.5,1604.5 1970,1605 1967.5,1604.6 1965,1604.9 1962.5,1605.2 1960,1605.3 1957.5,1606 1955,1605.3 1952.5,1605.4 1950,1606.1 1947.5,1605.9 1945,1606.2 1942.5,1606.3 1940,1605.1 1937.5,1605.4 1935,1605.4 1932.5,1607.4 1930,1607.1 1927.5,1607.3 1925,1606.4 1922.5,1606.1 1920,1607.6 1917.5,1607.3 1915,1607.3 1912.5,1606.7 1910,1608 1907.5,1607.1 1905,1608.3 1903,1608.3 1902.5,1608.2 1900,1608.6 1897.5,1607.8 1895,1608.7 1892.5,1606.8 1890,1607.6 1887.5,1607 1885,1607.4 1882.5,1607.4 1880,1606.7 1877.5,1607.2 1875,1608.9 1872.5,1607.8 1870,1607.8 1867.5,1608.7 1865,1608 1862.5,1608.1 1860,1607.7 1857.5,1607.2 1855,1607.3 1852.5,1607.6 1850,1608.6 1847.5,1607 1845,1608.5 1842.5,1607.8 1840,1607 1837.5,1607.8 1835,1607.8 1832.5,1608.2 1831.2,1606.8 1830,1608.5 1827.5,1609.2 1825,1610 1822.5,1608.6 1820,1611 1817.5,1609.4 1815,1610.7 1812.5,1610.2 1810,1612.8 1807.5,1612.1 1805,1611.9 1802.5,1613.4 1800,1614 1797.5,1615 1795,1613.8 1792.5,1614.4 1790,1616.1 1787.5,1617.1 1785,1615.7 1782.5,1615.9 1780,1616.9 1777.5,1618.8 1775,1617.3 1773.7,1618.1 1773,1526.2 1772.5,1525.7 1770,1525.1 1767.5,1525.9 1765,1523.6 1762.5,1524.7 1760,1524.7 1757.5,1524.4 1755,1522.8 1752.5,1524.5 1750,1524.2 1747.7,1524 1747.5,1522.7 1745,1521.4 1742.5,1519.9 1740,1516.3 1737.5,1515.4 1735,1512.5 1732.5,1511.8 1730,1509.4 1728,1509 1727.5,1508 1725,1507.7 1722.5,1505.7 1720,1505.8 1717.5,1502.8 1715,1503.3 1712.5,1501.4 1710.8,1501.3 1710,1500.5 1707.5,1501.3 1705,1501.3 1702.5,1499.7 1700,1501.5 1697.5,1499.6 1695,1500.6 1692.5,1500.8 1690,1500.8 1687.5,1500.8 1685,1499.1 1682.5,1500.9 1680,1499.9 1677.5,1499.1 1675,1500.5 1673.9,1500.6 1672.5,1499.3 1670,1500.8 1667.5,1499.7 1665,1499.7 1662.5,1501.2 1660,1500.3 1657.5,1501 1655,1500 1652.5,1499.9 1650,1501.7 1649.2,1501.2 1647.5,1500.2 1645,1502.1 1642.5,1501.1 1640,1502.2 1637.5,1501.8 1635,1502 1632.5,1502.7 1630,1502.6 1627.5,1504.4 1625,1503.6 1622.5,1505.7 1620,1504.8 1619.7,1505.3 1617.5,1503.9 1615,1504.4 1612.5,1503.5 1610,1502.7 1607.5,1503.2 1605,1502 1602.5,1500.8 1600,1501.3 1597.5,1499.1 1595,1500.1 1592.5,1499.4 1590,1496.7 1587.5,1497 1586.6,1497.3 1585,1495.3 1582.5,1495 1580,1494.7 1577.5,1494.2 1575,1494.1 1572.5,1493.7 1570,1491.8 1567.5,1491.9 1565,1491.4 1562.5,1490.2 1560,1489 1557.5,1488.7 1555,1488.3 1552.5,1486.9 1550,1486.1 1547.5,1486 1545,1486.5 1542.5,1486 1540,1486.2 1537.5,1486.3 1535,1487.7 1532.5,1485.7 1530,1486.4 1527.5,1487.5 1525,1485.8 1522.5,1487.7 1520,1486.6 1517.5,1486.1 1515,1486.4 1512.5,1486.4 1510,1485.7 1507.5,1487.8 1505,1487.8 1502.5,1486.3 1501.4,1486.9 1500,1487.2 1497.5,1487.3 1495,1486.3 1492.5,1487.8 1490,1487.6 1487.5,1486.3 1485,1486.8 1482.5,1486.3 1480,1485.9 1477.5,1486 1475,1487.4 1472.5,1486 1470,1487.3 1467.5,1486.1 1465,1487 1464.9,1487.3 1462.5,1486.3 1460,1485.6 1457.5,1485.9 1455,1485.7 1452.5,1485.3 1450,1486.3 1447.5,1485.8 1445,1485.5 1442.5,1484.6 1440,1485.5 1437.5,1485.4 1435,1484.6 1432.5,1484.9 1430,1485 1428.4,1484.7 1427.5,1483.7 1425,1482.8 1422.5,1483.5 1420,1482.6 1417.5,1483.5 1415,1481.5 1412.5,1482.2 1410,1482.5 1407.5,1481.7 1405,1481.9 1402.5,1480.3 1400,1480.2 1397.5,1480.9 1395,1479.7 1392.5,1479.8 1390,1478.3 1387.5,1479.8 1385,1477.6 1382.5,1479.4 1380,1477.8 1379.7,1479.1 1377.5,1478.6 1375,1478 1372.5,1478.4 1370,1477.4 1367.5,1478.2 1365,1477.2 1362.5,1478 1360,1476.9 1357.5,1477 1355,1477.8 1352.5,1477.9 1350,1478 1347.5,1477 1345,1476 1342.5,1477.7 1340,1476.3 1337.5,1476.5 1335,1475.9 1332.5,1477 1330,1476.7 1327.5,1476.9 1325,1477.5 1322.5,1475.8 1320,1476.5 1317.5,1476.1 1315,1476.6 1312.5,1476.4 1310,1476.8 1307.5,1475.7 1306.7,1476.5 1305,1475.7 1302.5,1476.1 1300,1474.3 1297.5,1474 1295,1473.7 1292.5,1473.8 1290,1473.1 1287.5,1473.5 1285,1473.4 1282.5,1471.5 1280,1472.1 1277.5,1470.8 1275,1470.8 1272.5,1471.4 1270,1470.8 1267.5,1469.4 1265,1469.6 1262.5,1470.4 1260,1470.2 1258,1468.7 1257.5,1469.1 1255,1467.5 1252.5,1464.7 1250,1463.1 1247.5,1462.6 1245,1461.1 1242.5,1459.3 1240,1458.5 1237.5,1455.8 1235,1455.7 1233.7,1454.6 1232.5,1453.5 1230,1452.6 1227.5,1452 1225,1451.9 1222.5,1452.3 1220,1452.8 1217.5,1451.2 1215,1450.9 1212.5,1450.1 1210,1449.6 1207.5,1449.5 1205,1449.4 1202.5,1449.1 1200,1449.4 1197.5,1447.3 1195,1447.5 1192.5,1446.9 1190,1446.6 1187.5,1447.5 1185,1445.9" fill="#e8975a" />
<polygon points="1185,1444.3 1187.5,1444.4 1190,1442.9 1192.5,1443.3 1195,1445.1 1197.5,1445.7 1200,1445.1 1202.5,1445.2 1205,1445 1207.5,1447.2 1210,1447.8 1212.5,1448.1 1215,1446.1 1217.5,1448 1220,1449.6 1222.5,1449.1 1225,1448.6 1227.5,1448 1230,1448.1 1232.5,1450.6 1233.7,1448.6 1235,1451.7 1237.5,1452.6 1240,1453.3 1242.5,1456 1245,1457.4 1247.5,1457.8 1250,1457.4 1252.5,1460.3 1255,1461.1 1257.5,1461.9 1258,1464.4 1260,1463.8 1262.5,1462 1265,1462.4 1267.5,1462.9 1270,1463.7 1272.5,1463 1275,1463.5 1277.5,1464.8 1280,1462.9 1282.5,1464.7 1285,1463.6 1287.5,1465.6 1290,1465.8 1292.5,1463.9 1295,1464.9 1297.5,1463.4 1300,1464.4 1302.5,1465.2 1305,1465.4 1306.7,1464.5 1307.5,1463.5 1310,1463.8 1312.5,1465.3 1315,1464.1 1317.5,1464.5 1320,1465.6 1322.5,1466.5 1325,1465.3 1327.5,1464.5 1330,1465.6 1332.5,1464.6 1335,1466.3 1337.5,1464.3 1340,1464.7 1342.5,1465.3 1345,1466.8 1347.5,1464.5 1350,1464.6 1352.5,1464.4 1355,1464.7 1357.5,1465.2 1360,1465.4 1362.5,1466.6 1365,1465.5 1367.5,1465.8 1370,1465.5 1372.5,1466.8 1375,1467.2 1377.5,1465.7 1379.7,1467.3 1380,1465.2 1382.5,1467.3 1385,1465.6 1387.5,1465.9 1390,1464.7 1392.5,1464.2 1395,1463.5 1397.5,1465.7 1400,1463.8 1402.5,1464.7 1405,1463.7 1407.5,1463.7 1410,1462.4 1412.5,1462.1 1415,1462.4 1417.5,1463.3 1420,1462.6 1421.1,1460.8 1422.5,1462.2 1425,1459.6 1427.5,1456.8 1428.4,1456.8 1430,1456.5 1432.5,1458.2 1435,1457.1 1437.5,1456.1 1440,1455.6 1442.5,1455.5 1445,1455.2 1447.5,1455.2 1450,1456.4 1452.5,1456.1 1455,1455.6 1457.5,1455.9 1460,1454.9 1462.5,1452.9 1465,1452.5 1467.5,1452.6 1470,1452.6 1472.5,1453.2 1475,1453.9 1477,1453 1477.5,1452.3 1480,1451.1 1482.5,1452.8 1485,1451.4 1487.5,1449.4 1490,1447.8 1492.5,1450.1 1495,1447.1 1497.5,1448.4 1500,1445.4 1502.5,1446.4 1505,1444.8 1507.5,1445.8 1510,1443.3 1512.5,1442 1513.5,1442 1515,1443.8 1517.5,1444.1 1520,1442.8 1522.5,1442.7 1525,1441.1 1527.5,1440.9 1530,1440 1532.5,1442.6 1535,1439.4 1537.5,1440.9 1540,1439.8 1542.5,1439.1 1545,1439.6 1547.5,1440.9 1550,1438.5 1552.5,1437.8 1555,1439 1557.5,1438.7 1560,1437.8 1562.5,1436.4 1565,1438.2 1567.5,1435.4 1570,1435.2 1572.5,1435.1 1574.4,1435.6 1575,1435.6 1577.5,1435.9 1580,1436.6 1582.5,1437.3 1585,1436 1587.5,1434.8 1590,1437.5 1592.5,1435 1595,1436.1 1597.5,1435.6 1600,1437.2 1602.5,1437.4 1605,1435 1607.5,1435.1 1610,1436.5 1612.5,1435.6 1615,1433.4 1617.5,1434.9 1620,1434.8 1622.5,1433.2 1625,1432 1627.5,1433.3 1630,1431.8 1632.5,1430.8 1635,1430.6 1637.5,1430.9 1640,1429.7 1642.5,1430.1 1645,1430.3 1647.5,1429.9 1649.2,1429.2 1650,1430.1 1652.5,1426.8 1655,1426.6 1657.5,1427.5 1660,1426.3 1661.5,1425.8 1662.5,1425.1 1665,1423.8 1667.5,1423.9 1670,1422.6 1672.5,1420.6 1675,1420.4 1677.5,1419.3 1680,1421.1 1682.5,1418.7 1685,1418.4 1686.2,1418.5 1687.5,1416.7 1690,1417.7 1692.5,1417.1 1695,1416.3 1697.5,1415.7 1700,1413 1702.5,1411.6 1705,1412.7 1707.5,1411.6 1710,1409.7 1710.8,1409.3 1712.5,1407.9 1715,1408.9 1717.5,1406.6 1720,1406.6 1722.5,1403.9 1725,1402.7 1727.5,1402.1 1730,1401.7 1732.5,1401 1735,1398.2 1737.5,1398.1 1740,1396 1740.3,1397.4 1742.5,1397 1745,1396.4 1747.5,1395.8 1750,1395.5 1752.5,1397.4 1755,1397.2 1757.5,1395.6 1760,1394.9 1762.5,1395.2 1765,1397.7 1767.5,1394.7 1770,1397.2 1772.3,1396.3 1772.5,1396.5 1775,1398 1777.5,1399 1780,1401 1782.5,1401 1784.6,1404.9 1785,1402.2 1787.5,1401.5 1790,1402.4 1792.5,1401.4 1795,1401.1 1797.5,1399.9 1800,1399.9 1802.5,1396.2 1805,1395.3 1807.5,1395.1 1810,1396 1812.5,1393.2 1815,1393.6 1817.5,1393.5 1820,1390.7 1821.6,1391.4 1822.5,1392.5 1825,1391.8 1827.5,1390.4 1830,1390.4 1832.5,1389.5 1835,1391.5 1837.5,1390.7 1840,1390.1 1842.5,1388.6 1845,1389.8 1846.2,1388.9 1847.5,1390.2 1850,1389.4 1852.5,1391.7 1855,1391.7 1857.5,1391.5 1860,1392.5 1862.5,1393.9 1865,1393.7 1867.5,1395.7 1870,1393.2 1870.8,1396.3 1872.5,1395.4 1875,1394.3 1877.5,1395.1 1880,1392.5 1882.5,1392.7 1885,1393.5 1887.5,1393.5 1890,1391.7 1892.5,1393.3 1895,1391.8 1895.4,1389.8 1897.5,1389.7 1900,1389 1902.5,1390.1 1905,1388.8 1907.5,1388.1 1910,1388.2 1912.5,1386.5 1915,1388.7 1917.5,1388 1920,1386.6 1922.5,1386 1925,1385.3 1927.5,1386 1930,1384.9 1932.5,1386.7 1935,1386.4 1937.5,1385.4 1940,1385.4 1942.5,1382.8 1945,1382.7 1947.5,1383.2 1950,1382.2 1952.5,1382.9 1955,1384.5 1957,1383.8 1957.5,1384 1960,1380.9 1962.5,1380.2 1965,1378.8 1967.5,1378.8 1970,1377.4 1972.5,1378.1 1975,1376.6 1977.5,1377.1 1980,1376 1981.6,1375.6 1982.5,1374.1 1985,1374 1987.5,1372.4 1990,1370.9 1992.5,1368.6 1995,1367.1 1997.5,1365 2000,1362.8 2002.5,1362.6 2005,1361.6 2006.2,1359.5 2007.5,1361.3 2010,1360.7 2012.5,1360 2015,1359.2 2017.5,1357.5 2020,1355.9 2022.5,1355.5 2025,1356.4 2027.5,1356.5 2029.6,1353.2 2029.6,1459.2 2027.5,1459.2 2025,1459.4 2022.5,1458 2020,1458.3 2017.5,1458 2015,1459.3 2012.5,1457.9 2010,1459.7 2007.5,1459.7 2005,1459.7 2002.5,1457.9 2000,1458 1997.5,1458.8 1995,1459.3 1992.5,1459.4 1990,1459.5 1987.5,1459.5 1985,1458.8 1982.5,1458.4 1980,1459.5 1977.5,1459.4 1975,1458.6 1972.5,1460.3 1970,1460.2 1969.3,1458.9 1967.5,1459.4 1965,1460.5 1962.5,1459.1 1960,1458.6 1957.5,1459.7 1955,1460.3 1952.5,1460.6 1950,1458.8 1947.5,1459.6 1945,1459.7 1942.5,1459.9 1940,1459.7 1937.5,1459.6 1935,1459.7 1932.5,1459.2 1930,1459.6 1927.5,1460.1 1925,1459.9 1922.5,1459.4 1920,1460.5 1917.5,1459.9 1915,1460.5 1912.5,1462.1 1910,1461.5 1907.5,1461.7 1905,1462.1 1902.5,1464 1900,1464.8 1897.5,1463.1 1895.4,1464.2 1895,1465.1 1892.5,1464.8 1890,1465.1 1887.5,1465 1885,1465.9 1882.5,1465.1 1880,1465.3 1877.5,1464.9 1875,1464.5 1872.5,1465.6 1870,1465.2 1867.5,1465.1 1865,1466.9 1862.5,1466.4 1860,1467 1857.5,1465.5 1855,1465.9 1852.5,1466.3 1850,1466.8 1847.5,1466.2 1845,1467.2 1842.5,1467.7 1840,1467.6 1837.5,1466.6 1835,1467.6 1832.5,1468 1830,1468.1 1827.5,1466.7 1825,1467 1822.5,1467.5 1821.6,1467.1 1820,1467.1 1817.5,1468.3 1815,1468 1812.5,1468.5 1810,1468.9 1807.5,1469.2 1805,1468.1 1802.5,1469.5 1800,1469.2 1797.5,1469.4 1795,1468.7 1792.5,1468.6 1790,1469.7 1787.5,1469.2 1785,1469.7 1782.5,1469.3 1780,1470.5 1777.5,1468.7 1775,1469.4 1772.5,1468.7 1770,1470.8 1767.5,1469.5 1765,1469.5 1762.5,1469.4 1760,1470.6 1757.5,1469.2 1755,1471.3 1752.5,1471.3 1750,1471 1747.7,1471.6 1747.5,1470.7 1745,1471.3 1742.5,1471.3 1740,1470.6 1737.5,1471.9 1735,1469.8 1732.5,1470.6 1730,1470.3 1727.5,1472 1725,1470.7 1722.5,1471.4 1720,1472.2 1717.5,1472.3 1715,1470.7 1712.5,1470.6 1710,1470.9 1707.5,1472.5 1705,1472.6 1702.5,1472.7 1700,1472.6 1697.5,1471.3 1695,1472.1 1692.5,1471.3 1690,1473.1 1687.5,1473.4 1685,1473.7 1682.5,1471.8 1680,1472.5 1677.5,1472.5 1675,1471.9 1673.9,1473.1 1672.5,1474 1670,1472.8 1667.5,1473 1665,1473.9 1662.5,1474.2 1660,1474.7 1657.5,1473.1 1655,1473.5 1652.5,1474.9 1650,1475.1 1647.5,1475.7 1645,1475.9 1642.5,1476.2 1640,1475.2 1637.5,1475.3 1635,1475.7 1632.5,1475.6 1630,1476.6 1627.5,1475.3 1625,1477 1622.5,1476.7 1620,1476.2 1617.5,1475.8 1615,1477 1612.5,1478 1610,1476.9 1607.5,1476.9 1605,1476.6 1602.5,1478.4 1600,1477.5 1597.5,1478.1 1595,1478.3 1592.5,1477.7 1590,1479 1587.5,1477.8 1585,1478.8 1582.5,1477.3 1580,1478.3 1577.5,1478.1 1575,1477 1572.5,1478.4 1570,1478.2 1567.5,1478.8 1565,1479.2 1562.5,1481.3 1562.2,1481.9 1560,1481.3 1557.5,1481.6 1555,1481 1552.5,1480.7 1550,1480.2 1547.5,1482.2 1545,1480.8 1542.5,1480.5 1540,1482 1537.5,1481.6 1535,1481.1 1532.5,1482.2 1530,1481.1 1527.5,1482.4 1525,1481.8 1522.5,1480.8 1520,1481.9 1517.5,1481.7 1515,1480.8 1512.5,1481.1 1510,1481.6 1507.5,1482.6 1505,1482.4 1502.5,1481.7 1500,1481.5 1497.5,1480.9 1495,1481.4 1492.5,1481.9 1490,1482.1 1487.5,1481.6 1485,1481.6 1482.5,1482.3 1480,1482 1477.5,1481 1475,1481.5 1472.5,1482.2 1470,1482.4 1467.5,1481 1465,1482.8 1462.5,1481.8 1460,1482.2 1457.5,1481.1 1455,1481.3 1452.7,1482.7 1452.5,1481.6 1450,1482.3 1447.5,1481.6 1445,1480.9 1442.5,1481.5 1440,1481.1 1437.5,1481 1435,1482.3 1432.5,1481 1430,1480.5 1428.4,1480.1 1427.5,1481.4 1425,1480.1 1422.5,1480.4 1420,1482.1 1417.5,1481.2 1415,1480.4 1412.5,1480.8 1410,1479.9 1407.5,1480.7 1405,1481.2 1402.5,1481.6 1400,1479.9 1397.5,1480.3 1395,1481.8 1392.5,1481.3 1390,1480.7 1387.5,1479 1385,1478.2 1382.5,1479 1380,1477.2 1379.7,1476.9 1377.5,1477.8 1375,1478.1 1372.5,1477.6 1370,1477 1367.5,1477.5 1365,1478.5 1362.5,1476.8 1360,1477.6 1357.5,1477.5 1355,1476.3 1352.5,1478 1350,1476.5 1347.5,1477.9 1345,1477.2 1342.5,1476.8 1340,1477.7 1337.5,1477.2 1335,1477.3 1332.5,1477.8 1330,1476.7 1327.5,1476.1 1325,1476.6 1322.5,1477.4 1320,1477.4 1317.5,1476.9 1315,1476.1 1312.5,1476.8 1310,1477.2 1307.5,1475.1 1306.7,1475.2 1305,1475.5 1302.5,1475.9 1300,1474.2 1297.5,1475.8 1295,1473.7 1292.5,1474.6 1290,1474.4 1287.5,1473.1 1285,1473.5 1282.5,1472.7 1280,1472.2 1277.5,1473.4 1275,1471.9 1272.5,1470.7 1270,1472.2 1267.5,1470.6 1265,1471.7 1262.5,1471.5 1260,1471.2 1258,1470.2 1257.5,1469.5 1255,1469.1 1252.5,1467.7 1250,1468.4 1247.5,1465.5 1245,1465.2 1242.5,1465.9 1240,1464.2 1237.5,1464.4 1235,1462.2 1232.5,1460.7 1230,1461.8 1227.5,1461 1225,1459.7 1222.5,1458.4 1220,1456.5 1217.5,1457.4 1215,1456.1 1212.5,1456.1 1210,1453.5 1207.5,1453 1205,1452.2 1202.5,1452.7 1200,1450.6 1197.5,1450.9 1195,1448.4 1192.5,1448.7 1190,1447.3 1187.5,1446.5 1185,1444.9" fill="#5e3810" />
<polygon points="1185,1437.8 1187.5,1439.6 1190,1438.6 1192.5,1439.8 1195,1440.5 1197.5,1440 1200,1440.8 1202.5,1440.7 1205,1442.7 1207.5,1441.9 1210,1442.3 1212.5,1443.1 1215,1444.4 1217.5,1444.9 1220,1445.1 1222.5,1446.3 1225,1446.6 1227.5,1445.9 1230,1447.1 1232.5,1446.8 1233.7,1447.2 1235,1447.7 1237.5,1448.8 1240,1450.6 1242.5,1453.1 1245,1453.8 1247.5,1453.8 1250,1455.4 1252.5,1457.4 1255,1458.6 1257.5,1458.7 1258,1459.1 1260,1460.3 1262.5,1460.7 1265,1459.8 1267.5,1461.6 1270,1460.6 1272.5,1461.7 1275,1461.8 1277.5,1461.6 1280,1463.2 1282.5,1462.2 1285,1462.5 1287.5,1463.1 1290,1464 1292.5,1464.5 1295,1464.3 1297.5,1464.1 1300,1464.7 1302.5,1464.8 1305,1465.7 1306.7,1465.9 1307.5,1465.5 1310,1464.3 1312.5,1465.1 1315,1464.8 1317.5,1464.3 1320,1465.5 1322.5,1464.3 1325,1465.4 1327.5,1464.9 1330,1464.7 1332.5,1465.4 1335,1465.4 1337.5,1466 1340,1466 1342.5,1465.6 1345,1464.4 1347.5,1465.3 1350,1464.9 1352.5,1465.9 1355,1464.8 1355.4,1464.6 1357.5,1464 1360,1465.1 1362.5,1465.3 1365,1465 1367.5,1464.6 1370,1465.6 1372.5,1464.8 1375,1465.1 1377.5,1465.9 1380,1465.8 1382.5,1466.2 1385,1466.4 1387.5,1466.2 1390,1465.8 1392.5,1465.7 1395,1467 1397.5,1468 1400,1466.6 1402.5,1466.9 1405,1466.9 1407.5,1468 1410,1467.6 1412.5,1468.4 1415,1466.8 1417.5,1467.2 1420,1467.4 1422.5,1467.9 1425,1468.1 1427.5,1468.2 1428.4,1469.5 1430,1468.2 1432.5,1468.4 1435,1469 1437.5,1468.1 1440,1467.8 1442.5,1468.2 1445,1466.9 1447.5,1466.1 1450,1467.9 1452.5,1466.8 1455,1466.7 1457.5,1465.4 1460,1466.7 1462.5,1465.7 1465,1466.1 1467.5,1465.1 1470,1466.3 1472.5,1464.9 1475,1464.6 1477,1465.8 1477.5,1464.2 1480,1463.8 1482.5,1463.8 1485,1464.4 1487.5,1462 1490,1461.7 1492.5,1462.5 1495,1460.4 1497.5,1460.6 1500,1460.9 1502.5,1460.3 1505,1459.9 1507.5,1458 1510,1459.2 1512.5,1457.5 1513.5,1458.3 1515,1457.1 1517.5,1457.4 1520,1455.8 1522.5,1454.7 1525,1453.7 1527.5,1453.8 1530,1452.2 1532.5,1451.8 1535,1452.7 1537.5,1451.3 1540,1451.3 1542.5,1449 1545,1449.1 1547.5,1448.4 1550,1446.9 1552.5,1446.8 1555,1447.7 1557.5,1446.8 1560,1445.8 1562.5,1445.5 1565,1445.6 1567.5,1445.3 1570,1444 1572.5,1442.3 1575,1443.6 1577.5,1441.6 1580,1441.2 1582.5,1440.5 1585,1440.8 1586.6,1440.7 1587.5,1440.5 1590,1440.8 1592.5,1440.3 1595,1441.8 1597.5,1441.6 1600,1441.4 1602.5,1442.2 1605,1442.1 1607.5,1441.8 1610,1441.6 1612.5,1439.3 1615,1439.7 1617.5,1439.5 1620,1438.7 1622.5,1439.5 1625,1439.5 1627.5,1437.5 1630,1438 1632.5,1438.7 1635,1438.2 1637.5,1437 1640,1435.9 1642.5,1436.3 1645,1436.2 1647.5,1436.4 1649.2,1434.9 1650,1435 1652.5,1436.1 1655,1433.5 1657.5,1434.4 1660,1432.8 1662.5,1433.8 1665,1432.7 1667.5,1433.3 1670,1431.4 1672.5,1432.4 1675,1430.5 1677.5,1429.7 1680,1429.3 1682.5,1428.9 1685,1429.1 1687.5,1430 1690,1428.2 1692.5,1428.5 1695,1426.6 1697.5,1427.2 1698.5,1427.1 1700,1425.8 1702.5,1426.4 1705,1425.6 1707.5,1424.8 1710,1425.4 1712.5,1424.6 1715,1422.9 1717.5,1422.3 1720,1421.7 1722.5,1421.7 1725,1422 1727.5,1422.3 1730,1421.8 1732.5,1421 1735,1418.9 1737.5,1419.9 1740,1419.3 1742.5,1418.2 1745,1418.8 1747.5,1417.5 1747.7,1416.4 1750,1416.2 1752.5,1415.7 1755,1416.3 1757.5,1416 1760,1416.1 1762.5,1413.9 1765,1413.5 1767.5,1415.3 1770,1413.3 1772.5,1413 1775,1413.9 1777.5,1411.9 1780,1413 1782.5,1412.8 1785,1411.7 1787.5,1411.5 1790,1409.8 1792.5,1410.7 1795,1410.4 1797,1410.4 1797.5,1409.8 1800,1408.7 1802.5,1408.6 1805,1409.3 1807.5,1407.8 1810,1407.6 1812.5,1407.7 1815,1408.7 1817.5,1407.9 1820,1407.2 1822.5,1408.3 1825,1407.2 1827.5,1406.2 1830,1406.7 1832.5,1407 1835,1405.7 1837.5,1405.6 1840,1405.7 1842.5,1406.3 1845,1405.3 1846.2,1404.2 1847.5,1404.9 1850,1403.9 1852.5,1403.9 1855,1404 1857.5,1402.1 1860,1402.8 1862.5,1402 1865,1402.3 1867.5,1402.4 1870,1401.2 1872.5,1401.2 1875,1400.1 1877.5,1399.7 1880,1399.8 1882.5,1399.5 1885,1398.5 1887.5,1399.3 1890,1398.3 1892.5,1397.6 1895,1397 1895.4,1398.2 1897.5,1398.2 1900,1398.1 1902.5,1396.4 1905,1395.8 1907.5,1396.9 1910,1395.4 1912.5,1397 1915,1396.4 1917.5,1395.5 1920,1395.5 1922.5,1395.9 1925,1394.5 1927.5,1394.8 1930,1395.5 1932.5,1395.1 1935,1394.7 1937.5,1393.5 1940,1393.5 1942.5,1393.4 1944.7,1392.8 1945,1394.1 1947.5,1393.7 1950,1394.3 1952.5,1393.3 1955,1393.9 1957.5,1392.8 1960,1392.7 1962.5,1392 1965,1392.2 1967.5,1393 1970,1391.9 1972.5,1390.6 1975,1391.2 1977.5,1390.7 1980,1391.4 1982.5,1391 1985,1390.7 1987.5,1391.5 1990,1391 1992.5,1389.3 1993.9,1389.1 1995,1390.7 1997.5,1390.7 2000,1391.1 2002.5,1391 2005,1390.2 2007.5,1391.4 2010,1392.5 2012.5,1392.3 2015,1391.3 2017.5,1391.7 2020,1393.7 2022.5,1393.2 2025,1392.6 2027.5,1394 2029.6,1394.7 2029.6,1458 2027.5,1459.8 2025,1459.1 2022.5,1460.1 2020,1458.1 2017.5,1459.3 2015,1459.6 2012.5,1460.4 2010,1459.6 2007.5,1459.8 2005,1458.8 2002.5,1458.5 2000,1458.5 1997.5,1459.8 1995,1458.9 1992.5,1460.3 1990,1458.8 1987.5,1459.2 1985,1460 1982.5,1460.2 1980,1459.7 1977.5,1460.8 1975,1461 1972.5,1459.4 1970,1459.7 1969.3,1459.9 1967.5,1460.4 1965,1461.2 1962.5,1459.4 1960,1460.5 1957.5,1460.3 1955,1460.7 1952.5,1460.4 1950,1461.7 1947.5,1460.7 1945,1460 1942.5,1460.9 1940,1461.4 1937.5,1460.1 1935,1460.1 1932.5,1461.5 1930,1460.6 1927.5,1462 1925,1460.9 1922.5,1460.7 1920,1460.8 1917.5,1462.6 1915,1462.3 1912.5,1462.6 1910,1462.1 1907.5,1463 1905,1463.9 1902.5,1464.5 1900,1463.9 1897.5,1465.6 1895.4,1464.7 1895,1465.4 1892.5,1464.9 1890,1466.3 1887.5,1465.8 1885,1466.5 1882.5,1465 1880,1465.5 1877.5,1466.2 1875,1465.4 1872.5,1466.2 1870,1466.3 1867.5,1466.9 1865,1467 1862.5,1467.7 1860,1468 1857.5,1466.3 1855,1466.2 1852.5,1468.1 1850,1468.5 1847.5,1468.4 1845,1468.7 1842.5,1468.9 1840,1468 1837.5,1468.5 1835,1467.4 1832.5,1467.7 1830,1467.9 1827.5,1468.6 1825,1468.4 1822.5,1468.6 1821.6,1469.7 1820,1469.6 1817.5,1468.1 1815,1469.4 1812.5,1468.9 1810,1470.3 1807.5,1469.1 1805,1468.5 1802.5,1469.4 1800,1469.9 1797.5,1469.9 1795,1469.6 1792.5,1470.2 1790,1470.6 1787.5,1469.5 1785,1470.3 1782.5,1470.6 1780,1469.5 1777.5,1469.6 1775,1469.9 1772.5,1469.9 1770,1471.5 1767.5,1470.3 1765,1471.1 1762.5,1470.1 1760,1470.2 1757.5,1470.2 1755,1470.2 1752.5,1470.2 1750,1471.1 1747.7,1471.6 1747.5,1471.8 1745,1471.5 1742.5,1471.4 1740,1471.1 1737.5,1472.1 1735,1471.5 1732.5,1472.2 1730,1471.4 1727.5,1472.1 1725,1471.7 1722.5,1472 1720,1471.8 1717.5,1473.3 1715,1472.1 1712.5,1472.9 1710,1471.6 1707.5,1473.1 1705,1472.4 1702.5,1472.9 1700,1472.1 1697.5,1472.3 1695,1474.1 1692.5,1472.7 1690,1473.3 1687.5,1473.1 1685,1473.2 1682.5,1473.4 1680,1474.2 1677.5,1473.5 1675,1473.2 1673.9,1473 1672.5,1474.2 1670,1473.1 1667.5,1475.1 1665,1473.6 1662.5,1475.5 1660,1473.8 1657.5,1474.7 1655,1475.7 1652.5,1475.2 1650,1474.6 1647.5,1474.8 1645,1475.7 1642.5,1475.9 1640,1475.6 1637.5,1477.2 1635,1476.3 1632.5,1476.4 1630,1477 1627.5,1476.9 1625,1477.8 1622.5,1477 1620,1477.1 1617.5,1478.5 1615,1476.8 1612.5,1477.5 1610,1477.1 1607.5,1477.2 1605,1479.5 1602.5,1478.1 1600,1479.3 1597.5,1479.4 1595,1478.1 1592.5,1478.1 1590,1477.7 1587.5,1478.6 1585,1478.5 1582.5,1478.8 1580,1478.7 1577.5,1478 1575,1478.3 1572.5,1478.7 1570,1478.3 1567.5,1478.3 1565,1478.5 1562.5,1478 1560,1476.6 1557.5,1477.8 1555,1477.3 1552.5,1476.1 1550,1477.3 1547.5,1476.3 1545,1478 1542.5,1476.9 1540,1476.7 1537.5,1477.9 1535,1476.1 1532.5,1476.1 1530,1477.3 1527.5,1477.3 1525,1477.6 1522.5,1475.9 1520,1476.6 1517.5,1477.9 1515,1477.8 1512.5,1477.1 1510,1477.2 1507.5,1476.8 1505,1476.8 1502.5,1477.3 1501.4,1478 1500,1476.1 1497.5,1477.9 1495,1478 1492.5,1476.3 1490,1478.3 1487.5,1477 1485,1477.3 1482.5,1478.2 1480,1478.7 1477.5,1477.8 1475,1477 1472.5,1477.7 1470,1477.2 1467.5,1478.2 1465,1477.8 1462.5,1479.4 1460,1479.3 1457.5,1479.5 1455,1478.2 1452.5,1479 1450,1478.2 1447.5,1478.3 1445,1478.9 1442.5,1479.1 1440,1479.5 1437.5,1478.9 1435,1478.3 1432.5,1480.2 1430,1479.5 1428.4,1479.5 1427.5,1479.9 1425,1480.2 1422.5,1478.4 1420,1479 1417.5,1479 1415,1478.6 1412.5,1479.8 1410,1479.6 1407.5,1479.1 1405,1479.6 1402.5,1478.3 1400,1479.3 1397.5,1478.9 1395,1479 1392.5,1479.2 1390,1478 1387.5,1479.2 1385,1477.6 1382.5,1478.7 1380,1479.2 1377.5,1479.3 1375,1477.1 1372.5,1477.7 1370,1477 1367.5,1478.1 1365,1477.6 1362.5,1477.8 1360,1478.2 1357.5,1477.7 1355,1477.8 1352.5,1478.3 1350,1477.1 1347.5,1476.6 1345,1477.8 1342.5,1476.6 1340,1477.3 1337.5,1477.5 1335,1477.1 1332.5,1477.3 1331,1477.4 1330,1475.9 1327.5,1477.3 1325,1477.2 1322.5,1476.1 1320,1475 1317.5,1475.2 1315,1476 1312.5,1474.6 1310,1475.9 1307.5,1474.1 1305,1473.4 1302.5,1474.5 1300,1473.9 1297.5,1472.9 1295,1472.8 1292.5,1473.6 1290,1472.7 1287.5,1472.2 1285,1472.3 1282.5,1472.6 1280,1472.3 1277.5,1471.3 1275,1471.4 1272.5,1472 1270,1471 1267.5,1471.7 1265,1469.7 1262.5,1470.6 1260,1469 1258,1469.7 1257.5,1470.3 1255,1467.7 1252.5,1466.7 1250,1463.2 1247.5,1462.9 1245,1461.5 1242.5,1459.2 1240,1457.5 1237.5,1454.4 1235,1453.5 1233.7,1451.9 1232.5,1452.2 1230,1451.4 1227.5,1451.9 1225,1450.5 1222.5,1451.8 1220,1450.9 1217.5,1451.3 1215,1450 1212.5,1448.6 1210,1448.1 1207.5,1449.2 1205,1449.2 1202.5,1447.2 1200,1447.3 1197.5,1448 1195,1446.8 1192.5,1445.6 1190,1446.8 1187.5,1446.1 1185,1446.2" fill="#bea685" />
<polyline points="1282.3,1476.2 1285.3,1476.1 1288.3,1476.2 1291.3,1476.8 1294.3,1476.8 1297.3,1477.8 1300.3,1477.7 1303.3,1478.7 1306.3,1478.4 1309.3,1479.4 1312.3,1479.7 1315.3,1480.2 1318.3,1480.8 1321.3,1480.4 1324.3,1481.3 1327.3,1481.3 1330.3,1482.3 1331,1482.3 1333.3,1482.2 1336.3,1482 1339.3,1481.6 1342.3,1482.4 1345.3,1482.5 1348.3,1482.4 1351.3,1481.7 1354.3,1482.3 1357.3,1482.1 1360.3,1482.3 1363.3,1482.3 1366.3,1481.8 1369.3,1481.8 1372.3,1482.3 1375.3,1482.1 1378.3,1481.9 1379.7,1482.3 1381.3,1481.3 1384.3,1481.2 1387.3,1481.7 1390.3,1481.2 1393.3,1482 1396.3,1481 1399.3,1481.9 1402.3,1481 1405.3,1480.8 1408.3,1481.5 1411.3,1481.3 1414.3,1480.9 1417.3,1481.1 1420.3,1481 1423.3,1481.4 1426.3,1480.8 1428.4,1480.7 1429.3,1481 1432.3,1482.2 1435.3,1483.7 1438.3,1484.2 1441.3,1486.1 1444.3,1487.6 1447.3,1488.6 1450.3,1489.5 1452.7,1490.2 1453.3,1490.4 1456.3,1493 1459.3,1496.1 1462.3,1499 1465.3,1501.6 1468.3,1503.3 1471.3,1506.5 1474.3,1509.2 1477,1511.1 1477.3,1511.7 1480.3,1512.7 1483.3,1514.7 1486.3,1516.7 1489.3,1518.7 1492.3,1520.2 1495.3,1521.8 1498.3,1524.3 1501.3,1525.5 1501.4,1525.6 1504.3,1528.3 1507.3,1531.6 1510.3,1534.9 1513.3,1537.5 1516.3,1540.9 1519.3,1543.7 1520.8,1544.6 1522.3,1548.1 1525.3,1552.1 1528.3,1557.2 1531.3,1562.4 1533,1564.2 1534.3,1567.4 1537.3,1575.1 1540.1,1582.2 1540.3,1585.2 1543.3,1617.8 1543.7,1621.7 1546.3,1625.2 1549.3,1629.2 1550.9,1630.8 1552.3,1630.8 1555.3,1631.1 1558.3,1630.2 1561.3,1629.6 1564.3,1629.6 1567.3,1628.7 1570.3,1628.8 1573.3,1628.6 1576.3,1627.5 1579.3,1627.7 1579.7,1627.4 1582.3,1627.6 1585.3,1627 1588.3,1627 1591.3,1626.3 1594.3,1625.4 1597.3,1625 1600.3,1625.3 1603.3,1625 1606.3,1623.7 1609.3,1623.8 1612.3,1623.3 1615.3,1623.1 1618.3,1623.2 1621.3,1622.5 1624.3,1622.3 1627.3,1622 1630.3,1621 1633.3,1621 1636.3,1620.4 1639.3,1620.1 1642.3,1619.8 1645.3,1619.6 1648.3,1618.6 1651.3,1619 1651.5,1618.2 1654.3,1618.2 1657.3,1618.7 1660.3,1618.7 1663.3,1617.8 1666.3,1618.4 1669.3,1617.2 1672.3,1618.1 1675.3,1617 1678.3,1616.7 1681.3,1617.4 1684.3,1616.6 1687.3,1617.1 1690.3,1616.1 1693.3,1616.1 1696.3,1616.2 1699.3,1615.7 1702.3,1616 1705.3,1615.7 1708.3,1616 1711.3,1615.6 1714.3,1616 1717.3,1615.7 1720.3,1614.8 1723.3,1615.5 1723.4,1615.5 1726.3,1614.5 1729.3,1613.8 1732.3,1612.7 1735.3,1612.2 1738.3,1611.5 1741.3,1610.8 1744.3,1610.6 1747.3,1609.7 1750.3,1609.5 1753.3,1608.7 1756.3,1608.3 1759.3,1606.8 1762.3,1607.1 1765.3,1606 1768.3,1605.5 1771.3,1604.4 1773.7,1604.4 1774.3,1604.3 1777.3,1605.7 1780.3,1606.5 1783.3,1607 1786.3,1608.2 1789.3,1609.7 1792.3,1609.8 1795.3,1611.6 1798.3,1611.2 1801.3,1611.2 1804.3,1610.5 1807.3,1610.5 1810.3,1610.2 1813.3,1610.3 1816.3,1609.3 1819.3,1609.6 1822.3,1609.1 1825.3,1609.3 1828.3,1608.6 1831.3,1608.3 1834.3,1608.1 1837.3,1608.7 1840.3,1607.9 1843.3,1608.2 1846.3,1607.8 1849.3,1607.1 1852.3,1607.2 1855.3,1606.3 1858.3,1607.2 1861.3,1606.6 1864.3,1605.7 1867.1,1606 1867.3,1606 1870.3,1606 1873.3,1605.4 1876.3,1606 1879.3,1605.5 1882.3,1604.7 1885.3,1605.5 1888.3,1605.4 1891.3,1604.6 1894.3,1604.9 1897.3,1604.9 1900.3,1604.8 1903.3,1603.7 1906.3,1604.4 1909.3,1603.6 1912.3,1604.1 1915.3,1603.8 1918.3,1603.4 1921.3,1603.8 1924.3,1603.5 1927.3,1603.6 1930.3,1603.4 1933.3,1602.8 1936.3,1602.8 1938.9,1602.6 1939.3,1601.9 1942.3,1599.6 1945.3,1597.1 1948.3,1594.2 1949.7,1593.1 1951.3,1594.3 1954.3,1595.1 1957.3,1595.8 1960.3,1596.7 1963.3,1597.3 1966.3,1598.2 1969.3,1599.2 1972.3,1599.3 1974.9,1600.5 1975.3,1601.1 1978.3,1599.8 1981.3,1599.7 1984.3,1598.9 1987.3,1598.7 1990.3,1599 1993.3,1597.6 1996.3,1598.1 1999.3,1597.7 2002.3,1597.4 2005.3,1596.3 2008.3,1596.7 2011.3,1595.7 2014.3,1595.4 2017.3,1595.6 2020.3,1594.7 2023.3,1594.4 2026.3,1593.4 2029.3,1592.8 2029.6,1593.1" fill="none" stroke="#e8243a" stroke-width="4.8" stroke-linejoin="round" stroke-linecap="butt" stroke-dasharray="15.5,7"/>
<polyline points="1258,1469.1 1261,1470.4 1264,1469.7 1267,1471 1270,1470.7 1273,1470.1 1276,1471.1 1279,1470.7 1282,1471.2 1285,1470.6 1288,1472 1291,1472.1 1294,1472 1297,1472.3 1300,1472 1303,1471.8 1306,1472.3 1309,1473.1 1312,1473 1315,1472.5 1318,1472.9 1321,1473.4 1324,1472.9 1327,1473.1 1330,1473.9 1333,1473.6 1336,1475 1339,1474 1342,1475.1 1345,1475.4 1348,1474.8 1351,1475.3 1354,1476.2 1357,1475.8 1360,1475.6 1363,1476.8 1366,1475.8 1369,1477.1 1372,1476.2 1375,1476.6 1378,1476.6 1379.7,1477.2 1381,1477.6 1384,1477.3 1387,1476.5 1390,1477.8 1393,1477.4 1396,1477 1399,1477.6 1402,1476.4 1405,1477.2 1408,1477.5 1411,1477.4 1414,1477.3 1417,1476.3 1420,1477 1423,1476.6 1426,1477.2 1429,1476.8 1432,1476.9 1435,1477.1 1438,1477.1 1441,1477.6 1444,1476.7 1447,1476.6 1450,1476.5 1453,1476.4 1456,1477.6 1459,1477.7 1462,1476.4 1465,1476.8 1468,1477.6 1471,1477.6 1474,1477.8 1477,1477.8 1480,1476.6 1483,1476.2 1486,1476.5 1489,1476.8 1492,1476 1495,1476.3 1498,1476.6 1501,1476.9 1504,1476 1507,1475.9 1510,1476.2 1513,1475.8 1516,1475.8 1519,1475.7 1522,1476.7 1525,1476.8 1528,1475.4 1531,1476.6 1534,1476.6 1537,1476.3 1540,1475.6 1543,1476.4 1546,1475.2 1549,1475.1 1550,1476.5 1552,1475.2 1555,1476 1558,1475.5 1561,1474.1 1564,1473.9 1567,1474.5 1570,1473.4 1573,1474 1576,1473.7 1579,1472.8 1582,1472.9 1585,1472.2 1588,1473 1591,1472.3 1594,1472.1 1597,1471.8 1600,1470.6 1603,1471.9 1606,1471.7 1609,1471.2 1612,1471.3 1615,1471.1 1618,1471.5 1621,1471.1 1624,1470.7 1627,1471 1630,1470.5 1633,1470.1 1636,1470.9 1639,1471.4 1642,1471.1 1645,1470.3 1648,1470.7 1651,1470.8 1654,1470.8 1657,1470.5 1660,1470.6 1663,1470.8 1666,1471.1 1669,1470.5 1672,1470.9 1675,1470.7 1678,1469.7 1681,1469.9 1684,1470 1687,1470 1690,1470.2 1693,1469.8 1696,1470.9 1698.5,1470.5 1699,1469.9 1702,1470.3 1705,1470.6 1708,1469.2 1711,1469.9 1714,1470.3 1717,1469.3 1720,1470 1723,1469.8 1726,1468.9 1729,1468.5 1732,1469.5 1735,1468.7 1738,1468.5 1741,1468.6 1744,1468.9 1747,1469.1 1750,1469 1753,1468.7 1756,1467.6 1759,1467.8 1762,1467.2 1765,1467.4 1768,1467.5 1771,1467.1 1772.3,1467.6 1774,1467 1777,1467.7 1780,1467.2 1783,1466.8 1786,1467.5 1789,1466.8 1792,1466.2 1795,1467.4 1798,1467.2 1801,1467.3 1804,1466.2 1807,1466.1 1810,1466.7 1813,1465.7 1816,1466.9 1819,1466.3 1822,1466.1 1825,1465.2 1828,1465.4 1831,1465.6 1834,1466.4 1837,1464.9 1840,1465.5 1843,1464.6 1846,1466 1846.2,1465.6 1849,1465.6 1852,1465.3 1855,1464.2 1858,1464.2 1861,1463.7 1864,1464.4 1867,1463.5 1870,1463.5 1873,1463.3 1876,1464.4 1879,1464 1882,1463 1885,1464 1888,1462.5 1891,1462.3 1894,1462.6 1895.4,1463.2 1897,1461.8 1900,1462.5 1903,1461.6 1906,1461.6 1909,1460.4 1912,1459.5 1915,1459.1 1918,1459.7 1920,1459 1921,1459.4 1924,1458.6 1927,1458.8 1930,1458.8 1933,1459.9 1936,1459.7 1939,1458.9 1942,1459.9 1945,1458.9 1948,1459.6 1951,1459.4 1954,1460.3 1957,1460.3 1960,1460.3 1963,1459.6 1966,1459.4 1969,1460.4 1969.3,1460.5 1972,1460.5 1975,1463 1978,1464.3 1981,1464.7 1984,1466.1 1987,1467.6 1990,1469.2 1993,1470 1993.9,1470.1 1996,1470.6 1999,1470.3 2002,1469.6 2005,1470.5 2008,1470.4 2011,1470.4 2014,1470.6 2017,1470.4 2020,1470.7 2023,1471.5 2026,1471.8 2029,1471.2 2029.6,1471.9" fill="none" stroke="#ef8a3a" stroke-width="4.8" stroke-linejoin="round" stroke-linecap="butt" stroke-dasharray="15.5,7"/>
<polyline points="1258,1466.7 1261,1467.5 1264,1468.1 1267,1468.3 1270,1467.8 1273,1467.7 1276,1469.1 1279,1468.7 1282,1469 1285,1468.7 1288,1468.5 1291,1469.4 1294,1469.3 1297,1470.3 1300,1470.1 1303,1470.4 1306,1470.3 1309,1470.8 1312,1470 1315,1471.5 1318,1471 1321,1471.2 1324,1470.8 1327,1470.8 1330,1471.9 1333,1472.2 1336,1472.2 1339,1471.8 1342,1472.3 1345,1472.9 1348,1472.9 1351,1473.5 1354,1472.4 1357,1473.7 1360,1472.6 1363,1473.8 1366,1473.8 1369,1473.3 1372,1474 1375,1474.6 1378,1475.1 1379.7,1473.9 1381,1474.5 1384,1474.9 1387,1473.6 1390,1474.7 1393,1474.6 1396,1473.5 1399,1473.2 1402,1472.9 1405,1472.9 1408,1473 1411,1473.4 1414,1473.6 1417,1472.8 1420,1473.3 1423,1472.3 1426,1472.5 1429,1471.3 1432,1471.8 1435,1471.1 1438,1471.1 1441,1472 1444,1470.7 1447,1470.9 1450,1471.1 1453,1470.9 1456,1470 1459,1470 1462,1470.7 1465,1470.2 1468,1469.5 1471,1470 1474,1469.6 1477,1470.5 1480,1468.8 1483,1468.9 1486,1468.6 1489,1469.2 1492,1469.7 1495,1469.3 1498,1468 1501,1468.6 1504,1468.1 1507,1469 1510,1468.4 1513,1468.1 1516,1467.4 1519,1467.5 1522,1467.5 1525,1467.1 1528,1467.3 1531,1466.4 1534,1466.8 1537,1467.5 1540,1466.4 1543,1466.5 1546,1466.7 1549,1466.6 1550,1466.5 1552,1465.8 1555,1466.2 1558,1465.3 1561,1465.8 1564,1464.7 1567,1464.9 1570,1464.7 1573,1464.9 1576,1465.3 1579,1464.1 1582,1465.3 1585,1463.9 1588,1465.1 1591,1465 1594,1464.3 1597,1464.6 1600,1464.6 1603,1463.7 1606,1464.2 1609,1462.7 1612,1463.7 1615,1463.4 1618,1463.4 1621,1462.3 1624,1462 1627,1462.6 1630,1462.6 1633,1462.5 1636,1461.6 1639,1462.1 1642,1462.5 1645,1461.3 1648,1462 1651,1462.1 1654,1461.5 1657,1461 1660,1460.8 1663,1460.7 1666,1460 1669,1459.8 1672,1459.9 1673.9,1459.7 1675,1460.7 1678,1459.5 1681,1459.9 1684,1459 1687,1459.2 1690,1458.8 1693,1458.2 1696,1457.4 1699,1456.7 1702,1456.8 1705,1456 1708,1456.5 1711,1454.9 1714,1455.4 1717,1454.6 1720,1454.4 1723,1454.2 1723.1,1454.9 1726,1454.5 1729,1453 1732,1453.5 1735,1453 1738,1451.9 1741,1451.5 1744,1450.5 1747,1451 1750,1450 1753,1450 1756,1449.8 1759,1448.9 1762,1448.6 1765,1447.9 1768,1446.8 1771,1446.8 1772.3,1446 1774,1445.9 1777,1446.6 1780,1445.2 1783,1444.2 1786,1444.2 1789,1443.1 1792,1443.4 1795,1442.3 1798,1441.8 1801,1441.9 1804,1441.9 1807,1439.9 1810,1440.5 1813,1439.7 1816,1439.1 1819,1438.4 1821.6,1437.3 1822,1437.8 1825,1437.8 1828,1437.2 1831,1438 1834,1436.6 1837,1437.1 1840,1436.8 1843,1436.4 1846,1435.7 1849,1435.4 1852,1435.6 1855,1434.2 1858,1434 1861,1433.4 1864,1433.9 1867,1433.5 1870,1434 1870.8,1433.9 1873,1432.6 1876,1432.2 1879,1430.9 1882,1431.4 1885,1430.4 1888,1429.2 1891,1429.8 1894,1427.8 1897,1427.5 1900,1427.3 1903,1427.5 1906,1425.6 1907.7,1425.4 1909,1426.2 1912,1425.3 1915,1426.1 1918,1424.5 1921,1424.7 1924,1424.7 1927,1425.4 1930,1424 1933,1424.8 1936,1425 1939,1425 1942,1424.6 1945,1423.2 1948,1423.7 1951,1423.2 1954,1422.8 1957,1422.9 1960,1423.3 1963,1422.6 1966,1421.5 1969,1421.4 1972,1420.6 1975,1421.6 1978,1420.9 1981,1420.1 1984,1420.5 1987,1420.1 1990,1418.4 1993,1418.1 1993.9,1417.9 1996,1418.2 1999,1417.5 2002,1416.8 2005,1416.5 2008,1415.5 2011,1414.6 2014,1414.5 2017,1414.3 2020,1412.3 2023,1412.3 2026,1411.2 2029,1411.5 2029.6,1410.9" fill="none" stroke="#9a7550" stroke-width="4.8" stroke-linejoin="round" stroke-linecap="butt" stroke-dasharray="15.5,7"/>
<polyline points="1185,1443.5 1188,1443.6 1191,1444.3 1194,1444 1197,1444.3 1200,1445.2 1203,1445.3 1206,1444.8 1209,1444.7 1209.3,1446.1 1212,1445.2 1215,1447.2 1218,1447.8 1221,1448 1224,1449.1 1227,1449.1 1230,1450 1233,1450.3 1233.7,1449.9 1236,1450.8 1239,1453.3 1242,1454.4 1245,1455.3 1248,1457.5 1251,1458.5 1254,1460 1257,1462.5 1258,1462.6 1260,1463.1 1263,1463.7 1266,1463.5 1269,1464 1272,1464.4 1275,1464.7 1278,1465.8 1281,1466.5 1284,1466 1287,1467.1 1290,1466.7 1293,1466.9 1296,1468.4 1299,1469 1302,1468.7 1305,1470.2 1306.7,1470.1 1308,1469.5 1311,1470.3 1314,1470.5 1317,1469.5 1320,1470.8 1323,1470.2 1326,1470 1329,1470.3 1332,1470.6 1335,1470.7 1338,1470.4 1341,1470.2 1344,1471.2 1347,1471.4 1350,1471.5 1353,1471.1 1356,1472 1359,1470.7 1362,1471 1365,1470.9 1368,1471.9 1371,1471.9 1374,1471.6 1377,1472.1 1379.7,1471.4 1380,1471.5 1383,1473.2 1386,1473.3 1389,1472.2 1392,1473.4 1395,1473.3 1398,1473.6 1401,1474.3 1404,1474.2 1407,1474.9 1410,1474.7 1413,1475.3 1416,1474.3 1419,1475.6 1422,1475 1425,1476.2 1428,1476.2 1428.4,1476.5 1431,1476.1 1434,1475.3 1437,1475.4 1440,1475.7 1443,1474.4 1446,1475 1449,1474.9 1452,1475 1455,1474.2 1458,1474.5 1461,1474.6 1464,1473.9 1467,1474.2 1470,1474.4 1473,1473.4 1476,1473.5 1477,1473.4 1479,1473.8 1482,1472.8 1485,1472.7 1488,1472.7 1491,1472.9 1494,1472 1497,1473.2 1500,1472.2 1503,1472.5 1506,1471.8 1509,1471 1512,1471.4 1515,1471.6 1518,1470.7 1521,1471.9 1524,1471.2 1527,1470.8 1530,1470 1533,1470.2 1536,1470.1 1539,1470.5 1542,1469.6 1545,1469.9 1548,1469.4 1550,1469.8 1551,1469.9 1554,1469.4 1557,1469.5 1560,1469 1563,1467.9 1566,1468.5 1569,1468 1572,1468.1 1575,1468.1 1578,1466.9 1581,1467.5 1584,1466.2 1587,1466.6 1590,1465.3 1593,1466.3 1596,1465.5 1599,1465.2 1600,1465.2 1602,1464.9 1605,1464.6 1608,1465.2 1611,1465 1614,1464 1617,1464.2 1620,1465.1 1623,1464 1626,1463.9 1629,1464.2 1632,1463.8 1635,1464.6 1638,1464.5 1641,1463.1 1644,1463.1 1647,1462.9 1650,1463.2 1653,1462.9 1656,1463.4 1659,1463.6 1662,1462.2 1665,1462 1668,1462 1671,1462.2 1674,1461.8 1677,1462.2 1680,1462 1683,1462.4 1686,1462.7 1689,1462.6 1692,1461.6 1695,1461.9 1698,1460.9 1698.5,1461.7 1701,1462 1704,1461.8 1707,1460.5 1710,1460.4 1713,1461.4 1716,1460.9 1719,1460.9 1722,1459.6 1725,1460.4 1728,1459.3 1731,1460.2 1734,1460.2 1737,1459.3 1740,1458.6 1743,1459.6 1746,1459.9 1749,1459.2 1752,1458.6 1755,1458.4 1758,1459 1761,1459.1 1764,1458 1767,1457.6 1770,1458.7 1772.3,1457.7 1773,1457.6 1776,1457 1779,1457.3 1782,1457.3 1785,1456.1 1788,1456.3 1791,1455.2 1794,1454.8 1797,1455 1800,1454.9 1803,1454.1 1806,1453.7 1809,1453.5 1809.3,1453.6 1812,1453.4 1815,1452.4 1818,1451.8 1821,1450.9 1824,1451.5 1827,1450.9 1830,1450 1833,1451.3 1836,1449.9 1839,1450.6 1842,1448.8 1845,1449.1 1846.2,1449.7 1848,1449.2 1851,1448.8 1854,1448 1857,1446.9 1860,1447.7 1863,1447.1 1866,1446.2 1869,1445.9 1870.8,1446 1872,1445.5 1875,1445.3 1878,1445.3 1881,1445.6 1884,1445.5 1887,1444.8 1890,1445.4 1893,1444.7 1896,1445.1 1899,1444.6 1902,1445.3 1905,1445.3 1908,1445 1911,1444.2 1914,1444.1 1917,1444.2 1920,1444.4 1923,1443.2 1926,1443.8 1929,1444.2 1932,1442.6 1935,1443.7 1938,1443 1941,1443.4 1944,1442.8 1947,1442.5 1950,1442.4 1953,1441.6 1956,1440.9 1959,1441.8 1962,1441.7 1965,1441.2 1968,1440.1 1969.3,1440.5 1971,1440.5 1974,1440.1 1977,1440.2 1980,1440.1 1983,1440.8 1986,1440.2 1989,1440.6 1992,1440.4 1995,1439.1 1998,1440 2001,1439.3 2004,1439.5 2006.2,1439.4 2007,1439.8 2010,1439.6 2013,1440.7 2016,1440.6 2019,1441.8 2022,1441.8 2025,1442.5 2028,1443.5 2029.6,1442.6" fill="none" stroke="#55544f" stroke-width="4.8" stroke-linejoin="round" stroke-linecap="butt" stroke-dasharray="15.5,7"/>
<line x1="2058.2" y1="1394.1" x2="2058.2" y2="1459" stroke="#5a5a5a" stroke-width="2"/>
<line x1="2052.2" y1="1394.1" x2="2064.2" y2="1394.1" stroke="#5a5a5a" stroke-width="2"/>
<line x1="2052.2" y1="1459" x2="2064.2" y2="1459" stroke="#5a5a5a" stroke-width="2"/>
<rect x="2047.2" y="1404.8" width="21.9" height="47.3" fill="#bea685" stroke="#5a5a5a" stroke-width="2"/>
<line x1="2047.2" y1="1442.1" x2="2069.1" y2="1442.1" stroke="#555555" stroke-width="2"/>
<line x1="2086.3" y1="1388.9" x2="2086.3" y2="1449.9" stroke="#5a5a5a" stroke-width="2"/>
<line x1="2080.3" y1="1388.9" x2="2092.3" y2="1388.9" stroke="#5a5a5a" stroke-width="2"/>
<line x1="2080.3" y1="1449.9" x2="2092.3" y2="1449.9" stroke="#5a5a5a" stroke-width="2"/>
<rect x="2075.5" y="1404.4" width="21.6" height="32.9" fill="#5e3810" stroke="#5a5a5a" stroke-width="2"/>
<line x1="2075.5" y1="1414.2" x2="2097.1" y2="1414.2" stroke="#555555" stroke-width="2"/>
<ellipse cx="2086.1" cy="1354.9" rx="2.6" ry="3.6" fill="#1e1e1e"/>
<line x1="2114.2" y1="1377.5" x2="2114.2" y2="1550.2" stroke="#5a5a5a" stroke-width="2"/>
<line x1="2108.2" y1="1377.5" x2="2120.2" y2="1377.5" stroke="#5a5a5a" stroke-width="2"/>
<line x1="2108.2" y1="1550.2" x2="2120.2" y2="1550.2" stroke="#5a5a5a" stroke-width="2"/>
<rect x="2103.4" y="1426.9" width="21.6" height="76.7" fill="#e8975a" stroke="#5a5a5a" stroke-width="2"/>
<line x1="2103.4" y1="1472.7" x2="2125" y2="1472.7" stroke="#555555" stroke-width="2"/>
<ellipse cx="2114" cy="1618.1" rx="2.6" ry="3.6" fill="#1e1e1e"/>
<line x1="2142.1" y1="1495.8" x2="2142.1" y2="1627" stroke="#5a5a5a" stroke-width="2"/>
<line x1="2136.1" y1="1495.8" x2="2148.1" y2="1495.8" stroke="#5a5a5a" stroke-width="2"/>
<line x1="2136.1" y1="1627" x2="2148.1" y2="1627" stroke="#5a5a5a" stroke-width="2"/>
<rect x="2131.1" y="1569.6" width="21.9" height="50.4" fill="#e95c48" stroke="#5a5a5a" stroke-width="2"/>
<line x1="2131.1" y1="1591.3" x2="2153" y2="1591.3" stroke="#555555" stroke-width="2"/>
<rect x="1184.6" y="1331.3" width="845.7" height="489" fill="none" stroke="#3c3c3c" stroke-width="1.7"/>
<line x1="1173.6" y1="1371.7" x2="1184.6" y2="1371.7" stroke="#3c3c3c" stroke-width="1.6"/>
<text x="1160.1" y="1380.2" font-size="24" fill="#231f20" text-anchor="end" font-weight="normal" >20</text>
<line x1="1173.6" y1="1446.3" x2="1184.6" y2="1446.3" stroke="#3c3c3c" stroke-width="1.6"/>
<text x="1160.1" y="1454.8" font-size="24" fill="#231f20" text-anchor="end" font-weight="normal" >0</text>
<line x1="1173.6" y1="1520.9" x2="1184.6" y2="1520.9" stroke="#3c3c3c" stroke-width="1.6"/>
<text x="1160.1" y="1529.4" font-size="24" fill="#231f20" text-anchor="end" font-weight="normal" >−20</text>
<line x1="1173.6" y1="1595.5" x2="1184.6" y2="1595.5" stroke="#3c3c3c" stroke-width="1.6"/>
<text x="1160.1" y="1604" font-size="24" fill="#231f20" text-anchor="end" font-weight="normal" >−40</text>
<line x1="1173.6" y1="1670.1" x2="1184.6" y2="1670.1" stroke="#3c3c3c" stroke-width="1.6"/>
<text x="1160.1" y="1678.6" font-size="24" fill="#231f20" text-anchor="end" font-weight="normal" >−60</text>
<line x1="1173.6" y1="1744.7" x2="1184.6" y2="1744.7" stroke="#3c3c3c" stroke-width="1.6"/>
<text x="1160.1" y="1753.2" font-size="24" fill="#231f20" text-anchor="end" font-weight="normal" >−80</text>
<line x1="1173.6" y1="1819.2" x2="1184.6" y2="1819.2" stroke="#3c3c3c" stroke-width="1.6"/>
<line x1="1205.5" y1="1820.3" x2="1205.5" y2="1831.3" stroke="#3c3c3c" stroke-width="1.6"/>
<text x="1205.5" y="1860.8" font-size="24" fill="#231f20" text-anchor="middle" font-weight="normal" textLength="60" lengthAdjust="spacingAndGlyphs">2000</text>
<line x1="1370.5" y1="1820.3" x2="1370.5" y2="1831.3" stroke="#3c3c3c" stroke-width="1.6"/>
<text x="1370.5" y="1860.8" font-size="24" fill="#231f20" text-anchor="middle" font-weight="normal" textLength="60" lengthAdjust="spacingAndGlyphs">2200</text>
<line x1="1535.5" y1="1820.3" x2="1535.5" y2="1831.3" stroke="#3c3c3c" stroke-width="1.6"/>
<text x="1535.5" y="1860.8" font-size="24" fill="#231f20" text-anchor="middle" font-weight="normal" textLength="60" lengthAdjust="spacingAndGlyphs">2400</text>
<line x1="1700.5" y1="1820.3" x2="1700.5" y2="1831.3" stroke="#3c3c3c" stroke-width="1.6"/>
<text x="1700.5" y="1860.8" font-size="24" fill="#231f20" text-anchor="middle" font-weight="normal" textLength="60" lengthAdjust="spacingAndGlyphs">2600</text>
<line x1="1865.5" y1="1820.3" x2="1865.5" y2="1831.3" stroke="#3c3c3c" stroke-width="1.6"/>
<text x="1865.5" y="1860.8" font-size="24" fill="#231f20" text-anchor="middle" font-weight="normal" textLength="60" lengthAdjust="spacingAndGlyphs">2800</text>
<line x1="2030.5" y1="1820.3" x2="2030.5" y2="1831.3" stroke="#3c3c3c" stroke-width="1.6"/>
<text x="2030.5" y="1860.8" font-size="24" fill="#231f20" text-anchor="middle" font-weight="normal" textLength="60" lengthAdjust="spacingAndGlyphs">3000</text>
<text x="1607.4" y="1901.5" font-size="27.5" fill="#231f20" text-anchor="middle" font-weight="normal" textLength="54" lengthAdjust="spacingAndGlyphs">Year</text>
<text x="0" y="0" font-size="28" fill="#231f20" text-anchor="middle" transform="translate(1096.5,1575.8) rotate(-90)" textLength="360" lengthAdjust="spacingAndGlyphs">Floating-ice-area change (%)</text>
<text x="1077" y="1335.5" font-size="40" fill="#231f20" text-anchor="start" font-weight="bold" >g</text>
<polygon points="1185,2001.2 1187,2000.7 1189,2001.4 1191,2000 1193,2000.9 1195,2001.5 1197,2000.6 1199,2000.6 1201,1998.6 1203,1998.7 1205,1997.3 1207,1996.6 1209,1995.5 1209.3,1994.3 1211,1995.4 1213,1996.8 1215,1999.2 1217,1999.5 1219,1998.8 1221,2000.8 1223,2000.2 1225,2001.5 1227,2000.6 1229,1999.8 1231,2000.9 1233,1999.4 1233.7,1999.5 1235,2001.4 1237,2002.3 1239,2001.8 1241,2003.3 1243,2002.7 1245,2003.8 1247,2003.7 1249,2005.1 1251,2004 1253,2003.5 1255,2002.5 1257,2001 1258,2001.2 1259,2001 1261,2002.1 1263,2002.4 1265,2003.1 1267,2004.3 1269,2004.3 1271,2007 1273,2006 1275,2005.2 1277,2005.2 1279,2004.1 1281,2003.8 1282.3,2004.2 1283,2004.5 1285,2003.4 1287,2005 1289,2003 1291,2004.8 1293,2005.7 1295,2004.7 1297,2005.6 1299,2003.3 1301,2002.6 1303,2000.8 1305,2000.6 1306.7,2000.4 1307,2001.9 1309,2000.3 1311,2001.4 1313,2002.1 1315,2002.9 1317,2002.7 1319,2003.3 1321,2003.3 1323,2002.9 1325,2001 1327,2002.1 1329,2002.2 1331,2001.9 1333,2000 1335,2002.1 1337,2001 1339,2002.6 1341,2004 1343,2005.2 1345,2004.1 1347,2004.7 1349,2003.9 1351,2003.6 1353,2003.6 1355,2002.9 1355.4,2002.6 1357,2002.5 1359,2004.2 1361,2005.9 1363,2005.4 1365,2006.2 1367,2008.6 1369,2008.2 1371,2007.8 1373,2007.7 1375,2008.8 1377,2009.2 1379,2008.1 1379.7,2007.8 1381,2006.7 1383,2009 1385,2008.3 1387,2010.2 1389,2011.5 1391,2010.4 1393,2012 1395,2012.5 1397,2012 1399,2012.3 1401,2010.4 1403,2010.2 1404,2009.3 1405,2009.9 1407,2008.4 1409,2009 1411,2010 1413,2009.2 1415,2008.7 1416.2,2007.3 1417,2007.6 1419,2008.5 1421,2007.9 1423,2006.9 1425,2006 1427,2004.3 1429,2004.1 1431,2005.6 1433,2006.5 1435,2006.3 1437,2006.1 1439,2005.9 1441,2006.1 1443,2007.3 1445,2008 1447,2007.2 1449,2005 1451,2004.9 1452.7,2004.5 1453,2004.3 1455,2004.3 1457,2005.3 1459,2004.7 1461,2005.4 1463,2004.9 1465,2006.2 1467,2007.8 1469,2007.1 1471,2005.3 1473,2005.5 1475,2004.3 1477,2004.1 1479,2002.8 1481,2004.1 1483,2003.6 1485,2004.5 1487,2004.7 1489,2006.3 1491,2006.6 1493,2006.5 1495,2004.6 1497,2004.4 1499,2004.3 1501,2004.4 1501.4,2003.4 1503,2004.2 1505,2004.1 1507,2003.8 1509,2004.7 1511,2005.4 1513,2005.3 1515,2005.8 1517,2004.8 1519,2005.3 1521,2005.1 1523,2004.1 1525,2004.4 1527,2004 1529,2003.5 1531,2002.5 1533,2004.3 1535,2004.7 1537,2005.6 1539,2005.4 1541,2005.6 1543,2005.3 1545,2004.7 1547,2004.9 1549,2003.2 1550,2003.2 1551,2003.3 1553,2002.9 1555,2002.4 1557,2004.1 1559,2005 1561,2004.4 1563,2005.5 1565,2005.1 1567,2004.2 1569,2004.3 1571,2004.6 1573,2003.7 1575,2002.8 1577,2001.5 1579,2002.9 1581,2003.8 1583,2005.2 1585,2005.6 1587,2004.9 1589,2006.6 1591,2004.7 1593,2005.5 1595,2004.9 1597,2004.3 1599,2002.6 1600,2003.5 1601,2002.1 1603,2001.5 1605,2003.4 1607,2002.8 1609,2003.4 1611,2002.7 1613,2003.3 1615,2004.2 1617,2003.4 1619,2001.5 1621,2000.8 1623,1999 1624.6,1997.7 1625,1997.3 1627,1998.6 1629,1999.7 1631,2001 1633,2001.1 1635,2000.8 1637,2001.1 1639,2003.1 1641,2001.1 1643,2000.6 1645,2000.5 1647,2000 1649,1999 1651,2000.1 1653,2001.4 1655,2000.7 1657,2000.9 1659,2001 1661,2002.1 1663,2004.4 1665,2002.9 1667,2003.3 1669,2002.4 1671,2001.5 1673,2000.9 1673.9,2002.3 1675,2001.2 1677,2001.3 1679,2001.1 1681,2002.6 1683,2002.1 1685,2002.5 1687,2003.5 1689,2002.3 1691,2002.5 1693,2001.5 1695,2000.9 1697,2001.8 1699,2001.6 1701,1999.7 1703,2000.8 1705,2000.6 1707,2002.6 1709,2003.1 1711,2002.5 1713,2002.1 1715,2001.1 1717,2002.3 1719,2000.8 1721,2001.2 1723,2000.3 1725,2000.1 1727,2000.1 1729,2001 1731,2000.7 1733,2002.7 1735,2002.1 1735.4,2002.5 1737,2001.9 1739,2001.1 1741,2001.4 1743,2001.3 1745,2000.7 1747,2000.6 1749,1999.4 1751,1998.8 1753,2000.2 1755,2001.8 1757,2003.3 1759,2003.5 1761,2002.9 1763,2001.4 1765,2002.8 1767,2002 1769,2001.6 1771,2000.8 1773,1999.7 1775,2000 1777,2002.1 1779,2002.1 1781,2002.5 1783,2003.5 1785,2002.5 1787,2002.8 1789,2003.8 1791,2001.9 1793,2002.5 1795,2001.2 1797,2000 1799,2000.2 1801,2002.3 1803,2003.1 1805,2001.7 1807,2002.4 1809,2003.1 1811,2003.4 1813,2002.8 1815,2001.8 1817,2001.6 1819,2001.2 1821,1999.3 1823,1999.9 1825,2001.9 1827,2002.1 1829,2001.8 1831,2000.8 1833,2002.9 1835,2004 1837,2003.7 1839,2002.3 1841,2000.1 1843,2001.1 1845,1999.6 1847,2000.5 1849,2001.6 1851,2001.2 1853,2000.1 1855,2000.8 1857,2002.8 1858.5,2001.8 1859,2002.8 1861,2001.8 1863,2000.3 1865,2000.4 1867,1998.7 1869,1998.6 1871,1998.8 1873,1998.2 1875,1998 1877,1999.1 1879,1999.9 1881,2000.9 1883,1999.9 1885,1999.8 1887,1998.5 1888,1998.7 1889,1998.3 1891,1999.3 1893,1998.3 1895,1997.5 1897,1998.8 1899,1998 1901,1999.6 1903,2000.5 1905,2002.5 1907,2002.5 1909,2002.5 1911,2001.1 1913,2001.4 1915,2001 1917,2002 1919,2001.1 1920,1999.9 1921,1999.9 1923,2000.4 1925,2001.9 1927,2001.9 1929,2003.7 1931,2003.8 1933,2002.4 1935,2002.7 1937,2001.3 1939,2001.3 1941,2001.7 1943,1999.9 1945,2000.1 1947,1999.8 1949,2000.6 1951,2002.6 1953,2001.6 1955,2003 1957,2001.7 1959,2001.4 1961,2002.9 1963,2002.1 1965,2000.3 1967,1998.9 1969,1999.7 1969.3,1999 1971,2000.1 1973,1999.8 1975,2001.5 1977,2001.2 1979,2000.9 1981,2001.4 1983,2002 1985,2001.3 1987,2000.9 1989,1999.5 1991,1999.9 1993,1998.9 1995,1999.7 1997,1999.8 1999,2001.1 2001,2000.4 2003,2000.6 2005,2001.1 2007,2001.8 2009,2000.9 2011,1999.6 2013,1998.6 2014.8,1998.2 2014.8,2092.2 2013,2094.6 2011,2095.6 2009,2098.2 2007,2100.1 2005,2100.8 2003.7,2102.7 2003,2102.2 2001,2101.6 1999,2101.9 1997,2100.6 1995,2101.7 1993,2100 1991,2100.4 1989,2099.3 1987,2098.4 1985,2097.6 1983,2098.1 1981.6,2097.9 1981,2098.7 1979,2099.8 1977,2102.7 1975,2103.2 1973,2106.6 1971,2107 1969.3,2110 1969,2109.4 1967,2105.7 1965,2104.8 1963,2101.7 1961,2098.7 1959,2096.4 1957,2093.9 1955,2089.9 1953,2087.9 1951,2086 1949,2083.5 1947,2079.9 1945,2077.9 1944.7,2076.3 1943,2080.1 1941,2081.6 1939,2083.7 1937,2086.5 1935,2087.2 1933,2091.8 1931,2093.2 1929,2094.8 1927.4,2096.2 1927,2100.8 1925,2113.7 1923,2127 1921,2142.2 1920,2149.4 1919,2147.8 1917,2144.1 1915,2141.1 1913,2137.7 1911,2136 1909,2133 1907,2129.8 1905,2128.4 1903,2123.2 1901,2120.4 1900,2121 1899,2118.6 1897,2118.9 1895,2116.6 1893,2115.4 1891,2115.7 1889,2115.7 1887,2114.3 1885,2112.5 1883,2112.1 1881,2110.6 1880,2109.6 1879,2108.5 1877,2108.1 1875,2106.8 1873,2107.1 1871,2106.3 1869,2103.5 1867,2102.4 1865,2102.4 1863,2101 1861,2100.4 1860,2100.8 1859,2099.1 1857,2099 1855,2100.2 1853,2100.5 1851,2100.6 1849,2099.7 1847,2101.9 1845,2100.7 1843,2100.6 1841,2101.7 1839,2102.3 1837,2101.6 1835,2101.1 1833.9,2102.2 1833,2103.1 1831,2105.7 1829,2107.1 1827,2110.5 1825,2112.9 1823,2114.1 1821.6,2117.7 1821,2115.5 1819,2115.2 1817,2112.1 1815,2111.4 1813,2109 1811,2108.1 1809.3,2106.1 1809,2107 1807,2110.3 1805,2112.1 1803,2113.9 1801,2118 1799,2121.1 1797,2123.4 1795,2125.1 1793,2128.4 1792,2130.2 1791,2128.8 1789,2128.3 1787,2126.9 1785,2123.8 1783,2123.8 1781,2122.7 1779,2120.2 1777,2120 1775,2117.5 1773,2116 1772.3,2117.7 1771,2118.7 1769,2124.7 1767,2130.2 1765,2135 1763,2138.6 1761,2143.1 1759,2148.5 1757.6,2152 1757,2150.2 1755,2143.2 1753,2137.1 1751,2131.8 1749,2124.6 1747.7,2122 1747,2121.4 1745,2122.5 1743,2125.1 1741,2127 1739,2128.8 1737,2130.4 1735,2130.9 1733,2132.7 1731,2134.6 1730.5,2133.5 1729,2129.1 1727,2120 1725,2112 1723.1,2103.9 1723,2105.6 1721,2108.1 1719,2112.9 1717,2115.8 1715,2119.6 1713,2125 1711,2129.7 1710.8,2128.1 1709,2131.3 1707,2132.6 1705,2134.7 1703,2136.4 1701,2137.7 1699,2139.5 1697,2141.2 1695,2141.4 1693.5,2143.4 1693,2143.4 1691,2138.1 1689,2132.2 1687,2126.5 1685,2120.6 1683,2115.9 1681,2111.4 1679,2106.7 1677,2100.1 1675,2095.8 1673.9,2091.2 1673,2094 1671,2096.8 1669,2100.8 1667,2105.1 1665,2110.4 1663,2114.2 1661.5,2115.6 1661,2118.1 1659,2122.6 1657,2126.8 1655,2130.3 1653,2136 1651,2140.3 1649,2143.7 1647,2149 1645,2151.9 1644.3,2154.4 1643,2150.8 1641,2148.1 1639,2145 1637,2139.8 1635,2138.3 1633,2132.8 1631,2129.8 1629,2128 1627,2123.2 1625,2121 1624.6,2118.7 1623,2115.7 1621,2111.1 1619,2107.8 1617,2104.5 1615,2101.1 1613,2101.9 1611,2104.1 1609,2107.8 1607,2108.2 1606,2109.5 1605,2107.9 1603,2106 1601,2103.8 1599,2102.5 1597,2099.3 1595,2096.7 1593.9,2096.3 1593,2097.2 1591,2098.9 1589,2100.1 1587,2100.4 1585,2103.9 1583,2104.6 1581,2106.9 1579.3,2108.1 1579,2106.4 1577,2106.2 1575,2101.7 1573,2100 1571,2099 1569,2096.4 1567,2092.7 1565,2091.1 1564.6,2089.9 1563,2090.7 1561,2090.3 1559,2090.3 1557,2090.7 1555,2091.3 1553,2092.2 1551,2091.2 1549,2092.5 1547,2092.8 1545.2,2093.2 1545,2094.2 1543,2113 1541,2131.7 1540.3,2138.7 1539,2142 1537,2144.4 1535,2148.3 1533,2151.1 1531,2156.7 1530.6,2156.7 1529,2119.6 1528.1,2098.6 1527,2097.8 1525,2097.8 1523,2095.4 1521,2095.4 1520.8,2096.2 1519,2101.7 1517,2111.1 1516,2115.1 1515,2119 1513,2126.4 1511,2135.7 1509,2143.4 1507,2151.7 1505,2158.8 1503.8,2163.9 1503,2159 1501,2146.6 1499,2136 1498.9,2135.7 1497,2176.6 1496.5,2188.7 1495,2191.1 1493,2195.9 1491,2198.7 1489,2203 1487,2208.8 1485,2212.5 1483,2215.7 1481.9,2218.7 1481,2204.4 1479,2172.4 1477,2140.4 1475,2133.3 1473,2129.6 1471,2123.7 1469,2118.7 1467.3,2115.6 1467,2115.1 1465,2112.7 1463,2109.3 1461,2107 1459,2102.8 1457,2101.2 1455,2098.1 1453,2096.7 1452.7,2094.8 1451,2093.7 1449,2091.2 1447,2091.4 1445,2088.5 1443,2086 1441,2084.9 1439,2082.9 1437,2082.1 1435,2080.4 1433,2078.7 1431,2075.5 1429,2073.7 1428.4,2073 1427,2072.1 1425,2072 1423,2070.7 1421,2068.3 1419,2067.8 1417,2065.7 1415,2066.1 1413,2064.4 1411,2062.5 1409,2061.7 1407,2059.8 1405,2060 1403,2057.8 1401,2056.2 1399,2055.4 1397,2054.3 1395,2052.9 1393,2053.1 1391,2051.2 1389,2049.4 1387,2047.9 1385,2048 1384.6,2046.7 1383,2046.5 1381,2046.4 1379,2045.5 1377,2045.2 1375,2044.8 1373,2044.6 1371,2044.5 1369,2043.9 1367,2042.1 1365,2041 1363,2040.4 1361,2040.8 1359,2039.7 1357,2040.5 1355.4,2040.6 1355,2038.6 1353,2040 1351,2038.5 1349,2038.7 1347,2040.1 1345,2039.8 1343,2038.5 1341,2038.8 1339,2040 1337,2039.2 1335,2039.9 1333,2039.3 1331,2039.1 1329,2039 1327,2041 1325,2040.3 1323,2039.8 1321,2039.6 1319,2039.7 1317,2040.4 1315,2040.7 1313,2042.2 1311,2040.7 1309,2042.6 1307,2042.1 1305,2042 1303,2042.7 1301,2041.4 1299,2043 1297,2043.9 1295,2044.1 1293,2043.1 1291,2043.8 1289,2044.9 1287,2042.8 1285,2045.1 1283,2044.4 1282.3,2044.8 1281,2044.2 1279,2043.4 1277,2043.5 1275,2040.9 1273,2041 1271,2041.2 1269,2040.6 1267,2039 1265,2039.2 1263,2037.4 1261,2036.9 1259,2036.8 1257,2035.2 1255,2035.5 1253.1,2034.4 1253,2033.5 1251,2033.3 1249,2033.9 1247,2032.8 1245,2032.7 1243,2032.7 1241,2030.6 1239,2030 1237,2030.1 1235,2029.2 1233,2029.8 1231,2029 1229,2027.3 1227,2027.6 1225,2026.8 1223,2026.8 1221,2026.7 1219,2023.9 1217,2025.2 1215,2023.6 1213,2022.8 1211,2022.3 1209,2021.9 1207,2021.2 1205,2021.7 1203,2020.9 1201,2019.5 1199,2020.4 1197,2018.4 1195,2019 1193,2018.3 1191,2017.3 1189,2016.4 1187,2016.7 1185,2014" fill="#e95c48" />
<polygon points="1185,2001.2 1187,2000.7 1189,2001.4 1191,2000 1193,2000.9 1195,2001.5 1197,2000.6 1199,2000.6 1201,1998.6 1203,1998.7 1205,1997.3 1207,1996.6 1209,1995.5 1209.3,1994.3 1211,1995.4 1213,1996.8 1215,1999.2 1217,1999.5 1219,1998.8 1221,2000.8 1223,2000.2 1225,2001.5 1227,2000.6 1229,1999.8 1231,2000.9 1233,1999.4 1233.7,1999.5 1235,2001.4 1237,2002.3 1239,2001.8 1241,2003.3 1243,2002.7 1245,2003.8 1247,2003.7 1249,2005.1 1251,2004 1253,2003.5 1255,2002.5 1257,2001 1258,2001.2 1259,2001 1261,2002.1 1263,2002.4 1265,2003.1 1267,2004.3 1269,2004.3 1271,2007 1273,2006 1275,2005.2 1277,2005.2 1279,2004.1 1281,2003.8 1282.3,2004.2 1283,2004.5 1285,2003.4 1287,2005 1289,2003 1291,2004.8 1293,2005.7 1295,2004.7 1297,2005.6 1299,2003.3 1301,2002.6 1303,2000.8 1305,2000.6 1306.7,2000.4 1307,2001.9 1309,2000.3 1311,2001.4 1313,2002.1 1315,2002.9 1317,2002.7 1319,2003.3 1321,2003.3 1323,2002.9 1325,2001 1327,2002.1 1329,2002.2 1331,2001.9 1333,2000 1335,2002.1 1337,2001 1339,2002.6 1341,2004 1343,2005.2 1345,2004.1 1347,2004.7 1349,2003.9 1351,2003.6 1353,2003.6 1355,2002.9 1355.4,2002.6 1357,2002.5 1359,2004.2 1361,2005.9 1363,2005.4 1365,2006.2 1367,2008.6 1369,2008.2 1371,2007.8 1373,2007.7 1375,2008.8 1377,2009.2 1379,2008.1 1379.7,2007.8 1381,2006.7 1383,2009 1385,2008.3 1387,2010.2 1389,2011.5 1391,2010.4 1393,2012 1395,2012.5 1397,2012 1399,2012.3 1401,2010.4 1403,2010.2 1404,2009.3 1405,2009.9 1407,2008.4 1409,2009 1411,2010 1413,2009.2 1415,2008.7 1416.2,2007.3 1417,2007.6 1419,2008.5 1421,2007.9 1423,2006.9 1425,2006 1427,2004.3 1429,2004.1 1431,2005.6 1433,2006.5 1435,2006.3 1437,2006.1 1439,2005.9 1441,2006.1 1443,2007.3 1445,2008 1447,2007.2 1449,2005 1451,2004.9 1452.7,2004.5 1453,2004.3 1455,2004.3 1457,2005.3 1459,2004.7 1461,2005.4 1463,2004.9 1465,2006.2 1467,2007.8 1469,2007.1 1471,2005.3 1473,2005.5 1475,2004.3 1477,2004.1 1479,2002.8 1481,2004.1 1483,2003.6 1485,2004.5 1487,2004.7 1489,2006.3 1491,2006.6 1493,2006.5 1495,2004.6 1497,2004.4 1499,2004.3 1501,2004.4 1501.4,2003.4 1503,2004.2 1505,2004.1 1507,2003.8 1509,2004.7 1511,2005.4 1513,2005.3 1515,2005.8 1517,2004.8 1519,2005.3 1521,2005.1 1523,2004.1 1525,2004.4 1527,2004 1529,2003.5 1531,2002.5 1533,2004.3 1535,2004.7 1537,2005.6 1539,2005.4 1541,2005.6 1543,2005.3 1545,2004.7 1547,2004.9 1549,2003.2 1550,2003.2 1551,2003.3 1553,2002.9 1555,2002.4 1557,2004.1 1559,2005 1561,2004.4 1563,2005.5 1565,2005.1 1567,2004.2 1569,2004.3 1571,2004.6 1573,2003.7 1575,2002.8 1577,2001.5 1579,2002.9 1581,2003.8 1583,2005.2 1585,2005.6 1587,2004.9 1589,2006.6 1591,2004.7 1593,2005.5 1595,2004.9 1597,2004.3 1599,2002.6 1600,2003.5 1601,2002.1 1603,2001.5 1605,2003.4 1607,2002.8 1609,2003.4 1611,2002.7 1613,2003.3 1615,2004.2 1617,2003.4 1619,2001.5 1621,2000.8 1623,1999 1624.6,1997.7 1625,1997.3 1627,1998.6 1629,1999.7 1631,2001 1633,2001.1 1635,2000.8 1637,2001.1 1639,2003.1 1641,2001.1 1643,2000.6 1645,2000.5 1647,2000 1649,1999 1651,2000.1 1653,2001.4 1655,2000.7 1657,2000.9 1659,2001 1661,2002.1 1663,2004.4 1665,2002.9 1667,2003.3 1669,2002.4 1671,2001.5 1673,2000.9 1673.9,2002.3 1675,2001.2 1677,2001.3 1679,2001.1 1681,2002.6 1683,2002.1 1685,2002.5 1687,2003.5 1689,2002.3 1691,2002.5 1693,2001.5 1695,2000.9 1697,2001.8 1699,2001.6 1701,1999.7 1703,2000.8 1705,2000.6 1707,2002.6 1709,2003.1 1711,2002.5 1713,2002.1 1715,2001.1 1717,2002.3 1719,2000.8 1721,2001.2 1723,2000.3 1725,2000.1 1727,2000.1 1729,2001 1731,2000.7 1733,2002.7 1735,2002.1 1735.4,2002.5 1737,2001.9 1739,2001.1 1741,2001.4 1743,2001.3 1745,2000.7 1747,2000.6 1749,1999.4 1751,1998.8 1753,2000.2 1755,2001.8 1757,2003.3 1759,2003.5 1761,2002.9 1763,2001.4 1765,2002.8 1767,2002 1769,2001.6 1771,2000.8 1773,1999.7 1775,2000 1777,2002.1 1779,2002.1 1781,2002.5 1783,2003.5 1785,2002.5 1787,2002.8 1789,2003.8 1791,2001.9 1793,2002.5 1795,2001.2 1797,2000 1799,2000.2 1801,2002.3 1803,2003.1 1805,2001.7 1807,2002.4 1809,2003.1 1811,2003.4 1813,2002.8 1815,2001.8 1817,2001.6 1819,2001.2 1821,1999.3 1823,1999.9 1825,2001.9 1827,2002.1 1829,2001.8 1831,2000.8 1833,2002.9 1835,2004 1837,2003.7 1839,2002.3 1841,2000.1 1843,2001.1 1845,1999.6 1847,2000.5 1849,2001.6 1851,2001.2 1853,2000.1 1855,2000.8 1857,2002.8 1858.5,2001.8 1859,2002.8 1861,2001.8 1863,2000.3 1865,2000.4 1867,1998.7 1869,1998.6 1871,1998.8 1873,1998.2 1875,1998 1877,1999.1 1879,1999.9 1881,2000.9 1883,1999.9 1885,1999.8 1887,1998.5 1888,1998.7 1889,1998.3 1891,1999.3 1893,1998.3 1895,1997.5 1897,1998.8 1899,1998 1901,1999.6 1903,2000.5 1905,2002.5 1907,2002.5 1909,2002.5 1911,2001.1 1913,2001.4 1915,2001 1917,2002 1919,2001.1 1920,1999.9 1921,1999.9 1923,2000.4 1925,2001.9 1927,2001.9 1929,2003.7 1931,2003.8 1933,2002.4 1935,2002.7 1937,2001.3 1939,2001.3 1941,2001.7 1943,1999.9 1945,2000.1 1947,1999.8 1949,2000.6 1951,2002.6 1953,2001.6 1955,2003 1957,2001.7 1959,2001.4 1961,2002.9 1963,2002.1 1965,2000.3 1967,1998.9 1969,1999.7 1969.3,1999 1971,2000.1 1973,1999.8 1975,2001.5 1977,2001.2 1979,2000.9 1981,2001.4 1983,2002 1985,2001.3 1987,2000.9 1989,1999.5 1991,1999.9 1993,1998.9 1995,1999.7 1997,1999.8 1999,2001.1 2001,2000.4 2003,2000.6 2005,2001.1 2007,2001.8 2009,2000.9 2011,1999.6 2013,1998.6 2014.8,1998.2 2014.8,2091.5 2013,2094.3 2011,2096.2 2009,2097 2007,2100.1 2005,2101.6 2003.7,2103.7 2003,2103.9 2001,2103.4 1999,2104.3 1997,2103.7 1995,2103.6 1993,2104.2 1991,2105.9 1989,2105.8 1987,2105.5 1985,2105.7 1983,2106.7 1981.6,2107.7 1981,2105.5 1979,2106.2 1977,2104.7 1975,2102.9 1973,2102.8 1971,2100.7 1969,2100.8 1967,2098.5 1965,2099.1 1963,2097.1 1961,2094.9 1959,2095 1957,2093.9 1955,2093.9 1953,2092.7 1951,2090.4 1949,2089.7 1947,2088.4 1945,2087.9 1944.7,2087.2 1943,2090.5 1941,2094.3 1939,2096.8 1937,2099.4 1935,2103.3 1933,2105.7 1931,2108.7 1929,2112 1927,2116.3 1925,2119.7 1923,2121.8 1921,2125.9 1920,2125.5 1919,2128.6 1917,2130 1915,2132.7 1913,2137.1 1911,2139.4 1909,2142.4 1907,2145.8 1905,2146.9 1903,2150.5 1902.8,2150.9 1901,2147.8 1899,2145.5 1897,2143.3 1895,2140.1 1893,2137.6 1891,2134.3 1889,2132.1 1887,2128.2 1885,2125.9 1883,2122.3 1881,2120.1 1880.6,2119.3 1879,2116.7 1877,2115.8 1875,2112 1873,2109.2 1871,2108.1 1870.8,2106.8 1869,2106 1867,2106.1 1865,2103.9 1863,2103.6 1861,2102 1859,2102.5 1857,2102.3 1855,2100.6 1853,2099 1851,2098.5 1849,2098.7 1847,2097.1 1846.2,2096 1845,2097.7 1843,2099 1841,2101.6 1839,2103.9 1837,2105.5 1835,2106.1 1833,2108.1 1831,2109 1829,2109.6 1827,2111.6 1825,2115 1823,2116.6 1821.6,2117.5 1821,2116.7 1819,2119.2 1817,2121.1 1815,2122.8 1813,2125.8 1811.7,2126 1811,2127 1809,2124.6 1807,2123.3 1805,2124.1 1803,2121.2 1801,2121.4 1799,2119.4 1797,2118.5 1795,2117.5 1793,2115.6 1791,2115.1 1789,2115.4 1787,2114.1 1785,2112.6 1784.6,2112.9 1783,2112.5 1781,2115.1 1779,2118.4 1777,2119.3 1775,2121.4 1774.8,2121.9 1773,2141 1771,2162.2 1769.9,2172.2 1769,2172.6 1767,2172.6 1765,2172.9 1763,2172 1761,2171.9 1760,2171.9 1759,2169.3 1757,2166.4 1755,2161.5 1753,2159.4 1751,2154.8 1749,2151.6 1747,2149.6 1745,2146.4 1743,2143 1741,2138.4 1739,2135.7 1737,2131.8 1735,2129.3 1733,2124.9 1731,2121.6 1730.5,2122.5 1729,2119.3 1727,2118.2 1725,2113.9 1723,2112.8 1721,2109.7 1719,2107.1 1717,2105.8 1715,2102 1713,2100.2 1711,2097.7 1710.8,2096.7 1709,2098.3 1707,2097.9 1705,2100.4 1703,2100.9 1701,2102.3 1699,2101.1 1697,2103.4 1695,2103.8 1693.5,2104.6 1693,2103.3 1691,2103.3 1689,2100.4 1687,2099.9 1685,2099.1 1683,2098.3 1681,2096.6 1679,2094.4 1677,2094.7 1675,2092.6 1673.9,2090.9 1673,2093.2 1671,2095.2 1669,2096.4 1667,2096.9 1665,2099.1 1663,2100.8 1661,2102 1659,2104.1 1657,2106.4 1655,2107 1653,2109 1651,2110.7 1649.2,2112.6 1649,2111.8 1647,2108.7 1645,2108.7 1643,2107 1641,2105 1639,2102.1 1637,2101.5 1635,2097.9 1633,2096.5 1631,2094.9 1629,2092.6 1627,2091.3 1625,2089 1624.6,2090.8 1623,2090.9 1621,2092.1 1619,2092.3 1617,2094.3 1615,2095.3 1613,2096.2 1611,2096.7 1609,2099.9 1607,2099 1605,2100.4 1603,2101.5 1601,2103.7 1600,2104.3 1599,2105.9 1598.7,2104.1 1597,2103.7 1595,2103.6 1593,2103.9 1591,2102.4 1589,2101 1587,2100.8 1586.6,2099.8 1585,2099.2 1583,2097.1 1581,2097.8 1579,2095.8 1577,2094.9 1575,2094.3 1573,2093.2 1571,2090 1569,2089.9 1567,2088.5 1565,2087.9 1563,2087.3 1562.2,2086.9 1561,2085.9 1559,2087.2 1557,2088.1 1555,2088.3 1553,2089.1 1551,2090.2 1549,2089.2 1547,2090.2 1545.2,2091.3 1545,2090.1 1543,2089.1 1541,2087.4 1539,2086.1 1537,2082.6 1535,2082 1533,2080.2 1531,2079 1529,2077 1527,2075.8 1525.7,2073.7 1525,2073.6 1523,2075.1 1521,2077 1519,2076.6 1517,2079 1515,2078.4 1513,2080.1 1511,2080.2 1509,2082.4 1507,2082.7 1505,2084.9 1503,2084.7 1501.4,2085.7 1501,2086.3 1499,2092.6 1497,2096.6 1495,2101.8 1494.1,2102.5 1493,2108.5 1491,2119.5 1489,2129.7 1487,2140.8 1486.8,2141.2 1485,2140 1483,2135.9 1481,2132.2 1479,2130.6 1477,2127.6 1475,2122.5 1473,2120.3 1471,2116.1 1469,2112.6 1467,2109.9 1465,2105.1 1464.9,2104.3 1463,2103.5 1461,2102.3 1459,2100.7 1457,2097.8 1455,2095.7 1453,2093.6 1451,2092.6 1449,2090.6 1447,2087.6 1445,2087.7 1443,2084.8 1441,2082.6 1439,2080.6 1437,2078.6 1435,2076.4 1433,2076.6 1431,2072.6 1429,2072.1 1428.4,2071.6 1427,2069.2 1425,2067.7 1423,2066.4 1421,2064.4 1419,2062.4 1417,2061.4 1415,2058.6 1413,2058.5 1411,2054.8 1410,2055.1 1409,2054.4 1407,2052.8 1405,2054.6 1403,2052.8 1401,2052.9 1399,2052.4 1397,2050.8 1395,2050.8 1393,2048.9 1391,2047.8 1389,2048.2 1387,2047.6 1385,2047.6 1384.6,2046.3 1383,2046.4 1381,2043.2 1379,2042.5 1377,2042.2 1375,2040.3 1374.8,2040.1 1373,2038.4 1371,2037.4 1369,2036.9 1367,2037.1 1365,2035.5 1363,2035.5 1361,2033.5 1359,2034.3 1357,2032.8 1355.4,2033.3 1355,2032.8 1353,2032 1351,2031.7 1349,2033.6 1347,2032.9 1345,2033.3 1343,2032.5 1341,2032.7 1339,2033.7 1337,2033.4 1335,2034.2 1333,2032.7 1331,2032.4 1329,2033.2 1327,2034.6 1325,2034.1 1323,2033.7 1321,2034.1 1319,2034.2 1317,2033.2 1315,2035.3 1313,2033.3 1311,2035.4 1309,2033.8 1307,2034.4 1306.7,2034.8 1305,2034.6 1303,2034.5 1301,2035.6 1299,2035.3 1297,2034.8 1295,2036.2 1293,2037 1291,2036.5 1289,2036.3 1287,2037.2 1285,2037.1 1283,2037.1 1281,2038.4 1279,2038 1277,2038.2 1275,2038.1 1273,2039.5 1271,2040.1 1269,2038.9 1267,2038.5 1265,2038.8 1263,2040.4 1261,2040.2 1259,2039.5 1257,2040.3 1255,2040.9 1253,2042.2 1251,2040.9 1249,2043 1248.3,2040.8 1247,2039.1 1245,2038 1243,2034.6 1241,2031 1239,2028.7 1238.5,2027.2 1237,2026.8 1235,2026.4 1233,2026.4 1231,2026.1 1229,2026.2 1227,2023.8 1225,2025.2 1223,2023.9 1221,2023 1219,2022.4 1217,2023.1 1215,2023.2 1213,2021.3 1211,2022.2 1209,2021.8 1207,2021 1205,2020.7 1203,2019.7 1201,2018.6 1199,2018.6 1197,2017.1 1195,2018.3 1193,2016.2 1191,2015.4 1189,2015.7 1187,2014.7 1185,2015.6" fill="#e8975a" />
<polygon points="1185,2001.2 1187,2000.7 1189,2001.4 1191,2000 1193,2000.9 1195,2001.5 1197,2000.6 1199,2000.6 1201,1998.6 1203,1998.7 1205,1997.3 1207,1996.6 1209,1995.5 1209.3,1994.3 1211,1995.4 1213,1996.8 1215,1999.2 1217,1999.5 1219,1998.8 1221,2000.8 1223,2000.2 1225,2001.5 1227,2000.6 1229,1999.8 1231,2000.9 1233,1999.4 1233.7,1999.5 1235,2001.4 1237,2002.3 1239,2001.8 1241,2003.3 1243,2002.7 1245,2003.8 1247,2003.7 1249,2005.1 1251,2004 1253,2003.5 1255,2002.5 1257,2001 1258,2001.2 1259,2001 1261,2002.1 1263,2002.4 1265,2003.1 1267,2004.3 1269,2004.3 1271,2007 1273,2006 1275,2005.2 1277,2005.2 1279,2004.1 1281,2003.8 1282.3,2004.2 1283,2004.5 1285,2003.4 1287,2005 1289,2003 1291,2004.8 1293,2005.7 1295,2004.7 1297,2005.6 1299,2003.3 1301,2002.6 1303,2000.8 1305,2000.6 1306.7,2000.4 1307,2001.9 1309,2000.3 1311,2001.4 1313,2002.1 1315,2002.9 1317,2002.7 1319,2003.3 1321,2003.3 1323,2002.9 1325,2001 1327,2002.1 1329,2002.2 1331,2001.9 1333,2000 1335,2002.1 1337,2001 1339,2002.6 1341,2004 1343,2005.2 1345,2004.1 1347,2004.7 1349,2003.9 1351,2003.6 1353,2003.6 1355,2002.9 1355.4,2002.6 1357,2002.5 1359,2004.2 1361,2005.9 1363,2005.4 1365,2006.2 1367,2008.6 1369,2008.2 1371,2007.8 1373,2007.7 1375,2008.8 1377,2009.2 1379,2008.1 1379.7,2007.8 1381,2006.7 1383,2009 1385,2008.3 1387,2010.2 1389,2011.5 1391,2010.4 1393,2012 1395,2012.5 1397,2012 1399,2012.3 1401,2010.4 1403,2010.2 1404,2009.3 1405,2009.9 1407,2008.4 1409,2009 1411,2010 1413,2009.2 1415,2008.7 1416.2,2007.3 1417,2007.6 1419,2008.5 1421,2007.9 1423,2006.9 1425,2006 1427,2004.3 1429,2004.1 1431,2005.6 1433,2006.5 1435,2006.3 1437,2006.1 1439,2005.9 1441,2006.1 1443,2007.3 1445,2008 1447,2007.2 1449,2005 1451,2004.9 1452.7,2004.5 1453,2004.3 1455,2004.3 1457,2005.3 1459,2004.7 1461,2005.4 1463,2004.9 1465,2006.2 1467,2007.8 1469,2007.1 1471,2005.3 1473,2005.5 1475,2004.3 1477,2004.1 1479,2002.8 1481,2004.1 1483,2003.6 1485,2004.5 1487,2004.7 1489,2006.3 1491,2006.6 1493,2006.5 1495,2004.6 1497,2004.4 1499,2004.3 1501,2004.4 1501.4,2003.4 1503,2004.2 1505,2004.1 1507,2003.8 1509,2004.7 1511,2005.4 1513,2005.3 1515,2005.8 1517,2004.8 1519,2005.3 1521,2005.1 1523,2004.1 1525,2004.4 1527,2004 1529,2003.5 1531,2002.5 1533,2004.3 1535,2004.7 1537,2005.6 1539,2005.4 1541,2005.6 1543,2005.3 1545,2004.7 1547,2004.9 1549,2003.2 1550,2003.2 1551,2003.3 1553,2002.9 1555,2002.4 1557,2004.1 1559,2005 1561,2004.4 1563,2005.5 1565,2005.1 1567,2004.2 1569,2004.3 1571,2004.6 1573,2003.7 1575,2002.8 1577,2001.5 1579,2002.9 1581,2003.8 1583,2005.2 1585,2005.6 1587,2004.9 1589,2006.6 1591,2004.7 1593,2005.5 1595,2004.9 1597,2004.3 1599,2002.6 1600,2003.5 1601,2002.1 1603,2001.5 1605,2003.4 1607,2002.8 1609,2003.4 1611,2002.7 1613,2003.3 1615,2004.2 1617,2003.4 1619,2001.5 1621,2000.8 1623,1999 1624.6,1997.7 1625,1997.3 1627,1998.6 1629,1999.7 1631,2001 1633,2001.1 1635,2000.8 1637,2001.1 1639,2003.1 1641,2001.1 1643,2000.6 1645,2000.5 1647,2000 1649,1999 1651,2000.1 1653,2001.4 1655,2000.7 1657,2000.9 1659,2001 1661,2002.1 1663,2004.4 1665,2002.9 1667,2003.3 1669,2002.4 1671,2001.5 1673,2000.9 1673.9,2002.3 1675,2001.2 1677,2001.3 1679,2001.1 1681,2002.6 1683,2002.1 1685,2002.5 1687,2003.5 1689,2002.3 1691,2002.5 1693,2001.5 1695,2000.9 1697,2001.8 1699,2001.6 1701,1999.7 1703,2000.8 1705,2000.6 1707,2002.6 1709,2003.1 1711,2002.5 1713,2002.1 1715,2001.1 1717,2002.3 1719,2000.8 1721,2001.2 1723,2000.3 1725,2000.1 1727,2000.1 1729,2001 1731,2000.7 1733,2002.7 1735,2002.1 1735.4,2002.5 1737,2001.9 1739,2001.1 1741,2001.4 1743,2001.3 1745,2000.7 1747,2000.6 1749,1999.4 1751,1998.8 1753,2000.2 1755,2001.8 1757,2003.3 1759,2003.5 1761,2002.9 1763,2001.4 1765,2002.8 1767,2002 1769,2001.6 1771,2000.8 1773,1999.7 1775,2000 1777,2002.1 1779,2002.1 1781,2002.5 1783,2003.5 1785,2002.5 1787,2002.8 1789,2003.8 1791,2001.9 1793,2002.5 1795,2001.2 1797,2000 1799,2000.2 1801,2002.3 1803,2003.1 1805,2001.7 1807,2002.4 1809,2003.1 1811,2003.4 1813,2002.8 1815,2001.8 1817,2001.6 1819,2001.2 1821,1999.3 1823,1999.9 1825,2001.9 1827,2002.1 1829,2001.8 1831,2000.8 1833,2002.9 1835,2004 1837,2003.7 1839,2002.3 1841,2000.1 1843,2001.1 1845,1999.6 1847,2000.5 1849,2001.6 1851,2001.2 1853,2000.1 1855,2000.8 1857,2002.8 1858.5,2001.8 1859,2002.8 1861,2001.8 1863,2000.3 1865,2000.4 1867,1998.7 1869,1998.6 1871,1998.8 1873,1998.2 1875,1998 1877,1999.1 1879,1999.9 1881,2000.9 1883,1999.9 1885,1999.8 1887,1998.5 1888,1998.7 1889,1998.3 1891,1999.3 1893,1998.3 1895,1997.5 1897,1998.8 1899,1998 1901,1999.6 1903,2000.5 1905,2002.5 1907,2002.5 1909,2002.5 1911,2001.1 1913,2001.4 1915,2001 1917,2002 1919,2001.1 1920,1999.9 1921,1999.9 1923,2000.4 1925,2001.9 1927,2001.9 1929,2003.7 1931,2003.8 1933,2002.4 1935,2002.7 1937,2001.3 1939,2001.3 1941,2001.7 1943,1999.9 1945,2000.1 1947,1999.8 1949,2000.6 1951,2002.6 1953,2001.6 1955,2003 1957,2001.7 1959,2001.4 1961,2002.9 1963,2002.1 1965,2000.3 1967,1998.9 1969,1999.7 1969.3,1999 1971,2000.1 1973,1999.8 1975,2001.5 1977,2001.2 1979,2000.9 1981,2001.4 1983,2002 1985,2001.3 1987,2000.9 1989,1999.5 1991,1999.9 1993,1998.9 1995,1999.7 1997,1999.8 1999,2001.1 2001,2000.4 2003,2000.6 2005,2001.1 2007,2001.8 2009,2000.9 2011,1999.6 2013,1998.6 2014.8,1998.2 2014.8,2067 2013,2067.3 2011,2067 2009,2064.4 2007,2064.1 2005,2063.8 2003,2063.5 2001,2062.2 1999,2060.8 1997,2061.6 1995,2061.4 1993.9,2061 1993,2060.7 1991,2061.4 1989,2060.7 1987,2059.6 1985,2060.4 1983,2061.2 1981,2062.4 1979,2060.4 1977,2061.7 1975,2061.7 1973,2061.6 1971,2061.3 1969.3,2063 1969,2063.5 1967,2062.3 1965,2062.2 1963,2063.5 1961,2065.1 1959,2064.4 1957,2065.7 1955,2065.9 1953,2065.3 1951,2065.2 1949,2066.4 1947,2067.7 1945,2067.8 1944.7,2066.6 1943,2067.3 1941,2068.3 1939,2069.4 1937,2070.4 1935,2069.9 1933,2069.3 1931,2069.8 1929,2071.7 1927,2072.1 1925,2072.2 1923,2078.8 1921,2084.3 1919,2089.3 1917,2095.7 1915,2101.6 1913,2108.8 1911,2114.7 1910.2,2115.7 1909,2113.9 1907,2108.7 1905,2103.1 1903,2098.6 1901,2093.6 1899,2088.6 1897,2083 1895.4,2079.3 1895,2079.9 1893,2080.6 1891,2080.9 1889,2079.8 1887,2079.3 1885,2081 1883,2080 1881,2080.2 1879,2079.8 1877,2079.8 1875,2080.2 1873,2080 1871,2079.9 1870.8,2080.8 1869,2091.5 1867,2104.9 1865.9,2111.4 1865,2111.8 1863,2112.8 1861,2113.3 1859,2113.4 1857,2113.3 1855,2113.4 1853.6,2113 1853,2113.2 1851,2106.4 1849,2099.4 1847,2094.8 1846.2,2091.4 1845,2091 1843,2091.1 1841,2091.9 1839,2092.3 1837,2093 1835,2091.5 1833.9,2091.1 1833,2094.3 1831,2096.5 1829,2098.5 1827,2100.7 1825,2104.1 1823,2106.6 1821,2110 1819,2114.4 1817,2116.8 1816.6,2117.1 1815,2114.5 1813,2112 1811,2108.6 1809,2108.2 1807,2104.1 1805,2101.2 1803,2100.8 1801,2096 1799,2093.9 1797,2091.8 1795,2089.5 1793,2085.2 1791,2082.7 1789,2078.5 1787,2076.6 1785,2073.7 1784.6,2072.2 1783,2073.2 1781,2073.4 1779,2074.7 1777,2073.8 1775,2075.5 1773,2075.7 1771,2075.4 1769,2076.6 1767,2076.7 1765,2077.6 1763,2078.1 1761,2079.1 1760,2079.8 1759,2080.7 1757,2083.1 1755,2084.2 1753,2085.6 1751,2087.7 1749,2089.3 1747,2092.1 1745,2092.5 1743,2094.1 1742.8,2094.1 1741,2090.9 1739,2087.2 1737,2084.6 1735,2080 1733,2076.8 1731,2073.6 1729,2071 1727,2066.7 1725,2063.8 1723.1,2060.5 1723,2060.7 1721,2060.5 1719,2059.7 1717,2060.3 1715,2061.2 1713,2061.2 1711,2060.4 1709,2059.7 1707,2060.9 1705,2060.3 1703,2060.1 1701,2059.1 1699,2061 1698.5,2059.8 1697,2059.4 1695,2060.8 1693,2062.9 1691,2062.5 1689,2062.8 1687,2062.9 1685,2063.4 1683,2065.5 1681,2065.2 1679,2066.1 1677,2066.3 1675,2068.3 1673.9,2068.5 1673,2068.9 1671,2070.7 1669,2071.7 1667,2071.6 1665,2073.8 1663,2075.4 1661,2076.4 1659,2076.7 1657,2079.4 1655,2079.5 1653,2082.2 1651,2082.3 1649.2,2083.5 1649,2083.9 1647,2080.8 1645,2074.9 1643,2070.8 1641,2067 1639,2061.8 1637,2057.6 1635,2053 1634.5,2051.8 1633,2055.9 1631,2061.8 1629,2067.1 1627,2072.3 1625,2076 1624.6,2077.2 1623,2078.7 1621,2077.5 1619,2079.5 1617,2079.9 1615,2080 1613,2078.7 1611,2078.8 1609,2079.9 1607,2081 1605,2081.9 1603,2082.6 1601,2081.4 1600,2083.1 1599,2086.3 1598.7,2087.4 1597,2086.5 1595,2084.7 1593,2084.1 1591,2081.4 1589,2080.1 1587,2077.4 1585,2075.2 1583,2075.1 1581,2072.9 1579,2069.9 1577,2069.6 1575,2067.9 1574.4,2065.9 1573,2066.5 1571,2065 1569,2064.6 1567,2062.6 1565,2060.2 1563,2061.2 1561,2058.2 1559,2059.2 1557,2056.6 1555,2056.8 1553,2054.7 1551,2053.2 1549,2051.8 1547,2052.6 1545,2051.4 1543,2048.5 1541,2047.4 1539,2047.9 1537.9,2047 1537,2046.3 1535,2046.5 1533,2045 1531,2045.2 1529,2045.6 1527,2045.2 1525,2043.6 1523,2043.4 1521,2042.9 1519,2044.1 1517,2042.2 1515,2042.5 1513.5,2042.5 1513,2041.9 1511,2044.9 1509,2045.4 1507,2047 1505,2048.5 1503,2050.5 1501.4,2050.6 1501,2051 1499,2052.7 1497,2051.9 1495,2052.1 1493,2051.9 1491,2050.9 1489,2050.6 1487,2052.8 1485,2051 1483,2052.4 1481,2051.8 1479,2050.8 1477,2051.9 1475,2052.1 1473,2050.2 1471,2051 1469,2049 1467,2049.1 1465,2050 1464.9,2049.4 1463,2051.4 1461,2052.8 1459,2056.1 1457,2059.8 1455,2061.2 1453,2064.5 1452.7,2064.6 1451,2065.1 1449,2065.3 1447,2065.4 1445,2066.8 1443,2067.9 1441,2069.4 1439,2069.6 1437,2071.2 1435,2071.9 1433,2070.8 1431,2073.2 1429,2073.6 1428.4,2074.5 1427,2071.4 1425,2067.7 1423,2064 1421,2059.5 1419,2056.5 1417,2052.2 1416.2,2050.6 1415,2051.8 1413,2052 1411,2051.2 1409,2051.9 1407,2051.6 1405,2051 1403,2051.9 1401,2051.3 1399.2,2052.7 1399,2052 1397,2048.6 1395,2046.4 1393,2044.9 1391,2043 1389,2039.3 1387,2037.5 1385,2035.9 1383,2032.6 1381,2031.1 1379.7,2030.7 1379,2030.3 1377,2028.5 1375,2029.2 1373,2027.9 1371,2027.4 1369,2027.8 1367,2027.4 1365,2025.7 1363,2025.9 1361,2025.6 1359,2026.5 1357,2025.1 1355,2024 1353,2025.5 1351,2024.9 1349,2024.6 1347,2022.8 1345,2023.8 1343,2021.9 1341,2021.1 1339,2021.5 1337,2021.1 1335,2021.7 1333,2021 1331,2021.1 1329,2019.2 1327,2021.2 1325,2020.8 1323,2020.1 1321,2020.5 1319,2020.5 1317,2022.4 1315,2020.9 1313,2021.8 1311,2022.7 1309,2021.5 1307,2022 1305,2022.4 1303,2023.1 1301,2022.8 1299,2023.8 1297,2022.7 1295,2023 1293,2023.8 1291,2024 1289,2025 1287,2025.2 1285,2024 1283,2025.6 1282.3,2024.1 1281,2024.9 1279,2025.6 1277,2024.9 1275,2026.2 1273,2025.6 1271,2026.2 1269,2026.7 1267,2025.6 1265,2025.6 1263,2026.3 1261,2028.1 1259,2028.1 1258,2028.2 1257,2028.9 1255,2029 1253,2029.5 1251,2031.7 1249,2032.5 1247,2035 1245.8,2034.2 1245,2033.8 1243,2033.4 1241,2029.8 1239,2028.7 1237,2027.7 1236,2026.4 1235,2027.3 1233,2026.2 1231,2026.3 1229,2024.5 1228.8,2026.2 1227,2022 1225,2018.4 1223,2015.9 1221.5,2012.8 1221,2012.2 1219,2010.5 1217,2010.1 1215,2007.9 1213,2004.7 1211,2003.9 1209.3,2002.3 1209,2000.7 1207,2003 1205,2004.4 1203,2005.5 1201,2005.9 1199,2007.7 1197.2,2009.1 1197,2007.9 1195,2010.1 1193,2011.8 1191,2012 1189,2014.1 1187,2013.2 1185,2015.6" fill="#5e3810" />
<polygon points="1185,2001.2 1187,2000.7 1189,2001.4 1191,2000 1193,2000.9 1195,2001.5 1197,2000.6 1199,2000.6 1201,1998.6 1203,1998.7 1205,1997.3 1207,1996.6 1209,1995.5 1209.3,1994.3 1211,1995.4 1213,1996.8 1215,1999.2 1217,1999.5 1219,1998.8 1221,2000.8 1223,2000.2 1225,2001.5 1227,2000.6 1229,1999.8 1231,2000.9 1233,1999.4 1233.7,1999.5 1235,2001.4 1237,2002.3 1239,2001.8 1241,2003.3 1243,2002.7 1245,2003.8 1247,2003.7 1249,2005.1 1251,2004 1253,2003.5 1255,2002.5 1257,2001 1258,2001.2 1259,2001 1261,2002.1 1263,2002.4 1265,2003.1 1267,2004.3 1269,2004.3 1271,2007 1273,2006 1275,2005.2 1277,2005.2 1279,2004.1 1281,2003.8 1282.3,2004.2 1283,2004.5 1285,2003.4 1287,2005 1289,2003 1291,2004.8 1293,2005.7 1295,2004.7 1297,2005.6 1299,2003.3 1301,2002.6 1303,2000.8 1305,2000.6 1306.7,2000.4 1307,2001.9 1309,2000.3 1311,2001.4 1313,2002.1 1315,2002.9 1317,2002.7 1319,2003.3 1321,2003.3 1323,2002.9 1325,2001 1327,2002.1 1329,2002.2 1331,2001.9 1333,2000 1335,2002.1 1337,2001 1339,2002.6 1341,2004 1343,2005.2 1345,2004.1 1347,2004.7 1349,2003.9 1351,2003.6 1353,2003.6 1355,2002.9 1355.4,2002.6 1357,2002.5 1359,2004.2 1361,2005.9 1363,2005.4 1365,2006.2 1367,2008.6 1369,2008.2 1371,2007.8 1373,2007.7 1375,2008.8 1377,2009.2 1379,2008.1 1379.7,2007.8 1381,2006.7 1383,2009 1385,2008.3 1387,2010.2 1389,2011.5 1391,2010.4 1393,2012 1395,2012.5 1397,2012 1399,2012.3 1401,2010.4 1403,2010.2 1404,2009.3 1405,2009.9 1407,2008.4 1409,2009 1411,2010 1413,2009.2 1415,2008.7 1416.2,2007.3 1417,2007.6 1419,2008.5 1421,2007.9 1423,2006.9 1425,2006 1427,2004.3 1429,2004.1 1431,2005.6 1433,2006.5 1435,2006.3 1437,2006.1 1439,2005.9 1441,2006.1 1443,2007.3 1445,2008 1447,2007.2 1449,2005 1451,2004.9 1452.7,2004.5 1453,2004.3 1455,2004.3 1457,2005.3 1459,2004.7 1461,2005.4 1463,2004.9 1465,2006.2 1467,2007.8 1469,2007.1 1471,2005.3 1473,2005.5 1475,2004.3 1477,2004.1 1479,2002.8 1481,2004.1 1483,2003.6 1485,2004.5 1487,2004.7 1489,2006.3 1491,2006.6 1493,2006.5 1495,2004.6 1497,2004.4 1499,2004.3 1501,2004.4 1501.4,2003.4 1503,2004.2 1505,2004.1 1507,2003.8 1509,2004.7 1511,2005.4 1513,2005.3 1515,2005.8 1517,2004.8 1519,2005.3 1521,2005.1 1523,2004.1 1525,2004.4 1527,2004 1529,2003.5 1531,2002.5 1533,2004.3 1535,2004.7 1537,2005.6 1539,2005.4 1541,2005.6 1543,2005.3 1545,2004.7 1547,2004.9 1549,2003.2 1550,2003.2 1551,2003.3 1553,2002.9 1555,2002.4 1557,2004.1 1559,2005 1561,2004.4 1563,2005.5 1565,2005.1 1567,2004.2 1569,2004.3 1571,2004.6 1573,2003.7 1575,2002.8 1577,2001.5 1579,2002.9 1581,2003.8 1583,2005.2 1585,2005.6 1587,2004.9 1589,2006.6 1591,2004.7 1593,2005.5 1595,2004.9 1597,2004.3 1599,2002.6 1600,2003.5 1601,2002.1 1603,2001.5 1605,2003.4 1607,2002.8 1609,2003.4 1611,2002.7 1613,2003.3 1615,2004.2 1617,2003.4 1619,2001.5 1621,2000.8 1623,1999 1624.6,1997.7 1625,1997.3 1627,1998.6 1629,1999.7 1631,2001 1633,2001.1 1635,2000.8 1637,2001.1 1639,2003.1 1641,2001.1 1643,2000.6 1645,2000.5 1647,2000 1649,1999 1651,2000.1 1653,2001.4 1655,2000.7 1657,2000.9 1659,2001 1661,2002.1 1663,2004.4 1665,2002.9 1667,2003.3 1669,2002.4 1671,2001.5 1673,2000.9 1673.9,2002.3 1675,2001.2 1677,2001.3 1679,2001.1 1681,2002.6 1683,2002.1 1685,2002.5 1687,2003.5 1689,2002.3 1691,2002.5 1693,2001.5 1695,2000.9 1697,2001.8 1699,2001.6 1701,1999.7 1703,2000.8 1705,2000.6 1707,2002.6 1709,2003.1 1711,2002.5 1713,2002.1 1715,2001.1 1717,2002.3 1719,2000.8 1721,2001.2 1723,2000.3 1725,2000.1 1727,2000.1 1729,2001 1731,2000.7 1733,2002.7 1735,2002.1 1735.4,2002.5 1737,2001.9 1739,2001.1 1741,2001.4 1743,2001.3 1745,2000.7 1747,2000.6 1749,1999.4 1751,1998.8 1753,2000.2 1755,2001.8 1757,2003.3 1759,2003.5 1761,2002.9 1763,2001.4 1765,2002.8 1767,2002 1769,2001.6 1771,2000.8 1773,1999.7 1775,2000 1777,2002.1 1779,2002.1 1781,2002.5 1783,2003.5 1785,2002.5 1787,2002.8 1789,2003.8 1791,2001.9 1793,2002.5 1795,2001.2 1797,2000 1799,2000.2 1801,2002.3 1803,2003.1 1805,2001.7 1807,2002.4 1809,2003.1 1811,2003.4 1813,2002.8 1815,2001.8 1817,2001.6 1819,2001.2 1821,1999.3 1823,1999.9 1825,2001.9 1827,2002.1 1829,2001.8 1831,2000.8 1833,2002.9 1835,2004 1837,2003.7 1839,2002.3 1841,2000.1 1843,2001.1 1845,1999.6 1847,2000.5 1849,2001.6 1851,2001.2 1853,2000.1 1855,2000.8 1857,2002.8 1858.5,2001.8 1859,2002.8 1861,2001.8 1863,2000.3 1865,2000.4 1867,1998.7 1869,1998.6 1871,1998.8 1873,1998.2 1875,1998 1877,1999.1 1879,1999.9 1881,2000.9 1883,1999.9 1885,1999.8 1887,1998.5 1888,1998.7 1889,1998.3 1891,1999.3 1893,1998.3 1895,1997.5 1897,1998.8 1899,1998 1901,1999.6 1903,2000.5 1905,2002.5 1907,2002.5 1909,2002.5 1911,2001.1 1913,2001.4 1915,2001 1917,2002 1919,2001.1 1920,1999.9 1921,1999.9 1923,2000.4 1925,2001.9 1927,2001.9 1929,2003.7 1931,2003.8 1933,2002.4 1935,2002.7 1937,2001.3 1939,2001.3 1941,2001.7 1943,1999.9 1945,2000.1 1947,1999.8 1949,2000.6 1951,2002.6 1953,2001.6 1955,2003 1957,2001.7 1959,2001.4 1961,2002.9 1963,2002.1 1965,2000.3 1967,1998.9 1969,1999.7 1969.3,1999 1971,2000.1 1973,1999.8 1975,2001.5 1977,2001.2 1979,2000.9 1981,2001.4 1983,2002 1985,2001.3 1987,2000.9 1989,1999.5 1991,1999.9 1993,1998.9 1995,1999.7 1997,1999.8 1999,2001.1 2001,2000.4 2003,2000.6 2005,2001.1 2007,2001.8 2009,2000.9 2011,1999.6 2013,1998.6 2014.8,1998.2 2014.8,2001.6 2013,2004.1 2011,2004.6 2009,2005.6 2007,2008.2 2005,2008.8 2003,2010.4 2001,2010.3 1999,2013.4 1997,2013.9 1995,2016.2 1993,2016.5 1991,2018.3 1989,2019 1987,2019.5 1985,2021.6 1983,2022.9 1981,2025.1 1979,2024.6 1977,2027.9 1975,2027.5 1973,2030.4 1971,2029.7 1969.3,2032.3 1969,2032.8 1967,2031.8 1965,2033.6 1963,2033.9 1961,2033 1959,2032.5 1957,2032.9 1955,2033.1 1953,2034.6 1951,2033.4 1949,2036 1947,2036.3 1945,2035.4 1944.7,2034.9 1943,2034.4 1941,2036.2 1939,2035 1937,2034.1 1935,2034.2 1933,2034.8 1931,2033.9 1929,2033.3 1927,2034.2 1925,2034.3 1923,2032.4 1921,2032.9 1920,2033.5 1919,2032.5 1917,2033.5 1915,2034.2 1913,2033.2 1911,2034.7 1909,2035.1 1907,2033.5 1905,2033.4 1903,2035.6 1901,2035.9 1899,2034.1 1897,2036.1 1895.4,2034.8 1895,2036.3 1893,2036.1 1891,2038.7 1889,2039 1887,2040.3 1885,2042.2 1883,2043.9 1881,2043.6 1879,2044.7 1877,2047.5 1875,2047.4 1873,2049.1 1871,2049.4 1870.8,2049.9 1869,2048.3 1867,2049.2 1865,2047.5 1863,2046.6 1861,2045.9 1859,2044.6 1857,2044.4 1855,2041.5 1853,2040.7 1851,2040.5 1849,2038.3 1847,2038.9 1846.2,2036.8 1845,2037.7 1843,2037 1841,2036 1839,2036.9 1837,2036.6 1835,2036.4 1833,2035.9 1831,2034.9 1829,2033.5 1827,2034.3 1825,2033.9 1823,2033.1 1821.6,2034.1 1821,2032.5 1819,2035.1 1817,2033.7 1815,2036.1 1813,2036.2 1811,2036.3 1809,2039 1807,2037.9 1805,2038.5 1803,2040.4 1801,2040.8 1799,2042.1 1797,2043.4 1795,2043.5 1793,2045.5 1791,2046 1789,2048.2 1787,2047.7 1785,2051.1 1784.6,2050.2 1783,2048.4 1781,2047 1779,2045.9 1777,2044 1775,2043.7 1773,2041.8 1772.3,2041.1 1771,2040.3 1769,2038.7 1767,2038.4 1765,2037.1 1763,2037.3 1761,2035.8 1759,2036.8 1757,2033.9 1755,2034.6 1753,2032.7 1751,2033.1 1749,2031.9 1747.7,2031.8 1747,2031.2 1745,2031.9 1743,2031.5 1741,2030.6 1739,2029.9 1737,2029.7 1735,2029.4 1733,2029.6 1731,2031 1729,2028.8 1727,2028.8 1725,2029.8 1723.1,2029 1723,2028.3 1721,2029.3 1719,2032 1717,2032.4 1715,2034.5 1713,2035.8 1711,2035.9 1709,2036.6 1707,2037.7 1705,2040.4 1703,2039.9 1701,2040.4 1699,2042.7 1698.5,2043.5 1697,2042.6 1695,2042.9 1693,2044.7 1691,2044.7 1689,2043.8 1687,2045 1685,2045.6 1683,2045 1681,2047.1 1679,2045.6 1677,2048.2 1675,2047.2 1673.9,2049 1673,2048.7 1671,2048.7 1669,2049.2 1667,2048.4 1665,2048.9 1663,2048.2 1661,2047.5 1659,2049.1 1657,2049.7 1655,2048.6 1653,2050 1651,2050.3 1649,2050.5 1647,2048.7 1645,2050.1 1643,2050.6 1641,2050.1 1639,2049.8 1637,2051.1 1636.9,2049.5 1635,2048.5 1633,2047.4 1631,2046 1629,2045.1 1627,2044.2 1625,2042.9 1624.6,2043.4 1623,2041.6 1621,2042.1 1619,2041.8 1617,2039.7 1615,2039.1 1613,2039.1 1611,2036.4 1609,2035.6 1607,2036.3 1605,2034.2 1603,2034.7 1601,2032.5 1600,2033.7 1599,2032.4 1597,2033.5 1595,2035.7 1593,2036.4 1591,2037.3 1589,2036.9 1587,2038.1 1585,2037.4 1583,2038.9 1581,2039.8 1579,2039.9 1577,2042 1575,2042.5 1574.4,2041.4 1573,2041.3 1571,2041.1 1569,2040.6 1567,2041 1565,2040.3 1563,2038.5 1561,2038.6 1559,2040.1 1557,2038.3 1555,2038.5 1553,2037.7 1551,2037.4 1550,2037.6 1549,2037.1 1547,2036.1 1545,2036.2 1543,2036.5 1541,2035.5 1539,2036.4 1537,2036 1535,2036 1533,2036.4 1531,2035.4 1529,2035.1 1527,2035.8 1525,2035.3 1523,2034.8 1521,2035.9 1519,2035.9 1517,2033.8 1515,2035.2 1513,2034.7 1511,2033.5 1509,2033.1 1507,2033.6 1505,2033.5 1503,2034.3 1501.4,2033.9 1501,2033.1 1499,2033.8 1497,2032.8 1495,2033.6 1493,2032.8 1491,2034.1 1489,2033.7 1487,2033 1485,2033.2 1483,2033.7 1481,2033.9 1479,2034.6 1477,2035.2 1475,2033.9 1473,2033.9 1471,2035.4 1469,2034.2 1467,2034.1 1465,2033.4 1463,2034 1461,2035 1459,2033.8 1457,2033.9 1455,2034.4 1453,2034.4 1452.7,2034.9 1451,2035.1 1449,2033.3 1447,2033.5 1445,2032.5 1443,2033.5 1441,2032.3 1439,2032.9 1437,2030.8 1435,2030.3 1433,2031.1 1431,2030 1429,2030.3 1427,2030.5 1425,2028.8 1423,2028.8 1421,2029.5 1419,2028.2 1417,2028 1416.2,2026.8 1415,2027.2 1413,2026.5 1411,2025.9 1409,2025.1 1407,2023.2 1405,2023.9 1403,2022.1 1401,2020.3 1399,2020.3 1397,2019.6 1395,2019.6 1393,2017 1391.9,2017.2 1391,2017.4 1389,2018.1 1387,2018.4 1385,2017.6 1383,2017.6 1381,2016.7 1379,2016.8 1377,2017.1 1375,2017.7 1373,2017.2 1371,2017 1369,2015.7 1367,2015.5 1365,2016 1363,2015.9 1361,2015.5 1359,2015.9 1357,2016.5 1355.4,2015.5 1355,2015.9 1353,2015.6 1351,2016.2 1349,2014.8 1347,2016.2 1345,2015.3 1343,2016.2 1341,2016.7 1339,2015.5 1337,2015.8 1335,2015.9 1333,2016.9 1331,2015.5 1329,2016.8 1327,2015.7 1325,2017.3 1323,2017.5 1321,2016.9 1319,2018.1 1317,2016.1 1315,2018.4 1313,2018.1 1311,2017.9 1309,2018.4 1307,2018.3 1306.7,2017.5 1305,2018.5 1303,2018.6 1301,2017.3 1299,2018.1 1297,2018.7 1295,2019 1293,2018.9 1291,2019.6 1289,2020 1287,2019 1285,2018.7 1283,2020.2 1281,2020.2 1279,2019.8 1277,2021.4 1275,2021.6 1273,2021 1271,2020.5 1269,2022.1 1267,2022.7 1265,2022.5 1263,2022.9 1261,2021.6 1259,2021.8 1258,2022.9 1257,2022.2 1255,2022.4 1253,2022.3 1251,2022.2 1249,2023.3 1247,2023.3 1245,2024.1 1243,2024.4 1241,2024 1239,2024.9 1237,2025.5 1235,2025.4 1233,2023.7 1231,2024.1 1229,2024.4 1228.8,2024.2 1227,2022.4 1225,2018.3 1223,2014.8 1221.5,2013.5 1221,2013.3 1219,2010.1 1217,2009.3 1215,2006.7 1213,2004.3 1211,2003.3 1209.3,2001.8 1209,2001.9 1207,2003.1 1205,2002.8 1203,2004 1201,2005.6 1199,2006.5 1197.2,2009 1197,2008.7 1195,2010.2 1193,2009.8 1191,2011.9 1189,2012 1187,2014.9 1185,2015.1" fill="#bea685" />
<polyline points="1238.5,2018.4 1241,2019.7 1243.5,2021.2 1246,2022.2 1248.5,2024 1251,2024.5 1253.5,2027.2 1256,2027.6 1258.5,2027.7 1261,2028 1263.5,2029 1266,2028.8 1268.5,2030.7 1270.2,2032.1 1271,2033.1 1273.5,2034.5 1276,2036.9 1277.5,2039.6 1278.5,2038.1 1281,2037.7 1283.5,2034.6 1286,2032.7 1288.5,2031.6 1291,2030.9 1293.5,2031.1 1294.5,2029.8 1296,2030.4 1298.5,2031.2 1301,2031.8 1303.5,2032.2 1306,2029.8 1308.5,2028.6 1311,2028.4 1313.5,2028.7 1316,2027.6 1318.5,2027.3 1321,2028.2 1323.5,2028.9 1326,2029.2 1328.5,2029.3 1331,2027.9 1333.5,2026.6 1336,2026.8 1338.5,2025.8 1341,2025.7 1343.5,2025.7 1346,2025.8 1348.5,2027.4 1351,2026 1353.5,2025.6 1356,2025.5 1358.5,2024.3 1361,2024.1 1363.5,2022.2 1366,2023 1367.5,2023.5 1368.5,2023.6 1371,2025.1 1373.5,2024.6 1376,2025.4 1378.5,2025 1381,2025 1383.5,2024.6 1386,2024.5 1388.5,2024 1391,2024.1 1391.9,2024.8 1393.5,2025.3 1396,2028.3 1398.5,2029.8 1401,2032.2 1403.5,2033.3 1406,2033.7 1408.5,2034.5 1411,2035.5 1413.5,2035.7 1416,2039 1416.2,2038.7 1418.5,2041 1421,2043 1423.5,2046.4 1426,2048.1 1428.4,2050.1 1428.5,2050.3 1431,2050.7 1433.5,2048.8 1436,2049.2 1438.5,2050.2 1440.5,2051.9 1441,2052.1 1443.5,2053.1 1446,2053.2 1448.5,2055.1 1451,2056.4 1452.7,2057.4 1453.5,2057.3 1456,2055.2 1458.5,2054.8 1461,2055.2 1463.5,2056.2 1466,2057.3 1468.5,2058.1 1471,2058.9 1472.2,2059.3 1473.5,2062 1476,2064.2 1478.5,2065.8 1481,2067.9 1483.5,2069.8 1486,2071.9 1488.5,2074.7 1489.2,2075.5 1491,2077.6 1493.5,2083.7 1496,2088.8 1496.5,2090 1498.5,2058.1 1498.9,2051 1501,2048.8 1503.5,2045.8 1506,2044.9 1508.5,2042.4 1511,2040.3 1511.1,2040.4 1513.5,2042 1516,2044.4 1518.5,2046.5 1521,2049 1523.5,2051 1525.7,2051.5 1526,2052.3 1528.5,2054.8 1531,2059.6 1533.5,2062.3 1536,2064.4 1537.9,2067.3 1538.5,2067.1 1541,2065.9 1543.5,2064.3 1546,2063.8 1548.5,2061.8 1550,2059.4 1551,2058.8 1553.5,2057.1 1556,2055.8 1558.5,2054.4 1561,2052.7 1563.5,2053.3 1564.6,2052.2 1566,2052.4 1568.5,2054.2 1571,2053.5 1573.5,2052.6 1576,2053 1578.5,2051.8 1581,2051.6 1583.5,2051.1 1586,2051 1586.6,2050.9 1588.5,2051.4 1591,2052.7 1593.5,2052.9 1596,2054.5 1598.5,2054.7 1600,2055.4 1601,2054.8 1603.5,2054.5 1606,2054.8 1608.5,2055 1611,2056.3 1613.5,2057.8 1616,2058.7 1618.5,2059.4 1621,2060.1 1623.5,2061.3 1624.6,2061.1 1626,2061.1 1628.5,2061.4 1631,2062.5 1632,2063 1633.5,2062.2 1636,2061.2 1638.5,2058.3 1641,2056.7 1641.9,2056.1 1643.5,2057.4 1646,2058.9 1648.5,2059.4 1651,2059.5 1653.5,2059.6 1656,2060.6 1658.5,2062.6 1661,2064.9 1661.5,2065 1663.5,2064.3 1666,2064.8 1668.5,2066 1671,2065.1 1673.5,2064.8 1676,2063.9 1678.5,2063.1 1681,2062.7 1683.5,2061.9 1686,2061.3 1686.2,2062.2 1688.5,2062 1691,2064 1693.5,2065.4 1696,2064.5 1698.5,2063.8 1701,2064.4 1703.5,2064.3 1706,2063.3 1708.5,2063.2 1710.8,2063.6 1711,2064.9 1713.5,2066.5 1716,2067.4 1718.5,2069.9 1721,2070.5 1723.5,2070.4 1726,2070.9 1728.5,2072 1731,2071.5 1733.5,2072.2 1735.4,2074.9 1736,2074.5 1738.5,2074.7 1741,2075.5 1743.5,2074.2 1746,2073.8 1748.5,2073.1 1751,2071.4 1753.5,2070.2 1756,2068.7 1758.5,2068.6 1760,2069.5 1761,2069.9 1763.5,2072.3 1766,2073.2 1768.5,2075.9 1771,2075.9 1772.3,2076.8 1773.5,2076 1776,2074.1 1778.5,2070.3 1781,2068.7 1783.5,2067.5 1784.6,2067.3 1786,2068.1 1788.5,2068.1 1791,2069.4 1793.5,2070 1796,2070.1 1798.5,2071.3 1801,2069.5 1803.5,2069.4 1806,2070.6 1808.5,2072.1 1809.3,2072.1 1811,2072.3 1813.5,2072.1 1816,2072.8 1818.5,2071.9 1821,2071.9 1823.5,2069.8 1826,2068.4 1828.5,2068.5 1831,2068.3 1833.5,2068.6 1833.9,2068.9 1836,2069.8 1838.5,2070.3 1841,2072.4 1843.5,2073.1 1846,2072.9 1848.5,2072.9 1851,2072.8 1853.5,2073.7 1856,2074.7 1858.5,2076.3 1861,2074.5 1863.5,2073.9 1866,2073.2 1868.5,2069.8 1871,2067.6 1873.5,2066 1876,2064 1878.2,2061.1 1878.5,2060.6 1881,2057.5 1883.5,2053.3 1886,2050.5 1888,2048 1888.5,2049.1 1891,2049.5 1893.5,2048.6 1896,2046.6 1898.5,2047.2 1901,2046.7 1903.5,2045.2 1906,2046.2 1907.7,2046.6 1908.5,2045.4 1911,2046.9 1913.5,2045.9 1916,2045.1 1918.5,2044.3 1921,2043.1 1923.5,2041.2 1926,2040.2 1928.5,2038.9 1931,2038.4 1932.4,2038.3 1933.5,2038.6 1936,2039.3 1938.5,2037.5 1941,2037.1 1943.5,2035.6 1946,2034 1948.5,2032.9 1951,2031.2 1953.5,2030 1956,2029.6 1957,2031.2 1958.5,2031.4 1961,2031.9 1963.5,2030.5 1966,2030.5 1968.5,2029.9 1971,2030.4 1973.5,2028.2 1976,2026.7 1976.7,2027.1 1978.5,2029.6 1981,2032 1983.5,2032.8 1986,2033.9 1988.5,2037 1991,2037.8 1993.5,2038.9 1993.9,2038 1996,2036.6 1998.5,2036 2001,2034.8 2003.5,2034.9 2006,2036.5 2008.5,2035.6 2011,2035.9 2013.5,2035.2 2014.8,2036.2" fill="none" stroke="#e8243a" stroke-width="5" stroke-linejoin="round" stroke-linecap="butt" stroke-dasharray="15.5,7"/>
<polyline points="1233.7,2019.4 1236.2,2018.1 1238.7,2017.5 1241.2,2017.9 1243.7,2016.7 1246.2,2018.6 1248.7,2019 1251.2,2019.3 1253.7,2020.2 1256.2,2021 1258.7,2021.9 1261.2,2020 1263.7,2019.6 1266.2,2019.1 1268.7,2019.8 1271.2,2020.8 1273.7,2021.9 1276.2,2021.7 1278.7,2022.4 1281.2,2023.5 1282.3,2024.5 1283.7,2022.5 1286.2,2022.3 1288.7,2021.4 1291.2,2021.7 1293.7,2021 1296.2,2021.5 1298.7,2021.3 1301.2,2022.1 1303.7,2023.3 1306.2,2022.7 1308.7,2020.9 1311.2,2020.1 1313.7,2021.3 1316.2,2020.2 1318.7,2019.2 1321.2,2020.4 1323.7,2020.4 1326.2,2021.6 1328.7,2022.3 1331,2020.7 1331.2,2020.7 1333.7,2020.7 1336.2,2019.2 1338.7,2019.9 1341.2,2017.8 1343.7,2018.4 1346.2,2018.9 1348.7,2020.3 1351.2,2020.9 1353.7,2020.4 1356.2,2019 1358.7,2018.5 1361.2,2018.8 1363.7,2017.9 1366.2,2015.8 1368.7,2017.4 1371.2,2017.9 1373.7,2019.1 1376.2,2018.5 1378.7,2018.6 1379.7,2017.8 1381.2,2018.7 1383.7,2019.5 1386.2,2020 1388.7,2019.6 1391.2,2020.4 1393.7,2022.5 1396.2,2023.5 1398.7,2025.2 1401.2,2025.8 1403.7,2027.9 1406.2,2029.2 1408.7,2028.5 1411.2,2029.2 1413.7,2028.3 1416.2,2028.9 1418.7,2031.3 1421.2,2031.2 1423.7,2031.1 1426.2,2032 1428.7,2032.3 1431.2,2032.4 1433.7,2031.7 1436.2,2030.8 1438.7,2030.7 1441.2,2030.8 1443.7,2031.2 1446.2,2031.3 1448.7,2031.7 1451.2,2033.3 1452.7,2033.4 1453.7,2034 1456.2,2032.7 1458.7,2032 1461.2,2031.8 1463.7,2030.1 1466.2,2030.3 1468.7,2030.5 1471.2,2030.9 1473.7,2031.8 1476.2,2032.9 1478.7,2031.8 1481.2,2031.7 1483.7,2029.4 1486.2,2030.5 1488.7,2029.1 1491.2,2030.2 1493.7,2028.8 1496.2,2030.8 1498.7,2031.4 1501.2,2032.3 1501.4,2031.6 1503.7,2029.9 1506.2,2030.3 1508.7,2029.2 1511.2,2028.4 1513.7,2028.5 1516.2,2028.3 1518.7,2028.7 1521.2,2029.4 1523.7,2030.2 1526.2,2030.8 1528.7,2029.4 1531.2,2028.4 1533.7,2028.8 1536.2,2028.5 1538.7,2027.5 1541.2,2027.5 1543.7,2028.6 1546.2,2029.6 1548.7,2029.6 1550,2029.6 1551.2,2029.6 1553.7,2028.8 1556.2,2030 1558.7,2029.7 1561.2,2028.6 1563.7,2027.5 1566.2,2029.5 1568.7,2031.1 1571.2,2031.3 1573.7,2033 1576.2,2032.8 1578.7,2032.5 1581.2,2032.8 1583.7,2031.2 1586.2,2030.5 1588.7,2031.7 1591.2,2033.5 1593.7,2034.2 1596.2,2033.5 1598.7,2035.1 1600,2035.8 1601.2,2035.8 1603.7,2036.3 1606.2,2035.9 1608.7,2034.2 1611.2,2034.3 1613.7,2036 1616.2,2037.7 1618.7,2037.3 1621.2,2038.8 1623.7,2039.9 1626.2,2039.7 1628.7,2039.6 1631.2,2039.7 1633.7,2039.3 1636.2,2038.9 1636.9,2040.2 1638.7,2039.6 1641.2,2040 1643.7,2041.1 1646.2,2041.6 1648.7,2041.5 1651.2,2041 1653.7,2040.5 1656.2,2040.2 1658.7,2039.8 1661.2,2040.3 1663.7,2040.3 1666.2,2040.5 1668.7,2040.8 1671.2,2041.4 1673.7,2041.8 1676.2,2040.9 1678.7,2040.1 1681.2,2040.3 1683.7,2039.2 1686.2,2038.8 1688.7,2040.9 1691.2,2041.7 1693.7,2044.1 1696.2,2045.6 1698.7,2047.2 1701.2,2046.1 1703.7,2046.7 1706.2,2048.4 1708.7,2048.3 1710.8,2048.4 1711.2,2049.5 1713.7,2049.9 1716.2,2051.8 1718.7,2054.7 1721.2,2055.5 1723.7,2055.2 1726.2,2054.5 1728.7,2056.1 1731.2,2056 1733.7,2055.9 1735.4,2055.7 1736.2,2056.6 1738.7,2057.9 1741.2,2058.7 1743.7,2059.9 1746.2,2060.4 1748.7,2060.3 1751.2,2060.3 1753.7,2060 1756.2,2058.2 1758.7,2058.3 1760,2058.9 1761.2,2058.5 1763.7,2060.3 1766.2,2061.7 1768.7,2062 1771.2,2062.2 1773.7,2060.8 1776.2,2061.6 1778.7,2061.4 1781.2,2060.2 1783.7,2059.6 1784.6,2059.5 1786.2,2061.2 1788.7,2061.3 1791.2,2060.6 1793.7,2059.8 1796.2,2060.4 1798.7,2059.8 1801.2,2058.6 1803.7,2057 1806.2,2055.4 1808.7,2055.3 1811.2,2055.6 1813.7,2055.3 1816.2,2055.2 1818.7,2054.7 1821.2,2055.5 1821.6,2054.8 1823.7,2054 1826.2,2053.1 1828.7,2052.4 1831.2,2052.2 1833.7,2053.2 1836.2,2052.3 1838.7,2052.5 1841.2,2053 1843.7,2053.8 1846.2,2054.5 1848.7,2050.7 1851.2,2047.8 1853.7,2046.6 1856.2,2045 1858.7,2043.8 1861.2,2041.7 1863.7,2040 1866.2,2040.4 1868.7,2039.4 1870.8,2036.7 1871.2,2037 1873.7,2038.4 1876.2,2039.9 1878.7,2041.7 1881.2,2042 1883.1,2043.9 1883.7,2043.9 1886.2,2043.1 1888.7,2044.4 1891.2,2043.8 1893.7,2044.5 1896.2,2042 1898.7,2040.6 1901.2,2039.4 1903.7,2039.1 1906.2,2037 1907.7,2037.1 1908.7,2037.6 1911.2,2038.9 1913.7,2041.2 1916.2,2041.7 1918.7,2041.7 1921.2,2042.3 1923.7,2042.3 1926.2,2042.4 1928.7,2042.7 1931.2,2042.6 1933.7,2043.4 1936.2,2046.4 1938.7,2047.2 1941.2,2048.7 1943.7,2048.2 1944.7,2049 1946.2,2047.3 1948.7,2046.2 1951.2,2045.2 1953.7,2043.7 1956.2,2043.1 1958.7,2042.9 1961.2,2041.9 1963.7,2041.6 1966.2,2040.3 1968.7,2039.9 1969.3,2040.6 1971.2,2039.9 1973.7,2040.5 1976.2,2039.9 1978.7,2039 1981.2,2041.2 1983.7,2041.5 1986.2,2042.4 1988.7,2043.6 1991.2,2044 1993.7,2045.8 1993.9,2044.9 1996.2,2045.3 1998.7,2045.3 2001.2,2043.6 2003.7,2045.3 2006.2,2045.2 2008.7,2046.9 2011.2,2047.5 2013.7,2049 2014.8,2048.6" fill="none" stroke="#ef8a3a" stroke-width="5" stroke-linejoin="round" stroke-linecap="butt" stroke-dasharray="15.5,7"/>
<polyline points="1233.7,2016.6 1236.2,2014.2 1238.7,2015.1 1241.2,2016.9 1243.7,2016.2 1246.2,2017.1 1248.7,2017.7 1251.2,2017.5 1253.7,2017.9 1256.2,2017.5 1258.7,2016.2 1261.2,2016.3 1263.7,2015.8 1266.2,2016.7 1268.7,2016.6 1271.2,2017.6 1273.7,2019.1 1276.2,2019 1278.7,2018.7 1281.2,2017.2 1282.3,2017.5 1283.7,2016.1 1286.2,2016.2 1288.7,2016.9 1291.2,2016.9 1293.7,2016.4 1296.2,2016.3 1298.7,2017.3 1301.2,2016.8 1303.7,2015.7 1306.2,2015.7 1308.7,2014.4 1311.2,2015.1 1313.7,2014.9 1316.2,2013.5 1318.7,2014.4 1321.2,2015.4 1323.7,2015.1 1326.2,2014.7 1328.7,2014.4 1331.2,2012.7 1333.7,2013.1 1336.2,2011.4 1338.7,2011.9 1341.2,2012.8 1343.7,2012.6 1346.2,2013 1348.7,2013 1351.2,2012.4 1353.7,2011 1355.4,2010.9 1356.2,2011.8 1358.7,2012.4 1361.2,2011.3 1363.7,2012.4 1366.2,2014.7 1368.7,2015.6 1371.2,2017.4 1373.7,2017.2 1376.2,2018 1378.7,2019.2 1381.2,2017.9 1383.7,2018.1 1386.2,2018.4 1388.7,2019.4 1391.2,2021.5 1393.7,2023.9 1396.2,2024.6 1398.7,2023.8 1401.2,2025.3 1403.7,2026.1 1404,2024.9 1406.2,2024.3 1408.7,2022.2 1411.2,2022.9 1413.7,2024.4 1416.2,2024.7 1418.7,2024.8 1421.2,2023.9 1423.7,2024.3 1426.2,2024.7 1428.7,2023.2 1431.2,2021.8 1433.7,2021.1 1436.2,2022.7 1438.7,2022.5 1441.2,2021.5 1443.7,2022.8 1446.2,2022.6 1448.7,2022.6 1451.2,2021.4 1452.7,2021.1 1453.7,2020.6 1456.2,2019.6 1458.7,2020.4 1461.2,2020.3 1463.7,2021.6 1466.2,2020.5 1468.7,2022.3 1471.2,2023.2 1473.7,2022.2 1476.2,2021.6 1478.7,2020.2 1481.2,2020.8 1483.7,2020.4 1486.2,2020.4 1488.7,2021.6 1491.2,2021.3 1493.7,2022.3 1496.2,2023.4 1498.7,2021.7 1501.2,2021.2 1501.4,2020.4 1503.7,2021.2 1506.2,2020.2 1508.7,2019.6 1511.2,2021.2 1513.7,2020.4 1516.2,2022.7 1518.7,2023.8 1521.2,2022.8 1523.7,2020.7 1526.2,2020.3 1528.7,2020.5 1531.2,2020.1 1533.7,2020 1536.2,2021 1538.7,2021.2 1541.2,2022 1543.7,2023.1 1546.2,2021.5 1548.7,2020.8 1550,2021.5 1551.2,2021.7 1553.7,2020.2 1556.2,2019.5 1558.7,2019.9 1561.2,2021 1563.7,2021.6 1566.2,2023 1568.7,2021.8 1571.2,2022 1573.7,2021.9 1576.2,2021.8 1578.7,2020.1 1581.2,2018.3 1583.7,2019 1586.2,2021 1588.7,2021 1591.2,2021.8 1593.7,2021.1 1596.2,2021.9 1598.7,2020.9 1600,2020.2 1601.2,2019.9 1603.7,2019.2 1606.2,2019 1608.7,2019.6 1611.2,2019.9 1613.7,2020.4 1616.2,2021.2 1618.7,2020.8 1621.2,2021.2 1623.7,2019.1 1624.6,2020.3 1626.2,2019.9 1628.7,2019.4 1631.2,2020.3 1633.7,2021.7 1636.2,2023.1 1638.7,2022.5 1641.2,2024.6 1643.7,2025.5 1646.2,2025.3 1648.7,2025.7 1649.2,2025.6 1651.2,2024.5 1653.7,2025.7 1656.2,2026.3 1658.7,2027.2 1661.2,2028 1663.7,2028.1 1666.2,2030.5 1668.7,2030.6 1671.2,2031 1673.7,2029.5 1673.9,2030.4 1676.2,2030.4 1678.7,2030.7 1681.2,2031.9 1683.7,2031.1 1686.2,2032.9 1688.7,2034.6 1691.2,2036.2 1693.7,2035.4 1696.2,2034.2 1698.7,2034.4 1701.2,2035.5 1703.7,2034.7 1706.2,2035.2 1708.7,2036.5 1710.8,2038 1711.2,2038.3 1713.7,2038.8 1716.2,2040.5 1718.7,2038.6 1721.2,2038.7 1723.7,2037.5 1726.2,2038.7 1728.7,2037.4 1731.2,2038.4 1733.7,2039.5 1736.2,2040.6 1738.7,2040.2 1741.2,2040.4 1743.7,2039.4 1746.2,2040.3 1748.7,2039.2 1751.2,2038.4 1753.7,2037.8 1756.2,2038.7 1758.7,2041.2 1761.2,2042.1 1763.7,2041.4 1766.2,2041.8 1768.7,2041.2 1771.2,2041.3 1773.7,2040.5 1776.2,2040 1778.7,2039.6 1781.2,2040.7 1783.7,2042 1784.6,2041.7 1786.2,2042 1788.7,2042.6 1791.2,2040.9 1793.7,2040.7 1796.2,2041.1 1798.7,2038.7 1801.2,2038.1 1803.7,2039.5 1806.2,2039.6 1808.7,2039 1811.2,2038.6 1813.7,2039.2 1816.2,2039.1 1818.7,2039.3 1821.2,2038.4 1823.7,2037 1826.2,2036.7 1828.7,2037.5 1831.2,2037.5 1833.7,2037.4 1836.2,2037.7 1838.7,2037 1841.2,2036.8 1843.7,2035.5 1846.2,2034.8 1848.7,2034 1851.2,2033.7 1853.7,2034.8 1856.2,2033.9 1858.5,2033.7 1858.7,2033.9 1861.2,2035.4 1863.7,2036.4 1866.2,2035.5 1868.7,2034.2 1871.2,2033.3 1873.7,2033.7 1876.2,2033.7 1878.7,2033.7 1881.2,2034.7 1883.7,2035.3 1886.2,2037.5 1888.7,2037.3 1891.2,2035.3 1893.7,2035.3 1896.2,2034.9 1898.7,2034.8 1901.2,2034.9 1903.7,2035.4 1906.2,2036.6 1908.7,2037.7 1911.2,2037.7 1913.7,2037.5 1916.2,2036.3 1918.7,2035.7 1920,2036.6 1921.2,2036.4 1923.7,2036.3 1926.2,2035.5 1928.7,2037.2 1931.2,2038 1933.7,2038.3 1936.2,2039.6 1938.7,2038.2 1941.2,2038.5 1943.7,2037.9 1946.2,2037.3 1948.7,2038 1951.2,2037.2 1953.7,2038.5 1956.2,2039.5 1958.7,2039.8 1961.2,2041.1 1963.7,2041.2 1966.2,2040.8 1968.7,2040.2 1969.3,2040.8 1971.2,2038.9 1973.7,2037.1 1976.2,2038 1978.7,2037.6 1981.2,2037 1983.7,2036.4 1986.2,2036 1988.7,2034.9 1991.2,2034.5 1993.7,2033.3 1996.2,2031.2 1998.7,2029.7 2001.2,2031 2003.7,2029.7 2006.2,2029.7 2008.7,2030 2011.2,2029.4 2013.7,2028.8 2014.8,2027.9" fill="none" stroke="#9a7550" stroke-width="5" stroke-linejoin="round" stroke-linecap="butt" stroke-dasharray="15.5,7"/>
<polyline points="1185,2004.2 1187.5,2003.8 1190,2003.6 1192.5,2003.8 1195,2003.5 1197.5,2003.9 1200,2002.4 1202.5,2001 1205,2001.4 1207.5,2000.4 1209.3,1997.7 1210,1998.9 1212.5,1999.1 1215,2000.5 1217.5,2002.4 1220,2004.5 1222.5,2005 1225,2005.9 1227.5,2006.6 1230,2006.4 1232.5,2007.3 1233.7,2007.5 1235,2007 1237.5,2007.1 1240,2007.6 1242.5,2008.5 1245,2009 1247.5,2010.8 1250,2009.9 1252.5,2010 1255,2010.2 1257.5,2008 1260,2007.8 1262.5,2009.2 1265,2009.8 1267.5,2011 1270,2011.9 1272.5,2012 1275,2012.2 1277.5,2011.8 1280,2009.8 1282.3,2009.7 1282.5,2010.2 1285,2009.8 1287.5,2010.7 1290,2011.3 1292.5,2010.1 1295,2011.5 1297.5,2012.1 1300,2011.5 1302.5,2008.9 1305,2008.4 1307.5,2006.7 1310,2007.1 1312.5,2008.5 1315,2008.5 1317.5,2008.2 1320,2009.5 1322.5,2009.4 1325,2007.8 1327.5,2006.6 1330,2005.2 1331,2005 1332.5,2005.6 1335,2005.6 1337.5,2006.8 1340,2007.9 1342.5,2009.5 1345,2010.6 1347.5,2010 1350,2009.1 1352.5,2008.1 1355,2009.5 1357.5,2008.7 1360,2008.8 1362.5,2009.1 1365,2011 1367.5,2012.7 1370,2013.2 1372.5,2013.2 1375,2012.5 1377.5,2012 1379.7,2012.5 1380,2013.1 1382.5,2011.8 1385,2012.5 1387.5,2012.8 1390,2015 1392.5,2016 1395,2016.2 1397.5,2015.8 1400,2016.3 1402.5,2016.4 1404,2016.1 1405,2015 1407.5,2014.3 1410,2015.7 1412.5,2015.8 1415,2015.9 1417.5,2015.8 1420,2016.3 1422.5,2015.1 1425,2014.8 1427.5,2013.8 1430,2012.8 1432.5,2013.1 1435,2013.5 1437.5,2014.4 1440,2014.5 1442.5,2014.6 1445,2014.6 1447.5,2014.8 1450,2014.1 1452.5,2012 1452.7,2011.4 1455,2010.7 1457.5,2011.8 1460,2011.9 1462.5,2012.5 1465,2013.2 1467.5,2014.1 1470,2014.4 1472.5,2013.7 1475,2012.5 1477.5,2010.5 1480,2010.5 1482.5,2011.9 1485,2011.7 1487.5,2012.4 1490,2012.8 1492.5,2014.6 1495,2012.9 1497.5,2012.9 1500,2011.1 1501.4,2011 1502.5,2010.9 1505,2009.6 1507.5,2011.1 1510,2010.3 1512.5,2011.4 1515,2013.1 1517.5,2013 1520,2012.1 1522.5,2010.2 1525,2009.7 1527.5,2009.6 1530,2009.2 1532.5,2010.7 1535,2010.8 1537.5,2011 1540,2012.6 1542.5,2012.6 1545,2011 1547.5,2010 1550,2010.2 1552.5,2009.8 1555,2008.8 1557.5,2009 1560,2010.2 1562.5,2011.3 1565,2011.3 1567.5,2011.3 1570,2010.8 1572.5,2010.6 1575,2010 1577.5,2008.2 1580,2008.2 1582.5,2008.3 1585,2009.4 1587.5,2010.6 1590,2011.1 1592.5,2010.9 1595,2010.2 1597.5,2009.6 1600,2009.4 1602.5,2007.6 1605,2007.9 1607.5,2008.8 1610,2010.3 1612.5,2010.5 1615,2011.3 1617.5,2010.5 1620,2010.4 1622.5,2009.7 1625,2008.2 1627.5,2007.2 1630,2008.7 1632.5,2010.3 1635,2010.2 1637.5,2010.9 1640,2011.9 1642.5,2011.8 1645,2010.9 1647.5,2008.3 1650,2008.1 1652.5,2008 1655,2008.3 1657.5,2009.6 1660,2009.6 1662.5,2010.9 1665,2011.7 1667.5,2010.8 1670,2009.4 1672.5,2007.9 1675,2007.1 1677.5,2008.8 1680,2010 1682.5,2009 1685,2010.2 1687.5,2011.7 1690,2011 1692.5,2010.7 1695,2009.1 1697.5,2009.2 1698.5,2009 1700,2007.7 1702.5,2008.7 1705,2010.1 1707.5,2010 1710,2011 1712.5,2012.9 1715,2012.7 1717.5,2012 1720,2010.4 1722.5,2010 1725,2011 1727.5,2010.2 1730,2011.3 1732.5,2012.7 1735,2013.3 1737.5,2014.5 1740,2013.1 1742.5,2012.3 1745,2012.9 1747.5,2013.4 1747.7,2013.6 1750,2011.2 1752.5,2012.6 1755,2012.4 1757.5,2013.4 1760,2014.4 1762.5,2014.7 1765,2013.1 1767.5,2012.3 1770,2013.3 1772.5,2012.2 1775,2010.9 1777.5,2011.4 1780,2013.1 1782.5,2013.1 1785,2014.5 1787.5,2014.1 1790,2012.6 1792.5,2012.8 1795,2011.9 1797,2010.3 1797.5,2010.4 1800,2009.8 1802.5,2012.9 1805,2013.7 1807.5,2015.6 1810,2016.1 1812.5,2017.1 1815,2017.2 1817.5,2016.6 1820,2015.7 1822.5,2014.1 1825,2015.1 1827.5,2017.6 1830,2020.1 1832.5,2019.2 1833.9,2019.8 1835,2020.9 1837.5,2020.6 1840,2020 1842.5,2019.9 1845,2016.9 1847.5,2017 1850,2017.8 1852.5,2018.6 1855,2018.5 1857.5,2018.6 1860,2020 1862.5,2020.5 1865,2019.1 1867.5,2018.1 1870,2017.4 1870.8,2016.2 1872.5,2017.3 1875,2017.7 1877.5,2017.7 1880,2017.9 1882.5,2019.3 1885,2019.5 1887.5,2018.3 1890,2018.5 1892.5,2016.2 1895,2016 1897.5,2017 1900,2016.6 1902.5,2016.6 1905,2017.7 1907.5,2019.2 1910,2018.7 1912.5,2018.5 1915,2017 1917.5,2016.6 1920,2016.3 1922.5,2015.3 1925,2015.7 1927.5,2017.2 1930,2018.6 1932.5,2018.8 1935,2019.5 1937.5,2018.1 1940,2017.8 1942.5,2017.6 1945,2016.7 1947.5,2016.6 1950,2018.1 1952.5,2018.2 1955,2020.8 1957.5,2021 1960,2019.3 1962.5,2019.8 1965,2018.6 1967.5,2019.5 1969.3,2017.8 1970,2018.3 1972.5,2018.2 1975,2019.1 1977.5,2021.4 1980,2023 1982.5,2022.1 1985,2021.5 1987.5,2021.7 1990,2022.5 1992.5,2020.5 1995,2019.2 1997.5,2021.1 2000,2023 2002.5,2023.9 2005,2024.5 2007.5,2024.2 2010,2024.1 2012.5,2024.2 2014.8,2023.6" fill="none" stroke="#55544f" stroke-width="5" stroke-linejoin="round" stroke-linecap="butt" stroke-dasharray="15.5,7"/>
<line x1="2060.1" y1="2006.7" x2="2060.1" y2="2052.9" stroke="#5a5a5a" stroke-width="2"/>
<line x1="2054.4" y1="2006.7" x2="2065.7" y2="2006.7" stroke="#5a5a5a" stroke-width="2"/>
<line x1="2054.4" y1="2052.9" x2="2065.7" y2="2052.9" stroke="#5a5a5a" stroke-width="2"/>
<rect x="2049.2" y="2009.6" width="21.7" height="26.5" fill="#bea685" stroke="#5a5a5a" stroke-width="2"/>
<line x1="2049.2" y1="2024.9" x2="2070.9" y2="2024.9" stroke="#555555" stroke-width="2"/>
<line x1="2087.1" y1="1997.7" x2="2087.1" y2="2083" stroke="#5a5a5a" stroke-width="2"/>
<line x1="2081.4" y1="1997.7" x2="2092.7" y2="1997.7" stroke="#5a5a5a" stroke-width="2"/>
<line x1="2081.4" y1="2083" x2="2092.7" y2="2083" stroke="#5a5a5a" stroke-width="2"/>
<rect x="2076.1" y="2010.8" width="21.9" height="29.8" fill="#5e3810" stroke="#5a5a5a" stroke-width="2"/>
<line x1="2076.1" y1="2023" x2="2098" y2="2023" stroke="#555555" stroke-width="2"/>
<line x1="2114" y1="2017.5" x2="2114" y2="2095.1" stroke="#5a5a5a" stroke-width="2"/>
<line x1="2108.3" y1="2017.5" x2="2119.7" y2="2017.5" stroke="#5a5a5a" stroke-width="2"/>
<line x1="2108.3" y1="2095.1" x2="2119.7" y2="2095.1" stroke="#5a5a5a" stroke-width="2"/>
<rect x="2103.2" y="2038" width="21.6" height="29.5" fill="#e8975a" stroke="#5a5a5a" stroke-width="2"/>
<line x1="2103.2" y1="2050.3" x2="2124.8" y2="2050.3" stroke="#555555" stroke-width="2"/>
<line x1="2140.8" y1="2008.5" x2="2140.8" y2="2073.4" stroke="#5a5a5a" stroke-width="2"/>
<line x1="2135.2" y1="2008.5" x2="2146.5" y2="2008.5" stroke="#5a5a5a" stroke-width="2"/>
<line x1="2135.2" y1="2073.4" x2="2146.5" y2="2073.4" stroke="#5a5a5a" stroke-width="2"/>
<rect x="2130" y="2010.8" width="21.6" height="31.2" fill="#e95c48" stroke="#5a5a5a" stroke-width="2"/>
<line x1="2130" y1="2031" x2="2151.6" y2="2031" stroke="#555555" stroke-width="2"/>
<rect x="1185.2" y="1969.2" width="845.1" height="489.1" fill="none" stroke="#3c3c3c" stroke-width="1.7"/>
<line x1="1174.2" y1="2001.4" x2="1185.2" y2="2001.4" stroke="#3c3c3c" stroke-width="1.6"/>
<text x="1160.7" y="2009.9" font-size="24" fill="#231f20" text-anchor="end" font-weight="normal" >0</text>
<line x1="1174.2" y1="2074.1" x2="1185.2" y2="2074.1" stroke="#3c3c3c" stroke-width="1.6"/>
<text x="1160.7" y="2082.6" font-size="24" fill="#231f20" text-anchor="end" font-weight="normal" >−2</text>
<line x1="1174.2" y1="2146.7" x2="1185.2" y2="2146.7" stroke="#3c3c3c" stroke-width="1.6"/>
<text x="1160.7" y="2155.2" font-size="24" fill="#231f20" text-anchor="end" font-weight="normal" >−4</text>
<line x1="1174.2" y1="2219.4" x2="1185.2" y2="2219.4" stroke="#3c3c3c" stroke-width="1.6"/>
<text x="1160.7" y="2227.9" font-size="24" fill="#231f20" text-anchor="end" font-weight="normal" >−6</text>
<line x1="1174.2" y1="2292" x2="1185.2" y2="2292" stroke="#3c3c3c" stroke-width="1.6"/>
<text x="1160.7" y="2300.5" font-size="24" fill="#231f20" text-anchor="end" font-weight="normal" >−8</text>
<line x1="1174.2" y1="2364.7" x2="1185.2" y2="2364.7" stroke="#3c3c3c" stroke-width="1.6"/>
<text x="1160.7" y="2373.2" font-size="24" fill="#231f20" text-anchor="end" font-weight="normal" >−10</text>
<line x1="1174.2" y1="2437.4" x2="1185.2" y2="2437.4" stroke="#3c3c3c" stroke-width="1.6"/>
<text x="1160.7" y="2445.9" font-size="24" fill="#231f20" text-anchor="end" font-weight="normal" >−12</text>
<line x1="1205.5" y1="2458.3" x2="1205.5" y2="2469.3" stroke="#3c3c3c" stroke-width="1.6"/>
<text x="1205.5" y="2498.8" font-size="24" fill="#231f20" text-anchor="middle" font-weight="normal" textLength="60" lengthAdjust="spacingAndGlyphs">2000</text>
<line x1="1370.5" y1="2458.3" x2="1370.5" y2="2469.3" stroke="#3c3c3c" stroke-width="1.6"/>
<text x="1370.5" y="2498.8" font-size="24" fill="#231f20" text-anchor="middle" font-weight="normal" textLength="60" lengthAdjust="spacingAndGlyphs">2200</text>
<line x1="1535.5" y1="2458.3" x2="1535.5" y2="2469.3" stroke="#3c3c3c" stroke-width="1.6"/>
<text x="1535.5" y="2498.8" font-size="24" fill="#231f20" text-anchor="middle" font-weight="normal" textLength="60" lengthAdjust="spacingAndGlyphs">2400</text>
<line x1="1700.5" y1="2458.3" x2="1700.5" y2="2469.3" stroke="#3c3c3c" stroke-width="1.6"/>
<text x="1700.5" y="2498.8" font-size="24" fill="#231f20" text-anchor="middle" font-weight="normal" textLength="60" lengthAdjust="spacingAndGlyphs">2600</text>
<line x1="1865.5" y1="2458.3" x2="1865.5" y2="2469.3" stroke="#3c3c3c" stroke-width="1.6"/>
<text x="1865.5" y="2498.8" font-size="24" fill="#231f20" text-anchor="middle" font-weight="normal" textLength="60" lengthAdjust="spacingAndGlyphs">2800</text>
<line x1="2030.5" y1="2458.3" x2="2030.5" y2="2469.3" stroke="#3c3c3c" stroke-width="1.6"/>
<text x="2030.5" y="2498.8" font-size="24" fill="#231f20" text-anchor="middle" font-weight="normal" textLength="60" lengthAdjust="spacingAndGlyphs">3000</text>
<text x="1607.8" y="2537.3" font-size="27.5" fill="#231f20" text-anchor="middle" font-weight="normal" textLength="54" lengthAdjust="spacingAndGlyphs">Year</text>
<text x="0" y="0" font-size="28" fill="#231f20" text-anchor="middle" transform="translate(1110,2208) rotate(-90)" textLength="442" lengthAdjust="spacingAndGlyphs">Antarctic mass balance (10<tspan dy="-10" font-size="19">3</tspan><tspan dy="10"> Gt yr</tspan><tspan dy="-10" font-size="19">−1</tspan><tspan dy="10">)</tspan></text>
<text x="1077" y="1969.5" font-size="40" fill="#231f20" text-anchor="start" font-weight="bold" >h</text>
</svg></body></html>
